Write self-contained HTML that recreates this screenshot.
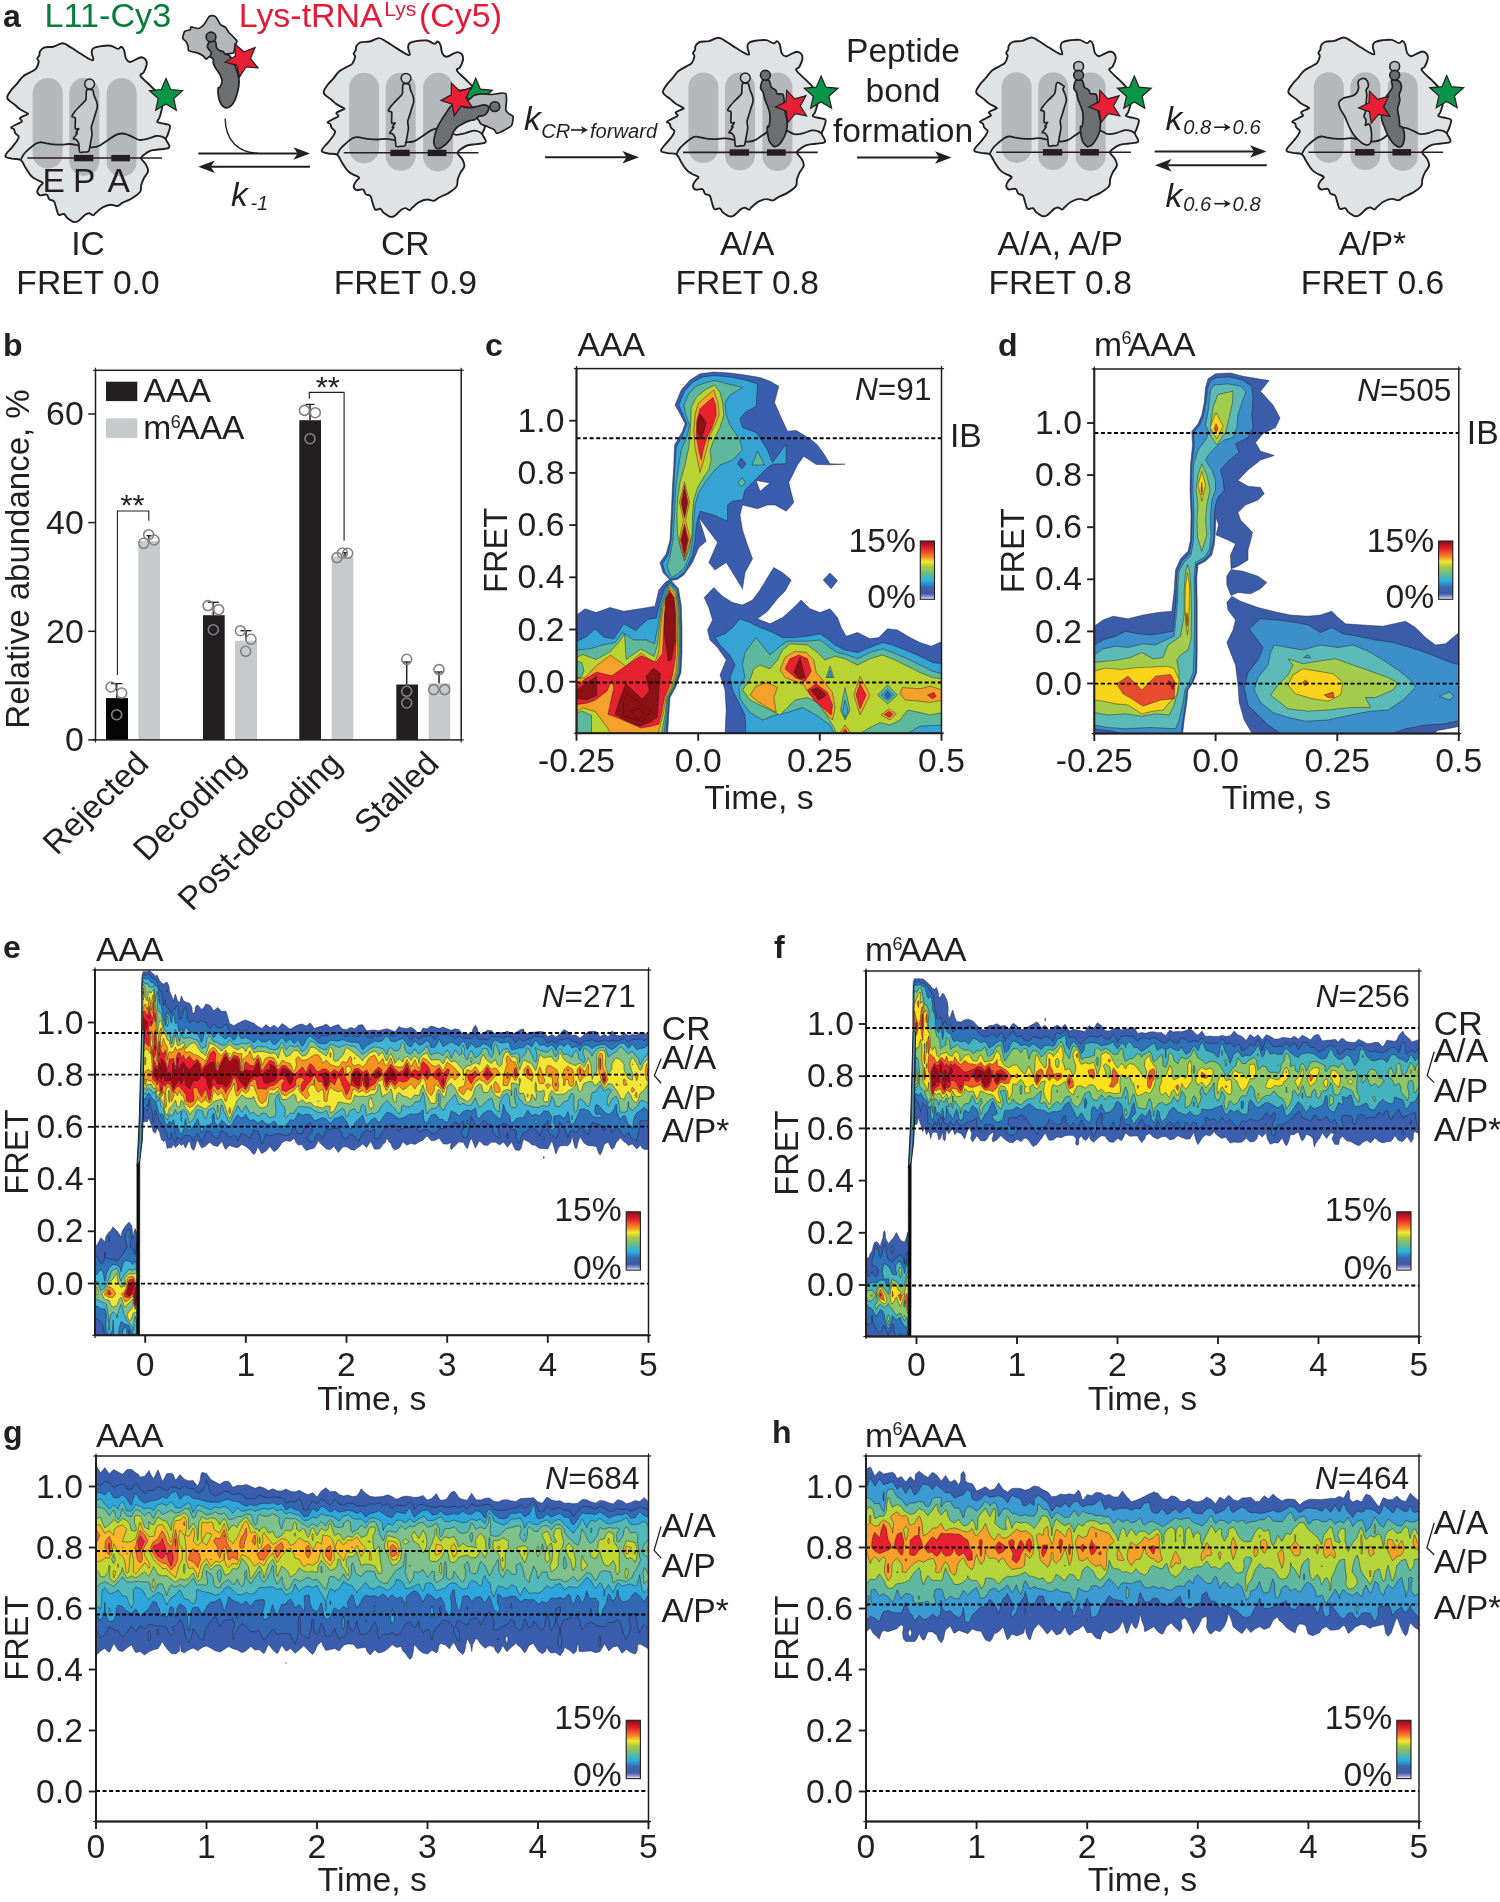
<!DOCTYPE html>
<html lang="en"><head><meta charset="utf-8"><title>Figure</title>
<style>html,body{margin:0;padding:0;background:#fff}svg{display:block;will-change:transform}</style></head>
<body>
<svg width="1500" height="1902" viewBox="0 0 1500 1902" font-family='"Liberation Sans", Arial, Helvetica, sans-serif' fill="#231F20">
<defs><g id="rib">
<path d="M39.3 55.3C39.8 54 39.1 52.8 40 51.3C40.9 49.9 41.6 48.5 44 47.6C46.4 46.7 49.9 47.4 53.3 46.7C56.8 45.9 59.5 43.2 62.7 43.3C65.8 43.5 67.5 45.5 70.7 47.3C73.8 49.2 76.8 51.3 80 53.3C83.2 55.3 85.6 57 88 58.3C90.4 59.5 92.6 61 93.3 60C94 59 91.7 54.8 91.7 52.7C91.7 50.5 91.6 49.5 93.3 48.3C95.1 47.1 98.2 46.6 101.3 46.1C104.5 45.7 107.6 45.2 110.7 45.7C113.7 46.2 116 48.8 118 48.9C120 49.1 120.2 46.5 121.3 46.7C122.4 46.9 123.1 47.8 124 50C124.9 52.2 124.9 56.5 126 58.7C127.1 60.9 128.4 61.8 130 62C131.6 62.2 132.6 60.9 134.7 60C136.7 59.1 139.3 57.4 141.3 57.3C143.3 57.3 144.6 58.3 145.6 59.6C146.6 60.9 147 62.3 146.7 64.7C146.3 67 144.8 70.3 143.7 72.4C142.6 74.5 139.4 73.5 140.7 76C141.9 78.5 147.5 82.7 150.7 86C153.8 89.3 155.9 90.6 158 94C160.1 97.4 161.4 101.5 162 104.7C162.6 107.8 161.8 108.9 161.3 111.3C160.8 113.8 160.1 116 159.3 118C158.6 120 156.2 120.9 157.3 122C158.4 123.1 163 123.3 165.3 124C167.7 124.7 169.6 124 170 126C170.4 128 168.5 132.2 167.7 134.7C167 137.1 165.7 137 166 139.3C166.3 141.7 170.4 145.5 169.3 147.3C168.2 149.2 163.4 148.7 160 149.3C156.6 149.9 153.7 149.6 150.7 150.7C147.6 151.8 145 153.9 143.3 155.3C141.6 156.8 140.8 157 141.3 158.7C141.8 160.4 144.8 162.3 146 164.7C147.2 167 148.4 168.9 148 171.3C147.6 173.8 145.2 175.6 144 178C142.8 180.4 142.1 182.1 141.3 184.7C140.6 187.2 141.8 189.4 140 192C138.2 194.6 134.5 196.7 131.3 198.7C128.2 200.6 125.2 201.3 122.7 202.7C120.1 204 119.5 205.6 117.3 206C115.1 206.4 113.4 204.4 110.7 204.7C108 204.9 105.4 205.9 102.7 207.3C100 208.8 97.7 211.2 96 212.7C94.3 214.1 94.6 215.2 93.3 215.3C92.1 215.5 90.8 213.5 89.3 213.3C87.9 213.2 87.3 213.3 85.3 214.7C83.4 216 80.7 219.3 78.7 220.7C76.6 222 76.1 222.5 74 222C71.9 221.5 69.2 219.5 67.3 218C65.5 216.5 65.6 214.6 64 214C62.4 213.4 60.1 215.9 58.7 214.7C57.2 213.4 56.9 209.8 56 207.3C55.1 204.9 55.2 202.8 54 201.3C52.8 199.9 50.7 200.6 49.3 199.3C48 198.1 48.4 195.4 46.7 194.7C45 193.9 41.7 195.9 40 195.3C38.3 194.7 37.3 193 37.3 191.3C37.3 189.6 39 187.6 40 186C41 184.4 43.4 183.9 42.7 182.7C41.9 181.4 38.2 180.7 36 179.3C33.8 178 32.6 177.5 30.7 175.3C28.7 173.1 27.2 170.1 25.3 167.3C23.5 164.5 23.1 161.6 20.7 160C18.2 158.4 14.8 159.4 12 158.7C9.2 157.9 5.3 158.1 5.3 156C5.3 153.9 9.9 150 12 147.3C14.1 144.6 15.4 143.3 16.7 141.3C17.9 139.4 18.9 138.1 18.7 136.7C18.4 135.2 16.2 134.7 15.3 133.3C14.5 132 14.7 130.4 14 129.3C13.3 128.2 10.7 128.3 11.3 127.3C11.9 126.4 15.4 125.1 17.3 124C19.3 122.9 21.5 122.4 22 121.3C22.5 120.2 19.1 119.2 20 118C20.9 116.8 25.3 115.5 26.7 114.7C28 113.8 28.6 114.3 27.3 113.3C26.1 112.4 22.3 110.9 20 109.3C17.7 107.7 17 106.7 14.7 104.7C12.3 102.6 7.9 100.7 7.3 98C6.7 95.3 9.5 92.7 11.3 90C13.2 87.3 15.3 85.8 17.3 83.3C19.4 80.9 20.2 78.7 22.7 76.7C25.1 74.6 28.2 73.5 30.7 72C33.1 70.5 34.5 70.5 36 68.7C37.5 66.8 38.4 63.8 38.7 62C38.9 60.2 37.2 59.9 37.3 58.7C37.5 57.4 38.8 56.7 39.3 55.3Z" fill="#E0E3E4" stroke="#231F20" stroke-width="1.9" stroke-linejoin="round"/>
<rect x="32.7" y="78" width="30" height="90.7" rx="15" fill="#B4B8BA"/>
<rect x="69.3" y="78" width="30" height="98" rx="15" fill="#B4B8BA"/>
<rect x="106.7" y="78" width="30" height="98.7" rx="15" fill="#B4B8BA"/>
<path d="M20.7 160C21.3 158.8 22.4 156.1 24 154C25.6 151.9 26.4 151.3 28.7 149.3C30.9 147.3 33.1 145.4 35.3 144C37.6 142.6 38 142.5 40 142.3C42 142.1 42.7 142.6 45.3 143.1C48 143.5 50.1 144.1 53.3 144.4C56.5 144.7 58.1 144.7 61.3 144.7C64.5 144.6 66.4 143.9 69.3 144C72.3 144.1 73.1 144.3 76 144.9C78.9 145.5 80.8 146.6 84 147.1C87.2 147.5 89.1 147.5 92 147.3C94.9 147.1 95.7 147.3 98.7 146C101.6 144.7 103.5 143 106.7 140.9C109.9 138.9 111.7 137.1 114.7 135.6C117.6 134.1 118.7 133.6 121.3 133.5C124 133.3 125.3 133.9 128 134.8C130.7 135.7 132.3 137 134.7 138C137.1 139 137.3 139.9 140 140C142.7 140.1 144.8 139.5 148 138.7C151.2 137.9 153.2 136.4 156 136C158.8 135.6 160 136 162 136.7C164 137.3 165.2 138.8 166 139.3" fill="none" stroke="#231F20" stroke-width="1.8"/>
<line x1="27.3" y1="158" x2="162" y2="158" stroke="#231F20" stroke-width="1.6"/>
<rect x="74" y="154.9" width="19.3" height="6.4" fill="#231F20"/>
<rect x="111.3" y="154.9" width="18.7" height="6.4" fill="#231F20"/>
</g>
<g id="ptrna">
<path d="M79.7 152C79.1 151 79.1 144.8 78.7 143.3C78.2 141.9 76.6 139.9 76 139.3C75.4 138.8 73.2 139.4 73.3 138.7C73.5 138 77 134 77.3 133.3C77.6 132.6 75.8 133.2 76 132.7C76.2 132.1 78.7 129.1 78.7 128.7C78.6 128.2 75.7 129.9 75.3 128.7C74.9 127.4 75.7 119.4 75.3 118C74.9 116.6 72.2 117.3 72 116.7C71.8 116 73.2 113.8 74 112.7C74.8 111.6 77.6 108.5 78.7 107.3C79.8 106.2 82.5 103.6 83.3 102.7C84.2 101.7 85.6 100.8 86 99.3C86.4 97.9 85.9 91.1 86.7 90C87.4 88.9 91.8 89.4 92.7 90C93.5 90.6 93.5 93.9 94 95.3C94.5 96.7 96.3 100.6 96.7 102C97.1 103.4 97.5 105.9 97.3 107.3C97.2 108.7 95.8 112.4 95.3 114C94.9 115.6 93.8 119.1 93.3 120.7C92.9 122.2 91.5 125.8 91.3 127.3C91.2 128.9 92.1 132.3 92 134C91.9 135.7 91.1 140 90.7 142C90.3 144 89.4 150.2 88.7 151.3C87.9 152.5 85 151.9 84 152C83 152.1 80.4 153 79.7 152Z" fill="#C8CBCC" stroke="#231F20" stroke-width="1.7" stroke-linejoin="round"/>
<circle cx="89.6" cy="84" r="4.9" fill="#C8CBCC" stroke="#231F20" stroke-width="1.5"/>
</g></defs>
<text transform="translate(3 27) scale(1.035 1)" font-size="31" font-weight="bold">a</text>
<text transform="translate(44.6 27) scale(1.035 1)" font-size="33" fill="#0B7A3D">L11-Cy3</text>
<text transform="translate(238.8 27) scale(1.035 1)" font-size="32.8" fill="#E31B37">Lys-tRNA<tspan font-size="20.5" dy="-11.5" dx="1.5">Lys</tspan><tspan dy="11.5" dx="2.5">(Cy5)</tspan></text>
<use href="#rib"/>
<use href="#ptrna"/>
<polygon points="166,78.5 170.7,89.5 182.6,90.6 173.7,98.5 176.3,110.2 166,104 155.7,110.2 158.3,98.5 149.4,90.6 161.3,89.5" fill="#0A9648" stroke="#231F20" stroke-width="1.2" stroke-linejoin="miter"/>
<text transform="translate(53.6 192) scale(1.035 1)" font-size="32.5" text-anchor="middle">E</text>
<text transform="translate(84.3 192) scale(1.035 1)" font-size="32.5" text-anchor="middle">P</text>
<text transform="translate(118.7 192) scale(1.035 1)" font-size="32.5" text-anchor="middle">A</text>
<path d="M209.1 16.6C208.2 17.5 205.1 23.3 204 24.5C202.9 25.7 199.6 28.3 198.3 28.5C197 28.7 191.8 26.7 191 26.8C190.2 26.9 191 29.2 190.4 29.6C189.8 30.1 185.5 30.5 184.7 31.3C184 32.2 182.6 37.1 182.7 38.1C182.8 39.2 185.3 40.7 185.9 41.5C186.4 42.3 187.8 45.2 188.1 46.1C188.4 47 187.8 49.9 188.7 50.6C189.6 51.3 195.8 52.4 197.2 52.9C198.6 53.4 202 55.1 202.9 55.7C203.8 56.3 205.6 59 206.3 59.1C206.9 59.2 208 57 209.1 56.8C210.2 56.7 215.8 57.7 217.6 57.4C219.4 57.1 225.1 54.5 226.7 54C228.3 53.5 232.6 53.7 233.5 52.9C234.3 52.1 234.8 47.3 235.2 46.1C235.5 44.9 237 41.9 236.9 41C236.7 40.1 234.3 37.8 233.5 37C232.7 36.1 229.7 33.4 228.9 32.5C228.1 31.5 226.4 28.2 225.5 27.4C224.7 26.6 221.3 25.5 220.4 24.5C219.5 23.6 217.2 18.6 216.5 17.7C215.7 16.8 213.8 15.8 213.1 15.7C212.3 15.6 210 15.7 209.1 16.6Z" fill="#B4B8BA" stroke="#231F20" stroke-width="1.7" stroke-linejoin="round"/>
<path d="M208.5 42.7C208.2 43.4 207.3 46.4 207.4 47.2C207.5 48 208.6 48.8 209.1 49.5C209.6 50.1 211.2 52.1 211.4 52.9C211.5 53.7 210 55.5 210.2 56.3C210.5 57.1 213.3 58.9 213.6 59.7C214 60.4 212.9 61.6 213.1 62.5C213.3 63.4 214.5 66.2 215.3 67.6C216.1 69 219.1 72.8 219.9 74.4C220.7 76 222.1 79.7 222.1 81.2C222.1 82.7 220.3 86.6 219.9 87.4C219.4 88.2 218.4 87.1 218.2 88C218 88.9 218 93.2 218.2 94.8C218.4 96.4 219.3 100.3 219.9 101.6C220.4 102.9 221.9 105.4 222.7 106.1C223.5 106.9 225.7 107.9 226.7 107.8C227.7 107.8 230.2 106.6 231.2 105.6C232.2 104.6 234.4 101.1 235.2 99.3C236 97.5 237.5 92.4 238 90.3C238.5 88.1 239.1 83 239.1 81.2C239.1 79.3 238.4 76 238 74.4C237.6 72.8 236.3 69.1 235.7 67.6C235.2 66.1 234.3 63.4 233.5 61.9C232.7 60.5 229.9 56.1 228.9 55.1C227.9 54.2 225.6 54.4 225 54C224.3 53.6 224 52.2 223.3 51.7C222.5 51.3 219.5 50.6 218.7 50C217.9 49.5 216.8 48.1 216.5 47.2C216.1 46.3 216.1 43.4 215.9 42.7C215.7 41.9 215.4 41.2 214.8 41C214.1 40.8 211 40.8 210.2 41C209.5 41.2 208.9 41.9 208.5 42.7Z" fill="#6D6F72" stroke="#231F20" stroke-width="1.7" stroke-linejoin="round"/>
<circle cx="211" cy="37" r="4.9" fill="#6D6F72" stroke="#231F20" stroke-width="1.6"/>
<polygon points="234.8,44 243.9,51.8 255.1,47.5 250.5,58.6 258,67.9 246,66.9 239.5,76.9 236.7,65.3 225.2,62.1 235.4,55.9" fill="#E81F35" stroke="#231F20" stroke-width="1.2" stroke-linejoin="miter"/>
<path d="M225.2 118.6 C225.2 140 238 152.6 258 153.3" fill="none" stroke="#231F20" stroke-width="1.4"/>
<line x1="198.3" y1="153.5" x2="297.5" y2="153.5" stroke="#231F20" stroke-width="1.9"/><polygon points="310,153.5 293.5,147.2 297.5,153.5 293.5,159.8" fill="#231F20"/>
<line x1="310" y1="166.8" x2="210.8" y2="166.8" stroke="#231F20" stroke-width="1.9"/><polygon points="198.3,166.8 214.8,160.5 210.8,166.8 214.8,173.1" fill="#231F20"/>
<text transform="translate(231 206.4) scale(1.035 1)" font-size="32.5" font-style="italic">k<tspan font-size="19.5" dy="4" dx="2.5">-1</tspan></text>
<use href="#rib" transform="translate(316.4,-5.2)"/>
<use href="#ptrna" transform="translate(316.4,-5.7)"/>
<polygon points="475.7,78.2 480.4,89.2 492.3,90.3 483.4,98.2 486,109.9 475.7,103.8 465.4,109.9 468,98.2 459.1,90.3 471,89.2" fill="#0A9648" stroke="#231F20" stroke-width="1.2" stroke-linejoin="miter"/>
<path d="M465.5 103.3C465.3 102 469 99.7 469.9 98.9C470.8 98.1 473.1 95.8 474.3 95.3C475.4 94.8 479.8 93.9 481.6 93.8C483.4 93.7 490 94.6 491.9 94.5C493.8 94.5 499.3 93.1 500.7 93.1C502.1 93 505.2 93.1 505.8 93.8C506.4 94.5 506.5 98.8 506.5 100.4C506.5 102 505.6 108.6 505.8 109.9C506 111.3 508 112.9 508.7 113.6C509.5 114.3 512.8 115.4 513.1 116.5C513.4 117.7 512.5 124 511.7 125.3C510.9 126.7 506.5 128.9 505.1 129.7C503.6 130.5 498.1 133.4 497 133.4C495.9 133.4 495.2 130.5 494.1 129.7C493 129 487.3 126.7 486 126.1C484.7 125.5 481.6 124.5 480.9 123.9C480.1 123.3 479.6 121.4 478.7 120.2C477.7 119 472.7 113.8 471.3 112.1C470 110.4 465.6 104.7 465.5 103.3Z" fill="#B4B8BA" stroke="#231F20" stroke-width="1.7" stroke-linejoin="round"/>
<path d="M433.9 142.9C433.7 141.3 434.2 137.8 434.7 135.6C435.2 133.5 436.5 129.1 437.6 126.8C438.7 124.5 441.5 120.1 442.7 118C444 115.9 446.1 113 447.1 111.4C448.2 109.8 449.5 107.3 450.8 106.3C452.1 105.2 454.9 103.2 456.7 103.3C458.4 103.4 462.2 106.4 464 107C465.8 107.6 468.1 107.8 469.9 107.7C471.6 107.6 475.3 106.7 477.2 106.3C479.1 105.9 482.3 104.8 483.8 104.8C485.3 104.8 487.6 105.5 488.2 106.3C488.8 107.1 488.7 109.5 488.2 110.7C487.7 111.8 485.8 114.3 484.5 115.1C483.3 115.9 479.9 115.9 478.7 116.5C477.4 117.1 476.3 118.9 475 119.5C473.7 120.1 470.8 120.3 469.1 120.9C467.5 121.5 464.2 123 462.5 123.9C460.9 124.7 457.9 126.4 456.7 127.5C455.4 128.7 453.8 131.2 453 132.7C452.2 134.1 451.8 137 450.8 138.5C449.8 140.1 447 143.1 445.7 144.4C444.3 145.7 441.8 147.6 440.5 148.1C439.3 148.6 437 148.8 436.1 148.1C435.3 147.4 434.1 144.6 433.9 142.9Z" fill="#6D6F72" stroke="#231F20" stroke-width="1.7" stroke-linejoin="round"/>
<circle cx="494.8" cy="106.6" r="4.9" fill="#6D6F72" stroke="#231F20" stroke-width="1.6"/>
<polygon points="451.4,83.1 459.9,91.2 471.1,87.6 466,98.2 472.8,107.8 461.2,106.2 454.2,115.7 452.1,104.1 441,100.4 451.3,94.8" fill="#E81F35" stroke="#231F20" stroke-width="1.2" stroke-linejoin="miter"/>
<text transform="translate(524 130) scale(1.035 1)" font-size="32.5" font-style="italic">k</text><text transform="translate(541.3 137.5) scale(1.035 1)" font-size="19.5" font-style="italic">CR</text><text transform="translate(590 137.5) scale(1.035 1)" font-size="19.5" font-style="italic">forward</text>
<line x1="571" y1="130" x2="584" y2="130" stroke="#231F20" stroke-width="1.6"/><polygon points="588,130 580.8,126 583,130 580.8,134" fill="#231F20"/>
<line x1="545" y1="157.2" x2="626.5" y2="157.2" stroke="#231F20" stroke-width="1.9"/><polygon points="639,157.2 622.5,150.9 626.5,157.2 622.5,163.5" fill="#231F20"/>
<use href="#rib" transform="translate(655.7,-5.6)"/>
<use href="#ptrna" transform="translate(655.7,-6.1)"/>
<path d="M762.5 80.6C761.5 81.5 760.5 86.6 760.6 87.9C760.6 89.3 762.7 91.1 763.2 92.3C763.7 93.6 764.2 97.3 764.7 98.9C765.2 100.6 767 104.6 767.6 106.3C768.2 108 769.6 111.3 769.8 113.6C770 115.9 769.4 124.5 769.1 126.1C768.8 127.6 767.4 125.7 767.3 126.8C767.2 127.9 767.6 133.8 767.9 135.6C768.2 137.4 769.1 140.9 769.8 142.2C770.5 143.5 773.1 146.3 774.2 146.6C775.3 146.9 778.1 145.6 779.3 144.4C780.5 143.2 783.6 138 784.5 136.3C785.3 134.6 786.4 131.5 786.7 129.7C787 127.9 787.3 123 787.1 120.9C786.9 118.9 785.5 114.2 785.2 112.1C784.9 110.1 784.7 105.4 784.5 103.3C784.2 101.3 783.9 95.6 783 94.5C782.1 93.4 778 94.3 777.1 93.8C776.3 93.3 776.4 90.9 775.7 90.1C775 89.4 772 88.3 771.3 87.2C770.5 86.1 770.1 81.4 769.1 80.6C768 79.8 763.5 79.7 762.5 80.6Z" fill="#6D6F72" stroke="#231F20" stroke-width="1.7" stroke-linejoin="round"/>
<circle cx="765.4" cy="75.3" r="4.9" fill="#6D6F72" stroke="#231F20" stroke-width="1.6"/>
<polygon points="786.7,90.3 794.7,98.8 805.9,95.8 800.3,106 806.6,115.8 795.2,113.6 787.8,122.6 786.3,111.1 775.5,106.9 786,101.9" fill="#E81F35" stroke="#231F20" stroke-width="1.2" stroke-linejoin="miter"/>
<polygon points="821.1,76 825.9,87.2 838,88.3 828.9,96.3 831.6,108.2 821.1,102 810.6,108.2 813.3,96.3 804.2,88.3 816.3,87.2" fill="#0A9648" stroke="#231F20" stroke-width="1.2" stroke-linejoin="miter"/>
<use href="#rib" transform="translate(968.9,-5.8)"/>
<path d="M79.7 152C79.1 151 79.1 144.8 78.7 143.3C78.2 141.9 76.6 139.9 76 139.3C75.4 138.8 73.2 139.4 73.3 138.7C73.5 138 77 134 77.3 133.3C77.6 132.6 75.8 133.2 76 132.7C76.2 132.1 78.7 129.1 78.7 128.7C78.6 128.2 75.7 129.9 75.3 128.7C74.9 127.4 75.7 119.4 75.3 118C74.9 116.6 72.2 117.3 72 116.7C71.8 116 73.2 113.8 74 112.7C74.8 111.6 77.6 108.5 78.7 107.3C79.8 106.2 82.5 103.6 83.3 102.7C84.2 101.7 85.5 100.7 86 99.3C86.5 97.9 87 91.9 87.3 90.7C87.7 89.4 88.1 88.4 89.1 88.7C90 88.9 94.8 91.9 95.3 92.7C95.9 93.4 93.8 94.2 94 95.3C94.2 96.4 96.3 100.6 96.7 102C97.1 103.4 97.5 105.9 97.3 107.3C97.2 108.7 95.8 112.4 95.3 114C94.9 115.6 93.8 119.1 93.3 120.7C92.9 122.2 91.5 125.8 91.3 127.3C91.2 128.9 92.1 132.3 92 134C91.9 135.7 91.1 140 90.7 142C90.3 144 89.4 150.2 88.7 151.3C87.9 152.5 85 151.9 84 152C83 152.1 80.4 153 79.7 152Z" fill="#C8CBCC" stroke="#231F20" stroke-width="1.7" stroke-linejoin="round" transform="translate(968.9,-6.3)"/>
<path d="M1075.7 80.6C1074.7 81.5 1073.7 86.6 1073.8 87.9C1073.8 89.3 1075.9 91.1 1076.4 92.3C1076.9 93.6 1077.4 97.3 1077.9 98.9C1078.4 100.6 1080.2 104.6 1080.8 106.3C1081.4 108 1082.8 111.3 1083 113.6C1083.2 115.9 1082.6 124.5 1082.3 126.1C1082 127.6 1080.6 125.7 1080.5 126.8C1080.4 127.9 1080.8 133.8 1081.1 135.6C1081.4 137.4 1082.3 140.9 1083 142.2C1083.7 143.5 1086.3 146.3 1087.4 146.6C1088.5 146.9 1091.3 145.6 1092.5 144.4C1093.7 143.2 1096.8 138 1097.7 136.3C1098.5 134.6 1099.6 131.5 1099.9 129.7C1100.2 127.9 1100.5 123 1100.3 120.9C1100.1 118.9 1098.7 114.2 1098.4 112.1C1098.1 110.1 1097.9 105.4 1097.7 103.3C1097.4 101.3 1097.1 95.6 1096.2 94.5C1095.3 93.4 1091.2 94.3 1090.3 93.8C1089.5 93.3 1089.6 90.9 1088.9 90.1C1088.2 89.4 1085.2 88.3 1084.5 87.2C1083.7 86.1 1083.3 81.4 1082.3 80.6C1081.2 79.8 1076.7 79.7 1075.7 80.6Z" fill="#6D6F72" stroke="#231F20" stroke-width="1.7" stroke-linejoin="round"/>
<circle cx="1078.6" cy="66.4" r="4.9" fill="#B4B8BA" stroke="#231F20" stroke-width="1.6"/>
<circle cx="1078.6" cy="75.3" r="4.9" fill="#6D6F72" stroke="#231F20" stroke-width="1.6"/>
<polygon points="1099.9,90.3 1107.9,98.8 1119.1,95.8 1113.5,106 1119.8,115.8 1108.4,113.6 1101,122.6 1099.5,111.1 1088.7,106.9 1099.2,101.9" fill="#E81F35" stroke="#231F20" stroke-width="1.2" stroke-linejoin="miter"/>
<polygon points="1134.3,76 1139.1,87.2 1151.2,88.3 1142.1,96.3 1144.8,108.2 1134.3,102 1123.8,108.2 1126.5,96.3 1117.4,88.3 1129.5,87.2" fill="#0A9648" stroke="#231F20" stroke-width="1.2" stroke-linejoin="miter"/>
<text transform="translate(903 62) scale(1.035 1)" font-size="32.5" text-anchor="middle">Peptide</text>
<text transform="translate(903 102) scale(1.035 1)" font-size="32.5" text-anchor="middle">bond</text>
<text transform="translate(903 142) scale(1.035 1)" font-size="32.5" text-anchor="middle">formation</text>
<line x1="857" y1="157.5" x2="939" y2="157.5" stroke="#231F20" stroke-width="1.9"/><polygon points="951.5,157.5 935,151.2 939,157.5 935,163.8" fill="#231F20"/>
<line x1="1154.7" y1="151.5" x2="1254" y2="151.5" stroke="#231F20" stroke-width="1.9"/><polygon points="1266.5,151.5 1250,145.2 1254,151.5 1250,157.8" fill="#231F20"/>
<line x1="1266.8" y1="165.3" x2="1167.5" y2="165.3" stroke="#231F20" stroke-width="1.9"/><polygon points="1155,165.3 1171.5,159 1167.5,165.3 1171.5,171.6" fill="#231F20"/>
<text transform="translate(1165.5 130) scale(1.035 1)" font-size="32.5" font-style="italic">k</text><text transform="translate(1183.3 134.2) scale(1.035 1)" font-size="19.5" font-style="italic">0.8</text><text transform="translate(1232.6 134.2) scale(1.035 1)" font-size="19.5" font-style="italic">0.6</text>
<line x1="1214.2" y1="127.2" x2="1226.8" y2="127.2" stroke="#231F20" stroke-width="1.6"/><polygon points="1230.8,127.2 1223.6,123.2 1225.8,127.2 1223.6,131.2" fill="#231F20"/>
<text transform="translate(1165.5 206.5) scale(1.035 1)" font-size="32.5" font-style="italic">k</text><text transform="translate(1183.3 211) scale(1.035 1)" font-size="19.5" font-style="italic">0.6</text><text transform="translate(1232.6 211) scale(1.035 1)" font-size="19.5" font-style="italic">0.8</text>
<line x1="1214.2" y1="203.7" x2="1226.8" y2="203.7" stroke="#231F20" stroke-width="1.6"/><polygon points="1230.8,203.7 1223.6,199.7 1225.8,203.7 1223.6,207.7" fill="#231F20"/>
<use href="#rib" transform="translate(1281.1,-5.8)"/>
<path d="M1359.5 79.9C1360.3 79.3 1362.8 78.2 1363.9 78.4C1364.9 78.6 1366.9 80.3 1367.5 81.3C1368.1 82.4 1368.5 85.3 1368.3 86.5C1368.1 87.6 1366.3 89.1 1366.1 90.1C1365.9 91.2 1366.8 92.8 1366.8 94.5C1366.8 96.3 1366.3 101 1366.1 103.3C1365.9 105.7 1365.6 110.4 1365.3 112.1C1365 113.9 1363.8 115.5 1363.9 116.5C1364 117.6 1365.9 119 1366.1 120.2C1366.3 121.4 1365 124.8 1365.3 125.3C1365.6 125.8 1367.6 123.7 1368.3 123.9C1369 124.1 1370 125.2 1370.5 126.8C1370.9 128.4 1371.6 133.5 1371.6 135.6C1371.6 137.8 1371.1 141.7 1370.5 142.9C1369.8 144.2 1368.1 145.2 1366.8 145.1C1365.5 145 1362.6 143.5 1360.9 142.2C1359.3 140.9 1355.9 137.7 1354.3 135.6C1352.8 133.5 1350.5 129.3 1349.2 126.8C1347.9 124.3 1346 118.9 1344.8 116.5C1343.6 114.2 1341.2 111.1 1340.4 109.2C1339.6 107.3 1338.5 104.1 1338.9 102.6C1339.3 101.1 1341.6 99.1 1343.3 98.2C1345.1 97.3 1350.4 96.7 1352.1 96C1353.9 95.3 1355.7 94.1 1356.5 93.1C1357.4 92 1358.5 89.3 1358.7 87.9C1358.9 86.6 1357.9 83.9 1358 82.8C1358.1 81.7 1358.7 80.5 1359.5 79.9Z" fill="#C8CBCC" stroke="#231F20" stroke-width="1.7" stroke-linejoin="round"/>
<path d="M1391.7 80.6C1391.1 81.5 1392.8 85.6 1392.5 87.2C1392.2 88.8 1390.3 91.2 1389.5 92.3C1388.8 93.5 1387.1 94.9 1386.6 96C1386.1 97.1 1386.4 98.6 1385.9 100.4C1385.4 102.2 1383.5 106.9 1382.9 109.2C1382.3 111.5 1381.4 115.9 1381.5 118C1381.6 120.2 1382.9 123.2 1383.7 125.3C1384.5 127.5 1386.3 132 1387.3 134.1C1388.4 136.3 1390.4 139.8 1391.7 141.5C1393.1 143.1 1396.2 146 1397.6 146.6C1399 147.2 1401.1 146.7 1402 145.9C1402.9 145 1403.9 141.8 1404.2 140C1404.5 138.2 1404.5 134.4 1404.2 132.7C1403.9 130.9 1402.6 127.7 1402 126.8C1401.4 125.9 1400.2 127.2 1399.8 126.1C1399.4 124.9 1399.4 120.3 1399.1 118C1398.8 115.8 1397.5 111.5 1397.6 109.2C1397.7 106.9 1399.6 102.4 1399.8 100.4C1400 98.4 1398.9 96.1 1399.1 94.5C1399.3 93 1401.1 90.2 1401.3 88.7C1401.5 87.1 1401 83.9 1400.5 82.8C1400 81.7 1398.8 80.9 1397.6 80.6C1396.4 80.3 1392.4 79.7 1391.7 80.6Z" fill="#6D6F72" stroke="#231F20" stroke-width="1.7" stroke-linejoin="round"/>
<circle cx="1394.7" cy="66.4" r="4.9" fill="#B4B8BA" stroke="#231F20" stroke-width="1.6"/>
<circle cx="1394.7" cy="75.3" r="4.9" fill="#6D6F72" stroke="#231F20" stroke-width="1.6"/>
<polygon points="1369.5,91.1 1377.6,99.4 1388.8,96.3 1383.4,106.6 1389.9,116.3 1378.4,114.3 1371.2,123.4 1369.5,111.9 1358.6,107.9 1369,102.7" fill="#E81F35" stroke="#231F20" stroke-width="1.2" stroke-linejoin="miter"/>
<polygon points="1446.7,75.5 1451.5,86.7 1463.6,87.8 1454.5,95.8 1457.2,107.7 1446.7,101.5 1436.2,107.7 1438.9,95.8 1429.8,87.8 1441.9,86.7" fill="#0A9648" stroke="#231F20" stroke-width="1.2" stroke-linejoin="miter"/>
<text transform="translate(88 255) scale(1.035 1)" font-size="32.5" text-anchor="middle">IC</text>
<text transform="translate(88 294) scale(1.035 1)" font-size="32.5" text-anchor="middle">FRET 0.0</text>
<text transform="translate(405.3 255) scale(1.035 1)" font-size="32.5" text-anchor="middle">CR</text>
<text transform="translate(405.3 294) scale(1.035 1)" font-size="32.5" text-anchor="middle">FRET 0.9</text>
<text transform="translate(747.2 255) scale(1.035 1)" font-size="32.5" text-anchor="middle">A/A</text>
<text transform="translate(747.2 294) scale(1.035 1)" font-size="32.5" text-anchor="middle">FRET 0.8</text>
<text transform="translate(1060.2 255) scale(1.035 1)" font-size="32.5" text-anchor="middle">A/A, A/P</text>
<text transform="translate(1060.2 294) scale(1.035 1)" font-size="32.5" text-anchor="middle">FRET 0.8</text>
<text transform="translate(1372.5 255) scale(1.035 1)" font-size="32.5" text-anchor="middle">A/P*</text>
<text transform="translate(1372.5 294) scale(1.035 1)" font-size="32.5" text-anchor="middle">FRET 0.6</text>
<text transform="translate(3 356.2) scale(1.035 1)" font-size="31" font-weight="bold">b</text>
<rect x="106" y="698.1" width="22" height="41.8" fill="#050505"/>
<rect x="138.3" y="541.1" width="21.7" height="198.8" fill="#C7CACB"/>
<rect x="203" y="615.2" width="21.7" height="124.7" fill="#231F20"/>
<rect x="235" y="640.8" width="22" height="99.1" fill="#C7CACB"/>
<rect x="299.3" y="420.2" width="21.7" height="319.7" fill="#231F20"/>
<rect x="331.7" y="556.6" width="21.6" height="183.3" fill="#C7CACB"/>
<rect x="396.3" y="684.5" width="21.7" height="55.4" fill="#231F20"/>
<rect x="428.7" y="683.4" width="21.5" height="56.5" fill="#C7CACB"/>
<line x1="116.7" y1="683.6" x2="116.7" y2="698" stroke="#231F20" stroke-width="1.5"/>
<line x1="111" y1="683.6" x2="122.4" y2="683.6" stroke="#231F20" stroke-width="1.3"/>
<line x1="148.7" y1="535.6" x2="148.7" y2="541" stroke="#231F20" stroke-width="1.5"/>
<line x1="146.5" y1="535.6" x2="150.9" y2="535.6" stroke="#231F20" stroke-width="1.3"/>
<line x1="213.3" y1="602.3" x2="213.3" y2="615" stroke="#231F20" stroke-width="1.5"/>
<line x1="207.7" y1="602.3" x2="218.9" y2="602.3" stroke="#231F20" stroke-width="1.3"/>
<line x1="246" y1="630.7" x2="246" y2="640.7" stroke="#231F20" stroke-width="1.5"/>
<line x1="240.4" y1="630.7" x2="251.6" y2="630.7" stroke="#231F20" stroke-width="1.3"/>
<line x1="310" y1="404.4" x2="310" y2="420" stroke="#231F20" stroke-width="1.5"/>
<line x1="305.5" y1="404.4" x2="314.5" y2="404.4" stroke="#231F20" stroke-width="1.3"/>
<line x1="345" y1="552.7" x2="345" y2="556.7" stroke="#231F20" stroke-width="1.5"/>
<line x1="343" y1="552.7" x2="347" y2="552.7" stroke="#231F20" stroke-width="1.3"/>
<line x1="406.7" y1="662" x2="406.7" y2="684.4" stroke="#231F20" stroke-width="1.5"/>
<line x1="402.7" y1="662" x2="410.7" y2="662" stroke="#231F20" stroke-width="1.3"/>
<line x1="439" y1="672" x2="439" y2="683.3" stroke="#231F20" stroke-width="1.5"/>
<line x1="435" y1="672" x2="443" y2="672" stroke="#231F20" stroke-width="1.3"/>
<circle cx="111" cy="687" r="5.0" fill="none" stroke="#808285" stroke-width="1.6"/>
<circle cx="121.7" cy="693" r="5.0" fill="none" stroke="#808285" stroke-width="1.6"/>
<circle cx="116.7" cy="714.7" r="5.0" fill="none" stroke="#808285" stroke-width="1.6"/>
<circle cx="148.7" cy="534.7" r="5.0" fill="none" stroke="#808285" stroke-width="1.6"/>
<circle cx="154" cy="540" r="5.0" fill="none" stroke="#808285" stroke-width="1.6"/>
<circle cx="143.7" cy="543.3" r="5.0" fill="none" stroke="#808285" stroke-width="1.6"/>
<circle cx="208" cy="605.6" r="5.0" fill="none" stroke="#808285" stroke-width="1.6"/>
<circle cx="218.7" cy="609.6" r="5.0" fill="none" stroke="#808285" stroke-width="1.6"/>
<circle cx="213.3" cy="629.7" r="5.0" fill="none" stroke="#808285" stroke-width="1.6"/>
<circle cx="240.4" cy="630.7" r="5.0" fill="none" stroke="#808285" stroke-width="1.6"/>
<circle cx="251" cy="639.3" r="5.0" fill="none" stroke="#808285" stroke-width="1.6"/>
<circle cx="245.7" cy="651.3" r="5.0" fill="none" stroke="#808285" stroke-width="1.6"/>
<circle cx="304.4" cy="410.4" r="5.0" fill="none" stroke="#808285" stroke-width="1.6"/>
<circle cx="315.3" cy="412.7" r="5.0" fill="none" stroke="#808285" stroke-width="1.6"/>
<circle cx="310" cy="438.7" r="5.0" fill="none" stroke="#808285" stroke-width="1.6"/>
<circle cx="337" cy="557.6" r="5.0" fill="none" stroke="#808285" stroke-width="1.6"/>
<circle cx="342.4" cy="553" r="5.0" fill="none" stroke="#808285" stroke-width="1.6"/>
<circle cx="347.7" cy="553.3" r="5.0" fill="none" stroke="#808285" stroke-width="1.6"/>
<circle cx="406.7" cy="659.3" r="5.0" fill="none" stroke="#808285" stroke-width="1.6"/>
<circle cx="406.7" cy="691.3" r="5.0" fill="none" stroke="#808285" stroke-width="1.6"/>
<circle cx="406.7" cy="703" r="5.0" fill="none" stroke="#808285" stroke-width="1.6"/>
<circle cx="439" cy="669.6" r="5.0" fill="none" stroke="#808285" stroke-width="1.6"/>
<circle cx="433.7" cy="689.6" r="5.0" fill="none" stroke="#808285" stroke-width="1.6"/>
<circle cx="444.7" cy="689.6" r="5.0" fill="none" stroke="#808285" stroke-width="1.6"/>
<path d="M117.4 675 V511 H148.8 V520.7" fill="none" stroke="#231F20" stroke-width="1.1"/>
<path d="M309.3 398.7 V392.4 H344.1 V540.7" fill="none" stroke="#231F20" stroke-width="1.1"/>
<text transform="translate(132.5 515) scale(1.035 1)" font-size="30" text-anchor="middle">**</text>
<text transform="translate(327.8 396.5) scale(1.035 1)" font-size="30" text-anchor="middle">**</text>
<rect x="95.5" y="370.3" width="365.7" height="369.6" fill="none" stroke="#231F20" stroke-width="1.5"/>
<line x1="95.5" y1="370.3" x2="92.9" y2="370.3" stroke="#231F20" stroke-width="1.2"/>
<line x1="95.5" y1="370.3" x2="95.5" y2="367.7" stroke="#231F20" stroke-width="1.2"/>
<line x1="461.2" y1="370.3" x2="463.8" y2="370.3" stroke="#231F20" stroke-width="1.2"/>
<line x1="461.2" y1="370.3" x2="461.2" y2="367.7" stroke="#231F20" stroke-width="1.2"/>
<line x1="95.5" y1="739.9" x2="92.9" y2="739.9" stroke="#231F20" stroke-width="1.2"/>
<line x1="95.5" y1="739.9" x2="95.5" y2="742.5" stroke="#231F20" stroke-width="1.2"/>
<line x1="461.2" y1="739.9" x2="463.8" y2="739.9" stroke="#231F20" stroke-width="1.2"/>
<line x1="461.2" y1="739.9" x2="461.2" y2="742.5" stroke="#231F20" stroke-width="1.2"/>
<line x1="88.2" y1="739.9" x2="95.5" y2="739.9" stroke="#231F20" stroke-width="1.5"/>
<text transform="translate(83.8 751.1) scale(1.035 1)" font-size="32.8" text-anchor="end">0</text>
<line x1="88.2" y1="631.3" x2="95.5" y2="631.3" stroke="#231F20" stroke-width="1.5"/>
<text transform="translate(83.8 642.5) scale(1.035 1)" font-size="32.8" text-anchor="end">20</text>
<line x1="88.2" y1="522.6" x2="95.5" y2="522.6" stroke="#231F20" stroke-width="1.5"/>
<text transform="translate(83.8 533.8) scale(1.035 1)" font-size="32.8" text-anchor="end">40</text>
<line x1="88.2" y1="414" x2="95.5" y2="414" stroke="#231F20" stroke-width="1.5"/>
<text transform="translate(83.8 425.2) scale(1.035 1)" font-size="32.8" text-anchor="end">60</text>
<text transform="translate(28.6 559) scale(1.035 1) rotate(-90)" font-size="33" text-anchor="middle">Relative abundance, %</text>
<rect x="106" y="381.7" width="31.3" height="19.4" fill="#231F20"/>
<rect x="106" y="418.3" width="31.3" height="19.7" fill="#C7CACB"/>
<text transform="translate(143.6 402.3) scale(1.035 1)" font-size="32.5">AAA</text>
<text transform="translate(143.3 439) scale(1.035 1)" font-size="32.5">m<tspan font-size="17.5" dy="-11.4" dx="-0.5">6</tspan><tspan dy="11.4" dx="-3.5">AAA</tspan></text>
<text transform="translate(150.5 765.5) scale(1.035 1) rotate(-45)" font-size="32.5" text-anchor="end">Rejected</text>
<text transform="translate(247.5 765.5) scale(1.035 1) rotate(-45)" font-size="32.5" text-anchor="end">Decoding</text>
<text transform="translate(343.8 765.5) scale(1.035 1) rotate(-45)" font-size="32.5" text-anchor="end">Post-decoding</text>
<text transform="translate(440.7 765.5) scale(1.035 1) rotate(-45)" font-size="32.5" text-anchor="end">Stalled</text>
<text transform="translate(485 355.8) scale(1.035 1)" font-size="31" font-weight="bold">c</text>
<text transform="translate(577.5 355.8) scale(1.035 1)" font-size="32.6">AAA</text>
<clipPath id="cp1"><rect x="576.5" y="368.6" width="365" height="364.6"/></clipPath><g clip-path="url(#cp1)"><path d="M576.8 735 L576.8 615 L585 608.8 L596.2 612.5 L610 607.5 L623.8 611.2 L640 608.8 L655 606.2 L658.8 590 L665 582.5 L669.5 579.5 L663 572.5 L660 562.5 L666.2 553.8 L670 540 L671.2 515 L672.5 485 L673.8 465 L674.5 445 L682.5 431.2 L685 423.8 L680 413.8 L675 405 L681.2 390 L690 380 L700 373.8 L713.8 372 L730 373 L745 375 L760 377.5 L770 381.2 L778.8 386.2 L774.5 402.5 L780 415 L787.5 431.2 L796.2 430.5 L810 438.8 L817.5 445 L823.8 453.8 L830 463.8 L845 464.2 L830 464.8 L816.2 464.5 L803.8 456.2 L797.5 465 L793.8 472.5 L788.8 482.5 L791.2 492.5 L793.8 502.5 L786.2 511.2 L775 505 L767.5 505 L757.5 508.8 L742.5 505 L740 515 L742.5 530 L747.5 545 L752.5 558.8 L745 572.5 L742.5 588.8 L732.5 572.5 L726.2 562.5 L715 570 L708.8 562.5 L717.5 542.5 L698.8 517.5 L706.2 541.2 L698.8 547.5 L692.5 562.5 L683.8 575 L677.5 579.5 L671.2 580.5 L678.5 588.8 L681.2 605 L682 627.5 L682 652.5 L681 672.5 L675.5 687.5 L670 697.5 L668.8 715 L667.5 735ZM725 735 L726.2 710 L725 690 L720 675 L726.2 660 L717.5 647.5 L710 640 L707.5 630 L712.5 620 L708.8 607.5 L704.2 597.5 L713.8 587.5 L722.5 596.2 L732.5 602.5 L742.5 605 L752.5 600 L760 590 L767.5 577.5 L773.8 567.5 L782.5 572.5 L791.2 580 L785 591.2 L777.5 598.8 L767.5 611.2 L757.5 618.8 L770 623.8 L782.5 617.5 L792.5 608.8 L801.2 600 L810 608.8 L820 612.5 L830 608.8 L837.5 617.5 L841.2 627.5 L846.2 636.2 L857.5 632.5 L870 638.8 L878.8 637.5 L887.5 628.8 L897.5 630 L910 637.5 L920 642.5 L931.2 646.2 L942.5 641.2 L942.5 735ZM830 573 L837.5 580.5 L831.2 588.8 L823.2 580Z" fill="#3A5DAE" stroke="#1c1c2c" stroke-width="0.45" stroke-linejoin="round"/><path d="M756.2 480.5 L770 483 L760 491.2Z" fill="#fff" stroke="#1c1c2c" stroke-width="0.45" stroke-linejoin="round"/><path d="M576.8 735 L576.8 641.2 L586.2 637 L595 628.8 L603.8 637 L613.8 638.8 L623.8 623.8 L635.5 630.5 L647.5 619.5 L656.2 618 L660 602.5 L664.5 590 L669.5 581.5 L677.5 590 L680 605 L680.8 627.5 L680.8 652.5 L679.8 672.5 L674.5 687.5 L669 697.5 L667.5 715 L665.8 735ZM670 579 L665 572.5 L662.5 563.8 L668 555 L671.2 540 L672.5 515 L673.8 485 L675 465 L676.2 447.5 L683.8 432.5 L687 423.8 L682.5 413.8 L678.8 405 L684.5 391.2 L692.5 382.5 L702.5 377 L713.8 375.5 L730 377 L745 380 L757.5 383.8 L756.2 406.2 L745 412.5 L740 418.8 L742.5 427.5 L756.2 432.5 L761.2 440 L767.5 450 L772.5 462.5 L782.5 448.8 L786.2 444.5 L786.2 463.8 L772.5 464.2 L767.5 467.5 L760 475 L753.8 481.2 L745 490 L742.5 500 L732.5 501.2 L727.5 505 L727.5 521.2 L713.8 515 L700 511.2 L696.2 525 L695 540 L692.5 555 L685 571.2 L677.5 577.5ZM746.2 735 L745 715 L738.8 702.5 L732.5 690 L730 677.5 L735 665 L730 655 L720 645 L715 637.5 L725 633.8 L732.5 627.5 L740 618.8 L750 622.5 L760 627.5 L770 631.2 L782.5 637.5 L795 637.5 L807.5 636.2 L820 633.8 L827.5 638.8 L835 645 L845 650 L857.5 652.5 L870 647.5 L882.5 642.5 L892.5 645 L905 650 L920 656.2 L932.5 662.5 L942.5 663.8 L942.5 735Z" fill="#35A3D4" stroke="#1c1c2c" stroke-width="0.45" stroke-linejoin="round"/><path d="M741.2 458 L745.8 463.8 L742 468.8 L737.5 463.8Z" fill="#3A5DAE" stroke="#1c1c2c" stroke-width="0.45" stroke-linejoin="round"/><path d="M576.8 735 L576.8 650 L590 648.8 L602.5 645 L615 642.5 L622.5 632.5 L633.8 640 L646.2 640 L654.5 643.8 L657.5 627.5 L661.2 605 L666.2 591.2 L669.5 583 L676.5 591.2 L678.8 605 L679.8 627.5 L679.8 652.5 L678.8 672.5 L673.5 687.5 L668 697.5 L666.2 715 L663.8 735ZM671.2 577.5 L667 566.2 L670 556.2 L673 540 L674.5 515 L675.5 490 L678 470 L681.2 450 L687.5 435 L689.5 425 L685.5 413.8 L683.8 405 L688.8 393.8 L696.2 386.2 L706.2 382.5 L715 380.5 L727.5 383.8 L742.5 387.5 L730 395 L725 402.5 L726.2 415 L730 425 L735 432.5 L740 440 L742.5 450 L732.5 460 L720 465 L712.5 472.5 L705 482.5 L698.8 492.5 L695 505 L693.8 520 L692.5 540 L690 555 L683.8 568.8 L676.2 575ZM757.5 451.2 L764.5 465 L752 465ZM742 477.5 L745.5 482.5 L741.2 487 L738 482.5ZM740 698.8 L738.8 687.5 L745 677.5 L742.5 665 L745 652.5 L756.2 637.5 L763.8 647.5 L770 655 L780 646.2 L787.5 641.2 L807.5 641.2 L820 640 L830 647.5 L837.5 652.5 L847.5 655 L857.5 658.8 L870 652.5 L882.5 648.8 L892.5 652.5 L907.5 658.8 L920 665 L932.5 671.2 L942.5 673.8 L942.5 725 L920 726.2 L905 735 L835 735 L830 725 L816.2 715 L802.5 707.5 L787.5 712.5 L775 715 L762.5 720 L750 712.5Z" fill="#5EB89D" stroke="#1c1c2c" stroke-width="0.45" stroke-linejoin="round"/><path d="M576.8 657 L582.8 654.5 L596 659.5 L610.5 651.5 L620 640.8 L624.5 633.8 L626.2 659.5 L641 649 L654.2 656.5 L657.5 644.5 L659.2 628 L662 606.2 L667 592.5 L669.5 585 L675.8 592.5 L677.8 605 L678.8 627.5 L678.8 652.5 L677.5 672.5 L672.5 687.5 L667 697.5 L665 715 L661.2 735 L591.5 735 L591.5 715.5 L582 711 L576.8 713ZM714.5 385 L705 390 L696.2 397.5 L691.2 407.5 L690.5 427.5 L688.8 447.5 L685 465 L680 482.5 L677.5 500 L677 515 L677.5 535 L681.2 550 L684.5 560.5 L688.8 550 L692 535 L692.5 515 L693.8 500 L697.5 487.5 L705 475 L708.8 470 L711.2 460 L710 450 L713.8 440 L720 427.5 L723.8 415 L722.5 402.5 L720 392.5ZM742.5 690 L750 680 L753.8 668.8 L760 665 L770 668.8 L777.5 660 L782.5 650 L790 643.8 L807.5 645 L817.5 652.5 L825 660 L835 656.2 L845 658.8 L857.5 665 L870 658.8 L882.5 655 L895 660 L907.5 666.2 L920 672.5 L932.5 677.5 L942.5 678.8 L942.5 712.5 L930 715 L920 712.5 L907.5 710 L900 720 L890 725 L880 722.5 L870 727.5 L857.5 735 L837.5 735 L832.5 725 L825 712.5 L817.5 702.5 L807.5 697.5 L795 700 L787.5 707.5 L780 715 L770 710 L760 705 L750 700Z" fill="#B9D432" stroke="#1c1c2c" stroke-width="0.45" stroke-linejoin="round"/><path d="M830 666.2 L833.8 677.5 L826.2 677.5ZM845 687.5 L850 710 L845 720 L840.5 710ZM887.5 685 L897.5 695 L887.5 703.8 L877.5 695ZM576.8 661 L582 662.8 L584 671 L580.8 677.5 L576.8 677.5Z" fill="#5EB89D" stroke="#1c1c2c" stroke-width="0.45" stroke-linejoin="round"/><path d="M830 670.5 L832.2 676.8 L827.8 676.8ZM845 700 L848 711.2 L845 717.5 L842.5 711.2ZM887.5 688.8 L893.8 695 L887.5 700.5 L881.2 695Z" fill="#35A3D4" stroke="#1c1c2c" stroke-width="0.45" stroke-linejoin="round"/><path d="M887.5 691.2 L890.8 695 L887.5 698.8 L884.5 695Z" fill="#3A5DAE" stroke="#1c1c2c" stroke-width="0.45" stroke-linejoin="round"/><path d="M576.8 678.8 L585.2 677.5 L596 666 L610.5 655.2 L625.8 666 L641 653.2 L654.8 663.2 L658.8 650.8 L660.5 628 L663 607.5 L667.5 593.8 L669.5 587.5 L675 593.8 L676.8 605 L677.5 627.5 L677.5 652.5 L676 672.5 L671.2 687.5 L666 697.5 L663 715 L657.5 735 L611.8 735 L606.8 726.8 L595.2 711.5 L582.8 707.8 L576.8 711.5ZM713.8 390 L706.2 396.2 L698 403.8 L695 415 L693.8 430 L695 447.5 L700 472.5 L703.8 460 L707 447.5 L710 435 L715 425 L719.2 415 L718 402.5 L715 393.8ZM684.5 482 L689.5 502 L685.5 520.5 L690.5 540 L684.5 560.5 L679 540 L683.5 520.5 L679.5 502ZM750 695 L756.2 686.2 L767.5 682.5 L777.5 687.5 L773.8 697.5 L776.2 712.5 L767.5 707.5 L757.5 701.2ZM780 670 L785 657.5 L795 651.2 L806.2 652.5 L813.8 660 L816.2 672.5 L825 682.5 L832.5 692.5 L835 707.5 L832.5 720 L825 712.5 L817.5 702.5 L810 695 L803.8 685 L795 681.2 L785 677.5ZM860 676.2 L870 695 L860 715 L853.8 695ZM902.5 687.5 L920 688.8 L930 686.2 L942.5 690 L942.5 700 L930 702.5 L920 701.2 L905 700 L900 693.8ZM888.8 708.8 L896.2 713.8 L890 720 L881.2 715ZM838.8 735 L845 725 L852.5 735Z" fill="#F6A12A" stroke="#1c1c2c" stroke-width="0.45" stroke-linejoin="round"/><path d="M576.8 686.2 L585.2 678.8 L596.5 672.2 L611.8 675.8 L625.8 666 L641 655.8 L656.2 662.2 L662.5 653.2 L663.8 628 L664.5 615 L667 597.5 L669.5 590 L674.2 597.5 L676 615 L676.2 640 L675 660 L672.5 675 L669 687.5 L664.5 697.5 L661.2 715 L658.8 724.2 L651 726.2 L641 728 L629.5 723 L618.2 718 L608 714.2 L613.8 687.5 L611.8 680.5 L606.8 691.2 L595.2 700.2 L586.5 703.2 L576.8 704.5ZM713 397.5 L707 402.5 L700 408.8 L697 420 L696.2 435 L698.8 450 L701.2 460 L703.8 447.5 L707 437.5 L712 427.5 L716.2 415 L715.5 405ZM684.5 485.5 L688 502.5 L684.5 518 L681 502.5ZM684.5 524 L688.5 540 L684.5 557 L680.5 540ZM785 668.8 L790 658.8 L798.8 655 L807.5 658.8 L811.2 671.2 L805 681.2 L795 677.5ZM807.5 690 L816.2 683.8 L827.5 692.5 L832.5 705 L831.2 715 L822.5 707.5 L813.8 700ZM860 683.8 L866.2 695 L860 708.8 L856.2 695ZM927.5 695 L933.8 692.5 L936.2 696.2 L932.5 698.8ZM888.8 711.2 L893 714.2 L889.5 717.5 L884.5 714.5ZM841.2 735 L845 728.8 L849.5 735Z" fill="#E8212E" stroke="#1c1c2c" stroke-width="0.45" stroke-linejoin="round"/><path d="M576.8 690 L596.5 676.2 L596.8 695.2 L586.5 700.2 L576.8 698.2ZM625.8 683.8 L642.2 699 L649.2 691.2 L646 676.2 L653.5 668 L660.5 673.5 L658.8 691.2 L657.5 716.8 L651 721.8 L639.8 726.2 L625.8 720.5 L615 714.2 L620.8 696.5ZM664.2 628 L665.5 598.8 L669.5 592.5 L673.5 598 L675 615.2 L674.8 640.8 L671.5 659.8 L668 661 L666.5 647 L664.8 638ZM700 413.8 L706.2 422.5 L703.8 432.5 L700 440 L697.5 432.5 L697 422.5ZM684.5 490 L687 502.5 L684.5 515 L682 502.5ZM684.5 527.5 L687.2 540 L684.5 552.5 L681.8 540ZM793.8 672.5 L800 657.5 L805 677.5 L798.8 678.8ZM811.2 690 L817.5 687.5 L826.2 695 L818.8 700Z" fill="#8C1014" stroke="#1c1c2c" stroke-width="0.45" stroke-linejoin="round"/><path d="M623.8 700 L628 694.5 L651.2 711.2 L642.5 721.2 L623 716.2ZM630 711.2 L638.8 708 L645 713.8 L638.8 718.8Z" fill="none" stroke="#3a0508" stroke-width="0.4"/></g>
<line x1="576.5" y1="438.3" x2="941.5" y2="438.3" stroke="#000" stroke-width="1.9" stroke-dasharray="4 2.57"/>
<line x1="576.5" y1="682.5" x2="941.5" y2="682.5" stroke="#000" stroke-width="1.9" stroke-dasharray="4 2.57"/>
<rect x="576.5" y="368.6" width="365" height="364.6" fill="none" stroke="#231F20" stroke-width="1.5"/>
<path d="M576.5 368.6V733.2H941.5" fill="none" stroke="#231F20" stroke-width="1.9" stroke-linecap="square"/>
<line x1="576.5" y1="368.6" x2="573.9" y2="368.6" stroke="#231F20" stroke-width="1.2"/>
<line x1="576.5" y1="368.6" x2="576.5" y2="366" stroke="#231F20" stroke-width="1.2"/>
<line x1="941.5" y1="368.6" x2="944.1" y2="368.6" stroke="#231F20" stroke-width="1.2"/>
<line x1="941.5" y1="368.6" x2="941.5" y2="366" stroke="#231F20" stroke-width="1.2"/>
<line x1="576.5" y1="733.2" x2="573.9" y2="733.2" stroke="#231F20" stroke-width="1.2"/>
<line x1="576.5" y1="733.2" x2="576.5" y2="735.8" stroke="#231F20" stroke-width="1.2"/>
<line x1="941.5" y1="733.2" x2="944.1" y2="733.2" stroke="#231F20" stroke-width="1.2"/>
<line x1="941.5" y1="733.2" x2="941.5" y2="735.8" stroke="#231F20" stroke-width="1.2"/>
<line x1="576.5" y1="733.2" x2="576.5" y2="740.7" stroke="#231F20" stroke-width="1.9"/>
<text transform="translate(576.5 772) scale(1.035 1)" font-size="32.6" text-anchor="middle">-0.25</text>
<line x1="698.2" y1="733.2" x2="698.2" y2="740.7" stroke="#231F20" stroke-width="1.9"/>
<text transform="translate(698.2 772) scale(1.035 1)" font-size="32.6" text-anchor="middle">0.0</text>
<line x1="819.8" y1="733.2" x2="819.8" y2="740.7" stroke="#231F20" stroke-width="1.9"/>
<text transform="translate(819.8 772) scale(1.035 1)" font-size="32.6" text-anchor="middle">0.25</text>
<line x1="941.5" y1="733.2" x2="941.5" y2="740.7" stroke="#231F20" stroke-width="1.9"/>
<text transform="translate(941.5 772) scale(1.035 1)" font-size="32.6" text-anchor="middle">0.5</text>
<line x1="569.3" y1="420.7" x2="576.5" y2="420.7" stroke="#231F20" stroke-width="1.9"/>
<text transform="translate(564.5 431.8) scale(1.035 1)" font-size="32.6" text-anchor="end">1.0</text>
<line x1="569.3" y1="472.9" x2="576.5" y2="472.9" stroke="#231F20" stroke-width="1.9"/>
<text transform="translate(564.5 484) scale(1.035 1)" font-size="32.6" text-anchor="end">0.8</text>
<line x1="569.3" y1="525.1" x2="576.5" y2="525.1" stroke="#231F20" stroke-width="1.9"/>
<text transform="translate(564.5 536.2) scale(1.035 1)" font-size="32.6" text-anchor="end">0.6</text>
<line x1="569.3" y1="577.3" x2="576.5" y2="577.3" stroke="#231F20" stroke-width="1.9"/>
<text transform="translate(564.5 588.4) scale(1.035 1)" font-size="32.6" text-anchor="end">0.4</text>
<line x1="569.3" y1="629.5" x2="576.5" y2="629.5" stroke="#231F20" stroke-width="1.9"/>
<text transform="translate(564.5 640.6) scale(1.035 1)" font-size="32.6" text-anchor="end">0.2</text>
<line x1="569.3" y1="681.7" x2="576.5" y2="681.7" stroke="#231F20" stroke-width="1.9"/>
<text transform="translate(564.5 692.8) scale(1.035 1)" font-size="32.6" text-anchor="end">0.0</text>
<text transform="translate(759 809) scale(1.035 1)" font-size="32.6" text-anchor="middle">Time, s</text>
<text transform="translate(506.8 550.4) scale(1.035 1) rotate(-90)" font-size="32.6" text-anchor="middle">FRET</text>
<defs><linearGradient id="cb1" x1="0" y1="0" x2="0" y2="1"><stop offset="0" stop-color="#8A0F18"/><stop offset="0.04" stop-color="#A3131F"/><stop offset="0.13" stop-color="#E8212E"/><stop offset="0.27" stop-color="#F58A26"/><stop offset="0.355" stop-color="#F5E62D"/><stop offset="0.44" stop-color="#A8CB3F"/><stop offset="0.56" stop-color="#6DB98A"/><stop offset="0.68" stop-color="#27B4E0"/><stop offset="0.79" stop-color="#3C67B0"/><stop offset="0.9" stop-color="#3C5CA8"/><stop offset="0.955" stop-color="#8E97CC"/><stop offset="1" stop-color="#FFFFFF"/></linearGradient></defs><rect x="920.3" y="541" width="14.2" height="58.3" fill="url(#cb1)" stroke="#231F20" stroke-width="1.1"/>
<text transform="translate(915.9 551.5) scale(1.035 1)" font-size="32.6" text-anchor="end">15%</text>
<text transform="translate(915.9 608) scale(1.035 1)" font-size="32.6" text-anchor="end">0%</text>
<text transform="translate(931.5 399.6) scale(1.035 1)" font-size="30.6" text-anchor="end"><tspan font-style="italic">N</tspan>=91</text>
<text transform="translate(950 447.3) scale(1.035 1)" font-size="32.6">IB</text>
<text transform="translate(998 355.8) scale(1.035 1)" font-size="31" font-weight="bold">d</text>
<text transform="translate(1094 355.8) scale(1.035 1)" font-size="32.6">m<tspan font-size="17.5" dy="-11.4" dx="-0.5">6</tspan><tspan dy="11.4" dx="-3.5">AAA</tspan></text>
<clipPath id="cp2"><rect x="1094.3" y="369" width="364.5" height="364.5"/></clipPath><g clip-path="url(#cp2)"><path d="M1094.2 735 L1094.2 626.2 L1103 620 L1113 616.2 L1128 618.8 L1143 615 L1158 612.5 L1171.8 611.2 L1174.2 590 L1175.5 570 L1180.5 558.8 L1188 551.2 L1190.5 540 L1191 515 L1190 490 L1190.5 465 L1192.5 445 L1191.8 431.2 L1198 423.8 L1201.8 415 L1204.2 402.5 L1205.5 387.5 L1208 378.8 L1215.5 373.8 L1230.5 373 L1243 376.2 L1258 378.8 L1269.2 380.5 L1260.5 391.2 L1273 405 L1280 418 L1275.5 427.5 L1263 433.8 L1255.5 442.5 L1260.5 451.2 L1274.2 455.5 L1260.5 460 L1248 470 L1238 480.5 L1248 486.2 L1260.5 487.5 L1264.2 493.8 L1258 500 L1245.5 505 L1238 512.5 L1240.5 520 L1248 527.5 L1252.5 532.5 L1250.5 541.2 L1248 550 L1248 560 L1238 566.2 L1231 568.8 L1230.5 555 L1235.5 543.8 L1228 540 L1216 535 L1218.5 525 L1216 517 L1215 537.5 L1214.2 545 L1211.8 555 L1205.5 561.2 L1198 565 L1196.8 577.5 L1197.2 602.5 L1197.2 627.5 L1197.2 652.5 L1196.8 672.5 L1193 682.5 L1188 690 L1186.8 702.5 L1184.2 720 L1182.5 735ZM1231 569.5 L1243 571.2 L1258 576.2 L1266.8 582.5 L1260.5 588.8 L1250.5 593.8 L1238 592.5 L1231 595.5 L1226.8 585 L1226.8 576.2ZM1253 735 L1244.2 720 L1239.2 702.5 L1238 685 L1235.5 665 L1230.5 652.5 L1226.8 642.5 L1233 630 L1235.5 620 L1228 610 L1226.8 602.5 L1231.8 596.2 L1240.5 601.2 L1258 607.5 L1278 612.5 L1290.5 615 L1308 616.2 L1320.5 615 L1331.8 611.2 L1338 617.5 L1345.5 623.8 L1363 625 L1383 626.2 L1405.5 621.2 L1415.5 627.5 L1425.5 637.5 L1435.5 645 L1445.5 643.8 L1453 637.5 L1460.5 631.2 L1460.5 726.2 L1438 730.5 L1430.5 735Z" fill="#3B5CA9" stroke="#1c1c2c" stroke-width="0.45" stroke-linejoin="round"/><path d="M1094.2 728.8 L1094.2 645 L1103 640 L1115.5 636.2 L1125.5 631.2 L1138 633.8 L1150.5 635 L1163 633 L1173 631.2 L1176 602.5 L1176.8 572.5 L1181.8 561.2 L1189.2 553.8 L1191.8 540 L1192.2 515 L1191.2 490 L1191.8 465 L1194.2 445 L1193.5 432.5 L1199.8 425 L1203.5 415 L1206 402.5 L1207.5 388.8 L1210 381.2 L1216.8 377.5 L1230.5 377 L1243 380.5 L1251.8 386.2 L1253 397.5 L1251.8 415 L1253 427.5 L1248 437.5 L1235.5 443.8 L1239.2 452.5 L1228 461.2 L1220.5 470 L1223 480 L1224.2 490 L1218 497.5 L1215.5 505 L1214.2 515 L1213.8 537.5 L1212.5 545 L1210 553.8 L1204.2 560 L1196.8 563.8 L1195.5 577.5 L1196 602.5 L1196 627.5 L1196 652.5 L1195.5 672.5 L1191.8 682.5 L1186.8 690 L1185.5 702.5 L1183 720 L1181 735 L1125.5 735 L1113 731.2ZM1249.2 628.8 L1260.5 618.8 L1278 620 L1295.5 622.5 L1308 625 L1320.5 632.5 L1331.8 627.5 L1343 633.8 L1358 636.2 L1375.5 640 L1393 642.5 L1410.5 647.5 L1425.5 652.5 L1438 657.5 L1450.5 662.5 L1460.5 665 L1460.5 720 L1445.5 723.8 L1425.5 725 L1405.5 728.8 L1388 735 L1283 735 L1268 725 L1258 715 L1248 705 L1244.2 687.5 L1248 672.5 L1258 660 L1263 647.5 L1255.5 637.5Z" fill="#3D8FCB" stroke="#1c1c2c" stroke-width="0.45" stroke-linejoin="round"/><path d="M1094.2 725 L1094.2 655 L1103 648.8 L1115.5 646.2 L1128 647.5 L1143 643.8 L1155.5 645 L1163 641.2 L1174.2 636.2 L1177.5 602.5 L1178.5 572.5 L1183.5 563 L1191 555 L1193.5 540 L1194 515 L1193 490 L1193.5 465 L1198 450 L1205.5 440 L1209.2 432.5 L1205.5 425 L1207.5 415 L1209.2 402.5 L1210.5 390 L1214.2 385 L1228 383.8 L1240.5 386.2 L1246 391.2 L1241.8 402.5 L1238 415 L1236.8 427.5 L1233 437.5 L1224.2 440 L1216.8 446.2 L1209.2 453.8 L1205.5 460 L1211.8 470 L1215.5 480 L1215.5 490 L1211.8 500 L1210.5 515 L1211 537.5 L1209.2 550 L1204.2 557.5 L1195.5 562.5 L1194 577.5 L1194.5 602.5 L1194.5 627.5 L1194 652.5 L1193 672.5 L1189.2 682.5 L1185 690 L1183 702.5 L1179.2 720 L1175.5 728.8 L1150.5 727.5 L1125.5 728.8 L1108 727.5ZM1274.2 645 L1288 647.5 L1303 650 L1320.5 645 L1338 647.5 L1353 645 L1368 651.2 L1383 660 L1398 670 L1410.5 680 L1415.5 687.5 L1403 700 L1388 710 L1370.5 711.2 L1350.5 715 L1328 720 L1305.5 721.2 L1288 717.5 L1273 712.5 L1260.5 702.5 L1254.2 690 L1258 677.5 L1268 665 L1270.5 652.5ZM1439.2 696.2 L1449.2 692 L1454.2 696.2 L1449.2 700Z" fill="#5BB9B7" stroke="#1c1c2c" stroke-width="0.45" stroke-linejoin="round"/><path d="M1303.5 657.5 L1308 654.5 L1311 658Z" fill="#3D8FCB" stroke="#1c1c2c" stroke-width="0.45" stroke-linejoin="round"/><path d="M1094.2 712.5 L1094.2 662.5 L1105.5 661.2 L1118 660 L1130.5 657.5 L1141.8 652.5 L1153 658.8 L1163 657.5 L1168 645 L1175.5 640 L1180.5 636.2 L1184.2 615 L1184.2 590 L1185.5 572.5 L1187.5 564.5 L1189.8 572.5 L1191 590 L1191.5 615 L1191 640 L1188 650 L1180.5 655 L1176.8 660 L1179.2 672.5 L1178 690 L1174.2 705 L1169.2 715 L1155.5 713.8 L1141.8 716.2 L1125.5 713.8 L1108 715ZM1201.8 463.8 L1206.8 475 L1210 490 L1206.8 505 L1205.5 520 L1206.8 535 L1201.8 551.2 L1197.5 537.5 L1197 520 L1198 505 L1196 490 L1198 475ZM1218 394.5 L1233 391.2 L1232.5 402.5 L1229.2 417.5 L1225.5 432.5 L1216.8 445 L1211 436.2 L1211 422.5 L1213 407.5ZM1288 658.8 L1303 663.8 L1318 661.2 L1335.5 658.8 L1353 665 L1370.5 671.2 L1388 677.5 L1398 683 L1393 690 L1375.5 697.5 L1365.5 697.5 L1370.5 707.5 L1350.5 707.5 L1328 710 L1308 711.2 L1288 708.8 L1270.5 695 L1278 685 L1288 675 L1293 665Z" fill="#A3CC4C" stroke="#1c1c2c" stroke-width="0.45" stroke-linejoin="round"/><path d="M1094.2 700 L1094.2 671.2 L1105.5 668 L1120.5 669.5 L1138 667.5 L1153 667 L1168 666.2 L1174.2 668.8 L1179.2 680 L1176.8 695 L1170.5 701.2 L1163 710 L1153 711.2 L1141.8 713.8 L1128 705 L1115.5 703.8 L1103 701.2ZM1187.5 572.5 L1189.5 585 L1189.2 605 L1188.5 625 L1187.5 635 L1186 625 L1185 605 L1185.5 585ZM1201.8 471.2 L1205.5 485 L1201.8 501.2 L1198 485ZM1216 412.5 L1223 426.2 L1216.8 438.8 L1210 427.5ZM1303 668.8 L1318 671.2 L1333 673.8 L1343 682.5 L1340.5 695 L1328 701.2 L1313 698.8 L1295.5 693.8 L1288 685 L1293 675Z" fill="#FAD41A" stroke="#1c1c2c" stroke-width="0.45" stroke-linejoin="round"/><path d="M1116.8 683.8 L1128 676.2 L1141.8 690 L1155.5 676.2 L1170.5 674.5 L1175 682.5 L1174.2 698.8 L1160.5 700 L1143 706.2 L1131.8 698.8 L1123 693.8ZM1187 612.5 L1188 620 L1187 626.2 L1186 620ZM1201.8 482.5 L1202.5 490 L1201.8 495 L1201 490ZM1216 423.8 L1218 428.8 L1216 433 L1214.2 428.8ZM1302.5 682.5 L1305.5 680 L1308.5 683 L1305 685.8ZM1324.2 695 L1333 692 L1334.2 697.5 L1328 697.5Z" fill="#E84B2D" stroke="#1c1c2c" stroke-width="0.45" stroke-linejoin="round"/><path d="M1168 680.5 L1174.2 683.8 L1173 690Z" fill="#B3171D" stroke="#1c1c2c" stroke-width="0.45" stroke-linejoin="round"/></g>
<line x1="1094.3" y1="433" x2="1458.8" y2="433" stroke="#000" stroke-width="1.9" stroke-dasharray="4 2.57"/>
<line x1="1094.3" y1="683.6" x2="1458.8" y2="683.6" stroke="#000" stroke-width="1.9" stroke-dasharray="4 2.57"/>
<rect x="1094.3" y="369" width="364.5" height="364.5" fill="none" stroke="#231F20" stroke-width="1.5"/>
<path d="M1094.3 369V733.5H1458.8" fill="none" stroke="#231F20" stroke-width="1.9" stroke-linecap="square"/>
<line x1="1094.3" y1="369" x2="1091.7" y2="369" stroke="#231F20" stroke-width="1.2"/>
<line x1="1094.3" y1="369" x2="1094.3" y2="366.4" stroke="#231F20" stroke-width="1.2"/>
<line x1="1458.8" y1="369" x2="1461.4" y2="369" stroke="#231F20" stroke-width="1.2"/>
<line x1="1458.8" y1="369" x2="1458.8" y2="366.4" stroke="#231F20" stroke-width="1.2"/>
<line x1="1094.3" y1="733.5" x2="1091.7" y2="733.5" stroke="#231F20" stroke-width="1.2"/>
<line x1="1094.3" y1="733.5" x2="1094.3" y2="736.1" stroke="#231F20" stroke-width="1.2"/>
<line x1="1458.8" y1="733.5" x2="1461.4" y2="733.5" stroke="#231F20" stroke-width="1.2"/>
<line x1="1458.8" y1="733.5" x2="1458.8" y2="736.1" stroke="#231F20" stroke-width="1.2"/>
<line x1="1094.3" y1="733.5" x2="1094.3" y2="741" stroke="#231F20" stroke-width="1.9"/>
<text transform="translate(1094.3 772) scale(1.035 1)" font-size="32.6" text-anchor="middle">-0.25</text>
<line x1="1215.6" y1="733.5" x2="1215.6" y2="741" stroke="#231F20" stroke-width="1.9"/>
<text transform="translate(1215.6 772) scale(1.035 1)" font-size="32.6" text-anchor="middle">0.0</text>
<line x1="1337.3" y1="733.5" x2="1337.3" y2="741" stroke="#231F20" stroke-width="1.9"/>
<text transform="translate(1337.3 772) scale(1.035 1)" font-size="32.6" text-anchor="middle">0.25</text>
<line x1="1458.8" y1="733.5" x2="1458.8" y2="741" stroke="#231F20" stroke-width="1.9"/>
<text transform="translate(1458.8 772) scale(1.035 1)" font-size="32.6" text-anchor="middle">0.5</text>
<line x1="1087.1" y1="423" x2="1094.3" y2="423" stroke="#231F20" stroke-width="1.9"/>
<text transform="translate(1082 434.1) scale(1.035 1)" font-size="32.6" text-anchor="end">1.0</text>
<line x1="1087.1" y1="475.1" x2="1094.3" y2="475.1" stroke="#231F20" stroke-width="1.9"/>
<text transform="translate(1082 486.2) scale(1.035 1)" font-size="32.6" text-anchor="end">0.8</text>
<line x1="1087.1" y1="527.2" x2="1094.3" y2="527.2" stroke="#231F20" stroke-width="1.9"/>
<text transform="translate(1082 538.3) scale(1.035 1)" font-size="32.6" text-anchor="end">0.6</text>
<line x1="1087.1" y1="579.3" x2="1094.3" y2="579.3" stroke="#231F20" stroke-width="1.9"/>
<text transform="translate(1082 590.4) scale(1.035 1)" font-size="32.6" text-anchor="end">0.4</text>
<line x1="1087.1" y1="631.4" x2="1094.3" y2="631.4" stroke="#231F20" stroke-width="1.9"/>
<text transform="translate(1082 642.5) scale(1.035 1)" font-size="32.6" text-anchor="end">0.2</text>
<line x1="1087.1" y1="683.5" x2="1094.3" y2="683.5" stroke="#231F20" stroke-width="1.9"/>
<text transform="translate(1082 694.6) scale(1.035 1)" font-size="32.6" text-anchor="end">0.0</text>
<text transform="translate(1276.5 809) scale(1.035 1)" font-size="32.6" text-anchor="middle">Time, s</text>
<text transform="translate(1024.1 550.8) scale(1.035 1) rotate(-90)" font-size="32.6" text-anchor="middle">FRET</text>
<defs><linearGradient id="cb2" x1="0" y1="0" x2="0" y2="1"><stop offset="0" stop-color="#8A0F18"/><stop offset="0.04" stop-color="#A3131F"/><stop offset="0.13" stop-color="#E8212E"/><stop offset="0.27" stop-color="#F58A26"/><stop offset="0.355" stop-color="#F5E62D"/><stop offset="0.44" stop-color="#A8CB3F"/><stop offset="0.56" stop-color="#6DB98A"/><stop offset="0.68" stop-color="#27B4E0"/><stop offset="0.79" stop-color="#3C67B0"/><stop offset="0.9" stop-color="#3C5CA8"/><stop offset="0.955" stop-color="#8E97CC"/><stop offset="1" stop-color="#FFFFFF"/></linearGradient></defs><rect x="1438.6" y="541" width="14.2" height="58.3" fill="url(#cb2)" stroke="#231F20" stroke-width="1.1"/>
<text transform="translate(1434.2 551.5) scale(1.035 1)" font-size="32.6" text-anchor="end">15%</text>
<text transform="translate(1434.2 608) scale(1.035 1)" font-size="32.6" text-anchor="end">0%</text>
<text transform="translate(1451.4 401) scale(1.035 1)" font-size="30.6" text-anchor="end"><tspan font-style="italic">N</tspan>=505</text>
<text transform="translate(1466.8 443.5) scale(1.035 1)" font-size="32.6">IB</text>
<text transform="translate(3 957.5) scale(1.035 1)" font-size="31" font-weight="bold">e</text>
<text transform="translate(96 961) scale(1.035 1)" font-size="32.6">AAA</text>
<clipPath id="cp3"><rect x="95" y="970" width="553.5" height="365.3"/></clipPath><g clip-path="url(#cp3)"><path d="M543.5 1158.2L543.8 1158.7L544.1 1158.2L543.8 1156.1ZM252.2 1153L253.9 1154.5L255.4 1153L257.4 1147.8L257.9 1147L258.3 1147.8L261.3 1153L262 1153.7L262.8 1153L266 1151L268.8 1147.8L270 1146.2L270.8 1147.8L274 1151.7L278.1 1148.7L278.7 1147.8L282.1 1142.7L282.2 1142.6L286.1 1140.6L290.1 1141.5L294.2 1138.2L296 1142.6L298.2 1145.1L302.2 1144.6L303.8 1147.8L306.2 1150.5L310.3 1149.2L314.3 1148.1L314.5 1147.8L317.5 1142.6L318.3 1139.9L319.6 1142.6L322.3 1145.3L325.3 1147.8L326.4 1149.1L330.4 1149.6L332.5 1147.8L334.4 1145.3L334.8 1147.8L338.4 1152.4L342.1 1147.8L342.5 1147L346.5 1146.8L348.2 1147.8L350.5 1149.4L354.6 1150.3L357.5 1147.8L358.6 1147.2L362.6 1143.9L366.6 1147.5L370 1142.6L370.7 1141.1L371.3 1142.6L373.7 1147.8L374.7 1149.3L378.7 1149.1L380.8 1147.8L382.7 1144.5L385.3 1142.6L386.8 1137.9L389.5 1142.6L390.8 1143.2L392.4 1147.8L394.8 1150.1L398.8 1148.3L399.5 1147.8L402.5 1142.6L402.9 1141.1L403.7 1142.6L406.9 1145.2L410.9 1143.3L414.9 1144.4L418.2 1142.6L419 1141.9L423 1140.2L425.4 1137.3L427 1136.1L428.2 1137.3L431 1140.6L435.1 1140.6L439.1 1138.1L442.3 1142.6L443.1 1143.8L447.1 1144.2L451.2 1142.6L451.2 1142.5L451.2 1142.6L450.4 1147.8L451.2 1149.7L453.1 1147.8L455.2 1145.6L458.4 1142.6L459.2 1142.1L463.3 1142.3L463.5 1142.6L466.3 1147.8L467.3 1148.7L467.7 1147.8L469.4 1142.6L471.3 1138L473.2 1142.6L475.2 1147.8L475.3 1148.1L475.6 1147.8L478.5 1142.6L479.4 1141.1L481.5 1142.6L483.4 1144.8L487.4 1145.6L490.9 1142.6L491.4 1142.3L495.5 1142.2L496 1142.6L499.5 1145L503 1142.6L503.5 1141.9L503.9 1142.6L507.5 1147.3L511.2 1142.6L511.6 1142.1L511.9 1142.6L514.2 1147.8L515.6 1150L519.6 1150.4L521.3 1147.8L522.6 1142.6L523.6 1139.2L527.7 1141.4L529.6 1142.6L531.7 1144.8L535.7 1145.6L538.3 1147.8L539.7 1148.5L543.8 1148.4L547.8 1148.9L548.5 1147.8L551 1142.6L551.8 1141.5L552.5 1142.6L554.2 1147.8L555.4 1153L555.9 1154L556.3 1153L558.5 1147.8L559.9 1146L563.9 1145.6L567.9 1145.8L570.7 1142.6L571.7 1137.3L572 1136.6L572.5 1137.3L573.6 1142.6L575 1147.8L576 1148.8L576.9 1147.8L578 1142.6L579.7 1137.3L580 1136.8L580.3 1137.3L583.7 1142.6L584 1142.9L588.1 1145.7L592.1 1145.7L596.1 1146.6L596.8 1147.8L598.6 1153L600.1 1155.1L601.4 1153L603.3 1147.8L604.2 1144.4L607.2 1142.6L608.2 1141.9L608.4 1142.6L610.9 1147.8L612.2 1149.3L614 1147.8L616.2 1142.7L616.3 1142.6L620.3 1137.7L624.3 1142.1L625.6 1142.6L628.3 1145.6L632.3 1143.9L635.7 1147.8L636.4 1148.9L638.2 1147.8L640.4 1144.9L641.7 1147.8L644.4 1149.6L648.4 1149.2L649.1 1147.8L648.5 1142.6L652.5 1139.9L652.5 1137.3L652.5 1132.1L652.5 1126.9L652.5 1121.7L652.5 1116.5L652.5 1111.2L652.5 1106L652.5 1100.8L652.5 1095.6L652.5 1090.4L652.5 1085.1L652.5 1079.9L652.5 1074.7L652.5 1069.5L652.5 1064.3L652.5 1059L652.5 1053.8L652.5 1048.6L652.5 1043.4L652.5 1038.2L652.5 1034.3L648.4 1033.4L644.4 1033.9L642.2 1032.9L640.4 1032.1L639.6 1032.9L636.4 1034.9L632.3 1034.5L628.3 1035.4L624.3 1032.9L620.3 1035.9L616.2 1035.1L614.2 1032.9L612.2 1030.9L610.8 1032.9L608.2 1036.9L604.2 1033.9L600.1 1036.7L597.3 1032.9L596.1 1031.6L592.1 1031.2L588.1 1031.7L586.6 1032.9L584 1034.6L580 1038.2L576 1035L572 1035.2L569.4 1032.9L567.9 1031.7L563.9 1029.6L560.8 1032.9L559.9 1033.9L555.9 1036.9L551.8 1034.3L547.8 1037L544.7 1032.9L543.8 1032L539.7 1031.4L535.7 1032L531.7 1032.2L529.9 1032.9L527.7 1033.7L524.7 1032.9L523.6 1028.9L519.6 1029.9L515.7 1032.9L515.6 1033L511.6 1033.4L510.2 1032.9L507.5 1031.1L503.6 1032.9L503.5 1033L503.3 1032.9L499.5 1032.2L498.4 1032.9L495.5 1033.7L493.7 1032.9L491.4 1030.5L487.4 1030.2L483.5 1032.9L483.4 1033L479.4 1034.5L478.4 1032.9L477.1 1027.7L475.3 1025.3L473.4 1027.7L471.8 1032.9L471.3 1033.7L467.3 1033.9L463.3 1033.8L462.1 1032.9L459.2 1029.8L455.2 1028.8L451.2 1030.3L447.1 1028.7L444.5 1027.7L443.1 1027.1L441.2 1027.7L439.1 1028.4L436.1 1027.7L435.1 1027L431 1026L428.4 1027.7L427 1029.1L423 1027.9L420.2 1032.9L419 1033.9L417.7 1032.9L414.9 1029.8L411.9 1027.7L410.9 1027L409.4 1027.7L406.9 1028.7L402.9 1028L401.4 1027.7L398.8 1026.5L398.3 1027.7L394.8 1031.7L390.8 1030.1L386.8 1028.7L382.7 1029.7L378.7 1030.7L374.7 1030L370.7 1030.2L366.6 1030.8L364.5 1027.7L362.6 1024.7L358.6 1025.1L356 1027.7L354.6 1028.7L351.8 1027.7L350.5 1027.4L349.9 1027.7L346.5 1029.8L342.5 1028.9L341.2 1027.7L338.4 1024.6L334.4 1025.7L330.4 1027.6L326.4 1024.1L322.3 1026.1L318.3 1027L316.5 1027.7L314.3 1028.5L313.8 1027.7L310.3 1023L306.2 1026L302.2 1024L298.2 1024.8L294.2 1026.7L292.8 1027.7L290.1 1029.1L287.8 1027.7L286.1 1026.1L282.1 1023.6L278.5 1027.7L278.1 1028.2L277.4 1027.7L274 1025.2L270.1 1027.7L270 1027.8L270 1027.7L266 1024.5L262.6 1027.7L262 1028.4L260.6 1027.7L257.9 1026.4L253.9 1023.3L251.7 1022.5L249.9 1021.8L245.8 1020L241.8 1021.2L239.8 1022.5L237.8 1023.2L233.8 1025.7L229.7 1023.4L229.3 1022.5L227.9 1017.3L226.3 1012.1L225.7 1011.2L221.7 1011.3L217.7 1007.4L213.6 1010.7L211 1006.8L209.6 1005.1L205.6 1004.1L204.5 1006.8L201.6 1009.6L199.4 1006.8L197.5 1004.7L195.4 1006.8L194.9 1012.1L193.5 1013.6L192.3 1012.1L191.9 1006.8L189.5 1003.2L185.5 1001.9L184.8 1001.6L183.4 1000.5L181.7 996.4L181.4 995.8L181.2 996.4L180 1001.6L179.4 1002.4L178.7 1001.6L177.4 1000.4L176.3 996.4L175.4 994.1L174.4 996.4L173.4 1001.2L171.9 996.4L171.4 995L169.6 991.2L169.4 990L168.9 986L167.3 982.3L165.3 982.8L163.3 984.2L161.3 982.5L159.8 980.7L159.3 980L157.4 975.5L157.3 975.1L156.8 975.5L155.3 975.9L154.8 975.5L153.3 973.7L151.2 972.1L149.2 970.4L147.2 971.7L145.2 971.7L143.2 971.4L142 975.5L141.7 980.7L141.5 986L141.5 991.2L141.5 996.4L141.5 1001.6L141.5 1006.8L141.5 1012.1L141.4 1017.3L141.4 1022.5L141.4 1027.7L141.4 1032.9L141.4 1038.2L141.4 1043.4L141.5 1048.6L141.5 1053.8L141.5 1059L141.5 1064.3L141.6 1069.5L141.6 1074.7L141.6 1079.9L141.6 1085.1L141.6 1090.4L141.8 1095.6L142 1100.8L142.1 1106L142.7 1111.2L142.9 1116.5L143.2 1121.7L143.2 1121.8L145.2 1121.8L147.2 1121.7L147.3 1121.7L149.2 1117.4L150 1121.7L151.2 1124.5L152 1126.9L153.3 1131.9L153.7 1132.1L155.3 1133.2L155.8 1132.1L157.3 1128L159.3 1131.7L159.5 1132.1L160.8 1137.3L161.3 1139.4L163.3 1141.5L165.3 1139.9L165.9 1142.6L167.1 1147.8L167.3 1148.4L168.9 1147.8L169.4 1147.6L170.1 1147.8L171.4 1148.1L171.5 1147.8L173.4 1144.5L175.4 1147.6L177.4 1145.7L179.4 1143.3L181.4 1145.5L183.4 1143.8L185.2 1147.8L185.5 1148L185.8 1147.8L188.2 1142.6L189.5 1141.4L190.2 1142.6L191.3 1147.8L193.5 1150.4L195 1147.8L196.4 1142.6L197.5 1139.9L198.7 1142.6L201.4 1147.8L201.6 1148L202.2 1147.8L205.6 1146.1L209.4 1142.6L209.6 1142.3L209.9 1142.6L213.6 1145.5L217.7 1146.4L221 1142.6L221.7 1141.5L222.4 1142.6L224.5 1147.8L225.7 1149.6L227.1 1147.8L229.7 1145.5L233.8 1147L237.8 1147.8L241.8 1144.4L245.8 1146.6L247.3 1147.8L249.9 1149.7ZM543.8 1140L543.5 1137.3L543.8 1136.4L544.1 1137.3Z" fill="#3B5EAF" stroke="#1c1c2c" stroke-width="0.45" stroke-linejoin="round" fill-rule="evenodd"/><path d="M261.2 1142.6L262 1143.7L262.9 1142.6L264.6 1137.3L266 1133.7L270 1135.9L274 1134.8L278.1 1133.4L282.1 1134.6L286.1 1135.6L290.1 1134.1L291.5 1132.1L293.2 1126.9L294.2 1126.1L294.8 1126.9L296.9 1132.1L298.2 1133.7L302.2 1133.2L303 1132.1L304.7 1126.9L306.2 1125.1L310.3 1122.4L311.9 1126.9L312.3 1132.1L310.3 1133L307.6 1137.3L310.3 1142.1L314.3 1141.2L315.5 1137.3L318.3 1132.7L322 1137.3L322.3 1138L322.9 1137.3L325.5 1132.1L326.4 1128.5L330.4 1129.4L334.4 1128.3L338.4 1127.9L341.4 1132.1L342.5 1136.9L342.8 1137.3L346.5 1139.4L347.5 1137.3L350.5 1133.8L354.6 1136.4L355.3 1137.3L358.6 1141.4L360.6 1137.3L362.6 1133.6L363.5 1132.1L366.6 1129.9L370.7 1131.8L374.7 1128.8L374.8 1132.1L374.7 1132.7L374.3 1137.3L374.7 1138.6L378.7 1138.7L379 1137.3L381.9 1132.1L382.7 1131.4L386.8 1127.4L387.7 1126.9L390.8 1125.2L394.8 1125.2L395.9 1126.9L398.8 1131.2L402.9 1128.1L406.9 1127.8L410.9 1127.5L412 1126.9L414.9 1126L415.9 1126.9L419 1132.1L423 1130L427 1129.5L430.1 1132.1L431 1133.2L435.1 1133.9L436.7 1132.1L439.1 1128.9L443.1 1128.6L446.1 1126.9L447.1 1126.7L451.2 1125.6L455.2 1121.7L455.2 1121.6L455.2 1121.7L459.2 1125.1L462.3 1121.7L463.3 1120.7L463.6 1121.7L464.3 1126.9L463.3 1129L461.2 1132.1L463.2 1137.3L463.3 1137.4L465.3 1137.3L467.3 1136.9L468.3 1132.1L469.6 1126.9L470.2 1121.7L471.1 1116.5L471.3 1116.3L471.4 1116.5L473.7 1121.7L475.3 1125.1L479.4 1126.2L482.4 1121.7L483.4 1120L486.5 1121.7L487.4 1124.1L491.4 1124.5L492.5 1126.9L493 1132.1L495.5 1135.8L498.3 1137.3L499.5 1138.3L500.3 1137.3L499.5 1135.4L498.5 1132.1L498.5 1126.9L499.5 1125.3L503.5 1123.3L507.5 1124.6L508.3 1126.9L511.6 1129.6L515.6 1129.8L516.6 1132.1L515.6 1137.3L515.6 1137.4L518.7 1142.6L519.6 1143.1L519.8 1142.6L520.9 1137.3L523.6 1133L525.6 1132.1L527.7 1131.2L531 1126.9L531.7 1125.3L532.5 1126.9L535.7 1129.8L537.9 1132.1L539.7 1135.7L541.1 1132.1L543.1 1126.9L543.8 1125.3L547.3 1121.7L547.8 1120.5L548 1121.7L548.1 1126.9L548.3 1132.1L551.8 1135.2L554.9 1137.3L555.9 1139L557 1137.3L558.6 1132.1L558.6 1126.9L559.9 1122.3L563.2 1126.9L563.9 1127.5L566 1132.1L567.8 1137.3L567.9 1137.5L568 1137.3L569.9 1132.1L572 1129.8L575.3 1132.1L576 1133L576.6 1132.1L580 1127.7L584 1129.6L585.3 1132.1L588.1 1134.7L589.2 1132.1L590.3 1126.9L592.1 1122.3L596.1 1124.1L600.1 1124.5L602.4 1126.9L604.2 1131.4L605.8 1126.9L608.2 1124.4L610.5 1126.9L612.1 1132.1L612.2 1132.3L612.4 1132.1L615.8 1126.9L616.2 1126.4L616.5 1126.9L620.3 1131.2L620.7 1132.1L624.3 1136.9L628.3 1132.1L630.8 1137.3L632.3 1138.3L636.4 1140.9L637.3 1137.3L638.5 1132.1L640 1126.9L639.9 1121.7L640.4 1120.7L644.4 1120.6L648.4 1120.9L648.8 1121.7L651.4 1126.9L652.5 1128.1L652.5 1126.9L652.5 1121.7L652.5 1116.5L652.5 1111.2L652.5 1106L652.5 1100.8L652.5 1095.6L652.5 1090.4L652.5 1085.1L652.5 1079.9L652.5 1074.7L652.5 1069.5L652.5 1064.3L652.5 1059L652.5 1053.8L652.5 1048.6L652.5 1043.4L652.5 1040.9L648.6 1038.2L648.4 1038.1L648.3 1038.2L644.4 1040.7L640.4 1038.9L636.4 1039.3L632.3 1039.7L628.3 1042.2L624.3 1038.4L620.3 1040L616.2 1041.2L612.2 1040.5L608.2 1041.4L604.2 1040L600.1 1041.4L596.1 1041.3L592.1 1039.5L588.1 1040.6L584 1040.9L581.4 1043.4L580 1045.1L577.8 1043.4L576 1041.9L572 1041.2L568.2 1038.2L567.9 1037.9L567.2 1038.2L563.9 1039.8L559.9 1039.4L555.9 1043.2L551.8 1040.6L547.8 1043.3L544.4 1038.2L543.8 1037.3L539.7 1037.2L535.7 1036.1L531.7 1038.1L531.6 1038.2L527.7 1039.2L523.6 1041.3L519.6 1038.4L515.6 1042.5L512.8 1038.2L511.6 1037.4L507.5 1036.1L503.7 1038.2L503.5 1038.3L503.3 1038.2L499.5 1036.6L495.5 1036.9L491.4 1036.2L489.3 1038.2L487.4 1040.1L483.4 1039L479.4 1039.5L477.3 1038.2L475.3 1033.5L472.2 1038.2L471.3 1038.5L467.3 1038.5L465.5 1038.2L463.3 1038L459.2 1036.3L456 1038.2L455.2 1038.5L454.8 1038.2L451.2 1035.7L447.1 1034.4L443.1 1034.7L439.1 1033.8L435.6 1038.2L435.1 1039.7L433.9 1038.2L431 1035.5L427 1035.9L423 1036.4L420.6 1038.2L419 1039.2L417.8 1038.2L414.9 1035.9L412.4 1038.2L410.9 1040.5L409.5 1038.2L406.9 1035.2L402.9 1033.4L400.6 1032.9L398.8 1032.6L398.6 1032.9L394.8 1036.2L390.8 1035.8L388.3 1032.9L386.8 1031.9L385.1 1032.9L382.7 1035L378.7 1036.4L374.7 1035.7L370.7 1038.2L370.6 1038.2L366.6 1036.6L362.9 1032.9L362.6 1032.5L362.2 1032.9L358.6 1036.4L354.6 1037.1L350.7 1032.9L350.5 1032.8L350.3 1032.9L346.5 1037L342.5 1034.6L338.4 1033L334.4 1034.1L330.4 1034.6L326.4 1035.9L322.3 1035.2L318.8 1038.2L318.3 1038.4L318 1038.2L314.3 1035.1L311.4 1032.9L310.3 1031.2L308.3 1032.9L306.2 1034L303.8 1032.9L302.2 1031.9L298.2 1031.9L294.2 1032.7L293.8 1032.9L290.1 1034.6L286.1 1035.2L283.1 1032.9L282.1 1031.8L280.9 1032.9L278.1 1034.4L275.6 1032.9L274 1031.8L272.3 1032.9L270 1033.9L266.2 1032.9L266 1032.8L265.9 1032.9L262 1035.2L257.9 1033.2L253.9 1033.6L249.9 1033.9L248.9 1032.9L245.8 1029.3L242.7 1032.9L241.8 1033.7L241.4 1032.9L237.8 1028.4L234.7 1032.9L233.8 1035.1L231.7 1032.9L229.7 1031L228.2 1027.7L225.7 1023.4L221.8 1027.7L221.7 1027.8L217.7 1027.9L217.3 1027.7L213.6 1023.8L210.8 1027.7L209.6 1028.3L208.8 1027.7L205.8 1022.5L205.6 1022L201.6 1020.6L198.5 1022.5L197.5 1023.1L197 1022.5L193.5 1020.1L189.5 1022.4L186.9 1017.3L187.2 1012.1L185.6 1006.8L185.5 1006.8L185.4 1006.8L183.4 1010L183.1 1012.1L181.8 1017.3L181.4 1018.4L179.4 1019.4L178.9 1017.3L178.6 1012.1L178.2 1006.8L177.4 1005.4L176 1006.8L175.4 1008.9L173.4 1008.8L171.7 1012.1L171.4 1013.3L170.7 1012.1L169.4 1009.4L167.3 1007.8L166.3 1006.8L165.5 1001.6L165.3 999.7L164.9 1001.6L163.3 1005.6L162.8 1001.6L162.4 996.4L161.4 991.2L161.3 990.9L159.3 989.8L158.8 986L157.3 981.8L156.4 980.7L155.3 979.6L153.3 978.4L151.2 977.4L150.4 975.5L149.2 974L147.2 974.6L145.2 975L143.2 974.3L142.8 975.5L142.2 980.7L141.9 986L141.7 991.2L141.8 996.4L141.9 1001.6L141.9 1006.8L141.7 1012.1L141.7 1017.3L141.6 1022.5L141.6 1027.7L141.6 1032.9L141.7 1038.2L141.7 1043.4L141.8 1048.6L141.9 1053.8L141.9 1059L141.9 1064.3L142 1069.5L142 1074.7L142 1079.9L142 1085.1L142.1 1090.4L142.4 1095.6L142.8 1100.8L143 1106L143.2 1107.2L145.2 1108.5L146.9 1111.2L147.2 1111.6L147.4 1111.2L148.6 1106L148.6 1100.8L149.2 1098.5L149.9 1100.8L150.5 1106L151.2 1108.7L152.3 1111.2L152.7 1116.5L152.8 1121.7L153.3 1123.3L154.3 1121.7L154.1 1116.5L154.4 1111.2L155.3 1109.7L155.8 1111.2L157.3 1116.1L157.4 1116.5L159.3 1121.3L159.8 1121.7L161.3 1124.2L163.3 1126.7L163.4 1126.9L165.3 1130.6L166.5 1132.1L167.3 1137L167.4 1137.3L169.4 1140L170.6 1137.3L171.4 1132.5L172.2 1137.3L173.4 1138.9L175.4 1142L177.4 1137.3L177.4 1136.9L177.6 1137.3L179.4 1138.5L181.4 1139.7L182.7 1137.3L183.4 1135.6L185.5 1135.6L189.5 1135.5L191.8 1137.3L193.5 1141.5L194.7 1137.3L197.5 1132.8L199.8 1137.3L201.6 1141.9L204.1 1137.3L205.4 1132.1L205.6 1131.8L209.6 1131.2L210.5 1132.1L213.6 1136.4L215.3 1137.3L217.7 1138.7L218.6 1137.3L220.4 1132.1L221.7 1130.1L223.9 1132.1L225.7 1133.5L229.7 1137.2L233.8 1135.2L236.4 1137.3L237.8 1141.1L239 1137.3L241.8 1133.1L245.8 1135L248.8 1137.3L249.9 1138.6L250.3 1137.3L252.9 1132.1L253.9 1130.1L257.9 1131.1L258.6 1132.1L259.7 1137.3ZM567.9 1122.6L567.4 1121.7L567.9 1121.1L568 1121.7ZM624.3 1121.8L624.3 1121.7L624.3 1121.6L624.3 1121.7ZM506.9 1137.3L507.5 1138.6L508.5 1137.3L507.5 1132.4ZM166.6 991.2L167.3 991.8L167.5 991.2L167.3 990.4Z" fill="#2E72B9" stroke="#1c1c2c" stroke-width="0.45" stroke-linejoin="round" fill-rule="evenodd"/><path d="M174.8 1137.3L175.4 1138.4L175.8 1137.3L175.7 1132.1L176.2 1126.9L177.4 1124.8L178.3 1126.9L179.4 1131.9L179.5 1132.1L181.4 1134.3L182.4 1132.1L183.4 1130.1L184.8 1126.9L184.8 1121.7L185.5 1118.7L185.9 1121.7L186.8 1126.9L189.5 1130.3L192.8 1126.9L193.5 1126L196.4 1121.7L197.5 1118.7L198.7 1121.7L200 1126.9L201.2 1132.1L201.6 1133L201.9 1132.1L204.1 1126.9L205.6 1125.7L209.6 1124.9L212.5 1121.7L211.9 1116.5L213.6 1113L214.4 1116.5L214.4 1121.7L217.7 1126L220.8 1121.7L221.7 1120.1L223.5 1121.7L225.7 1124L229.4 1126.9L229.7 1127.1L230.1 1126.9L233.3 1121.7L233.8 1120.2L236.4 1116.5L237.8 1114.7L239.4 1116.5L241.8 1118.3L244.1 1116.5L245.8 1114.2L246.8 1116.5L249.9 1120.7L253.9 1119.6L256.4 1121.7L257.9 1123.2L260.4 1121.7L262 1120L263.7 1121.7L266 1123.8L270 1124.4L272.8 1121.7L274 1121.2L275.1 1121.7L278.1 1126.2L282.1 1126.2L286.1 1125.8L288.6 1121.7L290.1 1119.8L294.2 1120.2L296.7 1116.5L298.2 1112.8L302.2 1115.6L306.2 1114.1L310.3 1114.8L311.7 1116.5L314.3 1120.8L318.3 1119.3L322.3 1117.6L326.4 1119L328.5 1121.7L330.4 1123.3L331.9 1121.7L334.4 1118.4L338.4 1117.7L341.1 1116.5L342.5 1115.8L342.7 1116.5L346.5 1121.4L346.8 1121.7L349.2 1126.9L350.5 1128.6L353.3 1126.9L354.6 1124L355.8 1121.7L358.6 1119.3L361.4 1116.5L362.6 1114.8L363.2 1116.5L364.7 1121.7L366.6 1124.7L370.1 1121.7L370.7 1120.3L374.7 1117.7L378.1 1121.7L378.7 1123L379.9 1121.7L382.7 1117.9L383.5 1116.5L386.8 1112.2L390.8 1113.1L394.8 1115.7L395.5 1116.5L398.8 1118.5L402.9 1118L405.7 1116.5L406.9 1115.7L410.9 1113.9L414.9 1114.3L419 1113.4L421.5 1111.2L423 1109.7L423.4 1111.2L423.3 1116.5L424.4 1121.7L427 1123L428 1121.7L430.2 1116.5L431 1115.2L435.1 1114L437.5 1116.5L439.1 1119.3L443.1 1119.7L445 1121.7L447.1 1122.5L448.1 1121.7L449.6 1116.5L451 1111.2L451.2 1111.1L451.3 1111.2L455.2 1112.8L459.2 1116.1L463.3 1111.6L463.8 1111.2L467.3 1110.1L471.3 1111L475.3 1108.1L476.2 1111.2L477 1116.5L479.4 1118.9L480.7 1116.5L483.4 1113.3L486.8 1111.2L487.4 1110.7L491.4 1110.8L491.6 1111.2L495.5 1115.2L496.9 1116.5L499.5 1119.4L501.5 1116.5L502.5 1111.2L503.2 1106L503.5 1104.2L504 1106L505.7 1111.2L507.5 1112.8L510.1 1116.5L510.7 1121.7L511.6 1123L514.1 1121.7L515.6 1119.2L519.6 1117.4L523.6 1118.2L524.3 1116.5L527 1111.2L527.7 1110.5L528.4 1111.2L531.7 1115.8L535.7 1114L539.7 1116.2L543.5 1111.2L543.8 1111.1L547.8 1111.1L548.3 1111.2L551.6 1116.5L551.1 1121.7L550.2 1126.9L551.8 1131.2L554.9 1126.9L553.2 1121.7L553.8 1116.5L555.9 1115.9L559.9 1115L561.3 1116.5L563.9 1118.5L565.5 1116.5L567.9 1111.7L569.3 1116.5L570.1 1121.7L572 1125.3L575 1121.7L576 1118.6L577.2 1116.5L579.4 1111.2L580 1109.2L584 1108.9L588.1 1110.6L589.4 1111.2L592.1 1115.5L593.8 1116.5L596.1 1117.2L600.1 1117.7L602.1 1116.5L600.1 1114L596.1 1114.6L594.7 1111.2L595.4 1106L596.1 1104.4L599.2 1106L600.1 1106.9L603.7 1111.2L604.2 1111.9L608.2 1114.3L612.2 1112.3L613.2 1111.2L615.6 1106L616.2 1104.1L616.5 1106L616.9 1111.2L618.6 1116.5L620.3 1119.7L622.6 1116.5L624.3 1115.6L625.6 1116.5L627 1121.7L628.3 1124.1L631.6 1126.9L632.3 1128.8L633 1126.9L633.3 1121.7L634.5 1116.5L636.4 1113.3L639.2 1111.2L640.4 1110.5L644.4 1107.3L648.1 1111.2L648.4 1111.5L652.5 1116L652.5 1111.2L652.5 1106L652.5 1100.8L652.5 1095.6L652.5 1090.4L652.5 1085.1L652.5 1079.9L652.5 1074.7L652.5 1069.5L652.5 1064.3L652.5 1059L652.5 1053.8L652.5 1048.6L652.5 1044.8L648.4 1044.7L644.4 1047.7L640.4 1048.5L640.3 1048.6L636.4 1049.6L635.8 1048.6L632.3 1044.3L628.3 1048.5L624.5 1043.4L624.3 1043.2L620.3 1043.3L620.2 1043.4L616.2 1046.8L613.7 1048.6L612.2 1049.5L610 1048.6L608.2 1047.5L604.2 1044.2L600.1 1044.8L596.1 1045.9L592.1 1048.6L592.1 1048.7L592 1048.6L588.1 1045.6L584 1044.9L581.1 1048.6L580 1051.2L578.2 1048.6L576 1046.4L572 1048L568.6 1043.4L567.9 1042.9L567.4 1043.4L563.9 1046.8L559.9 1043.7L556.6 1048.6L555.9 1050.7L555.1 1048.6L551.8 1044.6L547.8 1047.1L543.8 1044.7L539.7 1045.4L538.4 1043.4L535.7 1040.2L533.6 1043.4L531.7 1046.9L527.7 1043.6L523.6 1047.8L519.6 1047.8L517.8 1048.6L515.6 1049.1L511.6 1049.7L510.9 1048.6L509.6 1043.4L507.5 1041.7L503.5 1042.9L499.5 1042.5L495.5 1040L492 1043.4L491.5 1048.6L491.4 1049.7L491.2 1048.6L487.4 1045L483.4 1043.5L479.4 1046.7L475.3 1047.6L471.4 1043.4L471.3 1043.4L467.8 1048.6L467.3 1049.5L467 1048.6L465.6 1043.4L463.3 1041.2L460.6 1043.4L459.2 1046.1L455.2 1043.9L453.9 1043.4L451.2 1041.8L449 1043.4L447.1 1044.3L443.1 1046.8L441.4 1043.4L439.1 1038.9L437.3 1043.4L435.1 1047L431 1047.7L429.8 1043.4L427 1040.3L423.4 1043.4L423 1043.9L419 1045.3L417.5 1043.4L414.9 1040.9L413.2 1043.4L410.9 1046.9L406.9 1044.4L406.7 1043.4L402.9 1038.4L398.8 1039.9L394.8 1041.9L390.8 1040.9L388.8 1038.2L386.8 1035.8L384.2 1038.2L382.7 1040.4L378.7 1041.9L374.7 1041L370.8 1043.4L370.7 1043.5L366.6 1045.7L364.2 1048.6L362.6 1049.6L361.7 1048.6L359.4 1043.4L358.6 1042.5L354.6 1042.2L350.5 1042L346.5 1041.1L342.5 1039.6L338.4 1040.9L334.4 1040.6L330.4 1040.3L326.6 1043.4L326.4 1043.7L322.3 1043.5L321 1043.4L318.3 1043.2L314.3 1039.1L312.9 1038.2L310.3 1036L307.3 1038.2L306.2 1040L304.5 1043.4L302.2 1046.3L300.4 1043.4L298.2 1039.3L294.6 1043.4L294.2 1043.6L293.9 1043.4L290.1 1038.8L286.1 1042.6L282.9 1038.2L282.1 1037.5L280.9 1038.2L278.1 1041.6L276.2 1043.4L274 1044.8L272.6 1043.4L270 1039.3L266 1041.9L262 1042L257.9 1038.7L253.9 1042.9L249.9 1039.3L247 1038.2L245.8 1037.1L244 1038.2L241.8 1038.8L240.8 1038.2L238.1 1032.9L237.8 1032.5L237.5 1032.9L235.9 1038.2L233.8 1040.5L231.9 1038.2L229.7 1035.7L226.3 1038.2L225.7 1039.2L224.5 1038.2L221.7 1036.2L218.4 1032.9L217.7 1032.6L217.1 1032.9L213.6 1037.8L210.6 1032.9L209.6 1032.3L205.6 1030.9L204.1 1032.9L203.1 1038.2L201.6 1042.5L199.9 1038.2L197.5 1033.6L193.5 1033.1L193.1 1032.9L189.5 1031.4L186.3 1027.7L185.5 1026.6L185.1 1027.7L183.5 1032.9L183.4 1033L183.4 1032.9L181.4 1028.9L179.4 1032L178.1 1027.7L177.5 1022.5L177.4 1022.3L177.1 1022.5L175.4 1023.7L175 1022.5L174.6 1017.3L173.4 1013.4L172.2 1017.3L171.7 1022.5L171.4 1023.3L171.1 1022.5L170 1017.3L169.4 1015.8L167.3 1012.2L165.8 1017.3L165.7 1022.5L165.3 1025.9L164.7 1022.5L163.3 1018L163.2 1017.3L162.5 1012.1L161.4 1006.8L161.3 1005.8L159.3 1003.2L159.1 1001.6L158.8 996.4L158.4 991.2L157.3 986.2L155.3 986L153.3 982.5L151.2 982.6L149.7 980.7L149.2 979.7L147.2 978.4L145.2 979.3L143.2 977.6L142.7 980.7L142.3 986L142 991.2L142 996.4L142.2 1001.6L142.2 1006.8L142 1012.1L141.9 1017.3L141.8 1022.5L141.8 1027.7L141.8 1032.9L141.9 1038.2L142 1043.4L142.1 1048.6L142.2 1053.8L142.2 1059L142.3 1064.3L142.4 1069.5L142.4 1074.7L142.4 1079.9L142.4 1085.1L142.6 1090.4L143.1 1095.6L143.2 1096.9L145.2 1099.9L146.7 1095.6L147.2 1094.3L149.2 1093.2L150.9 1095.6L151.2 1097L153.3 1099.4L155.1 1100.8L155.3 1101L157 1106L157.3 1106.9L158.4 1111.2L159.3 1113.9L161.3 1113.8L163.3 1115.3L163.5 1116.5L164.6 1121.7L165.3 1123.8L167.3 1125.4L169.1 1121.7L169.4 1121L169.9 1121.7L171.4 1123.6L172.2 1121.7L173.4 1119.9L174.1 1121.7L175.1 1126.9L174.9 1132.1ZM466.7 1121.7L467.3 1124.3L467.7 1121.7L467.3 1119.9ZM534.8 1121.7L535.7 1123.4L538.1 1121.7L535.7 1119.2ZM146.9 1106L147.2 1106.7L147.4 1106L147.2 1103.9Z" fill="#41B4D6" stroke="#1c1c2c" stroke-width="0.45" stroke-linejoin="round" fill-rule="evenodd"/><path d="M181.4 1121.7L181.4 1121.8L181.5 1121.7L181.9 1116.5L181.4 1111.4L180.6 1116.5ZM189 1121.7L189.5 1123.2L190.8 1121.7L193.5 1119.1L194.8 1116.5L196.4 1111.2L197.5 1109.7L201.6 1110.6L202.5 1111.2L204.1 1116.5L205.6 1118.9L206.8 1116.5L208.1 1111.2L209.6 1109.5L213.6 1107.8L215.3 1111.2L216.7 1116.5L217.7 1119.4L219.4 1116.5L220.3 1111.2L220.9 1106L221.7 1104.7L222.4 1106L223.7 1111.2L225.7 1114.8L226.4 1116.5L228.8 1121.7L229.7 1122.7L230.4 1121.7L232.6 1116.5L233.8 1113.4L235.4 1111.2L237.7 1106L237.8 1105.7L238.2 1106L241 1111.2L241.8 1112.3L242.6 1111.2L245.6 1106L245.8 1105.8L246.2 1106L248.9 1111.2L249.9 1113.5L253.9 1112.4L257.8 1116.5L257.9 1116.6L258 1116.5L262 1113.1L266 1113.5L268.5 1116.5L270 1117.6L274 1117L274.8 1116.5L276.1 1111.2L275.6 1106L275.1 1100.8L276.9 1095.6L278.1 1094.4L278.6 1095.6L279.7 1100.8L282.1 1105.1L284.1 1106L285.4 1111.2L284.7 1116.5L286.1 1117.5L287 1116.5L290.1 1112.9L294.2 1113.5L294.6 1111.2L298.2 1106.6L302.2 1106.7L306.2 1106.9L310.3 1107.6L314.3 1110.5L316 1111.2L318.3 1112.5L322.3 1112.8L324.7 1111.2L326.4 1110.2L327 1111.2L328.6 1116.5L330.4 1118.8L332.2 1116.5L334.4 1114.3L338.4 1111.2L338.4 1111.1L342.5 1108.2L345.1 1111.2L345.8 1116.5L346.5 1117.4L347.7 1116.5L349.4 1111.2L350.5 1110.3L354.6 1108.5L355.8 1111.2L358.6 1113.1L360 1111.2L361.3 1106L362.6 1104.2L365 1106L365.8 1111.2L366.6 1115.6L370.7 1113.3L374.7 1113.4L378.7 1111.4L378.8 1111.2L381.5 1106L382.7 1104.6L386.5 1100.8L386.8 1100.4L387.2 1100.8L390.8 1104.2L391.9 1106L394.8 1108.4L396.5 1111.2L398.8 1114L401.4 1111.2L401.8 1106L402.9 1105L405.2 1106L406.9 1107L410.9 1106.7L411.6 1106L414.9 1102.1L419 1101.5L420.3 1100.8L421.9 1095.6L423 1092.4L424.2 1095.6L424.7 1100.8L425.6 1106L426.1 1111.2L427 1114L428.7 1111.2L431 1108.7L435.1 1108.5L438.3 1106L438.3 1100.8L438.3 1095.6L439.1 1093.6L440.1 1095.6L440.3 1100.8L439.8 1106L443.1 1110.9L445.7 1106L447.1 1103.1L449.5 1100.8L451.2 1099L454 1095.6L455.2 1094.4L455.7 1095.6L457.4 1100.8L459.2 1104.7L463.3 1103.2L467.3 1105.5L471.3 1104.8L473.7 1100.8L475.3 1097.9L476.4 1100.8L478.5 1106L479.4 1107.6L481.4 1106L483.4 1104.2L487.1 1100.8L487.4 1100.5L491.4 1098L492.6 1100.8L493.8 1106L495.5 1109.8L497.9 1111.2L499.5 1112.1L499.8 1111.2L499.5 1107.8L499 1106L499.5 1105.2L500.5 1100.8L503.5 1095.6L503.6 1095.6L507.5 1093.4L508.9 1095.6L509.7 1100.8L510.4 1106L511.6 1107.4L515.6 1107.4L517 1106L515.6 1103.1L515 1100.8L514.3 1095.6L514.4 1090.4L515.6 1087.7L516.5 1090.4L517.2 1095.6L519.6 1099.7L521.4 1100.8L523.6 1104L527.7 1105.7L530.5 1106L531.7 1106.7L535.7 1107.5L539.7 1107L542.1 1106L543.8 1105.7L545.2 1106L547.8 1106.7L548.4 1106L551.1 1100.8L551.8 1096.3L554.2 1100.8L555.6 1106L555.9 1106.6L559.9 1106.5L560.2 1106L563.9 1101.4L567.4 1100.8L567.9 1100.7L569.9 1095.6L572 1093L573.8 1095.6L574 1100.8L573.7 1106L574.5 1111.2L576 1112.6L576.7 1111.2L578 1106L578.2 1100.8L580 1098.6L583.5 1100.8L584 1101.4L587.1 1106L588.1 1106.5L589.1 1106L590.5 1100.8L591.1 1095.6L592.1 1092.6L596.1 1091.5L596.5 1090.4L600.1 1085.2L603.6 1090.4L604.2 1091.1L605.5 1090.4L608.2 1088.7L611.5 1090.4L608.7 1095.6L608.2 1095.9L607 1100.8L607.9 1106L608.2 1106.4L608.6 1106L611.2 1100.8L612.2 1098.8L616.2 1096.1L618.3 1100.8L619.1 1106L619.9 1111.2L620.3 1112L624.3 1112.4L627.2 1111.2L628.1 1106L628.3 1101.6L628.5 1106L632.3 1110.7L636.4 1106.9L637.3 1106L640.4 1100.8L640.4 1100.7L642 1100.8L644.4 1100.9L648.4 1103.8L652.5 1105.6L652.5 1100.8L652.5 1096.2L651.3 1095.6L649.1 1090.4L651.9 1085.1L652.5 1084L652.5 1079.9L652.5 1074.7L652.5 1069.5L652.5 1064.3L652.5 1059L652.5 1053.8L652.5 1048.6L652.5 1048.1L651.7 1048.6L648.4 1052.2L647.4 1053.8L644.4 1058.2L643.5 1059L640.6 1064.3L640.4 1064.8L640.1 1064.3L638.5 1059L636.4 1056.4L634.2 1053.8L632.3 1050.9L628.4 1053.8L628.3 1054L628.2 1053.8L624.3 1050L623.2 1048.6L620.3 1046.9L618.7 1048.6L616.2 1051.8L612.6 1053.8L612.2 1054.1L608.2 1057.1L607.3 1053.8L605.5 1048.6L604.2 1047.3L600.1 1047.5L597.6 1048.6L596.1 1050L593.1 1053.8L592.1 1056.2L590.9 1053.8L588.1 1050.4L585.5 1048.6L584 1048L583.6 1048.6L582.9 1053.8L584 1055.6L585.1 1059L584 1062.8L580 1059.8L579.1 1059L578.3 1053.8L576 1050.5L573.3 1053.8L572 1057.6L567.9 1054.3L563.9 1054.2L563.7 1053.8L560.3 1048.6L559.9 1048.2L559.6 1048.6L557.1 1053.8L555.9 1057L553.9 1053.8L552 1048.6L551.8 1048.4L551.5 1048.6L547.8 1052L543.8 1051.8L539.7 1050.2L536.4 1048.6L535.7 1047.3L535.2 1048.6L535.7 1049.4L537.2 1053.8L536.8 1059L535.7 1062.3L533.4 1059L531.7 1054.5L531.1 1053.8L528.6 1048.6L527.7 1047.8L526.9 1048.6L525.8 1053.8L523.6 1055.6L519.9 1059L519.6 1062.8L519.5 1059L518.6 1053.8L515.6 1053L513.8 1053.8L511.6 1054.4L511.1 1053.8L507.5 1048.7L503.5 1049.3L499.6 1053.8L499.5 1055.1L499.4 1053.8L497.7 1048.6L496 1043.4L495.5 1043L495 1043.4L493.7 1048.6L493.3 1053.8L491.4 1057.5L488.7 1053.8L487.4 1048.9L486.3 1048.6L483.4 1048.3L483.1 1048.6L480.2 1053.8L479.4 1055.2L475.3 1057.9L473.1 1053.8L471.3 1050.6L469.2 1053.8L467.6 1059L467.3 1059.9L466.2 1059L463.8 1053.8L464.5 1048.6L463.3 1045.4L461.6 1048.6L461.8 1053.8L459.2 1055.3L458.3 1053.8L455.2 1049.9L453.3 1053.8L451.2 1058.2L449.7 1053.8L447.1 1050L444.1 1053.8L443.1 1055.6L439.8 1053.8L439.1 1053.1L435.1 1053L433.7 1053.8L431 1055L430.3 1053.8L428.3 1048.6L427 1045.6L424.6 1048.6L423 1050.1L419.2 1053.8L419 1054.2L418.6 1053.8L414.9 1048.9L411.4 1053.8L410.9 1054.3L409.7 1053.8L406.9 1052.8L404.9 1048.6L403.9 1043.4L402.9 1042L401.4 1043.4L399.9 1048.6L398.8 1049.9L394.8 1051.2L391.8 1048.6L390.8 1047.6L388.7 1048.6L387.1 1053.8L386.8 1054.5L386.5 1053.8L383 1048.6L382.7 1048.5L378.7 1047.7L374.7 1046.7L370.7 1048.3L370.3 1048.6L366.6 1051.4L363.2 1053.8L362.6 1054.5L362 1053.8L358.6 1050.2L357.1 1048.6L354.6 1046.6L350.5 1046.1L346.5 1044.6L342.5 1045.8L338.4 1047.6L334.4 1045.4L330.4 1044.4L326.8 1048.6L326.4 1049.9L322.3 1048.9L321.9 1048.6L318.3 1046.9L315.5 1043.4L314.3 1042.2L310.3 1040.9L308.7 1043.4L306.3 1048.6L306.2 1048.7L302.2 1051.7L300 1048.6L298.2 1045.7L294.2 1047L290.1 1045.3L287.1 1048.6L286.1 1049.6L285.7 1048.6L283 1043.4L282.1 1042.2L281.1 1043.4L278.2 1048.6L278.1 1048.8L274 1049.9L270 1049L269.3 1048.6L266 1046.9L262 1047L257.9 1046.2L254.9 1048.6L253.9 1049L253.7 1048.6L250.7 1043.4L249.9 1042.6L247 1043.4L245.8 1044.1L243.8 1043.4L241.8 1043L240.8 1043.4L237.8 1044.9L233.8 1044.5L232.7 1043.4L229.7 1039.7L227.4 1043.4L225.7 1045L221.7 1045.1L218.6 1043.4L217.7 1042.3L213.6 1041.5L211.3 1038.2L209.6 1035.8L206.8 1038.2L206.3 1043.4L205.6 1046.9L201.6 1048.5L199.2 1043.4L197.5 1040.2L193.5 1039.1L191.1 1038.2L189.5 1037.2L185.5 1038.1L183.4 1038.2L181.4 1034.2L180.4 1038.2L179.4 1041.5L178.1 1038.2L177.4 1036.4L176.6 1032.9L175.4 1029.5L174.3 1032.9L173.4 1036.7L172.7 1038.2L171.8 1043.4L171.4 1044L171.1 1043.4L170.5 1038.2L169.4 1033.2L167.3 1034.3L166.9 1032.9L165.3 1030.6L164.1 1027.7L163.3 1024.7L162.8 1022.5L162 1017.3L161.3 1013.1L159.7 1012.1L159.3 1011.8L157.3 1007.7L157.1 1006.8L157.3 1005.2L157.6 1001.6L157.8 996.4L157.3 991.2L157.3 991L157.2 991.2L156.2 996.4L155.5 1001.6L155.3 1001.8L155.2 1001.6L154.9 996.4L154.5 991.2L153.3 986L151.2 987.2L149.2 986.5L148.9 986L147.2 982.9L145.2 984.3L143.2 981.1L142.6 986L142.3 991.2L142.3 996.4L142.6 1001.6L142.6 1006.8L142.3 1012.1L142.2 1017.3L142 1022.5L142 1027.7L142 1032.9L142.1 1038.2L142.2 1043.4L142.4 1048.6L142.6 1053.8L142.6 1059L142.6 1064.3L142.8 1069.5L142.9 1074.7L142.8 1079.9L142.8 1085.1L143.1 1090.4L143.2 1091.5L145.2 1094.3L146.8 1090.4L147.2 1089.2L149.2 1088.9L151.2 1090.1L151.4 1090.4L153.3 1093.5L155.3 1091.1L155.9 1095.6L156.8 1100.8L157.3 1102.2L158.1 1100.8L159.3 1097.5L160.1 1100.8L160.9 1106L161.3 1106.9L163.3 1108.1L163.9 1111.2L165 1116.5L165.3 1117.5L167.3 1120.2L168.7 1116.5L169.4 1114.1L171.4 1116L173.4 1114.5L174.7 1111.2L175.4 1109.5L176 1111.2L177.4 1114.2L179.4 1112.3L181.3 1111.2L181.4 1111.1L183.4 1109.8L185.5 1111.1L185.6 1111.2L187.6 1116.5ZM571.7 1116.5L572 1119.9L572.4 1116.5L572 1115.6ZM166.7 1022.5L167.3 1026.9L168.6 1022.5L167.9 1017.3L167.3 1016.1L167 1017.3Z" fill="#7FC08B" stroke="#1c1c2c" stroke-width="0.45" stroke-linejoin="round" fill-rule="evenodd"/><path d="M228.6 1116.5L229.7 1118.6L230.7 1116.5L232.7 1111.2L233.8 1108.6L235.1 1106L236.5 1100.8L237.8 1099.6L241.4 1095.6L241.8 1094.9L242.9 1095.6L245.8 1097.8L249.9 1098.7L253.9 1096.8L255.2 1100.8L257.9 1105.8L258.2 1106L262 1108.3L266 1106.7L267.3 1106L268.5 1100.8L269 1095.6L270 1093.3L274 1094.2L278 1090.4L278.1 1090.3L278.1 1090.4L280.6 1095.6L282.1 1099.5L286.1 1099.5L290.1 1097L291.2 1095.6L294.2 1093.9L295.7 1095.6L296.6 1100.8L298.2 1102.8L300.9 1100.8L302.2 1099.5L303.2 1100.8L306.2 1103.3L310.3 1102.3L313.8 1106L314.3 1106.4L318.3 1107L322.3 1108.2L326 1106L326.4 1105.9L330.1 1106L329.9 1111.2L330.4 1112.7L333.7 1111.2L334.4 1110.7L336.5 1106L338.4 1102L342.5 1102.7L346.5 1103.4L350.5 1104.2L352.9 1100.8L354.5 1095.6L354.6 1095.3L355.5 1095.6L358.6 1096.7L362.6 1096.1L366.6 1096.7L368.7 1095.6L370.7 1094.7L374.7 1094.6L377.2 1090.4L378.2 1085.1L378.7 1084.3L380.1 1085.1L380.7 1090.4L382.2 1095.6L382.7 1097L383.7 1095.6L386.8 1093.9L390.3 1090.4L390.8 1088.7L391.5 1090.4L392.7 1095.6L393.4 1100.8L394.8 1102.9L396 1100.8L396.5 1095.6L398.8 1092.5L402.6 1095.6L402.9 1096L406.9 1096.9L410.9 1099.4L414 1095.6L414.9 1094.8L418.1 1095.6L419 1095.8L419.1 1095.6L420.7 1090.4L422.9 1085.1L423 1085L423 1085.1L424.6 1090.4L427 1095.2L427.3 1095.6L429.6 1100.8L431 1103.4L435.1 1103.4L436.1 1100.8L436.2 1095.6L437.8 1090.4L439.1 1089.3L439.9 1090.4L442.7 1095.6L443.1 1097.9L445.4 1095.6L446.5 1090.4L447.1 1086.6L448.7 1085.1L451.2 1083.2L452.4 1085.1L455.2 1087.9L456.2 1090.4L458.9 1095.6L459.2 1096.3L463.3 1099L466 1100.8L467.3 1101.7L468.6 1100.8L471.3 1098L472.8 1095.6L474.3 1090.4L475.3 1087.6L477.6 1085.1L479.4 1084L481.5 1085.1L482.9 1090.4L483.4 1092.4L487.4 1092.6L489.1 1090.4L491.4 1085.4L492.2 1090.4L495.5 1095.4L495.8 1095.6L499.5 1097.8L500.9 1095.6L503.5 1090.7L504.5 1090.4L507.5 1089.5L511 1090.4L511.5 1095.6L511.6 1096.1L511.6 1095.6L511.7 1090.4L511.6 1089.3L511.1 1085.1L511.6 1082.9L515.6 1083.5L519.5 1085.1L518.6 1090.4L519.6 1093.6L523.6 1093.2L524.6 1095.6L525.8 1100.8L527.7 1102.7L530.4 1100.8L531.4 1095.6L531.7 1094.1L533.1 1095.6L535.7 1100.2L536.6 1095.6L535.7 1091.5L535 1090.4L535.1 1085.1L535.7 1082.2L536.5 1085.1L536.4 1090.4L539.7 1091.8L542.9 1090.4L543.8 1090L544.1 1090.4L544.5 1095.6L543.8 1097.3L543.1 1100.8L543.8 1101.5L547.8 1102.2L548.6 1100.8L549 1095.6L551.8 1090.4L551.8 1090.3L551.9 1090.4L555.9 1094.5L559.9 1094.4L563.9 1094.2L567.9 1091.5L568.8 1090.4L572 1089.2L575.3 1085.1L576 1080.7L577.3 1085.1L578.8 1090.4L580 1091.8L581.5 1090.4L583 1085.1L584 1083.4L588.1 1081.7L592.1 1081.3L594.4 1085.1L596.1 1085.3L596.2 1085.1L600.1 1080.8L601.9 1085.1L604.2 1088.3L607.5 1085.1L608.2 1083.6L612.2 1084.3L612.6 1085.1L616.2 1089.9L616.7 1090.4L619.5 1095.6L620.3 1098L624.3 1099.5L625.5 1095.6L628.3 1091.4L630.9 1095.6L632.3 1099.1L633.5 1100.8L636.4 1103L637.9 1100.8L639.4 1095.6L640.4 1093L644 1090.4L644.4 1089.9L647.4 1085.1L648.4 1084.6L651.5 1079.9L652.5 1076.9L652.5 1074.7L652.5 1069.5L652.5 1064.3L652.5 1063.3L648.5 1059L648.4 1058.9L648.3 1059L644.4 1062.3L643.1 1064.3L641.4 1069.5L640.4 1070.4L639.5 1069.5L636.9 1064.3L636.4 1062.9L633.6 1059L632.3 1057.5L631.1 1059L629.7 1064.3L631.4 1069.5L632.3 1072.8L632.8 1074.7L632.5 1079.9L632.3 1080.1L631.7 1079.9L628.3 1078.6L626.1 1074.7L624.3 1070.2L624 1069.5L624.1 1064.3L620.3 1059.5L618.9 1059L616.2 1058L614.6 1059L612.2 1063.6L612 1064.3L611.6 1069.5L608.2 1074.7L606.5 1069.5L605.1 1064.3L605.7 1059L605.4 1053.8L604.2 1051L600.1 1050.2L597 1053.8L596.9 1059L597 1064.3L596.8 1069.5L596.1 1073.2L593.8 1074.7L592.1 1079.5L591.7 1074.7L591.3 1069.5L590.7 1064.3L588.6 1059L588.1 1057.8L587.7 1059L585.8 1064.3L584 1067.3L581.1 1064.3L580 1063.2L577.4 1064.3L576 1065.8L572.6 1064.3L572 1064.1L567.9 1062.6L563.9 1059.2L563.7 1059L561 1053.8L559.9 1052.1L559 1053.8L558.4 1059L555.9 1062.1L553.1 1059L551.8 1056.8L547.8 1057L543.8 1057.9L539.7 1054.3L538.7 1059L537.6 1064.3L536.1 1069.5L535.7 1070.8L535 1069.5L532.1 1064.3L531.7 1063.7L527.7 1061.9L523.6 1059.7L521.7 1064.3L519.6 1069.5L519.6 1069.6L519.6 1069.5L517.9 1064.3L516.9 1059L515.6 1057L511.6 1056.9L509.1 1053.8L507.5 1051.5L504.5 1053.8L503.5 1056.3L502.5 1059L502 1064.3L499.5 1066.6L497.2 1064.3L495.5 1059.3L491.4 1063.5L487.4 1060.7L485.6 1059L483.4 1054.1L480.9 1059L479.7 1064.3L479.4 1064.8L479 1064.3L475.3 1062.5L472.1 1064.3L471.3 1065.2L467.3 1066L463.6 1069.5L463.3 1073.9L462.7 1069.5L459.2 1065.5L458.4 1064.3L455.2 1061L451.2 1061.8L448.3 1059L447.1 1055.8L445.4 1059L443.1 1063.8L439.1 1059.6L435.1 1059.8L431 1059.8L430.3 1059L427.5 1053.8L427 1052.6L425.4 1053.8L423 1054.7L419.6 1059L419 1063.5L418.1 1059L414.9 1055.7L411.7 1059L410.9 1060.6L410.2 1059L406.9 1056.3L403.7 1059L402.9 1062.2L399.5 1059L398.8 1058.4L398.5 1059L394.8 1063.4L393.6 1059L391.1 1053.8L390.8 1053.5L390.6 1053.8L387.7 1059L386.8 1060.9L385.7 1059L383.4 1053.8L382.7 1052.8L379.9 1053.8L378.7 1055.7L378.2 1053.8L374.7 1051L370.7 1052.4L368.8 1053.8L366.6 1055.8L363.6 1059L362.6 1060.7L361.2 1059L358.6 1056.5L355 1053.8L354.6 1053.3L350.5 1050.1L348.2 1048.6L346.5 1047.9L345.5 1048.6L343.6 1053.8L342.5 1055.7L339.4 1059L338.4 1060.5L334.4 1061.2L333.3 1059L333.6 1053.8L332.4 1048.6L330.4 1047.5L329.5 1048.6L327.5 1053.8L326.4 1055.9L323 1053.8L322.3 1053.4L318.3 1050.6L315.7 1048.6L314.3 1047L310.3 1047.5L309.7 1048.6L307.4 1053.8L306.2 1054.9L302.2 1056.1L300.2 1053.8L298.2 1050.9L294.2 1050.6L290.7 1053.8L290.1 1055L286.1 1056.9L284.5 1053.8L282.9 1048.6L282.1 1047.1L281.2 1048.6L279.3 1053.8L278.1 1058.3L276.1 1053.8L274 1053L270 1053.5L266 1052.2L262 1051.4L257.9 1051.4L253.9 1052.8L251.6 1048.6L249.9 1045.9L247.2 1048.6L245.8 1051.8L243.8 1048.6L241.8 1047.1L239.8 1048.6L237.8 1049.9L235 1048.6L233.8 1048.1L229.7 1044.5L225.7 1047.6L223.8 1048.6L221.7 1051.2L219.1 1048.6L217.7 1047.5L213.6 1044.6L210.3 1043.4L209.6 1042.2L209.4 1043.4L208 1048.6L206.1 1053.8L205.6 1055.8L203.6 1053.8L201.6 1052.7L198.4 1048.6L197.5 1046.4L195.1 1043.4L193.5 1042.6L190.9 1043.4L189.5 1045L185.7 1048.6L185.5 1048.7L185.4 1048.6L184 1043.4L183.4 1042.3L181.9 1043.4L181.4 1043.8L179.4 1045.5L177.4 1045.2L176.9 1043.4L176.1 1038.2L175.4 1034.8L174.7 1038.2L174.1 1043.4L173.4 1045.8L171.4 1047.9L169.7 1043.4L169.4 1040.9L167.3 1039.8L166.8 1038.2L165.3 1034.3L163.3 1033L163.3 1032.9L162.7 1027.7L161.5 1022.5L161.3 1021.1L159.3 1020.8L159.1 1022.5L158.4 1027.7L157.3 1032.9L157.3 1033.1L157.3 1032.9L156.8 1027.7L156.7 1022.5L157.1 1017.3L156.9 1012.1L155.5 1006.8L155.3 1006.2L154.6 1001.6L154.2 996.4L153.6 991.2L153.3 989.7L152 991.2L151.2 993.1L149.2 991.7L147.6 996.4L147.2 1000.9L145.2 997.4L145.1 996.4L145.2 993.7L145.9 991.2L145.2 990.5L144.1 986L143.2 984.3L143 986L142.6 991.2L142.6 996.4L143 1001.6L142.9 1006.8L142.6 1012.1L142.4 1017.3L142.2 1022.5L142.2 1027.7L142.2 1032.9L142.4 1038.2L142.5 1043.4L142.7 1048.6L143 1053.8L142.9 1059L143 1064.3L143.2 1068L143.6 1069.5L143.5 1074.7L143.2 1079.5L143.2 1079.9L143.2 1081.2L143.3 1085.1L145.2 1089.7L146.9 1085.1L147.2 1084.3L149.2 1084.5L151.2 1084L151.8 1085.1L153.3 1088.4L155.3 1088L156.1 1090.4L156.8 1095.6L157.3 1097.8L158.1 1095.6L159.3 1093.3L160 1095.6L161.3 1100L161.8 1100.8L163.3 1103.7L163.9 1106L165 1111.2L165.3 1112.9L167.3 1115.6L168.6 1111.2L169.4 1108L171.4 1106.7L171.8 1106L173.4 1103.8L175.2 1100.8L175.4 1100.1L175.7 1100.8L177.1 1106L177.4 1106.8L179.4 1107.1L180 1106L181 1100.8L181.4 1100.2L182.2 1100.8L183.4 1102.4L184.4 1106L185.5 1107.8L188.4 1111.2L189.5 1114.6L192.1 1111.2L193.5 1110.3L196.6 1106L197.5 1104.4L199.4 1106L201.6 1107.1L205.6 1109.3L208.6 1106L209.6 1105.6L213.6 1101.7L215.9 1100.8L217.7 1100.4L221.7 1098.9L222.5 1100.8L225 1106L225.7 1108.3L226.4 1111.2ZM229.7 1054.1L229.6 1053.8L229.7 1053.1L229.9 1053.8ZM318.3 1101.8L318.2 1100.8L318.3 1100.5L318.5 1100.8ZM354.6 1059.2L354.5 1059L354.6 1057.6L354.7 1059ZM463.3 1079.9L463.2 1079.9L463.3 1078.6L463.3 1079.9ZM519.6 1084.7L519 1079.9L519.6 1078L520.9 1079.9ZM145.2 1065L144.8 1064.3L144.8 1059L145.2 1056.9L145.9 1059L145.5 1064.3ZM169.4 1102.8L168.8 1100.8L168.2 1095.6L168.6 1090.4L169.4 1090L169.5 1090.4L170 1095.6L169.6 1100.8ZM217.3 1111.2L217.7 1112.4L218.1 1111.2L217.7 1106L217.7 1105L217.5 1106ZM368.7 1106L370.7 1109.3L373.5 1106L372.2 1100.8L370.7 1097L369 1100.8ZM470.5 1059L471.3 1062.8L472.3 1059L471.3 1057.2Z" fill="#F2E635" stroke="#1c1c2c" stroke-width="0.45" stroke-linejoin="round" fill-rule="evenodd"/><path d="M228.6 1111.2L229.7 1114.1L230.8 1111.2L229.7 1107.3ZM164.9 1106L165.3 1108L166.6 1106L166.4 1100.8L165.5 1095.6L165.9 1090.4L167.3 1086.9L169.4 1087L171.1 1090.4L171.1 1095.6L171.1 1100.8L171.4 1101.8L171.9 1100.8L173.4 1097.2L173.9 1095.6L175.4 1091.8L177.2 1095.6L177.4 1096L177.6 1095.6L179.4 1090.6L181.4 1095.5L181.9 1095.6L183.4 1095.9L184.4 1100.8L185.5 1104.2L188.1 1106L189.5 1107.6L192.5 1106L193.5 1105.7L196.6 1100.8L197.5 1097.5L199.3 1100.8L201.6 1103L204.3 1100.8L205.6 1095.9L206.3 1100.8L209.6 1103.3L211.8 1100.8L212.5 1095.6L213.5 1090.4L213.6 1089.9L214 1090.4L217.7 1095.3L221.7 1092.4L223.1 1095.6L225.2 1100.8L225.7 1101.8L226.4 1100.8L227.9 1095.6L229.7 1091.5L230.9 1090.4L233.1 1085.1L233.8 1082.9L234.6 1085.1L234.9 1090.4L236.2 1095.6L237.8 1096.3L238.4 1095.6L241.5 1090.4L241.8 1090L242.4 1090.4L245.8 1093.3L249 1090.4L249.9 1085.3L253.9 1086L255.3 1090.4L257.6 1095.6L257.9 1096.9L258.9 1100.8L262 1103.8L265.9 1100.8L266 1100.7L267 1095.6L268.8 1090.4L270 1089.2L274 1089.8L278.1 1087.1L280.1 1090.4L282.1 1094.6L285.4 1095.6L286.1 1095.8L286.4 1095.6L290.1 1092.6L293.9 1090.4L294.2 1090.2L298.1 1085.1L298.2 1084.8L298.3 1085.1L299.3 1090.4L302.2 1094.9L303.5 1095.6L306.2 1099L309.5 1095.6L307.1 1090.4L310.1 1085.1L310.3 1085L314.1 1085.1L314.3 1085.2L316.6 1090.4L318.3 1092.3L320.5 1090.4L322.3 1089L323.1 1090.4L323.8 1095.6L324 1100.8L326.4 1101.7L327.1 1100.8L327.7 1095.6L328.8 1090.4L330.4 1087.3L334.4 1090.3L334.7 1090.4L338.4 1091.8L342.5 1090.7L344 1095.6L346.5 1099L350.5 1099.2L351.5 1095.6L352.4 1090.4L354.6 1088.9L356.5 1090.4L358.6 1092.6L362.4 1090.4L362.6 1090L362.7 1090.4L366.6 1093.1L370 1090.4L370.7 1089.7L374.7 1089.9L376.2 1085.1L378.7 1081.2L381.4 1079.9L382.7 1078.9L383 1079.9L383.7 1085.1L386.1 1090.4L386.8 1090.6L387 1090.4L389.6 1085.1L390.8 1083.6L392.2 1085.1L394.8 1089.4L398.8 1085.6L402.9 1089.9L406.9 1087.5L409.3 1085.1L410.9 1084.1L411.8 1085.1L414.9 1089L417.2 1085.1L419 1084L421.3 1079.9L423 1077.4L424.7 1079.9L426.3 1085.1L426.8 1090.4L427 1090.9L431 1095.6L431 1095.7L431.2 1095.6L434.3 1090.4L434.4 1085.1L435.1 1084.3L435.9 1085.1L439.1 1086.6L441.9 1090.4L443.1 1092.6L444.4 1090.4L446 1085.1L447.1 1081.5L448.6 1079.9L451.2 1076.6L455.1 1079.9L455.2 1080.1L455.3 1079.9L459.2 1076L460 1074.7L459.2 1073.1L455.8 1069.5L455.2 1068.5L451.2 1065.2L449.9 1064.3L447.1 1062.2L445.9 1064.3L444.3 1069.5L443.1 1070.7L442.3 1069.5L439.1 1064.4L435.1 1066.8L431 1064.5L430.9 1064.3L427 1060.2L425.2 1059L423 1058.1L422.3 1059L420.4 1064.3L419 1069.2L416.8 1064.3L414.9 1059.6L412.5 1064.3L410.9 1067L409.9 1064.3L406.9 1059.2L404.3 1064.3L402.9 1067L398.8 1067L394.8 1066.4L393 1064.3L391.4 1059L390.8 1057.8L390.1 1059L387.7 1064.3L386.8 1065.8L384.4 1064.3L383 1059L382.7 1058.4L382.3 1059L378.7 1063.7L376.6 1059L374.7 1055.2L370.7 1056.7L368.3 1059L366.6 1062.8L365.8 1064.3L362.6 1067.1L358.7 1064.3L358.6 1064.1L358.4 1064.3L354.6 1065.7L352 1064.3L351.6 1059L350.5 1056.1L348.7 1059L346.5 1062.9L342.5 1061.6L340.6 1064.3L338.4 1067.2L334.4 1066L330.4 1064.5L330.3 1064.3L326.4 1060.3L322.3 1063.4L321.2 1059L318.3 1054.8L314.3 1054.8L310.3 1057.6L308.2 1059L306.2 1059.9L302.2 1060.5L300.5 1059L298.2 1056.5L295.8 1059L296.4 1064.3L295.5 1069.5L294.2 1071L292.8 1069.5L290.6 1064.3L290.1 1063.4L286.1 1062.4L282.1 1060.3L279.8 1064.3L278.1 1066.3L277.1 1064.3L274.6 1059L274 1058.1L270 1056.9L266 1057.9L264.9 1059L262.7 1064.3L262 1065.5L261.7 1064.3L260.9 1059L257.9 1055L254.4 1059L253.9 1060.3L253.2 1059L251.1 1053.8L249.9 1050.8L248.7 1053.8L245.8 1057.2L242.7 1059L242.8 1064.3L242 1069.5L241.8 1069.7L241.7 1069.5L241.2 1064.3L241.6 1059L241.8 1054.8L242 1053.8L241.8 1053.6L237.8 1053.8L233.8 1051.7L232.4 1053.8L229.8 1059L229.7 1059.1L229.7 1059L228 1053.8L225.7 1050.2L222.9 1053.8L221.7 1056L219.1 1053.8L217.7 1052.3L215.2 1048.6L213.6 1047.3L211.5 1048.6L209.6 1050.2L207.9 1053.8L206.6 1059L205.6 1060.8L202.5 1059L201.6 1058.1L197.5 1055.4L193.5 1054.4L193.1 1053.8L189.5 1051.7L185.5 1052.7L184.3 1048.6L183.4 1046.1L181.7 1048.6L181.4 1049.8L180 1048.6L179.4 1048.5L179.3 1048.6L177.4 1050.6L175.8 1048.6L175.4 1047.1L175 1048.6L173.4 1051.8L171.4 1052.5L169.4 1051.7L168.3 1053.8L167.5 1059L167.3 1059.9L167.1 1059L167 1053.8L167.3 1049.8L167.7 1048.6L167.3 1046.8L165.3 1043.6L165.2 1043.4L163.3 1038.4L162.3 1043.4L161.3 1047.3L160.6 1043.4L160.5 1038.2L161.3 1034.5L161.6 1032.9L161.4 1027.7L161.3 1027.5L161.2 1027.7L159.3 1032.2L159.1 1032.9L158.4 1038.2L157.9 1043.4L157.6 1048.6L157.5 1053.8L157.5 1059L157.3 1061.8L156.5 1059L157 1053.8L157 1048.6L156.8 1043.4L156.7 1038.2L156.5 1032.9L155.8 1027.7L156 1022.5L156.4 1017.3L156 1012.1L155.3 1009.6L154.5 1006.8L153.9 1001.6L153.5 996.4L153.3 994.6L152.5 996.4L151.7 1001.6L151.8 1006.8L151.2 1010.7L150.6 1006.8L150.5 1001.6L149.2 996.9L148.6 1001.6L147.9 1006.8L147.2 1009.8L146.3 1006.8L145.2 1003.9L143.6 1006.8L143.2 1007.6L142.9 1012.1L142.7 1017.3L142.4 1022.5L142.4 1027.7L142.5 1032.9L142.6 1038.2L142.8 1043.4L143 1048.6L143.2 1051.7L145.2 1050L147.1 1048.6L147.2 1048.6L149.2 1052.3L151.2 1053.8L151.7 1059L152.1 1064.3L152.1 1069.5L151.2 1072.2L149.2 1069.6L147.2 1069.9L145.2 1071.4L144.6 1074.7L144.1 1079.9L144.9 1085.1L145.2 1085.8L145.5 1085.1L147.1 1079.9L147.2 1079.2L147.6 1079.9L149.2 1081.1L151.2 1080.4L153.3 1084.1L154.8 1085.1L155.3 1085.3L157.1 1090.4L157.3 1091.5L158.6 1090.4L159.3 1089.9L159.4 1090.4L161 1095.6L161.3 1096.5L162.5 1095.6L163.3 1091.7L164.9 1095.6L163.9 1100.8ZM217.7 1067.2L217.2 1064.3L217.7 1061.5L218.1 1064.3ZM314.3 1085L314 1079.9L314.3 1079.5L314.6 1079.9ZM346.5 1074.7L345.8 1069.5L346.5 1066.1L350.5 1066.8L351.3 1069.5L350.5 1071.6L346.5 1074.7ZM370.7 1069.8L370.5 1069.5L370.7 1069.2L370.9 1069.5ZM151.2 1053.8L151 1048.6L150.5 1043.4L150.8 1038.2L150.7 1032.9L151.2 1030.9L152.5 1032.9L151.9 1038.2L152.7 1043.4L151.4 1048.6ZM527.2 1095.6L527.7 1097.3L528.2 1095.6L527.7 1093.9ZM634.8 1095.6L636.4 1097.9L637.1 1095.6L636.4 1092ZM458.7 1090.4L459.2 1091.3L463.3 1095L466 1090.4L467.3 1088.2L470.7 1090.4L471.3 1090.7L471.4 1090.4L473.6 1085.1L475.3 1081.8L478.5 1079.9L479.4 1078.4L480.4 1079.9L483.4 1081.3L487.4 1084.7L491.4 1080.1L491.9 1079.9L495.5 1075.7L499.5 1075.4L501.1 1074.7L499.5 1073.1L497.3 1069.5L495.5 1068L491.4 1069.4L487.4 1064.5L483.8 1069.5L483.4 1070.4L479.4 1073.4L477.5 1069.5L475.3 1066.5L472.9 1069.5L471.3 1071.3L467.4 1069.5L467.3 1069.4L467.2 1069.5L465.2 1074.7L465.5 1079.9L464.4 1085.1L463.3 1086.3L459.2 1087.7ZM494.2 1090.4L495.5 1092.3L499.5 1092.3L500.4 1090.4L499.5 1088.1L498.3 1085.1L495.5 1081.3L493.5 1085.1ZM555 1090.4L555.9 1091.3L557.8 1090.4L558.7 1085.1L557.8 1079.9L559 1074.7L556.5 1069.5L555.9 1069L551.8 1066.6L547.8 1065.3L545.9 1069.5L546.4 1074.7L547.8 1076.3L551.8 1077.1L552.7 1079.9L552.2 1085.1ZM631.2 1090.4L632.3 1092.2L635 1090.4L632.3 1087.2ZM503 1085.1L503.5 1085.5L507.5 1085.5L507.8 1085.1L509.6 1079.9L511.6 1074.8L514.6 1079.9L515.6 1080.6L516.3 1079.9L518.6 1074.7L518 1069.5L516.1 1064.3L515.6 1062.4L511.6 1061.4L510.5 1059L507.5 1055.4L506 1059L507.2 1064.3L505.4 1069.5L503.9 1074.7L503.5 1079.5L503.4 1079.9ZM545.3 1085.1L547.8 1088.7L550.4 1085.1L547.8 1083.8ZM563.3 1085.1L563.9 1086L565 1085.1L565.2 1079.9L567.9 1079.4L568.3 1079.9L569.1 1085.1L572 1086.7L573.3 1085.1L573.8 1079.9L573.6 1074.7L572.7 1069.5L572 1068.8L567.9 1066.2L564.1 1069.5L563.9 1070.9L561.9 1074.7L563.7 1079.9ZM603.6 1085.1L604.2 1085.9L605 1085.1L607.6 1079.9L606.7 1074.7L604.2 1069.7L603.8 1069.5L602.7 1064.3L602.9 1059L602.1 1053.8L600.1 1053L599.4 1053.8L598.4 1059L598.3 1064.3L598.4 1069.5L599.8 1074.7L600.1 1075.2L601.2 1079.9ZM615.9 1085.1L616.2 1085.5L618.2 1085.1L616.2 1083.5ZM623.9 1085.1L624.3 1085.2L627.2 1085.1L625.1 1079.9L624.3 1078.6L623.1 1079.9ZM639.9 1085.1L640.4 1085.6L640.8 1085.1L640.4 1084.2ZM531.2 1079.9L531.7 1081.6L532 1079.9L533.5 1074.7L531.7 1071.8L530.8 1069.5L527.7 1065.4L523.9 1069.5L524.6 1074.7L527.7 1078.5ZM538.1 1079.9L539.7 1083.5L543.8 1083.5L545 1079.9L543.8 1078L542.5 1074.7L540.9 1069.5L539.7 1066.9L539.1 1069.5L537.2 1074.7ZM579.3 1079.9L580 1081.8L581.1 1079.9L584 1076.3L588.1 1075.2L588.3 1074.7L589 1069.5L588.1 1064.3L588.1 1064.1L588 1064.3L586 1069.5L584 1072.7L583.1 1069.5L580 1066L577.2 1069.5L577.2 1074.7ZM636.2 1079.9L636.4 1080.5L637 1079.9L638.5 1074.7L636.4 1072.5L635.7 1074.7ZM646.4 1079.9L648.4 1081.8L649.7 1079.9L651.3 1074.7L652.2 1069.5L649.9 1064.3L648.4 1062.6L646.4 1064.3L645.4 1069.5L645.6 1074.7ZM632.1 1064.3L632.3 1064.9L632.8 1064.3L632.3 1063.7ZM329.8 1053.8L330.4 1057.7L331.1 1053.8L330.4 1052.3ZM142.9 996.4L143.2 1000.1L144.1 996.4L144.3 991.2L143.2 987.6L142.9 991.2Z" fill="#F7931E" stroke="#1c1c2c" stroke-width="0.45" stroke-linejoin="round" fill-rule="evenodd"/><path d="M186.4 1100.8L189.5 1102.6L193.5 1101.3L193.8 1100.8L193.8 1095.6L193.5 1093.7L193 1090.4L193.5 1087L197.5 1088.3L198.1 1090.4L200.7 1095.6L201.6 1097L202.2 1095.6L204.9 1090.4L205.6 1087.7L206.3 1090.4L207.7 1095.6L209.3 1100.8L209.6 1101L209.8 1100.8L211 1095.6L211.4 1090.4L213.5 1085.1L213.6 1084.1L213.9 1085.1L217.7 1090.1L221.7 1086.4L224.5 1090.4L225.7 1093.6L226.8 1090.4L229.7 1087L230.8 1085.1L232.6 1079.9L233.8 1077.1L235.9 1079.9L237.4 1085.1L237.2 1090.4L237.8 1091.7L238.6 1090.4L241.8 1086.6L245.8 1089.7L248.3 1085.1L249.9 1082.3L252.8 1079.9L253.9 1079L256 1079.9L256.9 1085.1L257.9 1089L262 1088.6L266 1089.4L270 1085.9L274 1085.3L274.3 1085.1L278.1 1081.7L279.5 1079.9L282.1 1078.7L284.8 1079.9L282.1 1084.3L281.5 1085.1L282 1090.4L282.1 1090.5L286.1 1091.6L287.9 1090.4L290.1 1088.9L294.2 1087L295.6 1085.1L295.7 1079.9L298.2 1077.5L302.2 1077.4L304.6 1079.9L302.2 1082.7L301.1 1085.1L301.3 1090.4L302.2 1091.8L303.6 1090.4L306.2 1086.3L307 1085.1L310.3 1081.4L311.3 1079.9L314.3 1074.8L317.5 1079.9L318.3 1081.8L322.3 1081.7L323.1 1085.1L326.3 1090.4L326.4 1090.5L326.4 1090.4L329.4 1085.1L330.4 1081.2L334.4 1084.9L336.5 1079.9L338.4 1076.3L340.7 1079.9L342.1 1085.1L342.5 1085.6L344.7 1090.4L346.5 1095.1L349.1 1090.4L350.3 1085.1L346.5 1080.1L346.3 1079.9L344.2 1074.7L343.3 1069.5L342.5 1067.3L340.9 1069.5L338.4 1072.4L334.5 1069.5L334.4 1069.5L330.4 1072.9L326.5 1069.5L326.4 1069L322.3 1069L321.8 1069.5L318.3 1071.7L314.9 1069.5L314.3 1067.4L311.4 1064.3L310.3 1063.9L309.6 1064.3L307.2 1069.5L306.2 1073.2L304 1069.5L302.2 1066.8L300 1069.5L298.2 1071.1L294.2 1074.7L294.2 1074.8L294.2 1074.7L290.1 1069.8L289.5 1069.5L286.1 1065.9L282.1 1065.4L278.8 1069.5L278.1 1071.2L277.5 1069.5L275 1064.3L274 1062.3L270 1060.3L266.6 1064.3L266 1065.2L263.2 1069.5L262 1071.6L261.3 1069.5L260.3 1064.3L258.8 1059L257.9 1057.8L256.9 1059L254.7 1064.3L253.9 1066L249.9 1065.3L249.1 1064.3L245.8 1061.7L244.7 1064.3L243.9 1069.5L241.8 1071.6L240.4 1069.5L240.1 1064.3L239.6 1059L237.8 1056.6L233.8 1055.2L231.6 1059L229.7 1060.9L228.4 1059L226.3 1053.8L225.7 1052.9L225 1053.8L222.1 1059L221.7 1059.8L219.6 1064.3L218.3 1069.5L217.7 1071.2L216.7 1069.5L215.8 1064.3L215.3 1059L215.9 1053.8L213.6 1050.6L209.9 1053.8L209.6 1054.3L208.5 1059L205.6 1064.1L205.2 1064.3L201.6 1069.5L201.6 1069.6L201.5 1069.5L200.9 1064.3L197.5 1059.2L193.5 1061.5L191.7 1059L189.5 1056.1L186.4 1059L185.5 1060.2L184.9 1059L183.4 1054.9L181.4 1058.3L180.2 1053.8L179.4 1052.3L177.4 1053.8L176.1 1059L176.1 1064.3L175.4 1066.9L174.7 1064.3L173.7 1059L173.4 1058.1L171.9 1059L171.4 1059.5L170.4 1059L169.4 1058.7L169.3 1059L168.6 1064.3L167.4 1069.5L167.3 1069.6L167.3 1069.5L166.6 1064.3L165.3 1060.4L164.6 1059L165.3 1057.2L165.8 1053.8L165.3 1050.4L163.5 1053.8L163.3 1054.2L163.2 1053.8L161.3 1051.6L160.3 1048.6L159.6 1043.4L159.3 1040.9L158.9 1043.4L158.6 1048.6L158.3 1053.8L158.5 1059L158.1 1064.3L157.3 1067.4L155.8 1064.3L155.3 1062.5L153.4 1059L155.3 1054.8L155.5 1053.8L156.2 1048.6L156 1043.4L155.9 1038.2L155.7 1032.9L155.3 1030L154.4 1032.9L153.9 1038.2L154.2 1043.4L153.3 1047.8L153 1048.6L152.3 1053.8L153.2 1059L153.2 1064.3L153.2 1069.5L151.8 1074.7L153.1 1079.9L153.3 1080.2L155.3 1081.3L157.3 1085L159.1 1079.9L159.3 1079.5L159.5 1079.9L159.6 1085.1L160.3 1090.4L161.3 1093.5L162.4 1090.4L163.1 1085.1L163.3 1081.8L163.9 1085.1L165.3 1086.7L166 1085.1L167.3 1083.6L169.4 1084L170.3 1085.1L171.4 1086.9L172.5 1090.4L173.4 1092.7L174.3 1090.4L175.4 1088.4L177.4 1086.6L179.4 1086.5L181.4 1089.6L182.4 1090.4L183.4 1091.1L185.5 1094L186.2 1095.6ZM350.9 1085.1L354.6 1086.4L358.6 1089.4L361.5 1085.1L362.1 1079.9L362.6 1077.9L363 1079.9L363.5 1085.1L366.6 1090.2L370.7 1085.9L372.7 1085.1L374.7 1084.1L377.1 1079.9L378.7 1078.8L382.5 1074.7L381.5 1069.5L378.7 1067L375.9 1069.5L374.7 1070.6L371.6 1074.7L370.7 1079.9L370.7 1080.2L370.6 1079.9L369.8 1074.7L366.6 1069.8L362.6 1072.7L359.9 1069.5L358.6 1068.3L354.6 1068.8L354 1069.5L351.4 1074.7L351 1079.9ZM385.7 1085.1L386.8 1087.1L387.8 1085.1L390.8 1081.2L394.3 1085.1L394.8 1086L395.7 1085.1L398.8 1080.6L402.9 1082.2L406.9 1081.2L408.2 1079.9L410.9 1076.7L414.9 1077.9L418.6 1079.9L419 1080L419 1079.9L422.3 1074.7L423 1073.7L423.5 1074.7L427 1079.8L430.8 1074.7L429.9 1069.5L427 1065.3L426.2 1064.3L423 1061.5L421.8 1064.3L421 1069.5L419 1071.9L415 1069.5L414.9 1069.2L414.9 1069.5L410.9 1072.7L409.7 1069.5L407.8 1064.3L406.9 1062.7L406.1 1064.3L403.5 1069.5L402.9 1070.4L398.8 1072.4L396 1069.5L394.8 1068.9L390.9 1064.3L390.8 1064L390.7 1064.3L387.2 1069.5L386.8 1070.1L383.1 1074.7L384.5 1079.9ZM440.3 1085.1L443.1 1089L444.6 1085.1L445.8 1079.9L447.1 1076.4L448.5 1074.7L449.3 1069.5L447.1 1068.8L446.9 1069.5L443.1 1073.6L440.3 1069.5L439.1 1067.6L436.9 1069.5L435.1 1071.4L431.5 1074.7L435.1 1078.6L437.8 1079.9L439.1 1081.1ZM555.2 1085.1L555.9 1086.4L556.4 1085.1L555.9 1082.7ZM145.1 1079.9L145.2 1080.4L145.3 1079.9L145.2 1079.1ZM468.6 1079.9L471.3 1083.9L473.1 1079.9L475.3 1077.2L477.1 1074.7L475.3 1070.8L471.5 1074.7L471.3 1075L470.3 1074.7L467.3 1074.2L467.1 1074.7L467.3 1076.2ZM487 1079.9L487.4 1080.3L487.8 1079.9L491.4 1076.4L492.8 1074.7L491.4 1073L489.3 1069.5L487.4 1067.1L485.7 1069.5L483.4 1074.1L482.7 1074.7L483.4 1075.6ZM602.6 1079.9L604.2 1083.3L606.1 1079.9L605.2 1074.7L604.2 1072.6L602.4 1074.7ZM148.5 1074.7L149.2 1076.3L150.2 1074.7L149.2 1073.6ZM506.4 1074.7L507.5 1078.7L508.8 1074.7L507.5 1072.1ZM513.7 1074.7L515.6 1077.5L517 1074.7L516.3 1069.5L515.6 1067.4L514.3 1069.5ZM526.9 1074.7L527.7 1075.6L529.2 1074.7L528.6 1069.5L527.7 1068.3L526.6 1069.5ZM539.6 1074.7L539.7 1075.6L539.9 1074.7L539.7 1074.2ZM579.9 1074.7L580 1075L580.3 1074.7L580.8 1069.5L580 1068.6L579.3 1069.5ZM647.7 1074.7L648.4 1077.4L649.2 1074.7L649.5 1069.5L648.4 1067.2L647.6 1069.5ZM567.5 1069.5L567.9 1071L568.5 1069.5L567.9 1069.1ZM600.1 1069.5L600.1 1069.7L600.3 1069.5L600.8 1064.3L600.6 1059L600.1 1057.9L599.8 1059L599.7 1064.3ZM143 1043.4L143.2 1046.2L144.7 1043.4L145.1 1038.2L145.2 1037.4L145.9 1038.2L146 1043.4L147.2 1044.4L149.2 1046.7L149.3 1043.4L149.4 1038.2L149.3 1032.9L149.2 1032.5L148.5 1027.7L149.2 1024.8L151.2 1026.3L152.9 1022.5L152.7 1017.3L151.2 1015.6L150.1 1012.1L149.3 1006.8L149.2 1006.3L149.1 1006.8L148.2 1012.1L147.2 1016.6L145.4 1012.1L145.2 1011.2L143.2 1011.4L143.1 1012.1L142.9 1017.3L142.7 1022.5L142.6 1027.7L142.7 1032.9L142.8 1038.2ZM153.6 1017.3L155.3 1021.8L155.7 1017.3L155.3 1013.4L154 1012.1L153.5 1006.8L153.3 1001.9L152.9 1006.8L153 1012.1L153.3 1014.6ZM143.2 991.2L143.2 994.5L143.3 991.2L143.2 990.8Z" fill="#EB1D2E" stroke="#1c1c2c" stroke-width="0.45" stroke-linejoin="round" fill-rule="evenodd"/><path d="M161.2 1090.4L161.3 1090.7L161.4 1090.4L161.3 1086.7ZM172.2 1085.1L173.4 1088.7L175.4 1085.7L175.8 1085.1L177.4 1082.7L179.1 1079.9L179.4 1077.3L179.5 1079.9L181.4 1085L183.3 1079.9L183.2 1074.7L183 1069.5L183.4 1065.9L184.5 1069.5L184.3 1074.7L184.9 1079.9L185.3 1085.1L185.5 1085.4L189.5 1088.9L191.2 1085.1L193.5 1080.4L197.5 1081.1L198.9 1079.9L201.4 1074.7L200.4 1069.5L199.3 1064.3L197.5 1061.6L194.5 1064.3L193.5 1065.1L189.7 1069.5L189.5 1070.2L189 1069.5L185.5 1065.8L184.5 1064.3L183.4 1062.1L181.4 1063.7L180.9 1064.3L179.6 1069.5L179.4 1072.9L178.7 1069.5L177.7 1064.3L178.6 1059L177.4 1057.5L177 1059L177.3 1064.3L176.3 1069.5L175.4 1070.1L174.7 1069.5L173.7 1064.3L173.4 1062.9L172.6 1064.3L172.3 1069.5L172 1074.7L171.5 1079.9ZM207.2 1085.1L209.6 1089.8L211.7 1085.1L212.1 1079.9L213.6 1077.9L215.5 1079.9L217.7 1084.6L221.7 1083.6L224 1085.1L225.7 1087.5L227.8 1085.1L229.7 1082.2L230.6 1079.9L232.8 1074.7L233.8 1069.5L233.8 1069.4L233.8 1069.5L235.7 1074.7L237.8 1077.5L239.1 1079.9L241.8 1083.2L244 1085.1L245.8 1086.6L246.7 1085.1L249.5 1079.9L249.9 1079.3L253.9 1076L257.9 1076.9L260.2 1074.7L259.8 1069.5L258.9 1064.3L257.9 1061.4L256.6 1064.3L254.4 1069.5L253.9 1071L249.9 1070.9L245.8 1069.5L241.8 1073.6L239.1 1069.5L238.9 1064.3L237.8 1059.7L236.1 1059L233.8 1058.4L233.4 1059L229.7 1062.8L227 1059L225.7 1056L224 1059L221.7 1062.8L221 1064.3L219.2 1069.5L217.7 1073.3L215.4 1069.5L214.3 1064.3L213.6 1061.8L209.6 1062.9L209.1 1064.3L205.6 1066.6L203.5 1069.5L202 1074.7L205.6 1078.1L206.8 1079.9ZM290 1085.1L290.1 1085.2L290.3 1085.1L292.9 1079.9L292.8 1074.7L290.1 1071.5L286.8 1069.5L286.1 1068.8L282.1 1068.7L281.5 1069.5L280.5 1074.7L282.1 1075.5L286.1 1076.4L287.5 1079.9ZM325.1 1085.1L326.4 1087.1L327.5 1085.1L329.1 1079.9L328.7 1074.7L326.4 1072.2L322.3 1073.6L320.4 1074.7L322.3 1075.9L323.6 1079.9ZM356.7 1085.1L358.6 1086.4L359.4 1085.1L359.9 1079.9L361.1 1074.7L358.6 1071.5L354.6 1071.7L352.9 1074.7L352.6 1079.9L354.6 1083.7ZM365.3 1085.1L366.6 1087.4L368.6 1085.1L368.8 1079.9L367.8 1074.7L366.6 1072.9L364.7 1074.7L364.6 1079.9ZM442.9 1085.1L443.1 1085.5L443.3 1085.1L443.7 1079.9L443.1 1078.3L442.1 1079.9ZM156.9 1079.9L157.3 1080.6L157.5 1079.9L159.3 1076.7L161.1 1079.9L161.3 1083.4L161.5 1079.9L163.1 1074.7L163.3 1074L163.5 1074.7L164.6 1079.9L165.3 1082.1L167.3 1080.9L169.4 1081.1L171 1079.9L170.4 1074.7L169.4 1071.9L167.3 1074.4L166.4 1069.5L165.3 1065.5L164.7 1064.3L163.3 1061.2L161.5 1059L161.3 1058.3L160.7 1059L161.3 1060.8L161.6 1064.3L161.3 1069.5L160.3 1064.3L159.3 1061.8L159.1 1064.3L157.9 1069.5L157.3 1070.6L156.6 1069.5L155.3 1066.7L154.3 1069.5L153.7 1074.7L155.3 1077.7ZM262.9 1079.9L266 1084L270 1082.2L274 1081L275 1079.9L277.3 1074.7L275.7 1069.5L274 1066.1L270.1 1064.3L270 1064.2L270 1064.3L270 1064.8L270.3 1069.5L270 1069.8L266 1069.9L262.7 1074.7ZM385.9 1079.9L386.8 1082.9L389 1079.9L390.8 1079.1L393.4 1079.9L394.8 1081.2L395.7 1079.9L396.9 1074.7L394.8 1072.4L392.6 1069.5L390.8 1067.4L389.4 1069.5L386.8 1073.1L385.5 1074.7ZM603.9 1079.9L604.2 1080.5L604.5 1079.9L604.2 1077.7ZM308.2 1074.7L310.3 1077.8L312.2 1074.7L310.7 1069.5L310.3 1068.9L310 1069.5ZM332.2 1074.7L334.4 1079.2L336.6 1074.7L334.4 1072.4ZM373.9 1074.7L374.7 1078.2L378.7 1076.9L380.7 1074.7L378.7 1070.1L374.7 1073.6ZM402.4 1074.7L402.9 1075.2L406.9 1077.4L409 1074.7L407.6 1069.5L406.9 1067.6L406.1 1069.5L402.9 1074.4ZM418.1 1074.7L419 1075.3L419.3 1074.7L419 1074.4ZM425.6 1074.7L427 1076.7L428.5 1074.7L427 1070.3ZM435.7 1074.7L439.1 1076.7L440.9 1074.7L439.1 1071.8ZM486.7 1074.7L487.4 1075.5L488.4 1074.7L487.4 1071.5ZM159.2 1053.8L159.3 1055.5L159.6 1053.8L159.3 1052.6ZM154.9 1048.6L155.3 1049.7L155.4 1048.6L155.3 1045.5ZM143.1 1038.2L143.2 1040.9L143.8 1038.2L144.7 1032.9L145.2 1029.7L147.2 1027.7L147.7 1022.5L147.2 1021.6L145.2 1020.1L143.5 1017.3L143.2 1016.7L143.2 1017.3L142.9 1022.5L142.8 1027.7L142.9 1032.9ZM150.6 1022.5L151.2 1023.3L151.6 1022.5L151.2 1021ZM148.8 1017.3L149.2 1019L149.8 1017.3L149.2 1015.1Z" fill="#9D0B14" stroke="#1c1c2c" stroke-width="0.45" stroke-linejoin="round" fill-rule="evenodd"/><path d="M94.7 1361.8L96.9 1361.8L99.4 1361.8L100.9 1358.8L104.9 1358.1L108.5 1361.8L109 1361.8L109.9 1361.8L112.6 1356.6L113 1355.1L113.3 1356.6L114.5 1361.8L117 1361.8L119.2 1361.8L120.4 1356.6L121 1354.9L125.1 1355.1L129.1 1356.3L129.4 1356.6L131.2 1361.8L133.1 1361.8L135.1 1361.8L136.2 1361.8L136.6 1361.1L136.8 1356.6L137.1 1351.4L137.1 1346.1L137.2 1340.9L137.4 1335.7L137.5 1330.5L137.5 1325.3L137.5 1320L137.5 1314.8L137.5 1309.6L137.6 1304.4L137.6 1299.2L137.6 1293.9L137.6 1288.7L137.6 1283.5L137.6 1278.3L137.5 1273.1L137.4 1267.8L137.3 1262.6L137.4 1257.4L137.3 1252.2L137.2 1247L137.2 1241.7L137 1236.5L136.6 1232.1L136.2 1231.3L135.1 1228.5L134.1 1231.3L133.3 1236.5L133.1 1237.9L133 1236.5L132.5 1231.3L131.9 1226.1L129.1 1222.1L125.4 1226.1L125.1 1226.4L122.1 1231.3L121.1 1236.5L121 1237.6L120.9 1236.5L117.3 1231.3L117 1231.1L113 1226.8L110.4 1231.3L109 1232L105.9 1236.5L104.9 1241.7L100.9 1237.8L98.8 1241.7L96.9 1245.3L92.9 1245.9L92.9 1247L92.9 1252.2L92.9 1257.4L92.9 1262.6L92.9 1267.8L92.9 1273.1L92.9 1278.3L92.9 1283.5L92.9 1288.7L92.9 1293.9L92.9 1299.2L92.9 1304.4L92.9 1309.6L92.9 1314.8L92.9 1320L92.9 1325.3L92.9 1330.5L92.9 1335.7L92.9 1339.9L96.5 1340.9L94 1346.1L93.4 1351.4L94.5 1356.6ZM109 1351.9L108.6 1351.4L108.5 1346.1L109 1345.9L109.5 1346.1L110.2 1351.4Z" fill="#3B5EAF" stroke="#1c1c2c" stroke-width="0.45" stroke-linejoin="round" fill-rule="evenodd"/><path d="M99.1 1351.4L100.9 1353.2L102.6 1351.4L102.5 1346.1L100.9 1343.1L99.6 1346.1ZM112.6 1340.9L113 1341.1L117 1345.3L121 1344.7L125.1 1343.8L126.6 1340.9L128.3 1335.7L128.8 1330.5L129.1 1329.9L129.3 1330.5L130.9 1335.7L133.1 1339.1L134.6 1340.9L135.1 1345.5L136.6 1342.9L136.7 1340.9L137.1 1335.7L137.2 1330.5L137.2 1325.3L137.2 1320L137.3 1314.8L137.3 1309.6L137.4 1304.4L137.5 1299.2L137.5 1293.9L137.5 1288.7L137.5 1283.5L137.4 1278.3L137.3 1273.1L137 1267.8L136.8 1262.6L137 1257.4L136.9 1252.2L136.7 1247L136.6 1242.4L136.2 1247L135.6 1252.2L135.1 1254.7L134.2 1252.2L133.1 1249.7L130 1247L130.8 1241.7L131.1 1236.5L130.1 1231.3L129.1 1228.5L126.4 1231.3L125.1 1236.5L125.8 1241.7L127.2 1247L125.1 1250.3L124.3 1252.2L121 1256.8L120.7 1257.4L117 1261.5L113 1259.4L109 1259.2L105 1257.4L105.1 1252.2L104.9 1251.9L104.8 1252.2L104.9 1257.4L103 1262.6L100.9 1263.7L100.2 1262.6L97.4 1257.4L96.9 1256.3L92.9 1253.5L92.9 1257.4L92.9 1262.6L92.9 1267.8L92.9 1273.1L92.9 1278.3L92.9 1283.5L92.9 1288.7L92.9 1293.9L92.9 1299.2L92.9 1304.4L92.9 1309.6L92.9 1314.8L92.9 1317.4L96.9 1318.4L98.1 1320L100.9 1322.1L102.7 1325.3L103.8 1330.5L104.9 1334.5L105.4 1335.7L109 1339.7ZM108.4 1236.5L109 1241.5L109.7 1236.5L109 1235.7Z" fill="#2E72B9" stroke="#1c1c2c" stroke-width="0.45" stroke-linejoin="round" fill-rule="evenodd"/><path d="M113.4 1335.7L117 1338.6L118.8 1335.7L118.8 1330.5L120 1325.3L121 1321.5L125.1 1324L128.8 1325.3L129.1 1325.3L131.2 1330.5L133.1 1334.2L135.1 1333.6L135.5 1335.7L136.6 1337.9L136.8 1335.7L137 1330.5L136.9 1325.3L137 1320L137 1314.8L137.1 1309.6L137.2 1304.4L137.3 1299.2L137.4 1293.9L137.4 1288.7L137.3 1283.5L137.2 1278.3L137 1273.1L136.6 1267.9L136.6 1267.8L135.7 1262.6L135.1 1260.9L133.9 1262.6L133.1 1264.5L131 1262.6L129.1 1261.2L125.1 1260.5L123.6 1262.6L121.8 1267.8L121 1271.9L120.2 1267.8L117 1265.3L113 1264.4L109.5 1267.8L109 1268.6L106.6 1273.1L105.8 1278.3L104.9 1281.3L104.1 1278.3L103.4 1273.1L100.9 1269.4L97.9 1273.1L96.9 1274.9L93.6 1273.1L95.4 1267.8L96 1262.6L92.9 1258.1L92.9 1262.6L92.9 1267.8L92.9 1273.1L92.9 1278.3L92.9 1283.5L92.9 1288.7L92.9 1293.9L92.9 1299.2L92.9 1304.4L92.9 1309.6L92.9 1313L95.3 1309.6L96.9 1305.7L100.9 1308.9L104.9 1308.8L105.2 1309.6L106.4 1314.8L106.2 1320L105.8 1325.3L106.4 1330.5L109 1335.2L112.5 1330.5L112.8 1325.3L113 1320L113.3 1325.3L113.9 1330.5ZM122.6 1335.7L125.1 1339L126.8 1335.7L126.7 1330.5L125.1 1325.8L122.9 1330.5ZM128.9 1236.5L129.1 1237.1L129.2 1236.5L129.1 1236.2Z" fill="#41B4D6" stroke="#1c1c2c" stroke-width="0.45" stroke-linejoin="round" fill-rule="evenodd"/><path d="M124.9 1335.7L125.1 1335.9L125.2 1335.7L125.1 1334.6ZM108.7 1330.5L109 1331L109.4 1330.5L109.7 1325.3L109.6 1320L110.6 1314.8L113 1311.7L116.4 1314.8L117 1318L117.6 1314.8L118.8 1309.6L121 1304.4L123 1309.6L124.2 1314.8L125.1 1315.8L126.6 1320L129.1 1322.9L131.8 1325.3L133.1 1330.5L134 1325.3L134.2 1320L135.1 1316.3L136.3 1320L136.6 1325.3L136.2 1330.5L136.6 1332.5L136.7 1330.5L136.7 1325.3L136.7 1320L136.8 1314.8L136.9 1309.6L137 1304.4L137.2 1299.2L137.3 1293.9L137.3 1288.7L137.2 1283.5L137 1278.3L136.8 1273.1L136.6 1271.3L135.1 1267.9L133.1 1270.5L129.1 1269.2L125.8 1273.1L125.1 1273.7L122.4 1278.3L121 1281.2L119.8 1278.3L119.2 1273.1L117 1268.5L113 1269.4L110.7 1273.1L109.2 1278.3L109 1278.5L106.7 1283.5L104.9 1287.6L103.5 1288.7L100.9 1290.7L100 1288.7L98.8 1283.5L96.9 1281.1L95 1283.5L93.4 1288.7L92.9 1292.5L92.9 1293.9L92.9 1295.5L96.2 1299.2L96.9 1299.4L100.9 1301.6L104.9 1303.3L106.3 1304.4L107.5 1309.6L108.2 1314.8L108.6 1320L108.3 1325.3Z" fill="#7FC08B" stroke="#1c1c2c" stroke-width="0.45" stroke-linejoin="round" fill-rule="evenodd"/><path d="M128.7 1320L129.1 1320.5L130.9 1320L132.7 1314.8L133.1 1313.3L135.1 1312.5L136.6 1312.1L136.7 1309.6L136.8 1304.4L137 1299.2L137.2 1293.9L137.2 1288.7L137 1283.5L136.8 1278.3L136.6 1275L135.1 1273.3L133.1 1273.9L129.1 1274L125.1 1278L124.9 1278.3L125.1 1279.3L125.4 1283.5L125.1 1285.8L121 1287.4L118.5 1283.5L117.3 1278.3L117.2 1273.1L117 1272.8L116.6 1273.1L113.7 1278.3L113 1279L109 1283.2L108.8 1283.5L106.1 1288.7L104.9 1290.7L101.8 1293.9L104.5 1299.2L104.9 1299.5L109 1300.1L110.6 1304.4L113 1307.3L117 1305.4L117.5 1304.4L119.2 1299.2L121 1297.2L122 1299.2L123.7 1304.4L125.1 1307.6L127.1 1304.4L129.1 1302.9L132.8 1299.2L133.1 1298.9L133.2 1299.2L133.1 1304.4L133.1 1305.1L131.2 1309.6L129.1 1311L127 1314.8ZM96.2 1293.9L96.9 1294.8L98.2 1293.9L97.5 1288.7L96.9 1287.2L96.2 1288.7Z" fill="#F2E635" stroke="#1c1c2c" stroke-width="0.45" stroke-linejoin="round" fill-rule="evenodd"/><path d="M133.7 1304.4L135.1 1309.5L136.6 1305.2L136.7 1304.4L136.9 1299.2L137.1 1293.9L137.1 1288.7L136.9 1283.5L136.6 1278.8L135.4 1283.5L135.1 1285.1L134.9 1283.5L134.6 1278.3L133.1 1276.1L129.1 1276.7L127.6 1278.3L126.7 1283.5L125.8 1288.7L125.1 1290.3L121.5 1293.9L123.9 1299.2L125.1 1302L129.1 1299.8L129.8 1299.2L133.1 1295.9L133.6 1299.2ZM104.3 1293.9L104.9 1295.1L109 1297.3L113 1297.3L115.8 1293.9L113 1289.1L112.8 1288.7L109 1286.3L107.7 1288.7L104.9 1293.3Z" fill="#F7931E" stroke="#1c1c2c" stroke-width="0.45" stroke-linejoin="round" fill-rule="evenodd"/><path d="M134.3 1304.4L135.1 1307.3L136.1 1304.4L136.6 1301.5L136.7 1299.2L137 1293.9L137 1288.7L136.7 1283.5L136.6 1282.2L136.3 1283.5L135.2 1288.7L135.1 1289.2L134.8 1288.7L134.2 1283.5L133.1 1278.4L129.1 1280.1L128 1283.5L126.9 1288.7L125.1 1292.6L123.8 1293.9L125.1 1296.9L129.1 1297.8L132.6 1293.9L133.1 1292.7L133.4 1293.9L134 1299.2ZM107.2 1293.9L109 1295.1L111.1 1293.9L109 1289.9Z" fill="#EB1D2E" stroke="#1c1c2c" stroke-width="0.45" stroke-linejoin="round" fill-rule="evenodd"/><path d="M134.9 1304.4L135.1 1305.1L135.4 1304.4L136.4 1299.2L136.6 1298.5L136.9 1293.9L136.9 1288.7L136.6 1284.8L135.7 1288.7L135.1 1291.2L134.1 1293.9L134.4 1299.2ZM126.2 1293.9L129.1 1296L131 1293.9L133.1 1289.2L133.3 1288.7L133.6 1283.5L133.1 1281.4L130 1283.5L129.1 1284.3L128 1288.7Z" fill="#9D0B14" stroke="#1c1c2c" stroke-width="0.45" stroke-linejoin="round" fill-rule="evenodd"/><polygon points="136.9,1166 138.3,1140 139.4,1113.8 140.4,1074.7 141.7,1030.3 144.1,1030.3 143.5,1074.7 143.3,1113.8 142.3,1140 139.8,1160.8" fill="#2c4f8e" stroke="#10131c" stroke-width="0.9"/><path d="M138.4 1166 L140.3 1140 L141.4 1113.8 L142 1074.7 L142.9 1030.3" fill="none" stroke="#5fae9a" stroke-width="1"/><polygon points="136.9,1335.7 136.9,1166 139.8,1160.8 139.6,1335.7" fill="#0b0b0b" stroke="#0b0b0b" stroke-width="0.6"/></g>
<line x1="95" y1="1033" x2="648.5" y2="1033" stroke="#000" stroke-width="1.9" stroke-dasharray="4 2.57"/>
<line x1="95" y1="1074.6" x2="648.5" y2="1074.6" stroke="#000" stroke-width="1.9" stroke-dasharray="4 2.57"/>
<line x1="95" y1="1126.6" x2="648.5" y2="1126.6" stroke="#000" stroke-width="1.9" stroke-dasharray="4 2.57"/>
<line x1="95" y1="1283.6" x2="648.5" y2="1283.6" stroke="#000" stroke-width="1.9" stroke-dasharray="4 2.57"/>
<rect x="95" y="970" width="553.5" height="365.3" fill="none" stroke="#231F20" stroke-width="1.5"/>
<path d="M95 970V1335.3H648.5" fill="none" stroke="#231F20" stroke-width="1.9" stroke-linecap="square"/>
<line x1="95" y1="970" x2="92.4" y2="970" stroke="#231F20" stroke-width="1.2"/>
<line x1="95" y1="970" x2="95" y2="967.4" stroke="#231F20" stroke-width="1.2"/>
<line x1="648.5" y1="970" x2="651.1" y2="970" stroke="#231F20" stroke-width="1.2"/>
<line x1="648.5" y1="970" x2="648.5" y2="967.4" stroke="#231F20" stroke-width="1.2"/>
<line x1="95" y1="1335.3" x2="92.4" y2="1335.3" stroke="#231F20" stroke-width="1.2"/>
<line x1="95" y1="1335.3" x2="95" y2="1337.9" stroke="#231F20" stroke-width="1.2"/>
<line x1="648.5" y1="1335.3" x2="651.1" y2="1335.3" stroke="#231F20" stroke-width="1.2"/>
<line x1="648.5" y1="1335.3" x2="648.5" y2="1337.9" stroke="#231F20" stroke-width="1.2"/>
<line x1="145.2" y1="1335.3" x2="145.2" y2="1342.8" stroke="#231F20" stroke-width="1.9"/>
<text transform="translate(145.2 1375.5) scale(1.035 1)" font-size="32.6" text-anchor="middle">0</text>
<line x1="245.8" y1="1335.3" x2="245.8" y2="1342.8" stroke="#231F20" stroke-width="1.9"/>
<text transform="translate(245.8 1375.5) scale(1.035 1)" font-size="32.6" text-anchor="middle">1</text>
<line x1="346.5" y1="1335.3" x2="346.5" y2="1342.8" stroke="#231F20" stroke-width="1.9"/>
<text transform="translate(346.5 1375.5) scale(1.035 1)" font-size="32.6" text-anchor="middle">2</text>
<line x1="447.2" y1="1335.3" x2="447.2" y2="1342.8" stroke="#231F20" stroke-width="1.9"/>
<text transform="translate(447.2 1375.5) scale(1.035 1)" font-size="32.6" text-anchor="middle">3</text>
<line x1="547.8" y1="1335.3" x2="547.8" y2="1342.8" stroke="#231F20" stroke-width="1.9"/>
<text transform="translate(547.8 1375.5) scale(1.035 1)" font-size="32.6" text-anchor="middle">4</text>
<line x1="648.5" y1="1335.3" x2="648.5" y2="1342.8" stroke="#231F20" stroke-width="1.9"/>
<text transform="translate(648.5 1375.5) scale(1.035 1)" font-size="32.6" text-anchor="middle">5</text>
<line x1="87.8" y1="1022.5" x2="95" y2="1022.5" stroke="#231F20" stroke-width="1.9"/>
<text transform="translate(83.5 1033.6) scale(1.035 1)" font-size="32.6" text-anchor="end">1.0</text>
<line x1="87.8" y1="1074.7" x2="95" y2="1074.7" stroke="#231F20" stroke-width="1.9"/>
<text transform="translate(83.5 1085.8) scale(1.035 1)" font-size="32.6" text-anchor="end">0.8</text>
<line x1="87.8" y1="1126.9" x2="95" y2="1126.9" stroke="#231F20" stroke-width="1.9"/>
<text transform="translate(83.5 1138) scale(1.035 1)" font-size="32.6" text-anchor="end">0.6</text>
<line x1="87.8" y1="1179.1" x2="95" y2="1179.1" stroke="#231F20" stroke-width="1.9"/>
<text transform="translate(83.5 1190.2) scale(1.035 1)" font-size="32.6" text-anchor="end">0.4</text>
<line x1="87.8" y1="1231.3" x2="95" y2="1231.3" stroke="#231F20" stroke-width="1.9"/>
<text transform="translate(83.5 1242.4) scale(1.035 1)" font-size="32.6" text-anchor="end">0.2</text>
<line x1="87.8" y1="1283.5" x2="95" y2="1283.5" stroke="#231F20" stroke-width="1.9"/>
<text transform="translate(83.5 1294.6) scale(1.035 1)" font-size="32.6" text-anchor="end">0.0</text>
<text transform="translate(371.8 1409.7) scale(1.035 1)" font-size="32.6" text-anchor="middle">Time, s</text>
<text transform="translate(27.6 1152.2) scale(1.035 1) rotate(-90)" font-size="32.6" text-anchor="middle">FRET</text>
<defs><linearGradient id="cb3" x1="0" y1="0" x2="0" y2="1"><stop offset="0" stop-color="#8A0F18"/><stop offset="0.04" stop-color="#A3131F"/><stop offset="0.13" stop-color="#E8212E"/><stop offset="0.27" stop-color="#F58A26"/><stop offset="0.355" stop-color="#F5E62D"/><stop offset="0.44" stop-color="#A8CB3F"/><stop offset="0.56" stop-color="#6DB98A"/><stop offset="0.68" stop-color="#27B4E0"/><stop offset="0.79" stop-color="#3C67B0"/><stop offset="0.9" stop-color="#3C5CA8"/><stop offset="0.955" stop-color="#8E97CC"/><stop offset="1" stop-color="#FFFFFF"/></linearGradient></defs><rect x="626.2" y="1211.8" width="14.2" height="58.3" fill="url(#cb3)" stroke="#231F20" stroke-width="1.1"/>
<text transform="translate(621.8 1221.2) scale(1.035 1)" font-size="32.6" text-anchor="end">15%</text>
<text transform="translate(621.8 1278.5) scale(1.035 1)" font-size="32.6" text-anchor="end">0%</text>
<text transform="translate(635.8 1006.8) scale(1.035 1)" font-size="30.6" text-anchor="end"><tspan font-style="italic">N</tspan>=271</text>
<text transform="translate(661.8 1039.6) scale(1.035 1)" font-size="32.6">CR</text>
<text transform="translate(661.8 1069.2) scale(1.035 1)" font-size="32.6">A/A</text>
<text transform="translate(661.8 1108.9) scale(1.035 1)" font-size="32.6">A/P</text>
<text transform="translate(661.8 1142) scale(1.035 1)" font-size="32.6">A/P*</text>
<path d="M661.1 1058.8L654.4 1075.6L661.1 1083.3" fill="none" stroke="#231F20" stroke-width="1.3"/>
<text transform="translate(774 957.5) scale(1.035 1)" font-size="31" font-weight="bold">f</text>
<text transform="translate(865 961) scale(1.035 1)" font-size="32.6">m<tspan font-size="17.5" dy="-11.4" dx="-0.5">6</tspan><tspan dy="11.4" dx="-3.5">AAA</tspan></text>
<clipPath id="cp4"><rect x="866" y="971" width="553" height="365.5"/></clipPath><g clip-path="url(#cp4)"><path d="M1031.2 1144.1L1033.1 1146.6L1037.1 1144.2L1037.2 1144.1L1041.1 1139.1L1041.4 1138.8L1044.8 1133.6L1045.1 1133.4L1045.6 1133.6L1048.1 1138.8L1049.2 1140.3L1053.2 1139.9L1054.6 1138.8L1057.2 1136.9L1061.2 1137.8L1065.2 1135.7L1069.3 1135.2L1073.3 1135.6L1076.1 1138.8L1075.7 1144.1L1077.3 1145.6L1078.7 1144.1L1078.8 1138.8L1081.3 1135.7L1083.1 1138.8L1085.3 1140.6L1087.7 1138.8L1089.4 1134.5L1090 1138.8L1093.4 1142.5L1097.2 1138.8L1097.4 1138.5L1101.4 1135.7L1105.4 1136.3L1106.5 1138.8L1109.5 1142L1113.5 1142.3L1117.2 1138.8L1117.5 1138.3L1118.2 1138.8L1121.5 1140.8L1122.8 1138.8L1125.3 1133.6L1125.5 1133L1126.3 1133.6L1129.6 1136.2L1133.6 1136.1L1137.6 1135.9L1139 1138.8L1141.6 1142.7L1144.9 1138.8L1145.6 1135.5L1149.6 1133.6L1149.7 1133.6L1153.7 1137.4L1157.2 1138.8L1157.7 1139.2L1158.1 1138.8L1161.7 1136.8L1165.7 1136.5L1168.5 1138.8L1169.8 1139.9L1173.8 1139L1174.4 1138.8L1177.8 1135.8L1181.8 1137.4L1185.3 1138.8L1185.8 1139.2L1189.9 1139.1L1190.1 1138.8L1193.1 1133.6L1193.9 1132.2L1194.2 1133.6L1195.5 1138.8L1197.4 1144.1L1197.9 1144.6L1198.4 1144.1L1201.7 1138.8L1201.9 1138.3L1205.9 1134.7L1210 1136.1L1212.8 1133.6L1214 1130.8L1215.3 1133.6L1218 1135.9L1222 1138.4L1226 1136.9L1226.8 1138.8L1230.1 1143.1L1234.1 1142L1238.1 1142.5L1242.1 1142L1245.7 1138.8L1246 1133.6L1246.1 1132.7L1246.3 1133.6L1246.7 1138.8L1250.2 1142L1254.2 1141.5L1256.9 1138.8L1258.2 1133.7L1262.2 1137L1265.6 1133.6L1265.8 1128.4L1266.2 1123.3L1266.6 1128.4L1266.4 1133.6L1267.3 1138.8L1270 1144.1L1270.3 1144.3L1270.7 1144.1L1274.3 1142.7L1278.3 1143L1281.5 1138.8L1282.3 1138.2L1282.6 1138.8L1284.9 1144.1L1286.3 1145.8L1287.6 1144.1L1289.4 1138.8L1290.4 1134.7L1294.4 1134.7L1295.4 1133.6L1298.4 1132L1299 1133.6L1300.8 1138.8L1302.4 1141.1L1304.1 1138.8L1306.4 1134.2L1310.5 1136L1313 1138.8L1313.7 1144.1L1314.5 1147.1L1315.4 1144.1L1318.5 1139.2L1319.5 1138.8L1322 1133.6L1322.5 1132.6L1322.9 1133.6L1326.5 1138.5L1330.2 1133.6L1330.6 1132.9L1334.2 1133.6L1332 1138.8L1334.5 1144.1L1334.6 1144.2L1338.6 1144.5L1338.8 1144.1L1339.7 1138.8L1342.6 1136.3L1344.8 1138.8L1346.6 1140.7L1350.7 1141.6L1354.7 1144L1354.9 1144.1L1358.7 1145.8L1361 1144.1L1362.7 1142.4L1366.7 1140.2L1370.8 1142.9L1374.1 1138.8L1374.8 1137.9L1376 1138.8L1378.8 1141.2L1382.8 1142.9L1386.8 1141.8L1390.9 1141.5L1393 1138.8L1394.9 1135.6L1397 1138.8L1398.9 1140.7L1402.9 1141.6L1405.2 1138.8L1406.9 1136.5L1408.8 1138.8L1411 1142.5L1413.3 1138.8L1413.5 1133.6L1415 1131.5L1418.6 1133.6L1419 1137.7L1419.2 1133.6L1423 1130.4L1423 1128.4L1423 1123.2L1423 1118L1423 1112.7L1423 1107.5L1423 1102.3L1423 1097.1L1423 1091.9L1423 1086.6L1423 1081.4L1423 1076.2L1423 1071L1423 1065.8L1423 1060.5L1423 1055.3L1423 1050.1L1423 1044.9L1423 1039.7L1423 1035.9L1419 1039.6L1418.7 1039.7L1415 1040.9L1411 1041.9L1410.3 1039.7L1406.9 1036.6L1404.4 1034.4L1402.9 1031.1L1399.7 1034.4L1398.9 1035.4L1397 1039.7L1394.9 1041.4L1390.9 1040.8L1386.8 1040.2L1384.2 1044.9L1382.8 1046.4L1380.7 1044.9L1378.8 1042.5L1374.8 1042.3L1370.8 1043.5L1366.7 1043.4L1362.7 1041.2L1359.4 1039.7L1358.7 1038.9L1358.3 1039.7L1354.7 1042.6L1350.7 1042.4L1346.6 1041.6L1344.5 1039.7L1342.6 1038.2L1340 1039.7L1338.6 1042.1L1335.7 1039.7L1334.6 1039.3L1332.9 1039.7L1330.6 1040L1326.5 1040.3L1322.5 1040.9L1321.6 1039.7L1318.5 1034.5L1314.5 1035.2L1310.5 1039.7L1310.5 1039.8L1310.4 1039.7L1306.4 1037.2L1302.4 1035.3L1298.4 1039L1294.4 1036.3L1290.4 1038.5L1286.3 1037.7L1282.3 1037.4L1278.3 1039.1L1274.3 1039L1270.3 1036.2L1266.2 1034.8L1262.3 1039.7L1262.2 1039.8L1262.2 1039.7L1258.2 1034.7L1254.2 1037.4L1250.2 1034.5L1246.6 1039.7L1246.1 1040.7L1245.4 1039.7L1242.1 1036.4L1238.1 1035.1L1237.5 1034.4L1234.1 1030.9L1231.5 1034.4L1230.1 1035.7L1226 1036.4L1222 1035.4L1218 1036.5L1214 1036.6L1210 1036L1205.9 1036.5L1204 1034.4L1201.9 1031.1L1198.7 1034.4L1197.9 1035L1196.2 1034.4L1193.9 1031.7L1190.7 1029.2L1189.9 1028.9L1188.5 1029.2L1185.8 1030.6L1181.8 1031.7L1177.8 1031.4L1173.8 1031.9L1169.8 1030.1L1166.5 1034.4L1165.7 1035.4L1163.9 1034.4L1161.7 1032.6L1157.7 1032.7L1153.7 1031.7L1149.7 1032.1L1145.6 1033.3L1141.6 1032.5L1137.6 1033.4L1135.4 1029.2L1133.6 1027.7L1129.6 1028.7L1125.5 1028.9L1124.5 1029.2L1121.5 1029.9L1120.3 1029.2L1117.5 1027.6L1113.5 1028.8L1112.5 1029.2L1109.5 1030.9L1105.4 1030.8L1104 1029.2L1101.4 1025.5L1099.1 1024L1097.4 1022.8L1096.5 1024L1093.4 1028.8L1089.4 1025.5L1086.1 1029.2L1085.3 1031.8L1081.3 1030.8L1077.3 1030.1L1073.3 1029.3L1069.3 1031L1068.2 1029.2L1065.2 1024.2L1061.2 1027.8L1057.2 1025.1L1053.2 1027.3L1050.1 1029.2L1049.2 1029.9L1048 1029.2L1045.1 1025.2L1041.1 1027.7L1039 1024L1037.1 1021.9L1033.2 1024L1033.1 1024.1L1029.1 1026.3L1025 1028.6L1023.2 1029.2L1021 1029.6L1020.2 1029.2L1017 1026L1014.4 1024L1013 1023.4L1012.4 1024L1009 1028.7L1004.9 1025.3L1000.9 1026.2L997.3 1024L996.9 1023.7L996.2 1024L992.9 1025.4L988.9 1025.6L985.4 1029.2L984.8 1029.9L981.2 1029.2L980.8 1029.1L976.8 1025.1L975.6 1024L972.8 1021L968.8 1019.3L964.7 1019.8L960.7 1022.1L956.7 1021.4L955.5 1018.8L954.7 1017.3L953.8 1013.6L952.7 1010.1L951.3 1013.6L950.7 1015.7L948.7 1018.4L948 1013.6L948.2 1008.3L947.7 1003.1L946.6 999.3L945.7 997.9L944.6 995.2L942.6 993.1L940.6 997L938.6 997.3L938.3 992.7L936.6 987.5L936.6 987.4L936.5 987.5L934.6 989.3L932.6 988.2L932 987.5L930.6 985.8L928.6 983.7L926.9 982.2L926.5 981.8L924.5 980L922.5 978.8L920.5 979L918.5 978.6L916.5 979.1L914.5 978.4L913.3 982.2L913 987.5L912.9 992.7L912.9 997.9L912.9 1003.1L912.8 1008.3L912.8 1013.6L912.8 1018.8L912.8 1024L912.9 1029.2L912.9 1034.4L912.9 1039.7L912.8 1044.9L912.8 1050.1L912.9 1055.3L912.9 1060.5L912.9 1065.8L912.8 1071L912.7 1076.2L912.8 1081.4L913 1086.6L913.1 1091.9L913.2 1097.1L913.8 1102.3L914.1 1107.5L914.1 1112.7L914 1118L914 1123.2L914.5 1125.1L916.5 1124.4L917.2 1123.2L918.3 1118L918.5 1116.3L918.8 1118L920.2 1123.2L920.5 1123.7L922 1128.4L922.5 1131.7L924.3 1128.4L924.5 1128.2L924.6 1128.4L926.2 1133.6L926.5 1134.8L927.1 1133.6L928.6 1131L929.6 1133.6L930.6 1138.7L932.1 1133.6L932.6 1132.8L934.6 1132.1L936.6 1132.7L937.6 1133.6L938.4 1138.8L938.6 1139.8L940.1 1138.8L940.6 1138.3L942 1133.6L942.6 1132.2L942.9 1133.6L943.1 1138.8L944.6 1140.9L945.5 1138.8L945.9 1133.6L946.6 1129.2L948.5 1133.6L948.7 1133.8L948.9 1133.6L950.7 1130.9L952.7 1128.7L954.3 1133.6L954.7 1134.9L955.9 1133.6L956.7 1131.9L960.7 1133.4L961 1133.6L964.6 1138.8L964.7 1138.9L964.8 1138.8L966.4 1133.6L968.4 1128.4L968.8 1128L969.6 1128.4L971.8 1133.6L970.6 1138.8L972.8 1141.9L974.8 1138.8L976.8 1135.7L979.1 1138.8L980.8 1140.8L984.8 1141L987.3 1138.8L988.9 1135.6L991.2 1133.6L992.9 1132.2L993.4 1133.6L992.9 1136.9L992 1138.8L992.9 1141.9L996.9 1139.7L997.9 1138.8L1000.9 1135.5L1004 1138.8L1004.9 1139.4L1009 1142.3L1013 1142.7L1017 1139.2L1021 1141.7L1023.7 1138.8L1025 1137.9L1026.9 1138.8L1029.1 1141ZM1334.6 1133.3L1333.7 1128.4L1334.6 1127.6L1334.8 1128.4ZM1044.9 1018.8L1045.1 1021.2L1045.6 1018.8L1045.1 1017.9Z" fill="#3B5EAF" stroke="#1c1c2c" stroke-width="0.45" stroke-linejoin="round" fill-rule="evenodd"/><path d="M1007.7 1133.6L1009 1135.2L1013 1135.2L1016.6 1133.6L1017 1132.3L1017.4 1128.4L1017 1127.5L1013 1126.9L1009 1125.3L1007.9 1123.2L1008.9 1118L1009 1117.9L1013 1117.9L1017 1117.6L1021 1114.7L1025 1117.4L1025.6 1118L1029.1 1123L1029.2 1123.2L1033.1 1127.9L1033.3 1128.4L1036.5 1133.6L1037.1 1134.9L1037.5 1133.6L1040.1 1128.4L1041.1 1127.6L1045.1 1126.7L1047.9 1123.2L1049.2 1118.9L1053.2 1122.8L1054.1 1123.2L1057.2 1125L1061.2 1123.5L1061.7 1123.2L1062 1118L1065.2 1115.7L1065.7 1118L1066 1123.2L1069.3 1127.3L1073 1123.2L1073.3 1122.8L1073.5 1123.2L1076.9 1128.4L1077.3 1128.9L1077.6 1128.4L1079.6 1123.2L1081.3 1119.8L1083.1 1123.2L1084.5 1128.4L1085.3 1130.6L1087.2 1128.4L1089.4 1127.3L1090.2 1128.4L1092.1 1133.6L1093.4 1136.4L1095.2 1133.6L1096.8 1128.4L1096.3 1123.2L1097.4 1119L1098.3 1118L1101.3 1112.7L1101.4 1112.6L1101.5 1112.7L1102.5 1118L1101.8 1123.2L1104.8 1128.4L1105.4 1128.7L1109.5 1128.9L1109.9 1128.4L1113 1123.2L1113.5 1121.7L1113.8 1123.2L1115.7 1128.4L1117.5 1129.8L1119.3 1128.4L1120.1 1123.2L1120.5 1118L1121.5 1115.6L1122 1118L1124.4 1123.2L1125.5 1124.5L1129.6 1124.4L1131.7 1128.4L1133.6 1130L1135 1128.4L1137.6 1124.6L1138.7 1123.2L1141.6 1119.4L1144.1 1123.2L1145.6 1126L1149.7 1125.6L1152.1 1128.4L1153.7 1129.8L1154.5 1128.4L1156.6 1123.2L1157.7 1120.5L1158.9 1123.2L1161.4 1128.4L1161.7 1128.9L1162.6 1128.4L1165.7 1126.3L1168 1123.2L1169.8 1121.7L1172.3 1123.2L1173.8 1127.4L1175.9 1123.2L1177.8 1121.2L1178.7 1123.2L1180.8 1128.4L1181.8 1130.3L1184.4 1128.4L1185 1123.2L1185.8 1122L1186.9 1123.2L1189.9 1126.5L1192.2 1123.2L1193.9 1121.8L1196.3 1123.2L1197.7 1128.4L1197.9 1129.8L1198.7 1128.4L1201.9 1126.8L1205.7 1123.2L1205.3 1118L1205.9 1117.2L1207.4 1118L1210 1120.3L1214 1118.8L1218 1122.9L1221.7 1118L1222 1117.3L1222.3 1118L1226 1122.4L1230.1 1119.4L1233.3 1123.2L1234.1 1124.1L1238.1 1128L1240.5 1123.2L1242.1 1120.6L1246.1 1121.7L1250.2 1119.2L1254.2 1120.3L1258.2 1121.2L1262.2 1118.6L1262.3 1118L1266.2 1112.7L1270.3 1117.7L1273.7 1112.7L1274.3 1112.2L1274.8 1112.7L1275.2 1118L1274.3 1118.9L1272.4 1123.2L1272 1128.4L1271.2 1133.6L1274.3 1136.2L1275.4 1133.6L1276.1 1128.4L1278.3 1124.8L1282.3 1124.9L1284.5 1123.2L1286.3 1122.7L1290.4 1119.5L1292.9 1118L1294.4 1116.3L1297 1112.7L1298.4 1111.3L1299.8 1112.7L1302.4 1117.7L1302.9 1118L1306.4 1119.3L1310.5 1121.7L1312.5 1118L1314.5 1114.6L1317.1 1118L1318.5 1120L1322.5 1119.8L1324.6 1118L1326.5 1116.2L1327.6 1118L1330.6 1122.9L1334.6 1119.3L1336.8 1123.2L1338.5 1128.4L1338.6 1128.7L1342.6 1129.6L1343.6 1128.4L1342.6 1123.8L1342.4 1123.2L1341.4 1118L1342.6 1115.4L1346.6 1115.1L1350.7 1115.9L1352.3 1118L1353.3 1123.2L1354.7 1125L1355.9 1123.2L1357.2 1118L1358.7 1115L1362.7 1114.7L1366.2 1118L1366.7 1118.6L1367.9 1118L1370.8 1116.8L1374.8 1117.6L1378.6 1112.7L1378.8 1112.1L1379.4 1112.7L1382.8 1115L1384.6 1112.7L1386.8 1110L1388.1 1112.7L1389.9 1118L1390.9 1119.9L1392.2 1118L1394.9 1114.1L1396.3 1112.7L1398.9 1108.9L1400 1112.7L1402.9 1117.7L1406.9 1115.8L1411 1114.1L1413.2 1112.7L1415 1112.4L1415.2 1112.7L1415.7 1118L1416.4 1123.2L1419 1126.7L1422.6 1123.2L1423 1122L1423 1118L1423 1112.7L1423 1107.5L1423 1102.3L1423 1097.1L1423 1091.9L1423 1086.6L1423 1081.4L1423 1076.2L1423 1071L1423 1065.8L1423 1060.5L1423 1055.3L1423 1052.1L1421.1 1050.1L1419 1047.8L1417 1050.1L1415 1052.9L1411 1050.4L1406.9 1054.3L1405.4 1050.1L1405.7 1044.9L1402.9 1041.6L1400.8 1044.9L1400 1050.1L1398.9 1052.6L1397.5 1050.1L1394.9 1047.4L1390.9 1047.6L1387.4 1050.1L1386.8 1051.4L1382.8 1052.5L1378.8 1052.6L1374.8 1050.4L1370.8 1052.2L1367.2 1050.1L1366.7 1049.9L1362.7 1046L1359.1 1044.9L1358.7 1044.7L1358.5 1044.9L1354.7 1049.5L1350.7 1050L1346.6 1048.6L1344.8 1050.1L1342.6 1053.1L1338.6 1054.8L1336.5 1050.1L1334.6 1047.6L1330.6 1045.1L1326.5 1047.7L1322.7 1050.1L1322.5 1050.5L1318.5 1051.9L1316.1 1050.1L1314.5 1047.3L1310.5 1047.6L1308.4 1044.9L1306.4 1042.5L1302.4 1042.4L1301.6 1044.9L1298.4 1049.6L1296 1044.9L1294.4 1042.6L1292 1044.9L1290.4 1047.1L1288.7 1044.9L1286.3 1042.9L1283.9 1044.9L1282.3 1046.8L1278.3 1046.4L1274.3 1047L1271.4 1044.9L1270.3 1043.3L1267.4 1039.7L1266.2 1039L1265.7 1039.7L1264 1044.9L1262.7 1050.1L1262.2 1051.2L1261.8 1050.1L1260.8 1044.9L1258.7 1039.7L1258.2 1039.1L1257.5 1039.7L1254.9 1044.9L1254.2 1046.1L1251.3 1044.9L1250.2 1043.8L1249.7 1044.9L1246.1 1049.1L1243.7 1050.1L1242.1 1050.8L1241.7 1050.1L1239.6 1044.9L1238.1 1043.8L1236.4 1044.9L1234.1 1047.1L1232.2 1044.9L1230.1 1042.8L1226 1043.9L1223.5 1039.7L1222 1039.1L1220.8 1039.7L1218 1042.9L1214 1043.5L1210 1043.2L1205.9 1042.4L1203.6 1039.7L1201.9 1037.8L1199.5 1039.7L1197.9 1041.5L1193.9 1040.5L1189.9 1042.3L1186.3 1039.7L1185.8 1039.4L1181.8 1037.9L1179.6 1039.7L1177.8 1043.2L1173.8 1042.6L1170.5 1039.7L1169.8 1039.1L1169.3 1039.7L1165.7 1043.1L1161.7 1042.2L1157.7 1039.7L1157.7 1039.6L1153.7 1037.2L1149.7 1039.3L1145.6 1037.8L1141.6 1038L1139.2 1039.7L1137.6 1041L1136.4 1039.7L1133.6 1036.4L1129.6 1036.2L1125.5 1036L1121.5 1036.7L1118.7 1039.7L1117.5 1042.7L1116.6 1039.7L1113.9 1034.4L1113.5 1034.2L1113.2 1034.4L1109.5 1039.3L1105.4 1038.7L1101.4 1035.2L1097.4 1037.4L1093.4 1036.5L1089.4 1036.1L1085.3 1039.4L1084.8 1039.7L1081.3 1044.7L1077.3 1040.2L1076.6 1039.7L1073.3 1036.6L1069.3 1037.6L1068.2 1034.4L1065.2 1029.5L1061.2 1034.2L1057.2 1032.5L1055.8 1034.4L1053.9 1039.7L1053.2 1041.1L1051.2 1039.7L1049.2 1037.7L1045.1 1036.1L1041.1 1039.1L1037.1 1037.7L1033.1 1036.2L1030.4 1039.7L1029.1 1040.9L1025 1040.1L1024.3 1039.7L1021 1035.6L1017 1036.9L1014.9 1034.4L1013 1030.2L1010.4 1034.4L1009 1035.5L1005.4 1039.7L1004.9 1041.4L1004.5 1039.7L1002.8 1034.4L1000.9 1033L999.4 1034.4L996.9 1037.1L993.5 1034.4L992.9 1033.9L990.9 1034.4L988.9 1036.1L984.8 1036.8L980.8 1035.2L980.2 1034.4L976.8 1030.6L975.1 1029.2L972.8 1027.1L968.8 1025.9L965.2 1029.2L964.7 1029.7L961.6 1029.2L960.7 1029.1L956.7 1028.3L955.5 1029.2L954.7 1030.9L952.7 1032.1L951.8 1029.2L950.7 1024.3L948.7 1025.4L946.6 1024.8L946.4 1024L944.6 1020.7L943 1024L942.6 1026.2L942.3 1024L941.2 1018.8L940.6 1016.7L938.8 1018.8L938.6 1019.9L937.7 1018.8L936.6 1018.2L936.1 1013.6L935 1008.3L934.6 1005.8L934.3 1003.1L933.8 997.9L932.6 994.6L931.5 992.7L930.6 991.2L928.6 988L928.4 987.5L926.5 985.4L924.5 983.8L922.5 982.7L920.5 982.6L919.9 982.2L918.5 981.4L916.5 982.1L914.5 981.1L914.1 982.2L913.6 987.5L913.4 992.7L913.4 997.9L913.3 1003.1L913.2 1008.3L913.1 1013.6L913.1 1018.8L913.1 1024L913.3 1029.2L913.3 1034.4L913.3 1039.7L913.2 1044.9L913.2 1050.1L913.2 1055.3L913.3 1060.5L913.3 1065.8L913.1 1071L913 1076.2L913.1 1081.4L913.4 1086.6L913.7 1091.9L913.9 1097.1L914.5 1100.6L916.5 1100.2L918.4 1102.3L918.5 1102.6L919.3 1107.5L920.5 1111.5L921.6 1107.5L922.5 1102.4L924.5 1104.9L926.5 1106.3L926.8 1107.5L927.6 1112.7L928.1 1118L927.7 1123.2L928.6 1123.6L930.6 1124.2L932.6 1125.9L934 1123.2L934.6 1121.5L935.3 1123.2L936.6 1125.9L937.3 1123.2L938.6 1118.9L939.7 1123.2L940.6 1126L941.7 1123.2L942.3 1118L942.6 1116.4L942.9 1118L944.4 1123.2L944.6 1123.8L946.6 1123.4L948.7 1126.9L949.1 1123.2L950.7 1121.4L951.6 1123.2L952.7 1124.8L954.7 1124.4L955.3 1123.2L956.7 1119.8L958.1 1123.2L960.7 1125.8L964.7 1124.7L966.3 1123.2L968.8 1121.6L972.8 1120.4L975.8 1118L976.8 1117.1L977 1118L976.8 1123.2L977.1 1128.4L980.8 1132.8L983.7 1128.4L984.8 1124.4L988.9 1124.5L992.9 1124.9L995.7 1128.4L996.9 1130.9L999.5 1128.4L1000.9 1127.3L1002.9 1128.4L1004.9 1129.8ZM1354.7 1055.4L1354.7 1055.3L1354.7 1055.2L1354.7 1055.3ZM1401.4 1133.6L1402.9 1135.4L1404.2 1133.6L1402.9 1129.1ZM1410.3 1123.2L1411 1124.6L1412 1123.2L1411 1120.3Z" fill="#2E72B9" stroke="#1c1c2c" stroke-width="0.45" stroke-linejoin="round" fill-rule="evenodd"/><path d="M1093.3 1128.4L1093.4 1128.7L1093.5 1128.4L1093.4 1127.6ZM1132.9 1123.2L1133.6 1124.2L1134.3 1123.2L1137.6 1118.7L1138.2 1118L1141.6 1113.7L1145.6 1116.9L1148.1 1112.7L1149.7 1109.5L1150.6 1112.7L1151.3 1118L1153.7 1123.2L1156 1118L1156.8 1112.7L1157.7 1110.1L1159.3 1112.7L1160.2 1118L1161.7 1121.9L1165.7 1118.4L1166.3 1118L1168.5 1112.7L1169.8 1110.4L1173 1107.5L1173.8 1107.2L1174 1107.5L1177.8 1112.3L1180.4 1112.7L1181.8 1113.4L1185.8 1114.9L1188.7 1112.7L1189.9 1111.4L1191.3 1112.7L1193.9 1115.3L1197.9 1115.8L1201 1112.7L1201.9 1109L1205.9 1109.7L1210 1109.7L1214 1108.4L1215.8 1107.5L1218 1107L1222 1105.3L1222.6 1107.5L1224.7 1112.7L1226 1115.1L1228 1112.7L1230.1 1109.7L1234.1 1112L1238.1 1109.7L1240.6 1112.7L1242.1 1113.9L1246.1 1114.3L1248 1112.7L1248.4 1107.5L1248.8 1102.3L1250.2 1099.7L1252.6 1102.3L1254.2 1104.6L1257.5 1107.5L1258.2 1108.2L1258.6 1107.5L1262.2 1105.1L1266.2 1102.4L1270.3 1103.3L1274.3 1106.1L1277.5 1107.5L1278.3 1108.2L1278.8 1107.5L1282.3 1104.4L1283.5 1107.5L1284.8 1112.7L1286.3 1116.6L1290.4 1113L1290.5 1112.7L1294.4 1107.5L1297.7 1102.3L1298.4 1102L1299.2 1102.3L1302.4 1105.4L1303.2 1107.5L1306.4 1112.7L1309.5 1107.5L1310.5 1105.4L1312.1 1107.5L1314.5 1108.8L1317.9 1107.5L1318.5 1107L1322.5 1105.3L1324.2 1102.3L1325.2 1097.1L1326.5 1095.2L1327.2 1097.1L1327.3 1102.3L1328.4 1107.5L1330.6 1110.9L1334.6 1112.3L1336.5 1107.5L1338.6 1102.6L1342.6 1104.8L1343.2 1102.3L1342.6 1100.4L1342.2 1097.1L1342.6 1096.2L1344.7 1097.1L1346.6 1098.3L1347.2 1097.1L1350.7 1094.7L1351.9 1097.1L1353.1 1102.3L1354.7 1106.4L1358.7 1106.4L1362.7 1104.6L1366.7 1103.2L1368.7 1107.5L1370.8 1109.3L1374.8 1110.2L1375.9 1107.5L1378.8 1103L1379.9 1102.3L1382.8 1099.2L1386.3 1102.3L1386.8 1102.6L1390.9 1104L1393.7 1102.3L1394.6 1097.1L1394.9 1096.9L1395.5 1097.1L1398.9 1098.6L1402.9 1100L1403.9 1102.3L1405.2 1107.5L1406.9 1108.7L1408 1107.5L1410.9 1102.3L1411 1102.3L1415 1101.8L1417.4 1097.1L1419 1091.9L1419 1091.8L1419 1091.9L1419.9 1097.1L1419.5 1102.3L1419 1107.1L1419 1107.5L1419 1107.6L1423 1111.2L1423 1107.5L1423 1102.3L1423 1097.1L1423 1091.9L1423 1086.6L1423 1081.4L1423 1076.2L1423 1071L1423 1065.8L1423 1060.5L1423 1058.7L1419 1057.3L1415.3 1060.5L1415 1060.9L1414.7 1060.5L1411.7 1055.3L1411 1054.7L1410.4 1055.3L1408 1060.5L1406.9 1062.5L1403.5 1060.5L1402.9 1059.8L1398.9 1058.5L1395.3 1055.3L1394.9 1054.6L1390.9 1055L1390.7 1055.3L1388.2 1060.5L1386.8 1062.3L1384.7 1060.5L1382.8 1058.9L1378.8 1059.4L1375.6 1060.5L1374.8 1061L1372.2 1060.5L1370.8 1060.3L1366.7 1056L1366.4 1055.3L1363.7 1050.1L1362.7 1049.1L1360.1 1050.1L1359 1055.3L1358.7 1060.5L1358.7 1060.7L1354.7 1065.7L1352.1 1060.5L1350.7 1057.4L1348 1055.3L1346.6 1054.6L1346.1 1055.3L1342.6 1058.9L1338.6 1059.6L1334.6 1055.7L1334.5 1055.3L1331.8 1050.1L1330.6 1049.2L1329.5 1050.1L1327.4 1055.3L1326.5 1057.5L1322.5 1059.4L1318.5 1057.5L1315.8 1055.3L1314.5 1054.3L1310.5 1053.1L1306.4 1053.1L1302.4 1053.7L1300.1 1055.3L1298.4 1057.4L1294.4 1055.7L1294.2 1055.3L1290.4 1052.7L1288.2 1050.1L1286.3 1047.7L1284.4 1050.1L1282.3 1054.2L1278.3 1054.6L1274.3 1053L1270.3 1054.2L1267.8 1050.1L1266.2 1047.5L1265.4 1050.1L1263.9 1055.3L1262.2 1057.1L1261.5 1055.3L1259.9 1050.1L1258.3 1044.9L1258.2 1044.6L1258.1 1044.9L1255.1 1050.1L1254.2 1051.4L1250.9 1055.3L1250.2 1056L1246.3 1055.3L1246.1 1055.3L1242.1 1056.9L1241 1055.3L1238.1 1050.9L1234.1 1054.1L1233 1055.3L1231.4 1060.5L1230.1 1063.3L1229.3 1060.5L1227.8 1055.3L1226 1053.1L1224.6 1050.1L1223.1 1044.9L1222 1043.4L1220.8 1044.9L1219.7 1050.1L1219.1 1055.3L1218 1057.4L1215.5 1055.3L1214 1053.4L1210 1051.6L1205.9 1050.6L1205.6 1050.1L1203.8 1044.9L1201.9 1042.6L1200 1044.9L1198.5 1050.1L1197.9 1050.6L1197.7 1050.1L1193.9 1045.5L1190.8 1050.1L1189.9 1051.9L1185.8 1054.3L1183.1 1050.1L1181.8 1047.2L1179.3 1050.1L1177.8 1050.7L1175.8 1050.1L1173.8 1049.3L1169.8 1047.1L1165.8 1050.1L1166 1055.3L1165.7 1058L1165.4 1055.3L1165.7 1050.1L1161.7 1047.5L1158 1050.1L1157.7 1050.7L1157.1 1050.1L1155.3 1044.9L1153.7 1042.7L1151.4 1044.9L1149.7 1046.2L1145.6 1048.7L1144.2 1050.1L1141.6 1051.2L1139.9 1050.1L1137.6 1047.7L1133.6 1047.2L1132.6 1044.9L1129.6 1041.6L1126 1044.9L1125.5 1047.8L1125 1044.9L1121.5 1042.7L1120.3 1044.9L1117.5 1048.9L1114.5 1044.9L1113.5 1041.7L1109.5 1044.1L1105.6 1044.9L1105.4 1044.9L1101.4 1046.1L1099.7 1044.9L1097.4 1043.4L1093.4 1042.7L1089.4 1042.9L1085.3 1043.8L1084.5 1044.9L1084.3 1050.1L1081.3 1053.7L1080.6 1050.1L1077.3 1045L1077 1044.9L1073.3 1041.6L1070.9 1044.9L1069.3 1049.3L1066.2 1044.9L1066 1039.7L1065.2 1034.7L1061.2 1037.7L1057.2 1039.6L1057.2 1039.7L1054.8 1044.9L1053.2 1046.5L1049.2 1045.3L1045.1 1045.5L1041.1 1049.4L1037.1 1046.6L1034.7 1044.9L1033.1 1043.5L1031.5 1044.9L1029.1 1047.1L1025.8 1044.9L1025 1044.5L1023.6 1044.9L1021 1045.9L1020.2 1044.9L1017 1042.2L1013 1040.8L1010.2 1044.9L1009 1049.5L1008.7 1050.1L1004.9 1053L1004.2 1050.1L1003.1 1044.9L1000.9 1040.1L996.9 1042.5L993.6 1044.9L992.9 1046.1L988.9 1047.9L987.6 1044.9L984.8 1041.3L980.8 1042.8L976.9 1039.7L976.8 1039.6L972.8 1037.9L972.1 1039.7L968.8 1044.2L964.7 1041.1L960.7 1042L956.7 1040.1L954.7 1041.7L952.7 1040.1L952.5 1039.7L950.8 1034.4L950.7 1034L948.7 1033.1L946.6 1031.5L945.8 1029.2L944.6 1026L943.8 1029.2L943.4 1034.4L942.6 1039.6L942 1034.4L941.1 1029.2L940.6 1026.5L940 1029.2L938.6 1032.7L936.6 1030L936.4 1029.2L935.4 1024L935.3 1018.8L934.6 1014.4L934.1 1013.6L932.6 1010.1L932.3 1008.3L932.3 1003.1L931.4 997.9L930.6 996.2L929 997.9L928.6 998.6L927.9 997.9L926.5 993.6L926.3 992.7L924.9 987.5L924.5 987.2L922.5 986.3L920.5 984.9L918.5 984.8L916.5 985.7L914.5 984.6L914.1 987.5L913.9 992.7L913.8 997.9L913.7 1003.1L913.5 1008.3L913.4 1013.6L913.4 1018.8L913.5 1024L913.7 1029.2L913.8 1034.4L913.7 1039.7L913.5 1044.9L913.6 1050.1L913.6 1055.3L913.8 1060.5L913.7 1065.8L913.4 1071L913.3 1076.2L913.4 1081.4L913.9 1086.6L914.3 1091.9L914.5 1095.6L916.5 1093.3L918.5 1096L920.5 1092.8L922.5 1095.8L923.1 1097.1L924.5 1099L926.5 1100.8L927.1 1102.3L928.5 1107.5L928.6 1107.9L929.4 1107.5L930.6 1105.9L930.7 1107.5L930.6 1110.7L930.4 1112.7L930.6 1113.9L931.2 1118L932.6 1120.5L933.5 1118L934 1112.7L934.4 1107.5L934.6 1106.3L935.5 1107.5L936.1 1112.7L936.6 1114.8L937.8 1112.7L938.6 1112.2L939.1 1112.7L940.5 1118L940.6 1118.7L940.7 1118L941.3 1112.7L942.6 1108.3L943.5 1112.7L944.1 1118L944.6 1119.6L945.8 1118L946 1112.7L946.4 1107.5L946.6 1105.9L946.9 1107.5L948.4 1112.7L948.7 1113.2L950.7 1114.9L951.9 1118L952.7 1119.4L953.3 1118L954.7 1113.8L955 1112.7L956.7 1109.2L958.1 1112.7L958.9 1118L960.7 1121L963.1 1118L963.6 1112.7L964.7 1110L968.7 1112.7L968.8 1112.8L968.8 1112.7L971.5 1107.5L972.8 1105.4L974.4 1107.5L976.8 1109L978.1 1112.7L979.6 1118L980.8 1122L983.2 1118L984.8 1114.1L986.8 1112.7L988.9 1110.2L989.7 1107.5L992 1102.3L992.9 1101.6L993.3 1102.3L995.1 1107.5L996.9 1111.8L997.5 1112.7L996.9 1114L992.9 1115.8L992 1118L992.9 1118.6L996.9 1122.3L1000.9 1120.9L1003.5 1118L1004.1 1112.7L1004.9 1110.4L1009 1110.3L1013 1110L1015.7 1107.5L1017 1107L1017.8 1107.5L1021 1109.8L1024.1 1107.5L1025 1106.5L1029.1 1103.6L1033.1 1106.4L1034 1107.5L1037.1 1109.8L1041.1 1109.7L1045.1 1111.1L1047.6 1112.7L1049.2 1113.2L1050.6 1112.7L1053.2 1111.6L1057.2 1111.8L1061.2 1110.2L1063.3 1107.5L1065.2 1104.2L1068.4 1102.3L1069.3 1101.8L1069.5 1102.3L1071.9 1107.5L1073.3 1110.2L1074.7 1112.7L1076.9 1118L1077.3 1118.7L1077.6 1118L1081.3 1112.8L1084.5 1118L1085.3 1119.6L1089.4 1122.6L1091.4 1118L1091.1 1112.7L1092.2 1107.5L1093.4 1106.4L1095.1 1107.5L1097.4 1111L1099.5 1107.5L1101.4 1104L1102.6 1107.5L1105.3 1112.7L1105.4 1113.7L1106.9 1112.7L1109.5 1112L1113.5 1108.3L1114 1107.5L1116.2 1102.3L1117.5 1101.4L1119.4 1102.3L1121.5 1105L1122.5 1107.5L1122.8 1112.7L1124.3 1118L1125.5 1120.1L1128.6 1118L1129.6 1115L1130.7 1112.7L1131.6 1107.5L1133.6 1102.3L1135 1107.5L1135.5 1112.7L1133.6 1115.4L1131 1118ZM1193.9 1106.7L1193.7 1102.3L1193.9 1101.7L1194.1 1102.3ZM1242.1 1109.1L1241.1 1107.5L1241.1 1102.3L1242.1 1100.6L1243.7 1102.3L1243 1107.5ZM1278.3 1065.9L1278.2 1065.8L1278.3 1064.8L1278.3 1065.8ZM1302.4 1098.5L1302.1 1097.1L1302.4 1092.9L1302.7 1097.1ZM1085.3 1108.4L1084.6 1107.5L1084.2 1102.3L1085.3 1098L1087.1 1102.3L1086 1107.5ZM1125.5 1098.5L1125.4 1097.1L1125.5 1096.6L1125.6 1097.1Z" fill="#45B3BE" stroke="#1c1c2c" stroke-width="0.45" stroke-linejoin="round" fill-rule="evenodd"/><path d="M932.6 1112.7L932.6 1112.8L932.6 1112.7L933 1107.5L933.6 1102.3L934.6 1098.4L936.6 1099.5L938 1102.3L938.6 1105.2L939.5 1102.3L940.6 1099.7L942.6 1101.8L944.6 1102.1L946.6 1098.1L947.7 1102.3L948.7 1106.9L950.7 1102.5L952.3 1107.5L952.7 1108.4L952.9 1107.5L952.9 1102.3L954.7 1100.8L955.7 1102.3L956.7 1103.6L959.7 1107.5L960.6 1112.7L960.7 1113.6L960.9 1112.7L961.9 1107.5L964.7 1103.9L968.8 1103.4L969.5 1102.3L971.5 1097.1L972.8 1095.6L973.4 1097.1L975.4 1102.3L976.8 1104.1L979 1102.3L980.8 1098.3L982.6 1102.3L980.8 1104.7L979.5 1107.5L980.2 1112.7L980.8 1114.7L981.9 1112.7L982.9 1107.5L984.8 1105.1L987.4 1102.3L988.9 1100.6L992.9 1098.3L995.2 1102.3L996.9 1105.4L999.6 1107.5L1000.9 1109.5L1002 1107.5L1003.4 1102.3L1002.1 1097.1L1000.9 1093.8L1000.5 1091.9L1000.9 1090.7L1004.9 1090.6L1005.6 1091.9L1006.3 1097.1L1007.2 1102.3L1009 1104.6L1011.3 1102.3L1013 1098.9L1015.7 1102.3L1017 1103.1L1021 1104.8L1023.4 1102.3L1025 1100.8L1029.1 1098.8L1033.1 1098.4L1034.8 1097.1L1037.1 1094.2L1040 1091.9L1041.1 1090.8L1041.3 1091.9L1041.1 1096.1L1040.9 1097.1L1039.6 1102.3L1041.1 1103.4L1044.9 1102.3L1045.1 1102.2L1045.2 1102.3L1047.6 1107.5L1049.2 1109.2L1051.2 1107.5L1053.2 1104.4L1055.9 1102.3L1057.2 1101.6L1058.3 1102.3L1061.2 1104.7L1062.6 1102.3L1065.2 1097.3L1065.6 1097.1L1069.3 1096.1L1070.1 1097.1L1072 1102.3L1073.3 1104.5L1077.3 1107.4L1081.3 1102.8L1081.5 1102.3L1083.1 1097.1L1085.3 1093.2L1088.3 1091.9L1089.4 1091.1L1089.9 1091.9L1091.3 1097.1L1093.4 1099.5L1097.4 1100.6L1099.4 1097.1L1101.4 1094.8L1103.7 1097.1L1105.4 1100L1107.4 1097.1L1109.5 1095.8L1112.5 1097.1L1113.5 1098.1L1117.5 1097.9L1121.5 1098L1122 1097.1L1123.8 1091.9L1125.5 1086.8L1127.7 1091.9L1128.2 1097.1L1128.5 1102.3L1129.6 1104.6L1130.6 1102.3L1131.7 1097.1L1133.6 1094L1135 1097.1L1136 1102.3L1137.6 1107.4L1137.8 1107.5L1141.6 1108.6L1145.6 1109.2L1146.5 1107.5L1147.6 1102.3L1149.7 1098.5L1151.5 1102.3L1152.2 1107.5L1153.2 1112.7L1153.7 1116.4L1154.2 1112.7L1155.3 1107.5L1157.7 1104.6L1161.5 1102.3L1161.7 1102L1162.1 1102.3L1165.7 1105L1169.8 1103.1L1171.4 1102.3L1173.6 1097.1L1173.8 1096.6L1174 1097.1L1177.8 1101.9L1180.3 1097.1L1181.4 1091.9L1181.8 1090.8L1182.9 1091.9L1185.6 1097.1L1184.9 1102.3L1185.5 1107.5L1185.8 1108.1L1186.4 1107.5L1189.9 1105.3L1191.4 1102.3L1192.9 1097.1L1193.9 1095.8L1195.4 1097.1L1196.9 1102.3L1197.7 1107.5L1197.9 1108.2L1198.1 1107.5L1199.8 1102.3L1201.4 1097.1L1199.8 1091.9L1201.8 1086.6L1201.9 1086.5L1202 1086.6L1204 1091.9L1205.9 1095.2L1208.5 1091.9L1210 1089L1212.2 1086.6L1214 1082.8L1214.4 1086.6L1214.3 1091.9L1215.1 1097.1L1218 1101.3L1220.1 1097.1L1221.6 1091.9L1222 1091.2L1222.5 1091.9L1225.1 1097.1L1223.8 1102.3L1224.8 1107.5L1226 1109.9L1227.7 1107.5L1229 1102.3L1230.1 1100.5L1232 1102.3L1234.1 1104.9L1237.9 1102.3L1238.1 1102L1240.4 1097.1L1242.1 1095.8L1246.1 1095.9L1247.7 1091.9L1249.7 1086.6L1250.2 1085.7L1252.3 1086.6L1254.2 1089.6L1254.6 1091.9L1255.2 1097.1L1257.5 1102.3L1258.2 1103.1L1259.1 1102.3L1262.2 1097.9L1263.4 1097.1L1266.2 1095.4L1270.3 1095.4L1273 1091.9L1274.3 1090.9L1275.1 1091.9L1278.3 1096.3L1279.7 1097.1L1282.3 1098.3L1284.6 1102.3L1285.9 1107.5L1286.3 1109.2L1287.4 1107.5L1290.4 1103.1L1290.8 1102.3L1292.5 1097.1L1292.2 1091.9L1294.4 1089.8L1295.4 1091.9L1298.4 1096.3L1300.3 1091.9L1302 1086.6L1302.4 1085.7L1303.3 1086.6L1304.7 1091.9L1306.4 1096.7L1309.2 1097.1L1310.5 1097.3L1311 1097.1L1312.2 1091.9L1314.5 1088.8L1316.1 1091.9L1316.4 1097.1L1318.5 1098.3L1319.7 1097.1L1321.5 1091.9L1322.5 1091.1L1326.5 1090.3L1329.3 1086.6L1330.6 1082.5L1332.7 1086.6L1333.3 1091.9L1334.6 1094.8L1338.6 1095L1340.5 1091.9L1342.6 1086.6L1346.6 1088.5L1350.7 1089.8L1352.6 1091.9L1354.7 1096.9L1355 1097.1L1358.6 1102.3L1358.7 1102.4L1358.8 1102.3L1359.5 1097.1L1358.7 1095.6L1357 1091.9L1356.7 1086.6L1356.9 1081.4L1357.8 1076.2L1356.4 1071L1354.7 1069.4L1350.7 1071L1350 1071L1346.6 1070.8L1344.3 1065.8L1342.6 1063.3L1339.6 1065.8L1338.6 1067.6L1335.1 1065.8L1334.6 1065.6L1333 1065.8L1330.6 1066L1326.9 1071L1326.5 1071.7L1325.1 1071L1325.1 1065.8L1322.5 1064.3L1318.5 1062.4L1314.5 1061.1L1310.5 1062.5L1309 1065.8L1306.5 1071L1306.4 1071.4L1306.4 1071L1304.6 1065.8L1302.4 1063.1L1300.5 1065.8L1299.2 1071L1298.4 1072.4L1295.7 1071L1294.9 1065.8L1294.4 1065.1L1292.1 1065.8L1290.4 1066.9L1290 1065.8L1290.4 1063.2L1290.8 1060.5L1290.4 1059.8L1288.5 1055.3L1286.3 1052.8L1284.9 1055.3L1284.3 1060.5L1282.3 1063L1281.3 1065.8L1280.2 1071L1278.3 1073.4L1274.3 1072.3L1270.3 1072.4L1267.9 1071L1266.2 1066.8L1262.2 1065.8L1258.2 1069.8L1257.3 1065.8L1256.6 1060.5L1254.2 1057.1L1250.2 1059.5L1248.2 1060.5L1246.1 1063.5L1242.1 1063.5L1240 1060.5L1238.1 1057.9L1236.8 1060.5L1236 1065.8L1234.1 1066.8L1230.5 1071L1230.1 1071.9L1226.3 1076.2L1226 1076.4L1225.9 1076.2L1223.4 1071L1222 1069.2L1219.8 1065.8L1218 1063.3L1214 1061.6L1210 1061.3L1205.9 1063.8L1202.3 1060.5L1201.9 1060.3L1197.9 1058L1196.7 1055.3L1194.7 1050.1L1193.9 1049.1L1193.2 1050.1L1190.9 1055.3L1189.9 1056.5L1185.8 1059.3L1181.8 1057.1L1178.7 1060.5L1177.8 1064L1174.1 1060.5L1173.8 1059.9L1173 1055.3L1169.8 1052.4L1168.5 1055.3L1168.1 1060.5L1166.4 1065.8L1165.7 1067.6L1163 1065.8L1162.9 1060.5L1162.2 1055.3L1161.7 1054.1L1160.9 1055.3L1157.7 1058.7L1155.7 1060.5L1153.7 1061.8L1152.9 1060.5L1152 1055.3L1149.7 1051.2L1145.6 1053.8L1142.7 1055.3L1141.6 1057.2L1140.5 1055.3L1137.6 1053.6L1135.9 1055.3L1133.6 1058.1L1129.6 1058.9L1126.9 1060.5L1125.5 1061.3L1124.8 1060.5L1123.3 1055.3L1122.8 1050.1L1121.5 1048L1120 1050.1L1117.5 1054.4L1113.5 1054.2L1109.5 1050.5L1108.7 1050.1L1105.4 1048.4L1102.8 1050.1L1101.4 1051L1100.3 1050.1L1097.4 1047.6L1094.6 1050.1L1094.5 1055.3L1093.4 1055.7L1089.4 1057.2L1085.3 1057.6L1081.3 1059.4L1080.4 1055.3L1079.1 1050.1L1077.3 1047.3L1073.3 1045.9L1071.4 1050.1L1070.1 1055.3L1069.3 1058.8L1067.3 1055.3L1065.2 1052.9L1064.6 1050.1L1063.3 1044.9L1061.2 1041.3L1058.4 1044.9L1057.2 1046.7L1053.5 1050.1L1053.2 1050.4L1052.3 1050.1L1049.2 1049.3L1048.1 1050.1L1045.1 1053.5L1043.1 1055.3L1041.1 1057L1040.3 1055.3L1037.1 1051.5L1033.1 1050.1L1033 1050.1L1030.3 1055.3L1029.1 1059.4L1028 1055.3L1027.2 1050.1L1025 1048L1022.5 1050.1L1021 1052.9L1018.4 1050.1L1017 1048.3L1013 1048.8L1012.3 1050.1L1009 1054.8L1008.4 1055.3L1005.5 1060.5L1004.9 1061.1L1004.6 1060.5L1003.1 1055.3L1002.1 1050.1L1000.9 1045.2L996.9 1046.5L994.4 1050.1L992.9 1053.4L990.4 1055.3L988.9 1056.5L987.5 1055.3L986.1 1050.1L984.8 1046.9L982 1050.1L980.8 1050.7L976.8 1051L972.8 1053.5L969.5 1050.1L968.8 1049.6L966.1 1050.1L964.7 1050.3L964.3 1050.1L960.7 1048.1L957.3 1044.9L956.7 1044.5L956.4 1044.9L954.7 1047.2L952.7 1047L950.7 1049.9L949.9 1044.9L949.1 1039.7L948.7 1039.1L946.6 1037.6L946 1039.7L946.2 1044.9L944.6 1045.8L942.6 1046.9L940.6 1048.8L939.9 1044.9L939.7 1039.7L938.6 1037.8L936.6 1036.1L936.3 1034.4L935 1029.2L934.6 1026.9L932.6 1028.3L930.7 1029.2L930.6 1029.3L930.5 1029.2L928.6 1027.2L928.2 1024L928.5 1018.8L928.6 1017.4L929.3 1013.6L928.6 1010.9L928 1008.3L926.5 1004.6L924.5 1005.2L924.2 1003.1L923.2 997.9L922.5 994L922.3 992.7L920.8 987.5L920.5 987.2L919.9 987.5L918.5 989.1L916.5 992.6L914.5 990.1L914.3 992.7L914.3 997.9L914.2 1003.1L913.9 1008.3L913.7 1013.6L913.7 1018.8L913.8 1024L914.1 1029.2L914.2 1034.4L914.1 1039.7L913.9 1044.9L913.9 1050.1L914 1055.3L914.2 1060.5L914.1 1065.8L913.7 1071L913.5 1076.2L913.7 1081.4L914.4 1086.6L914.5 1087.8L916.5 1087.6L917.1 1086.6L918.2 1081.4L918.1 1076.2L917.5 1071L916.5 1069.5L915.6 1065.8L915.6 1060.5L916.5 1057.1L918.3 1060.5L918.5 1062.5L918.8 1065.8L919.5 1071L919.7 1076.2L919.2 1081.4L919.7 1086.6L920.5 1088L922.5 1089.5L924.5 1090.9L924.6 1091.9L926.5 1097.1L926.6 1097.1L928.3 1102.3L928.6 1103.2L929 1102.3L930.6 1098.4L931.7 1102.3L932.1 1107.5ZM952.7 1101.6L952.4 1097.1L952.7 1096L953.2 1097.1ZM1021 1094.7L1020.1 1091.9L1020.1 1086.6L1021 1085.1L1021.8 1086.6L1021.6 1091.9ZM1077.3 1097.4L1077.2 1097.1L1077.3 1096.2L1077.5 1097.1ZM1097.4 1066.2L1097.3 1065.8L1095.8 1060.5L1097.4 1056.7L1098.5 1060.5L1097.6 1065.8ZM1117.5 1060.7L1117.4 1060.5L1117.5 1059.9L1117.7 1060.5ZM1157.7 1078.8L1157.6 1076.2L1157.7 1075L1157.9 1076.2ZM1193.9 1073.5L1193 1071L1193.8 1065.8L1193.9 1065.2L1194.1 1065.8L1195.2 1071ZM1286.3 1092.9L1285.9 1091.9L1286.3 1086.9L1287.2 1091.9ZM1124.4 1112.7L1125.5 1115.8L1127.3 1112.7L1125.5 1108.4ZM1329.3 1102.3L1330.6 1105.8L1333.6 1102.3L1333.2 1097.1L1330.6 1094.9L1329.7 1097.1ZM1372.5 1097.1L1374.8 1101.8L1375.4 1097.1L1374.8 1096.6ZM1405.4 1097.1L1406.9 1100.9L1408.8 1097.1L1408.7 1091.9L1407.5 1086.6L1408.5 1081.4L1411 1080.2L1412.8 1081.4L1413.5 1086.6L1414 1091.9L1415 1093.4L1415.6 1091.9L1419 1086.6L1421.3 1091.9L1422.2 1097.1L1423 1099.5L1423 1097.1L1423 1091.9L1423 1086.6L1423 1081.4L1423 1076.2L1423 1071L1423 1066.8L1422.4 1065.8L1419 1062.6L1416.2 1065.8L1415 1070.8L1413.4 1065.8L1411 1062.4L1409.1 1065.8L1407.1 1071L1406.9 1072.1L1402.9 1075.5L1401.2 1071L1400.8 1065.8L1398.9 1062.7L1395.9 1065.8L1396.7 1071L1394.9 1076L1392.7 1071L1390.9 1067.5L1388.4 1071L1388.3 1076.2L1390.9 1078.5L1393.1 1081.4L1394.9 1085.8L1398.9 1083.1L1400.6 1086.6L1401.1 1091.9L1402.9 1094.3ZM1378.1 1086.6L1378.8 1087.6L1379.6 1086.6L1382.8 1082L1384.3 1081.4L1382.8 1079L1378.8 1077.7L1378 1076.2L1375.9 1071L1374.8 1069.9L1370.8 1069.2L1368.9 1071L1366.7 1075.3L1362.7 1075.9L1362.4 1076.2L1361.5 1081.4L1362.7 1083.2L1364.1 1081.4L1366.7 1076.7L1368.7 1081.4L1370.8 1086.2L1374.8 1083.4ZM1225.9 1065.8L1226 1066L1226.1 1065.8L1226.7 1060.5L1226 1059L1224.4 1060.5ZM1221.9 1055.3L1222 1055.9L1222.3 1055.3L1222 1050.1ZM1257.4 1055.3L1258.2 1056.1L1258.4 1055.3L1258.2 1053.6ZM1362.5 1055.3L1362.7 1057.6L1362.9 1055.3L1362.7 1054.9Z" fill="#8CC665" stroke="#1c1c2c" stroke-width="0.45" stroke-linejoin="round" fill-rule="evenodd"/><path d="M999.5 1102.3L1000.9 1102.9L1001.1 1102.3L1000.9 1101.7L999.1 1097.1L998.1 1091.9L1000 1086.6L1000.9 1085.6L1004.8 1086.6L1004.9 1086.7L1007.7 1091.9L1008.1 1097.1L1009 1099.7L1010.4 1097.1L1012.3 1091.9L1012.3 1086.6L1013 1083.8L1017 1084.4L1018.7 1081.4L1021 1079.4L1022.9 1081.4L1025 1086.5L1026.4 1086.6L1025 1087.2L1024.7 1091.9L1025 1093.2L1029.1 1092.6L1030.3 1091.9L1029.7 1086.6L1033.1 1084.2L1033.9 1086.6L1037.1 1089L1039 1086.6L1041.1 1081.9L1043.3 1081.4L1045.1 1081L1045.4 1081.4L1045.1 1082.6L1044.1 1086.6L1043.7 1091.9L1045 1097.1L1045.1 1097.3L1048.1 1102.3L1049.2 1104.3L1050.5 1102.3L1051.2 1097.1L1051.1 1091.9L1052 1086.6L1053.2 1084.6L1057.2 1086.4L1061.2 1084.3L1065.2 1081.5L1066.4 1086.6L1069.3 1091.8L1069.5 1091.9L1073.3 1095.2L1074.2 1091.9L1077 1086.6L1077.3 1086L1081.3 1085.9L1082.4 1086.6L1085.3 1088.2L1087.3 1086.6L1089.4 1084.8L1093.4 1084.8L1095.2 1086.6L1097.4 1091.4L1101.4 1089.4L1104.1 1091.9L1105.4 1093.1L1109.5 1092.4L1113.5 1093.5L1117.5 1093.5L1120.7 1091.9L1120.2 1086.6L1119.9 1081.4L1120.7 1076.2L1121.5 1074.3L1124 1076.2L1125.5 1078.4L1129.6 1076.3L1131.4 1081.4L1133.6 1083.3L1134.4 1086.6L1135.4 1091.9L1137.6 1095.9L1141.6 1094.4L1145.6 1092.2L1149.7 1093.5L1151.1 1091.9L1153.7 1086.6L1155.2 1081.4L1156.2 1076.2L1156.5 1071L1155.3 1065.8L1153.7 1065.4L1150.7 1060.5L1149.7 1055.3L1149.6 1055.3L1145.6 1059.6L1145 1060.5L1144.4 1065.8L1145.6 1068.5L1146.6 1071L1146.2 1076.2L1145.6 1078.8L1143.2 1076.2L1141.6 1074.2L1139.7 1071L1137.6 1068.4L1135.1 1065.8L1133.6 1064.4L1129.6 1063.6L1127 1065.8L1125.5 1069L1123.8 1065.8L1121.5 1063.4L1119.5 1065.8L1117.5 1068.3L1115.9 1065.8L1113.5 1061.9L1112.9 1060.5L1110.3 1055.3L1109.5 1054.4L1105.4 1052.1L1101.4 1054.9L1100.9 1055.3L1101 1060.5L1100.5 1065.8L1099 1071L1097.4 1075.3L1096.4 1071L1094.9 1065.8L1093.4 1062.2L1089.4 1064L1085.3 1062.8L1081.3 1064.4L1079 1060.5L1079.1 1055.3L1077.6 1050.1L1077.3 1049.6L1075.3 1050.1L1073.3 1053.5L1073 1055.3L1073.3 1057.7L1074 1060.5L1076 1065.8L1075.4 1071L1073.3 1076L1070.5 1071L1069.3 1068.4L1065.2 1070.3L1064.2 1065.8L1062.4 1060.5L1063.2 1055.3L1062.7 1050.1L1061.2 1045.5L1058.3 1050.1L1057.2 1052.4L1054.2 1055.3L1053.2 1056.7L1052.7 1055.3L1049.2 1052.7L1047 1055.3L1046.5 1060.5L1046.3 1065.8L1045.1 1068.4L1043.1 1065.8L1041.1 1063L1039.6 1060.5L1037.5 1055.3L1037.1 1054.9L1035.9 1055.3L1035.1 1060.5L1034.9 1065.8L1034.7 1071L1033.2 1076.2L1033.1 1077.7L1032.9 1076.2L1031.2 1071L1029.1 1066.1L1026.6 1071L1025 1074.3L1021.1 1071L1021 1070.8L1017.5 1065.8L1017 1065L1013 1065.2L1012.4 1065.8L1009 1067.8L1004.9 1066L1004.6 1065.8L1001.2 1060.5L1000.9 1058.5L1000.3 1055.3L996.9 1050.4L994.7 1055.3L992.9 1059.8L991.7 1060.5L988.9 1061.2L984.8 1062.1L983.7 1060.5L981.4 1055.3L980.8 1054.9L979.6 1055.3L977.5 1060.5L976.8 1061.2L972.8 1060.6L972.6 1060.5L969.6 1055.3L968.8 1054.3L965.6 1055.3L964.7 1055.6L961.4 1060.5L960.7 1061.3L960 1060.5L959.6 1055.3L956.7 1051.7L954.7 1051.7L952.9 1055.3L952.7 1056.3L950.7 1056L949 1055.3L948.7 1055.1L946.6 1052.3L944.6 1053.1L942.6 1053.7L940.6 1054.4L940.1 1055.3L938.6 1057.2L936.8 1055.3L936.6 1054.7L935.9 1050.1L934.6 1046.7L932.6 1050.1L932.6 1050.2L932.4 1050.1L930.6 1047.1L930.4 1044.9L930.3 1039.7L929.6 1034.4L928.6 1031.8L927 1029.2L927.3 1024L927.8 1018.8L927.7 1013.6L926.5 1010.1L924.5 1012.7L923.9 1008.3L923.1 1003.1L922.5 1001L920.8 1003.1L920.5 1003.7L920.4 1003.1L920.1 997.9L920.5 994.8L920.7 992.7L920.5 992L919.9 992.7L918.5 994.4L917 997.9L916.5 999L914.9 1003.1L914.5 1004.4L914.3 1008.3L914 1013.6L914 1018.8L914.1 1024L914.5 1028.9L914.6 1029.2L915 1034.4L914.5 1039.3L914.5 1039.7L914.2 1044.9L914.3 1050.1L914.4 1055.3L914.5 1058L915.1 1055.3L916.1 1050.1L916.5 1047.7L918.5 1048L919.1 1044.9L920.4 1039.7L920.5 1039.4L920.6 1039.7L921.8 1044.9L922.1 1050.1L921.7 1055.3L921.7 1060.5L922.5 1063.2L923.1 1065.8L923.3 1071L922.8 1076.2L923 1081.4L924.5 1083.6L925.8 1086.6L926.5 1091.8L928.3 1086.6L928.6 1082.2L928.7 1086.6L929.2 1091.9L930.6 1094.3L931.6 1097.1L932.6 1100.4L933.5 1097.1L934.6 1092.7L936.6 1094.9L938.6 1093L940.6 1094L942 1097.1L942.6 1098.3L944 1097.1L944.6 1096.6L946.6 1093.7L948.2 1097.1L948.7 1099.2L950.5 1097.1L950.7 1097L952.3 1091.9L952.7 1091.1L953.3 1091.9L954.7 1094.9L956.7 1096.4L960.7 1096.4L964 1091.9L964.7 1088.7L968.8 1091.7L972.8 1090.9L973.7 1091.9L975.8 1097.1L976.8 1099.2L978.1 1097.1L980.1 1091.9L980.8 1090.6L983 1091.9L984.8 1092.8L988.9 1094.3L992.9 1095.1L994.6 1097.1L996.9 1101.5ZM1057.2 1067.9L1055.8 1065.8L1055.2 1060.5L1057.2 1058L1059.3 1060.5L1058.8 1065.8ZM1109.5 1077.9L1106.6 1076.2L1105.4 1071.7L1105.4 1071L1103.3 1065.8L1105.4 1063.5L1108.2 1065.8L1109.5 1066.7L1110.8 1071L1109.8 1076.2ZM924.5 1034.5L924.5 1034.4L924.5 1034.1L924.6 1034.4ZM926.5 1068.3L926.1 1065.8L926.5 1063.3L926.8 1065.8ZM926.5 1053.4L926 1050.1L926 1044.9L926.5 1041.3L926.9 1044.9L927 1050.1ZM1168.9 1097.1L1169.8 1097.5L1170.1 1097.1L1171.4 1091.9L1173.8 1089.4L1175.3 1091.9L1177.8 1096.1L1179.5 1091.9L1181.2 1086.6L1181.8 1083.6L1183.4 1086.6L1185.8 1089.2L1187.9 1086.6L1189.9 1083.5L1191.9 1081.4L1192.1 1076.2L1191.1 1071L1191.7 1065.8L1190.2 1060.5L1189.9 1060.3L1189.6 1060.5L1187.7 1065.8L1187.9 1071L1186.8 1076.2L1185.8 1078.4L1183 1076.2L1181.8 1075L1180.6 1076.2L1177.8 1078.2L1173.8 1079.7L1171.8 1076.2L1172.1 1071L1170.5 1065.8L1169.8 1065.1L1169.6 1065.8L1167.8 1071L1165.7 1076L1161.7 1075.7L1161.5 1076.2L1161.7 1080.1L1161.8 1081.4L1161.7 1081.5L1159.6 1086.6L1159.8 1091.9L1161.7 1095.4L1165.7 1092.3ZM1257.3 1097.1L1258.2 1098.8L1259.4 1097.1L1258.2 1093.1ZM1057.1 1091.9L1057.2 1092.4L1057.5 1091.9L1057.2 1090.2ZM1217.3 1091.9L1218 1093.7L1218.6 1091.9L1222 1086.8L1225.6 1091.9L1226 1092.6L1230.1 1094.8L1231.8 1091.9L1231.6 1086.6L1231.4 1081.4L1230.1 1079.1L1226 1080.7L1223.5 1076.2L1222 1073.8L1220 1076.2L1218 1081.3L1217.9 1081.4L1217.1 1086.6ZM1205.3 1086.6L1205.9 1088L1206.7 1086.6L1210 1083L1211 1081.4L1212.4 1076.2L1213.4 1071L1210 1067.9L1205.9 1069.8L1201.9 1067.3L1198.3 1071L1197.9 1072.1L1196.3 1076.2L1195.9 1081.4L1197.9 1085.2L1201.9 1082ZM1239.3 1086.6L1242.1 1091.1L1246.1 1088L1246.9 1086.6L1249 1081.4L1250.2 1078.3L1254.2 1079.1L1255.4 1076.2L1255.9 1071L1254.8 1065.8L1254.2 1064L1250.2 1064.7L1249.4 1065.8L1249.3 1071L1248.9 1076.2L1246.1 1078.1L1244.8 1076.2L1242.1 1072.9L1238.1 1072.7L1235.5 1071L1234.1 1070.6L1233.7 1071L1231.6 1076.2L1234.1 1078.9L1237.2 1081.4L1238.1 1084.2ZM1265.6 1086.6L1266.2 1087.7L1270.3 1088.8L1273.3 1086.6L1274.3 1085.4L1278.3 1086L1282.3 1085.1L1284.2 1081.4L1286.3 1080.1L1289.3 1076.2L1288.7 1071L1286.3 1067L1283.5 1071L1282.3 1075.8L1281.9 1076.2L1278.3 1080L1274.3 1079L1270.3 1077.5L1267.2 1081.4L1266.2 1084.5ZM1297.4 1086.6L1298.4 1089.6L1298.9 1086.6L1301.2 1081.4L1302.4 1077.6L1302.9 1076.2L1303.5 1071L1302.4 1068.6L1301.5 1071L1300 1076.2L1298.4 1076.7L1294.7 1081.4ZM1324.7 1086.6L1326.5 1087.2L1327 1086.6L1328 1081.4L1326.5 1078.7L1323.4 1081.4ZM1337.8 1086.6L1338.6 1087.7L1339 1086.6L1340.3 1081.4L1340.6 1076.2L1338.6 1074.3L1335.4 1071L1334.6 1070.2L1331.3 1071L1330.6 1076L1330.5 1076.2L1330.6 1076.2L1333.2 1081.4L1334.6 1083.9ZM914 1081.4L914.5 1084.8L916.5 1083.8L917.2 1081.4L917.2 1076.2L916.5 1073.3L915.9 1071L914.5 1065.8L914.5 1065.4L914.5 1065.8L914 1071L913.8 1076.2ZM1307.9 1081.4L1310.5 1086.4L1314.5 1082.5L1315.8 1081.4L1317.4 1076.2L1318.5 1073L1319.3 1071L1318.5 1067.8L1314.5 1067.5L1310.5 1070.1L1310 1071L1307.8 1076.2ZM1347.8 1081.4L1350.7 1084.3L1352.8 1081.4L1350.7 1079.2ZM1345.9 1076.2L1346.6 1078.3L1347.3 1076.2L1346.6 1075.8ZM1353.5 1076.2L1354.7 1078.2L1355.1 1076.2L1354.7 1075ZM1418.5 1076.2L1419 1077.9L1419.8 1076.2L1421 1071L1419 1067.7L1417.8 1071ZM1410.3 1071L1411 1073.6L1411.6 1071L1411 1069.5Z" fill="#FCE11C" stroke="#1c1c2c" stroke-width="0.45" stroke-linejoin="round" fill-rule="evenodd"/><path d="M930.9 1091.9L932.6 1096.4L934 1091.9L934.6 1090.1L936.6 1090.8L938.6 1089.3L940.6 1088.9L941.7 1091.9L942.6 1094.1L944.6 1093.7L945.7 1091.9L946.6 1090.2L948.7 1091.6L949.5 1091.9L950.7 1092.2L950.8 1091.9L952.7 1087.8L954.7 1089.1L956.7 1089L958.3 1091.9L960.7 1093.6L962 1091.9L963.7 1086.6L964.7 1084.1L968.5 1086.6L968.8 1086.9L972.8 1087.4L975.1 1086.6L976.8 1086L980.8 1084.5L981.4 1086.6L984.8 1090.3L988.9 1090.1L992.9 1091.6L996.9 1088.1L997.4 1086.6L1000.9 1082.5L1004.9 1083.6L1009 1083L1009.5 1081.4L1012.1 1076.2L1009 1072.9L1007.3 1071L1004.9 1069.1L1000.9 1066.8L997.3 1065.8L997.1 1060.5L996.9 1059.2L996.7 1060.5L992.9 1064.4L988.9 1063.4L985.8 1065.8L984.8 1067L983.6 1065.8L980.8 1061.9L976.8 1065.2L972.8 1063.9L968.8 1063.7L965 1060.5L964.7 1060.4L964.6 1060.5L960.7 1064.6L956.9 1060.5L956.7 1060.1L954.7 1056.7L953.8 1060.5L952.7 1062.2L950.7 1061L948.7 1062.6L947.9 1060.5L946.6 1056L944.9 1060.5L944.6 1061.2L944.3 1060.5L942.6 1058.1L940.6 1057.6L938.8 1060.5L938.6 1061L936.6 1062.3L935.2 1060.5L934.6 1057.9L932.6 1056.5L931.8 1055.3L930.6 1054.2L929.1 1055.3L928.6 1056.8L928.2 1060.5L927.7 1065.8L928.2 1071L928.6 1071.8L930 1076.2L930.3 1081.4L930.2 1086.6L930.6 1088.8ZM992.9 1078.3L992.8 1076.2L992.8 1071L992.9 1070.4L993.1 1071L993 1076.2ZM1068.1 1086.6L1069.3 1088.8L1073.3 1086.9L1073.4 1086.6L1073.3 1084.4L1073.2 1081.4L1070.6 1076.2L1069.3 1073.9L1067.8 1076.2L1066.7 1081.4ZM1109.3 1086.6L1109.5 1086.7L1113.5 1087.3L1114 1086.6L1117.5 1082.7L1117.8 1081.4L1118.5 1076.2L1117.5 1073.7L1115.6 1071L1113.5 1067.7L1112.5 1071L1111.7 1076.2L1111.8 1081.4L1109.5 1086.5ZM1137.2 1086.6L1137.6 1088.6L1139.1 1086.6L1137.6 1085.1ZM1147.7 1086.6L1149.7 1088.9L1150.9 1086.6L1152.3 1081.4L1153.7 1079.7L1154.9 1076.2L1154.9 1071L1153.7 1068.5L1149.7 1070.7L1149.5 1071L1147.7 1076.2L1147.4 1081.4ZM1175.7 1086.6L1177.8 1090.8L1178.9 1086.6L1177.8 1084.5ZM1225.2 1086.6L1226 1087.8L1227.2 1086.6L1226 1085.5ZM914.3 1081.4L914.5 1082.5L915.7 1081.4L916.3 1076.2L915 1071L914.5 1068.9L914.3 1071L914.1 1076.2ZM1034.6 1081.4L1037.1 1085.5L1039.5 1081.4L1041.1 1078.1L1043.6 1076.2L1042.9 1071L1041.1 1068.7L1037.5 1071L1037.1 1071.1L1034.6 1076.2ZM1310.3 1081.4L1310.5 1081.7L1310.8 1081.4L1313.6 1076.2L1310.5 1074.5L1309.7 1076.2ZM923.6 1076.2L924.5 1080.2L926.1 1076.2L925.4 1071L924.5 1067.2L924.1 1071ZM1014.5 1076.2L1017 1077.9L1019.3 1076.2L1017 1073.6ZM1028.1 1076.2L1029.1 1077.3L1029.8 1076.2L1029.1 1073.7ZM1046.1 1076.2L1049.2 1080.6L1053.2 1076.9L1057.2 1080.8L1061.2 1078.1L1062.3 1076.2L1061.2 1073.2L1057.2 1073.3L1053.2 1074.3L1052.7 1071L1050.1 1065.8L1050 1060.5L1049.2 1058L1048.8 1060.5L1048.9 1065.8L1046.7 1071ZM1089.6 1076.2L1093.4 1078.8L1094.9 1076.2L1094 1071L1093.4 1068.9L1089.4 1069.7L1088 1071L1089.4 1075.6ZM1200.6 1076.2L1201.9 1077.6L1205.9 1078.2L1209 1076.2L1205.9 1075.1L1201.9 1072ZM1333.5 1076.2L1334.6 1078.3L1336 1076.2L1334.6 1074.6ZM1286.1 1071L1286.3 1073.1L1286.5 1071L1286.3 1070.6ZM923.8 1060.5L924.5 1063.8L925.2 1060.5L925.2 1055.3L924.5 1050.3L923.8 1055.3ZM1107.7 1060.5L1109.5 1062.3L1110.5 1060.5L1109.5 1058.7ZM1075.9 1055.3L1077.3 1058.1L1077.9 1055.3L1077.3 1053.4ZM928 1050.1L928.6 1054.7L929.4 1050.1L929.5 1044.9L929.2 1039.7L928.6 1036.1L927.7 1039.7L927.7 1044.9ZM924.1 1044.9L924.5 1049.5L924.7 1044.9L924.5 1043.4ZM922.4 1039.7L922.5 1040.7L923.1 1039.7L922.8 1034.4L923.4 1029.2L923.8 1024L923.7 1018.8L923.6 1013.6L922.9 1008.3L922.5 1006.2L921.6 1008.3L920.8 1013.6L920.5 1017.5L920.4 1018.8L919.4 1024L920.5 1027.6L921 1029.2L921.7 1034.4ZM916.3 1034.4L916.5 1035.5L916.8 1034.4L917.8 1029.2L918.1 1024L916.5 1019.1L916.2 1018.8L915.2 1013.6L914.5 1010.8L914.4 1013.6L914.3 1018.8L914.4 1024L914.5 1024.9L915.4 1029.2ZM925.7 1018.8L926.5 1022.8L927.1 1018.8L926.5 1013.7ZM917.1 1003.1L918.5 1007.6L919 1003.1L918.5 1000.5Z" fill="#F15A2B" stroke="#1c1c2c" stroke-width="0.45" stroke-linejoin="round" fill-rule="evenodd"/><path d="M931.8 1091.9L932.6 1094L933.2 1091.9L934.6 1088.1L936.6 1087.1L937.4 1086.6L938.6 1086L940.6 1081.4L940.6 1081.2L940.9 1081.4L942 1086.6L942.6 1088.3L944.6 1091L946.6 1087.1L948.7 1087.5L950 1086.6L950.5 1081.4L950.7 1080.6L952.7 1080.2L954.7 1081.3L954.8 1081.4L956.7 1082.8L958.2 1086.6L960.7 1090.6L962.3 1086.6L963.9 1081.4L964.7 1080.5L968.8 1081.1L971.4 1076.2L972.8 1073L973.2 1076.2L976 1081.4L976.8 1082.2L977.9 1081.4L980.8 1079.5L981.4 1081.4L983.2 1086.6L984.8 1088.4L988.9 1086.7L989 1086.6L991.2 1081.4L991.7 1076.2L991.4 1071L989 1065.8L988.9 1065.7L988.8 1065.8L984.8 1070.6L980.8 1066.7L976.8 1067.3L972.8 1069.4L969.6 1071L968.8 1071.4L964.7 1072.2L963.4 1071L960.7 1068.7L956.9 1065.8L956.7 1065.5L954.7 1063.4L952.7 1065.4L950.7 1063.6L949.2 1065.8L948.7 1067.2L947.5 1065.8L946.6 1063.5L945.4 1065.8L944.6 1066.2L944.3 1065.8L942.6 1062.5L940.9 1060.5L940.6 1060.4L940.5 1060.5L938.6 1064.6L936.7 1065.8L936.6 1065.8L934.6 1062.9L933.2 1065.8L932.6 1067.1L930.8 1071L931.1 1076.2L931.5 1081.4L931.4 1086.6ZM942.6 1080.1L941.9 1076.2L942.6 1071.6L942.9 1076.2ZM994.4 1081.4L996.9 1084.8L999.8 1081.4L1000.9 1079.7L1004.9 1080.4L1008.2 1076.2L1004.9 1072.3L1003.1 1071L1000.9 1069.6L998.1 1071L996.9 1071.4L994.2 1076.2ZM1036.4 1081.4L1037.1 1082.6L1037.8 1081.4L1039.5 1076.2L1037.1 1074.1L1036.1 1076.2ZM1068.2 1081.4L1069.3 1085L1070.8 1081.4L1069.3 1078.5ZM914.3 1076.2L914.5 1079L915.2 1076.2L914.5 1073ZM924.4 1076.2L924.5 1077L924.8 1076.2L924.5 1074.4ZM1049 1076.2L1049.2 1076.4L1049.4 1076.2L1049.2 1074.1ZM1149.2 1076.2L1149.7 1079.5L1152.3 1076.2L1149.7 1075ZM916.2 1029.2L916.5 1030.7L916.8 1029.2L917.1 1024L916.5 1022.1L915.6 1024ZM921.3 1024L922.5 1027.6L923 1024L922.8 1018.8L922.5 1014L922 1018.8Z" fill="#D7182A" stroke="#1c1c2c" stroke-width="0.45" stroke-linejoin="round" fill-rule="evenodd"/><path d="M932.6 1086.6L932.6 1086.9L932.6 1086.6L934.6 1085.8L936.6 1081.5L938.6 1082.5L939.1 1081.4L939.2 1076.2L938.6 1075.3L937.7 1071L936.6 1069.2L934.6 1066L932.6 1070.6L932.4 1071L931.9 1076.2L932.6 1081.3L932.6 1081.4L932.6 1085.2ZM943.6 1086.6L944.6 1088.6L945.6 1086.6L946.2 1081.4L946.5 1076.2L946.4 1071L944.6 1069.9L944.2 1071L943.5 1076.2L943.2 1081.4ZM960.5 1086.6L960.7 1087L960.8 1086.6L960.7 1085.2ZM948.2 1081.4L948.7 1082.4L948.9 1081.4L949.8 1076.2L950.7 1074.5L952.7 1071.5L953 1071L952.7 1070.6L950.7 1066.9L949.2 1071L948.7 1072.9L947.3 1076.2ZM982.6 1081.4L984.8 1086.6L988.9 1082.6L989.4 1081.4L990.6 1076.2L990 1071L988.9 1068.6L986.9 1071L984.8 1072.5L981.2 1071L980.8 1070.6L976.8 1069.1L974.5 1071L974.5 1076.2L976.8 1079.7L980.6 1076.2L980.8 1073.4L981 1076.2ZM996 1081.4L996.9 1082.6L997.9 1081.4L1000.9 1077.1L1004.9 1076.9L1005.5 1076.2L1004.9 1075.5L1000.9 1074.2L996.9 1073.6L995.4 1076.2ZM939.6 1071L940.6 1074.4L941.3 1071L941.7 1065.8L940.6 1064L939.8 1065.8Z" fill="#9E0B14" stroke="#1c1c2c" stroke-width="0.45" stroke-linejoin="round" fill-rule="evenodd"/><path d="M891.8 1363.3L892.4 1363.3L893.4 1363.3L892.4 1361.5ZM905.3 1358.1L906.5 1363.1L908 1361L908.3 1358.1L908.5 1352.9L908.6 1347.6L908.5 1342.4L908.6 1337.2L908.7 1332L908.8 1326.8L908.8 1321.5L908.8 1316.3L908.9 1311.1L908.9 1305.9L908.9 1300.7L908.9 1295.4L908.9 1290.2L908.9 1285L908.9 1279.8L908.8 1274.6L908.7 1269.3L908.6 1264.1L908.6 1258.9L908.5 1253.7L908.5 1248.5L908.2 1243.2L908 1238L908 1232.8L908 1232.2L907.5 1232.8L906.5 1237L906.2 1238L904.4 1242.2L900.4 1240.2L899.4 1238L896.5 1232.8L896.4 1232.5L896.2 1232.8L893.3 1238L892.4 1238.8L888.8 1243.2L888.4 1244.2L888.1 1243.2L885.5 1238L885.3 1232.8L884.3 1230.6L883.4 1232.8L882.9 1238L881 1243.2L880.3 1247.2L878.5 1243.2L876.3 1241.5L874 1243.2L872.7 1248.5L872.3 1250.6L870.2 1253.7L868.3 1258.4L864.2 1255.2L864.2 1258.9L864.2 1264.1L864.2 1269.3L864.2 1274.6L864.2 1279.8L864.2 1285L864.2 1290.2L864.2 1295.4L864.2 1300.7L864.2 1305.9L864.2 1311.1L864.2 1316.3L864.2 1321.5L864.2 1326.8L864.2 1332L864.2 1337.2L864.2 1342.4L864.2 1347.6L864.2 1352.9L864.2 1355.2L865.3 1352.9L865.3 1347.6L866.5 1342.4L867.7 1337.2L868.3 1336.2L872.3 1336.5L872.6 1337.2L874.1 1342.4L875.3 1347.6L876.3 1349.3L879.7 1352.9L880.3 1353.3L881 1352.9L883.3 1347.6L884.3 1342.9L888.4 1346.7L891.5 1342.4L892.4 1340.9L893.2 1342.4L894.2 1347.6L894.3 1352.9L896.4 1357.3L899.5 1352.9L900.4 1351L904.4 1351.8L905 1352.9ZM906.5 1347.9L906.4 1347.6L906.5 1346.9L906.5 1347.6ZM864.2 1243.2L864.2 1246L865.6 1243.2L864.2 1241.4Z" fill="#3B5EAF" stroke="#1c1c2c" stroke-width="0.45" stroke-linejoin="round" fill-rule="evenodd"/><path d="M907.7 1352.9L908 1353.6L908 1352.9L908 1347.6L908 1342.4L908.1 1337.2L908.4 1332L908.5 1326.8L908.5 1321.5L908.6 1316.3L908.7 1311.1L908.8 1305.9L908.7 1300.7L908.7 1295.4L908.7 1290.2L908.7 1285L908.7 1279.8L908.6 1274.6L908.4 1269.3L908.2 1264.1L908 1258.9L908 1253.7L908 1252.1L906.5 1253.7L906.4 1253.7L904.8 1258.9L904.5 1264.1L904.4 1264.2L904.4 1264.1L903.4 1258.9L900.4 1254L896.4 1258.1L894.4 1258.9L892.4 1262.7L888.4 1259.5L887.9 1258.9L886.6 1253.7L886.3 1248.5L884.3 1243.5L882.7 1248.5L882.1 1253.7L880.3 1257.7L878.9 1253.7L878.4 1248.5L876.3 1245.4L874.5 1248.5L874.1 1253.7L872.3 1258.5L872.1 1258.9L872 1264.1L872.3 1265.3L876.3 1267L878.1 1269.3L877.8 1274.6L876.3 1276.7L874 1274.6L872.3 1271.6L870.2 1274.6L868.3 1276.4L866.9 1274.6L866.8 1269.3L865 1264.1L864.2 1263.3L864.2 1264.1L864.2 1269.3L864.2 1274.6L864.2 1279.8L864.2 1285L864.2 1290.2L864.2 1295.4L864.2 1300.7L864.2 1305.9L864.2 1311.1L864.2 1316.3L864.2 1320L865.2 1321.5L868.3 1324.9L871.9 1321.5L871 1316.3L872.3 1315.5L872.8 1316.3L872.5 1321.5L875.2 1326.8L876.3 1329.2L877.8 1332L880.3 1333L881.2 1332L882.4 1326.8L884.3 1324.9L884.9 1326.8L887.1 1332L888.4 1335.9L889.6 1332L891.7 1326.8L892.4 1323.9L893.9 1326.8L894 1332L896.1 1337.2L896.4 1337.7L896.7 1337.2L900.4 1333.4L903.1 1337.2L903.7 1342.4L904.4 1344.4L904.8 1342.4L905.5 1337.2L906.5 1334L907.2 1337.2L907.9 1342.4L907.7 1347.6ZM890.8 1248.5L892.4 1253.6L894.2 1248.5L892.4 1245.6Z" fill="#2E72B9" stroke="#1c1c2c" stroke-width="0.45" stroke-linejoin="round" fill-rule="evenodd"/><path d="M907.5 1332L908 1333.9L908.1 1332L908.2 1326.8L908.3 1321.5L908.3 1316.3L908.5 1311.1L908.6 1305.9L908.5 1300.7L908.5 1295.4L908.5 1290.2L908.5 1285L908.5 1279.8L908.4 1274.6L908.1 1269.3L908 1267L906.6 1264.1L906.8 1258.9L906.5 1258L906.2 1258.9L906.3 1264.1L905.5 1269.3L904.4 1273.6L903.7 1269.3L901.2 1264.1L900.4 1260.9L896.4 1263.7L896.1 1264.1L895.6 1269.3L896.4 1272.6L896.7 1274.6L896.4 1275.2L893.7 1274.6L892.4 1274.2L890.4 1269.3L888.4 1266.2L885 1264.1L884.3 1263.1L883.9 1264.1L882.4 1269.3L882.6 1274.6L884.3 1279.5L888.4 1278.5L889 1279.8L888.6 1285L888.4 1286.7L886.8 1285L884.3 1280.2L880.3 1280.1L876.3 1283L872.3 1282.3L868.3 1284L867 1285L864.2 1286.6L864.2 1290.2L864.2 1295.4L864.2 1298.5L865.2 1300.7L867.7 1305.9L868.3 1306.8L872.3 1309.1L873.3 1311.1L876.3 1316.2L879.5 1311.1L880.3 1309.5L882.8 1311.1L884.3 1314.9L884.5 1316.3L885.2 1321.5L887.2 1326.8L888.4 1328.9L889.5 1326.8L891.4 1321.5L892 1316.3L892.4 1315.5L893 1316.3L896.4 1319.9L900.4 1317.3L901.5 1321.5L904.4 1326.1L905.8 1326.8L906.5 1327.1ZM876.2 1248.5L876.3 1249.5L876.4 1248.5L876.3 1248.3Z" fill="#45B3BE" stroke="#1c1c2c" stroke-width="0.45" stroke-linejoin="round" fill-rule="evenodd"/><path d="M907.9 1326.8L908 1327.2L908 1326.8L908 1321.5L908 1316.3L908.3 1311.1L908.4 1305.9L908.3 1300.7L908.3 1295.4L908.3 1290.2L908.3 1285L908.3 1279.8L908.2 1274.6L908 1271.3L906.5 1274.6L905.5 1279.8L904.7 1285L904.4 1285.9L900.4 1286.9L899.5 1285L896.4 1281.4L893.1 1279.8L892.4 1279.3L892.1 1279.8L890.2 1285L889.3 1290.2L888.4 1294.5L885.6 1290.2L884.3 1288.8L881.5 1285L880.3 1283.8L879 1285L876.3 1290.2L876.4 1295.4L877.5 1300.7L876.3 1303.5L874.6 1305.9L876.3 1309.9L878.1 1305.9L880.3 1304.2L882.3 1305.9L884.3 1307.8L886.9 1305.9L888.4 1303.4L889.5 1305.9L892.4 1309.5L893.4 1311.1L896.4 1315.3L900.4 1313.1L902.2 1316.3L904.4 1321.3L906.5 1316.9L907.7 1321.5ZM904.4 1307.4L903.8 1305.9L904.2 1300.7L904.4 1300L904.5 1300.7L904.7 1305.9ZM886.7 1321.5L888.4 1325.3L890 1321.5L889.2 1316.3L888.4 1314.6L887.5 1316.3ZM867.8 1300.7L868.3 1301.6L871.2 1300.7L872.3 1300.4L876.1 1295.4L872.3 1290.5L869.6 1290.2L868.3 1290L867.8 1290.2L865.7 1295.4ZM899.5 1274.6L900.4 1277.8L901.5 1274.6L901.7 1269.3L900.4 1267L898.7 1269.3Z" fill="#8CC665" stroke="#1c1c2c" stroke-width="0.45" stroke-linejoin="round" fill-rule="evenodd"/><path d="M888.1 1321.5L888.4 1322.1L888.6 1321.5L888.4 1320.4ZM904.2 1316.3L904.4 1316.8L904.6 1316.3L904.4 1315.4ZM907.1 1311.1L908 1313.8L908.1 1311.1L908.3 1305.9L908.1 1300.7L908.1 1295.4L908.1 1290.2L908.1 1285L908.1 1279.8L908 1275.3L906.9 1279.8L906.5 1283.3L906.2 1285L905 1290.2L904.4 1295.4L905.2 1300.7L905.9 1305.9L906.5 1308.6ZM899.8 1305.9L900.4 1306.7L900.7 1305.9L902.4 1300.7L904.4 1295.4L900.4 1291.3L898.2 1290.2L896.4 1286.1L895.6 1285L892.4 1283.2L891.7 1285L890.9 1290.2L890 1295.4L890.5 1300.7L892.4 1304.2L894.3 1300.7L896.4 1296.9L897.9 1300.7ZM880.1 1300.7L880.3 1300.9L884.3 1304.1L886.7 1300.7L885.8 1295.4L884.3 1293.3L882.9 1290.2L880.3 1286.8L878 1290.2L877.5 1295.4ZM870.5 1295.4L872.3 1296.3L872.9 1295.4L872.3 1294.6Z" fill="#FCE11C" stroke="#1c1c2c" stroke-width="0.45" stroke-linejoin="round" fill-rule="evenodd"/><path d="M906.9 1305.9L908 1309.9L908.1 1305.9L908 1300.7L907.3 1295.4L906.5 1293.1L905.7 1295.4L905.8 1300.7L906.5 1304.1ZM884.3 1300.7L884.3 1300.6L883.3 1295.4L881 1290.2L880.3 1289.4L879.8 1290.2L878.6 1295.4L880.3 1298.6ZM900.3 1300.7L900.4 1301L900.5 1300.7L902.5 1295.4L900.4 1293.3L898 1295.4ZM892 1295.4L892.4 1297.2L893.3 1295.4L892.4 1291.2Z" fill="#F15A2B" stroke="#1c1c2c" stroke-width="0.45" stroke-linejoin="round" fill-rule="evenodd"/><path d="M907.9 1305.9L908 1306.2L908 1305.9L908 1305.4ZM879.8 1295.4L880.3 1296.5L881.3 1295.4L880.3 1293.3ZM900.2 1295.4L900.4 1295.9L900.6 1295.4L900.4 1295.3Z" fill="#D7182A" stroke="#1c1c2c" stroke-width="0.45" stroke-linejoin="round" fill-rule="evenodd"/><polygon points="908.3,1167.5 909.7,1141.5 910.8,1115.3 911.8,1076.2 913.1,1031.8 915.5,1031.8 914.9,1076.2 914.7,1115.3 913.7,1141.5 911.2,1162.3" fill="#2c4f8e" stroke="#10131c" stroke-width="0.9"/><path d="M909.7 1167.5 L911.7 1141.5 L912.7 1115.3 L913.3 1076.2 L914.3 1031.8" fill="none" stroke="#5fae9a" stroke-width="1"/><polygon points="908.3,1337.2 908.3,1167.5 911.2,1162.3 911,1337.2" fill="#0b0b0b" stroke="#0b0b0b" stroke-width="0.6"/></g>
<line x1="866" y1="1028" x2="1419" y2="1028" stroke="#000" stroke-width="1.9" stroke-dasharray="4 2.57"/>
<line x1="866" y1="1076" x2="1419" y2="1076" stroke="#000" stroke-width="1.9" stroke-dasharray="4 2.57"/>
<line x1="866" y1="1128.5" x2="1419" y2="1128.5" stroke="#000" stroke-width="1.9" stroke-dasharray="4 2.57"/>
<line x1="866" y1="1285.5" x2="1419" y2="1285.5" stroke="#000" stroke-width="1.9" stroke-dasharray="4 2.57"/>
<rect x="866" y="971" width="553" height="365.5" fill="none" stroke="#231F20" stroke-width="1.5"/>
<path d="M866 971V1336.5H1419" fill="none" stroke="#231F20" stroke-width="1.9" stroke-linecap="square"/>
<line x1="866" y1="971" x2="863.4" y2="971" stroke="#231F20" stroke-width="1.2"/>
<line x1="866" y1="971" x2="866" y2="968.4" stroke="#231F20" stroke-width="1.2"/>
<line x1="1419" y1="971" x2="1421.6" y2="971" stroke="#231F20" stroke-width="1.2"/>
<line x1="1419" y1="971" x2="1419" y2="968.4" stroke="#231F20" stroke-width="1.2"/>
<line x1="866" y1="1336.5" x2="863.4" y2="1336.5" stroke="#231F20" stroke-width="1.2"/>
<line x1="866" y1="1336.5" x2="866" y2="1339.1" stroke="#231F20" stroke-width="1.2"/>
<line x1="1419" y1="1336.5" x2="1421.6" y2="1336.5" stroke="#231F20" stroke-width="1.2"/>
<line x1="1419" y1="1336.5" x2="1419" y2="1339.1" stroke="#231F20" stroke-width="1.2"/>
<line x1="916.5" y1="1336.5" x2="916.5" y2="1344" stroke="#231F20" stroke-width="1.9"/>
<text transform="translate(916.5 1375.5) scale(1.035 1)" font-size="32.6" text-anchor="middle">0</text>
<line x1="1017" y1="1336.5" x2="1017" y2="1344" stroke="#231F20" stroke-width="1.9"/>
<text transform="translate(1017 1375.5) scale(1.035 1)" font-size="32.6" text-anchor="middle">1</text>
<line x1="1117.5" y1="1336.5" x2="1117.5" y2="1344" stroke="#231F20" stroke-width="1.9"/>
<text transform="translate(1117.5 1375.5) scale(1.035 1)" font-size="32.6" text-anchor="middle">2</text>
<line x1="1218" y1="1336.5" x2="1218" y2="1344" stroke="#231F20" stroke-width="1.9"/>
<text transform="translate(1218 1375.5) scale(1.035 1)" font-size="32.6" text-anchor="middle">3</text>
<line x1="1318.5" y1="1336.5" x2="1318.5" y2="1344" stroke="#231F20" stroke-width="1.9"/>
<text transform="translate(1318.5 1375.5) scale(1.035 1)" font-size="32.6" text-anchor="middle">4</text>
<line x1="1419" y1="1336.5" x2="1419" y2="1344" stroke="#231F20" stroke-width="1.9"/>
<text transform="translate(1419 1375.5) scale(1.035 1)" font-size="32.6" text-anchor="middle">5</text>
<line x1="858.8" y1="1024" x2="866" y2="1024" stroke="#231F20" stroke-width="1.9"/>
<text transform="translate(854 1035.1) scale(1.035 1)" font-size="32.6" text-anchor="end">1.0</text>
<line x1="858.8" y1="1076.2" x2="866" y2="1076.2" stroke="#231F20" stroke-width="1.9"/>
<text transform="translate(854 1087.3) scale(1.035 1)" font-size="32.6" text-anchor="end">0.8</text>
<line x1="858.8" y1="1128.4" x2="866" y2="1128.4" stroke="#231F20" stroke-width="1.9"/>
<text transform="translate(854 1139.5) scale(1.035 1)" font-size="32.6" text-anchor="end">0.6</text>
<line x1="858.8" y1="1180.6" x2="866" y2="1180.6" stroke="#231F20" stroke-width="1.9"/>
<text transform="translate(854 1191.7) scale(1.035 1)" font-size="32.6" text-anchor="end">0.4</text>
<line x1="858.8" y1="1232.8" x2="866" y2="1232.8" stroke="#231F20" stroke-width="1.9"/>
<text transform="translate(854 1243.9) scale(1.035 1)" font-size="32.6" text-anchor="end">0.2</text>
<line x1="858.8" y1="1285" x2="866" y2="1285" stroke="#231F20" stroke-width="1.9"/>
<text transform="translate(854 1296.1) scale(1.035 1)" font-size="32.6" text-anchor="end">0.0</text>
<text transform="translate(1142.5 1409.7) scale(1.035 1)" font-size="32.6" text-anchor="middle">Time, s</text>
<text transform="translate(798.1 1153.2) scale(1.035 1) rotate(-90)" font-size="32.6" text-anchor="middle">FRET</text>
<defs><linearGradient id="cb4" x1="0" y1="0" x2="0" y2="1"><stop offset="0" stop-color="#8A0F18"/><stop offset="0.04" stop-color="#A3131F"/><stop offset="0.13" stop-color="#E8212E"/><stop offset="0.27" stop-color="#F58A26"/><stop offset="0.355" stop-color="#F5E62D"/><stop offset="0.44" stop-color="#A8CB3F"/><stop offset="0.56" stop-color="#6DB98A"/><stop offset="0.68" stop-color="#27B4E0"/><stop offset="0.79" stop-color="#3C67B0"/><stop offset="0.9" stop-color="#3C5CA8"/><stop offset="0.955" stop-color="#8E97CC"/><stop offset="1" stop-color="#FFFFFF"/></linearGradient></defs><rect x="1396.8" y="1211.8" width="14.2" height="58.3" fill="url(#cb4)" stroke="#231F20" stroke-width="1.1"/>
<text transform="translate(1392.3 1221.2) scale(1.035 1)" font-size="32.6" text-anchor="end">15%</text>
<text transform="translate(1392.3 1278.5) scale(1.035 1)" font-size="32.6" text-anchor="end">0%</text>
<text transform="translate(1409.8 1006.8) scale(1.035 1)" font-size="30.6" text-anchor="end"><tspan font-style="italic">N</tspan>=256</text>
<text transform="translate(1433.8 1035) scale(1.035 1)" font-size="32.6">CR</text>
<text transform="translate(1433.8 1061.9) scale(1.035 1)" font-size="32.6">A/A</text>
<text transform="translate(1433.8 1101.5) scale(1.035 1)" font-size="32.6">A/P</text>
<text transform="translate(1433.8 1140.7) scale(1.035 1)" font-size="32.6">A/P*</text>
<path d="M1434.2 1051.8L1427.2 1075.6L1434.2 1082.6" fill="none" stroke="#231F20" stroke-width="1.3"/>
<text transform="translate(3 1443) scale(1.035 1)" font-size="31" font-weight="bold">g</text>
<text transform="translate(96 1446.5) scale(1.035 1)" font-size="32.6">AAA</text>
<clipPath id="cp5"><rect x="96" y="1456" width="552.5" height="365.5"/></clipPath><g clip-path="url(#cp5)"><path d="M286 1663.4L286.1 1663.5L286.1 1663.4L286.1 1662.2ZM408.1 1657.3L409.8 1659.4L412 1657.3L413.3 1651.2L414 1645.1L414.2 1644.4L414.6 1645.1L418.7 1649.4L420.4 1651.2L423.1 1653L427.5 1654.1L430.9 1651.2L431.9 1650.2L433.7 1651.2L436.3 1652.9L437.8 1651.2L439.1 1645.1L440.8 1643.5L445.2 1645L445.4 1645.1L449.6 1648.9L451.6 1645.1L454 1642.6L455.3 1645.1L458.4 1650.9L458.9 1651.2L462.9 1654.6L464.8 1651.2L465.8 1645.1L467.1 1639L467.3 1638.6L467.5 1639L470.7 1645.1L471.7 1651.2L471.7 1651.5L471.8 1651.2L472.6 1645.1L475.7 1639L476.1 1638.4L477.1 1639L480.5 1643.7L481.5 1645.1L485 1648.3L489.4 1645.6L493.8 1646.8L495.8 1651.2L498.2 1653.5L500 1651.2L502.6 1645.5L506.6 1651.2L507.1 1651.7L507.5 1651.2L511.5 1646.9L514.2 1645.1L515.9 1642.8L517.4 1645.1L520.3 1647.3L523.4 1651.2L524.7 1652.9L526 1651.2L529.2 1645.3L530 1645.1L533.6 1643.2L534.3 1645.1L538 1650.7L538.5 1651.2L542.4 1653.7L545.7 1651.2L546.8 1647L548.7 1651.2L551.3 1652.9L555.7 1652.5L560.1 1655.7L563.5 1651.2L564.5 1647.3L568.9 1649.9L570.6 1651.2L573.4 1654L576.4 1651.2L577.4 1645.1L577.8 1644L578.6 1645.1L579 1651.2L582.2 1651.8L586.6 1651.3L588 1651.2L591 1650.7L591.5 1651.2L595.5 1652.7L599.9 1651.7L600.3 1651.2L604 1645.1L604.3 1642.8L605.3 1645.1L608.7 1651L613.1 1647.1L617.6 1645.9L620.7 1651.2L622 1653.3L624.4 1651.2L626.4 1649.2L628.8 1651.2L630.8 1652.6L635.2 1654.1L637.1 1651.2L637.8 1645.1L639.7 1644L642 1645.1L644.1 1646.2L648.5 1649L649.6 1651.2L652.9 1656.1L652.9 1651.2L652.9 1645.1L652.9 1639L652.9 1632.9L652.9 1626.8L652.9 1620.7L652.9 1614.6L652.9 1608.5L652.9 1602.4L652.9 1596.3L652.9 1590.2L652.9 1584.1L652.9 1578L652.9 1571.9L652.9 1565.8L652.9 1559.7L652.9 1553.6L652.9 1547.5L652.9 1541.4L652.9 1535.3L652.9 1529.2L652.9 1523.1L652.9 1517L652.9 1510.9L652.9 1507L650.3 1504.8L648.5 1502.3L645.5 1498.7L644.1 1497.4L642.9 1498.7L639.7 1501.6L635.2 1500.6L630.8 1502.5L626.4 1503.8L622 1500.7L617.6 1499.7L613.1 1504L608.7 1502.7L604.3 1500.9L599.9 1500.5L595.5 1503.2L591 1501.8L586.6 1499.8L582.2 1499.4L577.8 1503.3L573.4 1503.8L568.9 1502.9L564.5 1503.2L560.1 1500.8L555.7 1501.1L551.3 1499.7L549.9 1498.7L546.8 1497.1L545.5 1498.7L542.4 1503.3L538 1502.1L534.7 1498.7L533.6 1497.7L529.2 1498L524.7 1498.3L520.3 1498.5L520.1 1498.7L515.9 1501.5L511.5 1501L507.1 1499.7L502.6 1499.9L498.2 1501.9L493.8 1501.2L490.4 1498.7L489.4 1497.9L485 1498.3L484.2 1498.7L480.5 1500L476.1 1499.8L475.3 1498.7L471.7 1493.2L468 1498.7L467.3 1500.2L462.9 1499.4L460.9 1498.7L458.4 1496.9L455.6 1492.6L454 1491.1L451.1 1492.6L449.6 1494.3L446.8 1498.7L445.2 1499.7L440.8 1500.2L439.3 1498.7L436.3 1493.6L431.9 1498.2L431.2 1498.7L427.5 1499.9L426 1498.7L423.1 1495.5L418.7 1497L414.2 1497.5L409.8 1496.4L405.4 1496.1L401 1497.2L398.3 1498.7L396.6 1499.1L395.3 1498.7L392.1 1496.6L387.7 1494.8L383.3 1496.3L378.9 1496.8L374.5 1496.9L370 1496.3L365.6 1493.3L364.7 1492.6L361.2 1488.7L359.3 1492.6L356.8 1495.9L352.4 1496.6L347.9 1495L343.5 1496.1L339.1 1494.6L337.3 1492.6L334.7 1491.2L330.3 1491.7L325.8 1487.7L321.4 1490.9L320.2 1492.6L317 1496.9L312.6 1492.6L312.5 1492.6L308.2 1494.8L303.7 1492.8L303.4 1492.6L299.3 1490.3L294.9 1491.9L290.5 1491.3L286.1 1489.1L281.6 1491.1L277.2 1490.8L272.8 1488.8L268.4 1490.6L264 1487.9L259.5 1486.6L255.1 1488.3L250.9 1486.5L250.7 1486.3L246.3 1484.4L241.9 1485.5L237.4 1485.2L234.8 1486.5L233 1487.3L232.3 1486.5L228.6 1481.2L224.2 1481.5L219.8 1484.3L215.3 1482L212.7 1480.4L210.9 1479.6L207.1 1474.3L206.5 1473.6L202.1 1472.3L201 1474.3L200.1 1480.4L197.7 1486.2L193.2 1480.6L188.8 1480.8L187.5 1480.4L184.4 1479.2L180 1474.6L175.6 1480.2L173.1 1474.3L171.1 1473.2L166.7 1473.8L166.4 1474.3L163.2 1480.4L162.3 1480.8L162 1480.4L159.9 1474.3L157.9 1469.7L155.8 1474.3L153.5 1478.7L150.7 1474.3L149 1470.4L146.1 1474.3L144.6 1476.2L140.2 1477L138.3 1474.3L135.8 1472.8L131.4 1469.2L126.9 1469.6L122.5 1474.2L118.1 1471.9L113.7 1469.6L109.3 1473.7L105.2 1468.2L104.8 1467.6L104.6 1468.2L100.4 1472.8L97.7 1468.2L96 1465.1L94.3 1468.2L91.6 1470.6L91.6 1474.3L91.6 1480.4L91.6 1486.5L91.6 1492.6L91.6 1498.7L91.6 1504.8L91.6 1510.9L91.6 1517L91.6 1523.1L91.6 1529.2L91.6 1535.3L91.6 1541.4L91.6 1547.5L91.6 1553.6L91.6 1559.7L91.6 1565.8L91.6 1571.9L91.6 1578L91.6 1584.1L91.6 1590.2L91.6 1596.3L91.6 1602.4L91.6 1608.5L91.6 1614.6L91.6 1620.7L91.6 1626.8L91.6 1632.9L91.6 1639L91.6 1645.1L91.6 1651.2L91.6 1655.3L96 1655.4L100.4 1651.3L100.5 1651.2L104.8 1648.2L107.4 1651.2L109.3 1652.2L110.1 1651.2L113.1 1645.1L113.7 1643L114.9 1645.1L118.1 1650.2L121 1651.2L122.5 1651.6L123.1 1651.2L126.9 1648.1L131.2 1645.1L131.4 1645L131.6 1645.1L134.7 1651.2L135.8 1652.6L140.2 1651.6L144.6 1655L149 1651.7L150.1 1651.2L153.5 1649.8L157.9 1648.8L160.4 1645.1L162.3 1641.5L164.3 1645.1L166.7 1648.5L169 1651.2L171.1 1653.4L175.6 1654L179.4 1651.2L179.7 1645.1L180 1644.4L180.5 1645.1L181 1651.2L184.4 1653L186.4 1651.2L188.8 1650.1L193.2 1648L197.7 1650.7L202.1 1647.4L206.5 1646L210.9 1648.3L215.3 1650.8L216.8 1651.2L219.8 1652.1L221.5 1651.2L224.2 1649.4L228.6 1646.6L233 1648.7L237.4 1650L239.5 1651.2L241.9 1652.8L245.3 1651.2L246.3 1650.6L250.7 1646.4L255.1 1650.2L259.5 1649.5L260.8 1651.2L264 1653.7L265.4 1651.2L268.1 1645.1L268.4 1644.9L268.9 1645.1L272.8 1649.7L274.2 1651.2L277.2 1653.7L278.9 1651.2L281.6 1645.3L286.1 1651.2L290.5 1648.6L293.2 1651.2L294.9 1653.2L297.6 1651.2L299.3 1649.9L303.7 1645.8L308.2 1650.6L308.9 1651.2L312.6 1654.6L315 1651.2L317 1646.1L317.9 1645.1L321.4 1641.6L322.6 1645.1L325.8 1650.5L330.3 1649.6L334.7 1648.4L339.1 1650.9L343.5 1645.6L344.3 1645.1L347.9 1644L352.4 1644.2L354.1 1645.1L356.8 1648.5L361.2 1648L365.6 1647.3L366.8 1651.2L370 1655L373.7 1651.2L374.5 1649.2L375.9 1651.2L378.9 1653L383.3 1651.8L384.3 1651.2L387.7 1649L391.8 1645.1L392.1 1644.8L392.9 1645.1L396.6 1647.4L401 1646.5L403.1 1651.2L405.4 1653.6ZM507.1 1644.5L505.4 1639L507.1 1634.8L507.9 1639Z" fill="#3A5DAE" stroke="#1c1c2c" stroke-width="0.45" stroke-linejoin="round" fill-rule="evenodd"/><path d="M557.8 1645.1L560.1 1648.3L561.5 1645.1L561.6 1639L560.6 1632.9L560.6 1626.8L563 1620.7L564.5 1619.8L568.9 1618.6L573.2 1614.6L573.4 1614.5L573.6 1614.6L577.8 1616.6L579.8 1620.7L580.8 1626.8L582.2 1629.7L585 1626.8L586.6 1623.9L591 1622L595.5 1625L599.9 1626.4L604.3 1626.7L608.7 1622.4L613.1 1622.6L615.7 1620.7L617.6 1619.3L619.4 1620.7L621.6 1626.8L622 1627.8L623.2 1632.9L625.7 1639L626.4 1639.6L626.9 1639L629.2 1632.9L630.8 1627.4L631.1 1626.8L630.8 1626L628.5 1620.7L630.7 1614.6L630.8 1614.4L635.2 1613.2L635.4 1614.6L636.8 1620.7L637.4 1626.8L639.5 1632.9L639.7 1633L639.7 1632.9L642.2 1626.8L644.1 1624.5L646 1626.8L648.5 1628.9L652.9 1626.8L652.9 1620.7L652.9 1614.6L652.9 1608.5L652.9 1602.4L652.9 1596.3L652.9 1590.2L652.9 1584.1L652.9 1578L652.9 1571.9L652.9 1565.8L652.9 1559.7L652.9 1553.6L652.9 1547.5L652.9 1541.4L652.9 1535.3L652.9 1529.2L652.9 1523.1L652.9 1517L652.9 1513.7L649.7 1510.9L648.5 1509.8L644.1 1508.3L639.7 1507.1L635.2 1509.4L631.4 1510.9L630.8 1511.1L630.6 1510.9L626.4 1508.9L622 1509.7L617.6 1508L613.8 1510.9L613.1 1511.3L608.7 1511.1L608.5 1510.9L604.3 1507.8L599.9 1506.2L595.5 1509.1L591 1507.8L586.6 1506.4L582.2 1506.9L578.6 1510.9L577.8 1511.8L573.4 1516.9L570 1510.9L568.9 1510.2L564.5 1510.3L560.1 1507.5L555.7 1508.6L551.3 1510L546.8 1506.4L543.7 1510.9L542.4 1512.4L538.3 1510.9L538 1510.7L536.4 1504.8L533.6 1501.3L529.5 1504.8L529.2 1505.7L524.7 1508.6L520.3 1505.6L515.9 1508.4L511.5 1507.9L507.1 1509.8L502.6 1510.4L498.2 1510.3L493.8 1509.2L489.8 1504.8L489.4 1504.4L485 1504.4L484 1504.8L480.5 1506.2L476.1 1505.9L472.6 1504.8L471.7 1503.4L471.2 1504.8L467.3 1508.9L462.9 1505.7L458.4 1507.8L454 1506L449.6 1507.5L445.2 1507.3L440.8 1505.9L436.3 1507.5L431.9 1507.5L427.5 1506.1L424.1 1504.8L423.1 1504.1L419.9 1504.8L418.7 1505.1L414.2 1509.6L412.4 1504.8L409.8 1502L406.2 1504.8L405.4 1505.8L401 1506L396.6 1505L392.1 1508.5L388.9 1504.8L387.7 1503.6L384.5 1504.8L383.3 1505.2L382.8 1504.8L378.9 1502.8L374.5 1504.2L370 1503.7L367.6 1504.8L365.6 1506.2L361.2 1505.8L356.8 1506.2L355.2 1504.8L352.4 1503.2L347.9 1503.2L344.6 1504.8L343.5 1505.3L341.6 1504.8L339.1 1504L334.7 1499.6L330.7 1504.8L330.3 1505.4L329.5 1504.8L325.8 1502L321.4 1498.7L317 1504.2L312.6 1500.7L309.9 1504.8L308.2 1509.7L303.7 1510.1L302.4 1504.8L299.5 1498.7L299.3 1498.5L299.1 1498.7L294.9 1502.5L290.5 1501.3L286.1 1503.4L283 1498.7L281.6 1497.6L277.2 1497.3L272.8 1496.8L268.4 1497.9L264 1497.1L259.5 1495L255.6 1498.7L255.1 1499.1L251.7 1498.7L250.7 1498.6L247.9 1498.7L246.3 1498.8L246.2 1498.7L241.9 1494.4L237.4 1493.5L233 1495L229.5 1492.6L228.6 1491.6L224.2 1491.4L222.4 1492.6L219.8 1494.2L215.3 1496.3L210.9 1493.1L210.4 1492.6L208.6 1486.5L206.5 1480.4L206.5 1480.3L206.4 1480.4L204.9 1486.5L202.1 1491.2L198.9 1492.6L197.7 1492.9L197.2 1492.6L193.2 1488.9L188.8 1488.4L185.9 1486.5L184.4 1485.5L182.9 1486.5L180 1489.2L175.6 1487.2L171.1 1486.9L166.7 1491.1L162.3 1488.5L158.1 1486.5L157.9 1486.3L157.7 1486.5L153.5 1490.9L149 1489.9L145.7 1492.6L144.6 1493.8L143.8 1492.6L140.2 1489.3L138.1 1486.5L135.8 1483.5L133.2 1486.5L131.4 1489.4L126.9 1488.9L125.7 1486.5L122.5 1483.9L118.1 1485.6L115.9 1486.5L113.7 1487.5L113.1 1486.5L109.3 1482.9L104.8 1481L100.4 1485.9L96 1482.5L92.2 1480.4L91.6 1480.1L91.6 1480.4L91.6 1486.5L91.6 1492.6L91.6 1498.7L91.6 1504.8L91.6 1510.9L91.6 1517L91.6 1523.1L91.6 1529.2L91.6 1535.3L91.6 1541.4L91.6 1547.5L91.6 1553.6L91.6 1559.7L91.6 1565.8L91.6 1571.9L91.6 1578L91.6 1584.1L91.6 1590.2L91.6 1596.3L91.6 1602.4L91.6 1608.5L91.6 1614.6L91.6 1620.7L91.6 1626.8L91.6 1632.9L91.6 1639L91.6 1641.9L93.5 1639L94.9 1632.9L96 1629.8L98.1 1632.9L100.4 1637.8L104.8 1635.2L106.1 1632.9L109.3 1626.8L113.7 1629.1L118.1 1630.9L119.4 1632.9L122.5 1637.2L126.4 1632.9L126.9 1632.4L131.1 1626.8L131.4 1626L131.8 1626.8L135.8 1631.3L139.3 1626.8L140.2 1625.9L142.1 1626.8L144.6 1628.7L146.7 1626.8L149 1624.2L153.5 1625L157.9 1626.1L162.3 1625.8L165.9 1626.8L166.7 1627.8L169 1632.9L171.1 1636.3L174.5 1632.9L172.7 1626.8L175.6 1625.6L179.7 1620.7L180 1619.7L181.1 1620.7L183.7 1626.8L184.4 1630L184.5 1632.9L186.1 1639L188.8 1642.6L191 1639L192.4 1632.9L193.2 1628.7L196.2 1632.9L197.7 1634L200.3 1639L202.1 1640.8L203.6 1639L204.3 1632.9L206.5 1627.7L207.3 1626.8L210.8 1620.7L210.9 1620.5L215.3 1616.5L217.2 1620.7L219.8 1626.8L223.7 1620.7L224.2 1620.3L228.6 1619.7L233 1618.7L233.3 1620.7L234.8 1626.8L233 1629.6L232.5 1632.9L232.7 1639L233 1639.4L233.9 1639L235.3 1632.9L237.4 1630.3L238.6 1626.8L241.9 1623.6L246.3 1626.1L246.8 1626.8L250.7 1631.5L255.1 1631.8L259.5 1630.4L260.4 1632.9L263.1 1639L264 1640.2L265.2 1639L268.4 1634.3L269.4 1632.9L272.8 1629L276.4 1632.9L277.2 1634.6L281.6 1633.6L286.1 1633.3L290.5 1634.3L292.1 1639L294.9 1643.7L296.8 1639L298.1 1632.9L298.2 1626.8L298 1620.7L299.3 1616L300.5 1620.7L300.3 1626.8L300.5 1632.9L303.7 1635.3L308.2 1638.9L310.1 1632.9L311.5 1626.8L311.8 1620.7L312.6 1619L313.8 1620.7L313.6 1626.8L315 1632.9L317 1634.9L318.4 1632.9L320 1626.8L321.4 1623.2L323.2 1626.8L324.7 1632.9L325.8 1636.4L330.3 1635.5L332.5 1632.9L334.7 1628.3L336.1 1632.9L338.9 1639L339.1 1639.2L339.4 1639L343.5 1637L346.8 1632.9L347.2 1626.8L347.8 1620.7L347.9 1620L348.4 1620.7L349.5 1626.8L352.4 1631.8L355.5 1626.8L356.6 1620.7L356.8 1620.5L356.9 1620.7L357.8 1626.8L360 1632.9L361.2 1634.5L365.6 1633.8L367.4 1632.9L370 1630.4L371.8 1626.8L374.5 1622.3L377.5 1626.8L377.3 1632.9L378.9 1638.5L383.3 1633.9L387.7 1634.2L390.8 1632.9L392.1 1632.5L392.9 1632.9L396.6 1635.2L400.6 1632.9L401 1632.1L404.2 1626.8L405.4 1624.1L409.8 1621.5L413.7 1626.8L414.2 1627.5L416 1626.8L418.6 1620.7L418.7 1620.6L418.7 1620.7L419.4 1626.8L423.1 1632.7L427.5 1629L430.2 1632.9L431.2 1639L431.9 1640.2L432.5 1639L433.2 1632.9L436.3 1627.6L438.1 1626.8L440.8 1622.7L442.9 1620.7L445.2 1620.2L446.3 1620.7L449.6 1622.2L453.4 1626.8L453.8 1632.9L454 1633.2L457.5 1639L458.4 1641.1L459.9 1639L459.5 1632.9L458.4 1630.3L455.3 1626.8L457.4 1620.7L458.4 1620L459.6 1620.7L462.9 1623.3L467.3 1625L469.6 1620.7L471.7 1618.5L476.1 1618.2L478.9 1620.7L480.5 1624.9L483 1620.7L485 1617.5L486.5 1614.6L489.4 1611.5L490.9 1614.6L493.8 1620.1L494 1620.7L493.8 1625.5L493.3 1626.8L493.8 1630L498.2 1629.6L502.2 1626.8L502.6 1626.6L507.1 1624.2L510 1620.7L511.5 1619.2L513.7 1620.7L515.2 1626.8L515.9 1627.5L520.3 1630.7L522.8 1626.8L524.1 1620.7L524.7 1618.7L526 1620.7L528.2 1626.8L529.2 1627.9L531.6 1626.8L533.6 1621L538 1625.4L538.4 1626.8L542.4 1630.4L544.4 1626.8L545.3 1620.7L546.3 1614.6L546.8 1613.7L547.7 1614.6L549.2 1620.7L549.7 1626.8L551.3 1630.7L553.8 1626.8L555.7 1620.7L554.8 1614.6L555.7 1608.8L555.9 1608.5L560.1 1606.9L560.6 1608.5L560.1 1613.4L559.2 1614.6L555.7 1620.7L559.1 1626.8L559.4 1632.9L558.1 1639ZM591 1616.6L590.5 1614.6L591 1608.5L591 1608.4L591.1 1608.5L591.4 1614.6ZM365.6 1621.8L365.5 1620.7L365.6 1620.2L366.8 1620.7ZM440.8 1614.5L439.1 1608.5L440.8 1605.8L441.5 1608.5ZM467.3 1609.9L466.9 1608.5L467.3 1606.2L467.6 1608.5ZM598.6 1645.1L599.9 1646.4L600.7 1645.1L600.6 1639L599.9 1636.2L598.9 1639ZM148.1 1639L149 1640.6L151.1 1639L150.2 1632.9L149 1630.8L148.1 1632.9ZM497.9 1639L498.2 1639.8L498.4 1639L498.2 1638ZM156.4 1632.9L157.9 1635.3L159.1 1632.9L157.9 1628.5Z" fill="#3568B4" stroke="#1c1c2c" stroke-width="0.45" stroke-linejoin="round" fill-rule="evenodd"/><path d="M188.1 1626.8L188.8 1631.1L189.6 1626.8L190.2 1620.7L190.7 1614.6L192.2 1608.5L193.2 1607.7L197.7 1607.2L198.9 1608.5L202.1 1614.3L206 1608.5L206.5 1606.8L210.3 1602.4L210.9 1602.2L215.3 1601.6L219.8 1598.8L221.7 1602.4L223 1608.5L224.2 1611.1L225.5 1608.5L227.3 1602.4L228.6 1596.5L233 1600.6L237.4 1602.1L238.5 1602.4L241.9 1604.7L244.4 1602.4L246.3 1601.4L247.3 1602.4L250.7 1607L253.4 1602.4L255.1 1600.7L259.5 1599.8L264 1599.8L264.7 1602.4L264 1607.1L263.6 1608.5L262 1614.6L264 1619.6L268.4 1618L270 1614.6L271.3 1608.5L272.8 1604.5L273.6 1608.5L276.3 1614.6L277.2 1615.8L277.9 1614.6L280 1608.5L281.6 1604.5L286.1 1604L286.7 1602.4L290.5 1599.1L292.5 1602.4L294.9 1607.9L299.3 1604.4L302.3 1608.5L303.7 1611.5L304.7 1608.5L304.7 1602.4L304 1596.3L308.2 1594.5L309.5 1596.3L309.8 1602.4L311.9 1608.5L312.6 1609.5L317 1612.1L319 1608.5L321.4 1602.5L322.6 1608.5L323.5 1614.6L325.8 1619.5L330.3 1617.4L331.4 1614.6L333.8 1608.5L334.7 1608.1L335.4 1608.5L339.1 1610.6L341.7 1608.5L343.5 1606.4L346.8 1608.5L347.9 1608.9L348.1 1608.5L347.9 1605.9L347 1602.4L347.9 1601.6L350.5 1596.3L352.4 1594.8L353.4 1596.3L354.6 1602.4L356.8 1608L360.9 1602.4L361.2 1600.7L364.3 1596.3L365.6 1595.2L370 1596.3L370.1 1596.3L374.5 1595.7L376.6 1596.3L378.9 1598.1L379.7 1596.3L383.3 1593.7L386.1 1596.3L387.7 1599.2L390.3 1596.3L392.1 1594.8L393.7 1596.3L396.6 1598.8L401 1596.7L404.9 1602.4L404.8 1608.5L405.4 1609.8L406.5 1608.5L405.9 1602.4L406.7 1596.3L409.8 1593.6L414.2 1590.6L418.7 1593.4L420.2 1596.3L423 1602.4L423.1 1602.5L423.1 1602.4L425.8 1596.3L427.5 1593.8L431.9 1596.1L432.1 1596.3L436.3 1600L440.8 1596.9L443.8 1602.4L444.9 1608.5L445.2 1609.7L448.3 1614.6L449.6 1615.6L450.4 1614.6L451.6 1608.5L451.2 1602.4L450.4 1596.3L452.6 1590.2L454 1589.6L454.5 1590.2L454.9 1596.3L455.8 1602.4L457.5 1608.5L458.4 1610.7L460.7 1608.5L461.8 1602.4L462.9 1596.3L467.3 1595.7L468.4 1596.3L471.7 1601.4L476.1 1597.3L480.5 1596.6L484.4 1602.4L485 1603.2L485.4 1602.4L489.1 1596.3L489.4 1596L489.5 1596.3L491.7 1602.4L493.5 1608.5L493.8 1609L498.2 1613.3L499.9 1608.5L498.2 1604.6L497.4 1602.4L497.3 1596.3L498.2 1593.9L501.1 1596.3L502.6 1598.3L507.1 1597.4L510.8 1596.3L511.5 1596.1L513.8 1596.3L515.9 1596.4L520.3 1601.7L524.7 1599.4L529.2 1599.9L533.6 1599.7L536.8 1602.4L538 1605L540.7 1602.4L542.4 1601.4L544.7 1602.4L546.8 1603.2L547.4 1602.4L551.3 1598L555.7 1598.5L560.1 1597.5L564.5 1599L566.4 1596.3L568.9 1594.3L570.1 1596.3L572 1602.4L573.4 1604.2L574.3 1602.4L577 1596.3L577.8 1595L578.7 1596.3L581.6 1602.4L582.2 1603.5L583.1 1602.4L585.3 1596.3L586.6 1590.9L588.5 1596.3L591 1598.7L595.5 1597.9L598.8 1602.4L598 1608.5L598.6 1614.6L599.9 1616.5L601.7 1614.6L603.1 1608.5L604.3 1607.2L606.5 1602.4L607.6 1596.3L608.7 1593.8L610.3 1596.3L613.1 1601.7L616.3 1596.3L617.4 1590.2L617.6 1589.8L617.9 1590.2L618.9 1596.3L622 1601.9L626.4 1601.4L630.8 1597.9L631.3 1596.3L635.2 1592.3L639.7 1596L639.9 1596.3L644.1 1602.1L647.5 1596.3L648.5 1595.5L652.9 1591.9L652.9 1590.2L652.9 1584.1L652.9 1578L652.9 1571.9L652.9 1565.8L652.9 1559.7L652.9 1553.6L652.9 1547.5L652.9 1541.4L652.9 1535.3L652.9 1529.2L652.9 1523.1L652.9 1520.5L648.5 1517.4L647.7 1517L644.1 1515.8L639.7 1511.5L635.7 1517L635.2 1517.7L630.8 1518.2L630 1517L626.4 1513.2L622 1515L617.6 1514.8L613.1 1516.3L611.2 1517L608.7 1518.2L607.4 1517L604.3 1514.5L599.9 1511.9L595.5 1514.5L591 1513.7L586.6 1513.7L582.2 1513.1L579 1517L577.8 1519.4L575 1523.1L573.4 1524.9L571.6 1523.1L568.9 1517.3L564.5 1517.2L564.4 1517L560.1 1513.4L555.7 1515L551.9 1517L551.3 1517.4L550.9 1517L546.8 1513.7L543.9 1517L542.4 1518L538 1518.8L536.4 1517L535.5 1510.9L534 1504.8L533.6 1504.3L533 1504.8L530.9 1510.9L529.2 1514.3L524.7 1516.7L520.3 1511.9L515.9 1513.5L511.5 1513L508 1517L507.1 1518L502.6 1519L498.2 1517.7L497.4 1517L493.8 1514.3L491.2 1510.9L489.4 1508.7L487.4 1510.9L485.3 1517L485 1517.9L484.2 1517L480.5 1511.9L477.4 1510.9L476.1 1510.6L475.8 1510.9L471.7 1514.2L467.3 1514.1L462.9 1511.3L458.4 1514.6L454 1513.5L449.6 1514.5L445.2 1514.9L440.8 1511.1L436.3 1514.4L431.9 1514.7L428.7 1510.9L427.5 1510L423.1 1510.4L422.1 1510.9L418.7 1513L414.6 1517L414.2 1517.2L414 1517L411.4 1510.9L409.8 1507.4L407.1 1510.9L405.4 1513.8L401 1512.9L396.6 1511.5L392.5 1517L392.1 1517.6L389.7 1517L387.7 1516.6L383.3 1513.6L379.2 1510.9L378.9 1510.7L378.5 1510.9L374.5 1512.5L370 1513.4L365.7 1517L365.6 1517.1L365.6 1517L361.2 1511.4L356.8 1513.3L352.4 1511.1L351.3 1510.9L347.9 1510.2L345.7 1510.9L343.5 1511.3L339.1 1512L337.1 1510.9L334.7 1509L333.1 1510.9L330.3 1512L328.6 1510.9L325.8 1508.2L321.4 1506.2L317.7 1510.9L317 1511.6L315.9 1510.9L312.6 1508.3L311.4 1510.9L308.2 1515.9L303.7 1516.5L299.5 1510.9L299.3 1510.4L294.9 1509.6L290.5 1507.1L286.1 1509.9L282.6 1504.8L281.6 1503.5L277.4 1504.8L277.2 1504.8L277.1 1504.8L272.8 1502.6L268.4 1503.8L264 1503.2L259.5 1504.1L258.4 1504.8L255.1 1505.8L252.1 1504.8L250.7 1504.3L249.6 1504.8L246.3 1506L243.2 1504.8L241.9 1504L237.4 1501.4L233 1501.1L228.6 1499.4L224.2 1500L219.8 1502.3L215.3 1502.3L210.9 1502.3L206.5 1501.4L202.1 1500.3L197.7 1498.9L194.4 1498.7L193.2 1498.6L188.8 1494.9L184.4 1495.1L180.6 1498.7L180 1499.5L179.7 1498.7L176.9 1492.6L175.6 1491.5L172.5 1492.6L171.1 1493.4L166.7 1498.6L162.3 1496.7L159.6 1498.7L157.9 1499.5L153.5 1500.6L149 1501.3L144.6 1503.3L140.2 1499.8L139.3 1498.7L135.8 1493L133.1 1498.7L131.6 1504.8L131.4 1505.1L130.7 1504.8L126.9 1499L126.8 1498.7L122.5 1494.8L118.1 1497.8L113.7 1497.7L110.5 1492.6L109.3 1490.5L106.7 1492.6L104.8 1495L100.4 1492.6L96 1493L92.8 1498.7L91.6 1503.8L91.6 1504.8L91.6 1510.9L91.6 1517L91.6 1523.1L91.6 1529.2L91.6 1535.3L91.6 1541.4L91.6 1547.5L91.6 1553.6L91.6 1559.7L91.6 1565.8L91.6 1571.9L91.6 1578L91.6 1584.1L91.6 1590.2L91.6 1596.3L91.6 1602.4L91.6 1608.5L91.6 1614.6L91.6 1620.1L95 1614.6L96 1613.7L96.7 1614.6L100.4 1620.7L104 1614.6L104.6 1608.5L104.8 1602.4L104.8 1602.3L104.9 1602.4L105.1 1608.5L105.4 1614.6L108.4 1620.7L109.3 1621.5L113.7 1620.7L116.2 1614.6L116.1 1608.5L118.1 1605.1L122.5 1606.5L124.2 1608.5L126.9 1611L131.4 1613.8L135.8 1608.7L138.6 1614.6L140.2 1616L143.2 1614.6L144.6 1612L148.8 1608.5L149 1608.4L152.4 1602.4L153.5 1601.1L156.2 1602.4L157.9 1606.9L159.3 1608.5L160.4 1614.6L162.3 1615.8L166.7 1616.7L168.3 1614.6L169.9 1608.5L171.1 1606.4L173.5 1608.5L173.8 1614.6L175.6 1617.3L176.8 1614.6L176.9 1608.5L180 1603.8L184.4 1607.1L185.5 1608.5L187.1 1614.6L187.7 1620.7ZM330.3 1604.7L330 1602.4L330.3 1601L330.8 1602.4ZM342.4 1626.8L343.5 1629.5L344.2 1626.8L344.6 1620.7L343.5 1616.2L342.3 1620.7ZM390.6 1620.7L392.1 1623.9L394.5 1620.7L393.9 1614.6L392.1 1608.8L390.7 1614.6ZM648.3 1620.7L648.5 1620.9L648.7 1620.7L648.5 1620.4ZM236.5 1614.6L237.4 1618.6L238.9 1614.6L237.4 1612ZM430.3 1614.6L431.9 1618L434 1614.6L432.9 1608.5L431.9 1605.9L430.8 1608.5ZM373.7 1608.5L374.5 1612L375.2 1608.5L374.5 1605.4ZM510.7 1608.5L511.5 1609.1L511.8 1608.5L511.5 1603.3Z" fill="#2FA6DB" stroke="#1c1c2c" stroke-width="0.45" stroke-linejoin="round" fill-rule="evenodd"/><path d="M108.6 1614.6L109.3 1615.8L111.6 1614.6L109.5 1608.5L109.3 1607.9L109.1 1608.5ZM99.6 1608.5L100.4 1609.5L100.7 1608.5L101.6 1602.4L101.6 1596.3L102.1 1590.2L104.8 1587.8L106.7 1590.2L109.3 1593.9L113.7 1592.8L117.7 1590.2L118.1 1589.8L118.3 1590.2L122.5 1595.9L125.6 1596.3L126.9 1596.8L128.5 1602.4L131.4 1608.2L133.7 1602.4L133.3 1596.3L133.3 1590.2L135.8 1586.9L140.2 1588.8L142.6 1590.2L144.6 1593.5L145.7 1596.3L149 1599.7L152 1596.3L153.5 1595.8L157.9 1592L162.3 1594.5L163 1596.3L165.6 1602.4L166.7 1605.1L168.1 1602.4L171.1 1597.8L173.5 1596.3L175.6 1594.7L179.6 1590.2L180 1590L180.3 1590.2L183.1 1596.3L184.4 1598.6L188.8 1599.8L190.6 1602.4L193.2 1603.5L194.9 1602.4L196.7 1596.3L196.4 1590.2L197.7 1589.5L200.3 1590.2L202.1 1591.2L206.5 1592.2L210.9 1593.1L215.3 1595.2L219.8 1594L223.3 1590.2L224.2 1588.7L228.6 1586.4L233 1590.2L237.4 1594.7L241.9 1594.8L246.3 1592.3L250.7 1594.4L255.1 1592.8L257.1 1590.2L259.5 1587.1L264 1587.8L268.4 1586.8L272.8 1586.9L277.2 1589.5L281.6 1588.4L282.5 1590.2L286.1 1595L290.5 1593.1L293.3 1590.2L294.8 1584.1L294.9 1583.9L295.1 1584.1L298.1 1590.2L299.3 1591.6L300.2 1590.2L303.7 1587.6L308.2 1585.8L312.6 1587.8L317 1585.5L319.3 1590.2L321.4 1593.8L323.3 1596.3L325.6 1602.4L325.2 1608.5L325.8 1610.8L326.8 1608.5L326.1 1602.4L327.2 1596.3L329.6 1590.2L330.3 1588.6L333.5 1590.2L334.7 1592.2L335.6 1590.2L339.1 1588.5L342 1584.1L343.5 1581.4L347.7 1584.1L347.9 1584.3L352.4 1586L355.2 1590.2L356.8 1592.9L358.1 1590.2L361.2 1587.6L364 1584.1L365.6 1582.5L366.8 1584.1L370 1588.2L374.5 1589L378.9 1586.2L383.3 1588.1L386.8 1590.2L387.7 1591L388.6 1590.2L392.1 1586.9L394.9 1584.1L396.6 1579.3L401 1580.7L403.8 1584.1L405.4 1588.7L409.8 1588.2L414.2 1585.9L418.3 1584.1L418.7 1583.7L419.1 1584.1L422.4 1590.2L423.1 1591.4L423.9 1590.2L425.3 1584.1L427.5 1582.6L431.9 1583.4L432.2 1584.1L435.8 1590.2L436.3 1590.8L438.3 1590.2L440.8 1589.4L445.2 1588L448.8 1584.1L449.6 1583.8L454 1582.6L456.8 1584.1L458.4 1586.1L462.9 1589.3L467.3 1588.5L468.9 1584.1L471.7 1580.5L476.1 1581.6L477.9 1584.1L480.5 1586.3L482.2 1584.1L483 1578L485 1575.5L485.6 1578L489.4 1583L490.7 1584.1L490.9 1590.2L493.5 1596.3L493.8 1597.1L494 1596.3L496.4 1590.2L498.2 1586L502.6 1586.8L507.1 1589.3L511.5 1584.7L515.9 1586.4L517.2 1590.2L520.3 1595.8L523 1590.2L524.7 1587.1L526.8 1590.2L529.2 1593.5L533.6 1592.7L538 1593.4L542.4 1590.9L543 1590.2L546.8 1585.4L551.3 1588.4L555.7 1584.9L558 1584.1L560.1 1583.6L560.7 1584.1L564.5 1589.9L568.9 1586.6L573.4 1587.2L577.8 1587.4L580.9 1584.1L582.2 1583.1L586.1 1578L586.6 1577.4L588 1578L591 1580.8L592.7 1584.1L595.5 1588.7L598.9 1584.1L599.9 1582.6L601.4 1584.1L604.1 1590.2L604.2 1596.3L604.3 1596.5L604.3 1596.3L604.5 1590.2L608.7 1584.6L611.5 1590.2L613.1 1592.7L614.1 1590.2L616.6 1584.1L617.6 1583.2L619.9 1584.1L622 1586.2L626.4 1584.9L629.9 1584.1L630.8 1583.9L631.2 1584.1L635.2 1586L637.2 1584.1L639 1578L639.7 1574.7L640.2 1578L641 1584.1L642.4 1590.2L644.1 1592.7L646.6 1590.2L648.5 1587.8L650 1584.1L651.7 1578L652.4 1571.9L652.9 1570.7L652.9 1565.8L652.9 1559.7L652.9 1553.6L652.9 1547.5L652.9 1541.4L652.9 1535.3L652.9 1529.2L652.9 1528L648.5 1525.9L646.1 1523.1L644.1 1521.3L640.3 1523.1L639.7 1523.8L635.2 1524.7L630.8 1524.4L629.8 1523.1L626.4 1517.6L622 1520.5L617.6 1521.8L613.1 1522.8L612.5 1523.1L608.7 1523.9L606.2 1523.1L604.3 1521.7L599.9 1518.2L595.5 1521.6L591 1520.1L589.1 1523.1L586.6 1528.1L584.4 1523.1L582.2 1518.8L579.9 1523.1L577.8 1527.4L576 1529.2L573.4 1533.3L569.4 1529.2L568.9 1528.8L564.5 1524.6L563.2 1523.1L560.1 1519.5L555.7 1520.3L552.1 1523.1L551.3 1523.9L550.4 1523.1L546.8 1519.7L542.4 1521.9L540.1 1523.1L538 1524.6L533.6 1524.4L531.4 1523.1L529.2 1521.4L527.5 1523.1L524.7 1528.2L523.2 1523.1L520.3 1518L515.9 1519.1L511.5 1519L507.4 1523.1L507.1 1523.3L502.6 1525.1L498.7 1523.1L498.2 1522.9L493.8 1520.9L492.7 1517L489.4 1512.7L487.1 1517L485.2 1523.1L485 1523.5L484.5 1523.1L480.5 1518.9L476.1 1520.8L471.7 1518.8L467.3 1522L462.9 1522.7L458.4 1521.4L454 1520L449.6 1521.6L445.2 1521.5L441.4 1517L440.8 1516.4L439.9 1517L436.3 1519L431.9 1520.8L427.5 1520.3L425.1 1517L423.1 1516.3L422.1 1517L418.7 1518.9L414.2 1522.5L409.8 1518.9L405.4 1522.8L401 1520.1L396.6 1520.4L394.7 1523.1L392.1 1525.3L387.7 1523.5L383.6 1529.2L383.3 1530.6L383.1 1529.2L382.2 1523.1L378.9 1519.5L374.5 1518L370 1518.2L365.7 1523.1L365.6 1523.2L365.5 1523.1L361.2 1518.7L356.8 1519.3L352.4 1518.3L351.3 1517L347.9 1514.7L343.5 1516.2L342.2 1517L339.1 1521L334.7 1517.9L333.7 1517L330.3 1515.9L325.8 1515.6L321.4 1513.6L318 1517L317 1518.1L312.6 1517.2L308.2 1520.1L303.7 1520.4L300.5 1517L299.3 1515.4L294.9 1514.4L290.5 1512.5L286.1 1513.8L282.9 1510.9L281.6 1509.2L277.2 1510.8L272.8 1507.7L268.4 1509.5L264 1508.4L259.5 1509.6L255.6 1510.9L255.1 1511.6L254.8 1510.9L250.7 1509.2L246.3 1510.6L244.2 1510.9L241.9 1511.3L241.2 1510.9L237.4 1507.8L235 1510.9L233 1513.2L230.5 1510.9L228.6 1508.7L224.2 1506.3L219.8 1508.1L215.3 1506.9L210.9 1509.8L206.5 1508.4L202.1 1506L197.7 1504.9L194.1 1510.9L193.2 1512.5L192.5 1510.9L190.1 1504.8L188.8 1502.3L185.4 1504.8L184.4 1505.2L180 1508.2L175.6 1507.4L173.6 1504.8L171.1 1501.4L167.8 1504.8L166.7 1505.7L164.7 1504.8L162.3 1503.7L157.9 1504.5L157.5 1504.8L153.5 1510.4L149 1507.6L144.6 1509.1L140.2 1506.2L136.2 1504.8L135.8 1504.3L135.7 1504.8L131.5 1510.9L131.4 1511.1L126.9 1511L126.8 1510.9L124.6 1504.8L122.5 1501.3L119.3 1504.8L118.1 1509.4L113.7 1504.9L109.3 1509.1L105.5 1504.8L104.8 1504.1L100.6 1498.7L100.4 1498.5L100 1498.7L96 1500.8L94.1 1504.8L91.8 1510.9L91.6 1511.3L91.6 1517L91.6 1523.1L91.6 1529.2L91.6 1535.3L91.6 1541.4L91.6 1547.5L91.6 1553.6L91.6 1559.7L91.6 1565.8L91.6 1571.9L91.6 1578L91.6 1584.1L91.6 1590.2L91.6 1596.3L91.6 1601.4L93.2 1602.4L96 1605.2ZM524.7 1535.4L524.6 1535.3L524.7 1534.2L524.8 1535.3Z" fill="#52B9B8" stroke="#1c1c2c" stroke-width="0.45" stroke-linejoin="round" fill-rule="evenodd"/><path d="M91.6 1590.2L91.6 1594.5L94.7 1590.2L96 1587.6L99.9 1584.1L100.4 1583.8L104.8 1581.6L109.3 1584.1L113.7 1586.7L115.9 1584.1L118.1 1581.8L121.8 1578L122.5 1576.7L123.2 1578L126.9 1582.1L131.4 1582.1L135.8 1581.5L140.2 1581.6L144.6 1581.9L149 1582.1L149.8 1584.1L151.1 1590.2L153.5 1592.4L155.5 1590.2L157.9 1584.1L157.9 1584L162.3 1583.8L162.5 1584.1L164.9 1590.2L166.7 1595.9L168.3 1590.2L171.1 1584.9L175.6 1587.2L180 1584.5L184.4 1587.3L187.9 1584.1L188.8 1583.5L193.2 1578.1L196.2 1584.1L197.7 1585.1L202.1 1584.7L206.5 1585.3L207.6 1584.1L207.1 1578L206.5 1575.3L206 1571.9L206.5 1570.5L207.6 1571.9L210.9 1574.2L213.3 1578L213.6 1584.1L215.3 1586.9L219.8 1588.1L221.4 1584.1L224.2 1582.4L228.6 1579.5L232.6 1584.1L233 1584.6L234.4 1584.1L237.4 1579.2L239.5 1584.1L241.9 1586.8L243.8 1584.1L244.9 1578L244.6 1571.9L246.3 1570.1L246.8 1571.9L246.7 1578L250.7 1583.9L254.9 1578L255.1 1577.7L259.1 1571.9L259.5 1571.2L259.8 1571.9L260.3 1578L264 1582.4L267.3 1578L268.4 1575.1L270.5 1571.9L272.3 1565.8L272.8 1565.1L273.2 1565.8L273.7 1571.9L274.2 1578L277.1 1584.1L277.2 1584.2L277.5 1584.1L281.2 1578L281.6 1576.7L282.2 1578L283 1584.1L285.9 1590.2L286.1 1590.5L286.6 1590.2L290.5 1586.9L291.5 1584.1L294.9 1578.6L299.3 1581.7L303.7 1579.5L305.7 1578L308.2 1577.5L309.6 1578L312.6 1580L317 1579.3L321 1584.1L321.4 1584.9L325.8 1589.6L327.8 1584.1L329.1 1578L330.3 1576.3L334.7 1577L335.5 1578L339.1 1580.8L340.7 1578L343.5 1573.9L345.8 1578L347.9 1580.3L349.9 1578L351.7 1571.9L351.2 1565.8L352.4 1562.6L353.9 1565.8L355.1 1571.9L356.8 1574.1L361.2 1576.6L365.1 1571.9L365.6 1571.4L370 1570.9L374.5 1571.7L374.6 1571.9L376.5 1578L378.9 1580.3L383.3 1583.3L387.7 1583.1L390.6 1578L392.1 1576.2L394.6 1571.9L396.6 1570.2L401 1567.6L403.4 1565.8L404.4 1559.7L405 1553.6L405.4 1552.8L406.1 1553.6L406.3 1559.7L405.9 1565.8L405.4 1569.9L404.8 1571.9L405.4 1572.6L407.1 1578L409.8 1583.3L413.4 1578L414.1 1571.9L414.2 1571.5L415.2 1571.9L418.7 1572.6L419.5 1571.9L423.1 1569.6L424.2 1571.9L427.5 1577.2L431.6 1571.9L431.9 1571.1L434.5 1571.9L434.2 1578L436.3 1582.9L440.8 1580L443.4 1578L444.1 1571.9L444.3 1565.8L445.2 1561.6L446.4 1565.8L446.6 1571.9L446.4 1578L449.6 1579.6L452.8 1578L453.7 1571.9L454 1571.1L454.4 1571.9L458.4 1577.9L458.6 1578L462.9 1582.1L465.2 1578L465.9 1571.9L464.1 1565.8L467.3 1561.4L469 1565.8L469.9 1571.9L471.7 1573.4L476.1 1573.6L477.3 1571.9L479.1 1565.8L480.5 1561.4L484.9 1565.8L485 1565.8L487.7 1571.9L489.4 1576.1L491.7 1571.9L493.8 1566.4L494.7 1565.8L497.8 1559.7L498.2 1559.6L498.3 1559.7L498.7 1565.8L499.1 1571.9L502.6 1577.7L505.9 1571.9L507.1 1569.3L510.2 1571.9L511.5 1574.2L515.9 1574.2L516.7 1571.9L515.9 1566.1L515.8 1565.8L515.9 1565.5L520.3 1562.7L521.9 1565.8L523.6 1571.9L524.7 1578L524.7 1578.1L529.2 1582.5L529.7 1578L531.9 1571.9L533.6 1565.9L536.7 1571.9L537.6 1578L538 1579L538.3 1578L542.4 1571.9L546.8 1572.1L548.3 1578L551.3 1580L555.7 1579.8L560.1 1579.1L564.5 1581.9L568.9 1580.3L571.5 1578L573.4 1576.4L574.8 1578L577.8 1581.4L581.9 1578L582.2 1577.7L586.6 1572.5L591 1573.4L593.7 1578L595.5 1581L597.5 1578L599.9 1572.4L600.6 1571.9L604.3 1570.5L608.7 1571.5L610.4 1571.9L612.1 1578L613.1 1583.1L617.6 1579.8L622 1580.4L626.4 1581.5L630.8 1578.2L631.8 1578L634.3 1571.9L635.2 1570.9L638.3 1565.8L639.7 1562L640.9 1559.7L639.7 1557.3L639.2 1553.6L638.5 1547.5L637.5 1541.4L638 1535.3L635.2 1532.2L630.8 1532.8L628.5 1529.2L626.4 1526.6L624.2 1529.2L623.1 1535.3L622 1537.8L619.1 1541.4L617.6 1542.1L617 1541.4L616.7 1535.3L617.6 1531.8L619.5 1529.2L617.6 1527.9L613.1 1528.3L608.7 1527.4L604.5 1529.2L604.3 1529.4L603.7 1529.2L599.9 1527.5L599 1529.2L597.6 1535.3L595.5 1538.2L593.2 1541.4L591 1543.6L588.4 1541.4L586.6 1537.2L585.6 1535.3L582.3 1529.2L582.2 1528.9L582.1 1529.2L580.7 1535.3L579.9 1541.4L577.8 1545.3L573.4 1542.1L572.6 1541.4L568.9 1537.6L566.5 1535.3L564.5 1531.6L564 1529.2L560.1 1524.5L555.7 1524.8L551.7 1529.2L551.3 1530L550.7 1529.2L546.8 1525.3L542.4 1526.2L539 1529.2L538 1531.5L533.6 1531L532.4 1529.2L529.2 1526.7L527.5 1529.2L527.4 1535.3L525.2 1541.4L524.7 1541.6L523.8 1541.4L520.3 1538L519.6 1535.3L520.3 1532.9L521.3 1529.2L520.3 1525.9L515.9 1526.1L511.5 1527.7L507.1 1528.3L505.8 1529.2L502.6 1532.3L499.6 1535.3L498.2 1536.2L493.8 1536.2L490.7 1535.3L490.1 1529.2L490.6 1523.1L489.9 1517L489.4 1516.3L489 1517L488.4 1523.1L485 1529L480.5 1526.9L476.5 1529.2L476.1 1529.4L475.7 1529.2L472.2 1523.1L471.7 1522.7L471.2 1523.1L469.6 1529.2L467.3 1532.3L462.9 1533.6L458.4 1531.9L456.8 1529.2L454 1526.8L449.6 1528.5L445.2 1528.6L444.5 1529.2L442.1 1535.3L440.8 1536.8L439.8 1535.3L439.5 1529.2L436.6 1523.1L436.3 1523L436.2 1523.1L431.9 1526.3L427.5 1527.2L423.7 1523.1L423.1 1522.2L419.5 1523.1L418.7 1523.4L414.2 1526.4L409.8 1526.1L405.6 1529.2L405.4 1529.5L405.2 1529.2L401 1525.7L398.3 1529.2L396.6 1532.3L392.1 1531.5L387.7 1531L385.4 1535.3L383.3 1540.7L380.1 1535.3L378.9 1531.1L378.4 1529.2L376.2 1523.1L374.5 1521.7L370 1521.7L368.8 1523.1L365.6 1528.2L361.2 1525.1L358 1529.2L356.8 1529.6L352.4 1532.4L350.8 1529.2L350.5 1523.1L347.9 1519.9L343.7 1523.1L343.5 1526.5L339.1 1527.7L334.7 1526.6L333.3 1523.1L330.3 1519.3L327.1 1523.1L325.8 1525.8L322.6 1523.1L321.4 1521.5L319.7 1523.1L317 1526.5L312.6 1523.6L308.2 1527.4L303.7 1524.3L301.6 1523.1L299.3 1521.1L294.9 1518.5L290.5 1519L286.1 1517.7L283.1 1523.1L281.7 1529.2L281.6 1529.3L281.4 1529.2L279.2 1523.1L278.9 1517L277.2 1516.2L272.8 1513.7L268.4 1516.1L264 1516.2L259.5 1514.5L257.7 1517L257.2 1523.1L255.1 1525.2L253.4 1523.1L252.1 1517L250.7 1514.8L246.3 1513.9L241.9 1516.6L237.4 1516.4L236.9 1517L233 1519.2L228.6 1519.3L227.5 1517L224.2 1513.1L219.8 1514.4L215.3 1511.8L210.9 1514.1L206.5 1514.9L202.1 1511.5L200.2 1510.9L197.7 1510.1L197.2 1510.9L195.1 1517L193.2 1518.1L192.3 1517L189.9 1510.9L188.8 1508.4L184.4 1509L182.1 1510.9L180 1512.2L175.6 1513L171.8 1510.9L171.1 1510L169.7 1510.9L166.7 1512.5L162.3 1514.5L159.3 1510.9L157.9 1509.7L157 1510.9L154.3 1517L153.5 1518.5L152.5 1517L149 1512L144.6 1515.9L140.2 1511.3L139.4 1510.9L135.8 1509.4L134.7 1510.9L131.4 1516.6L126.9 1516L123.4 1510.9L122.5 1508.3L121.5 1510.9L120.2 1517L118.1 1519.5L115.8 1517L114.5 1510.9L113.7 1509.9L112.8 1510.9L109.3 1515.7L106.1 1510.9L104.8 1509.4L100.4 1507.3L96 1507L94.6 1510.9L91.7 1517L91.6 1517.1L91.6 1523.1L91.6 1529.2L91.6 1535.3L91.6 1541.4L91.6 1547.5L91.6 1553.6L91.6 1559.7L91.6 1565.8L91.6 1571.9L91.6 1578L91.6 1584.1ZM219.8 1582.4L217.7 1578L217.2 1571.9L219.8 1569.4L221.1 1571.9L221.4 1578ZM321.4 1573L321 1571.9L321.4 1566.2L322.2 1571.9ZM471.7 1541.9L471 1541.4L469.7 1535.3L471.7 1532.3L472.8 1535.3L472 1541.4ZM489.4 1548.8L488.9 1547.5L488.8 1541.4L489.4 1537.2L490 1541.4L489.9 1547.5ZM542.4 1552.1L541.4 1547.5L542.4 1543.9L543.5 1547.5ZM564.5 1569.3L563.5 1565.8L563.5 1559.7L564.5 1556.3L565.5 1559.7L567 1565.8ZM643.5 1578L644.1 1583.7L648.5 1579.1L648.8 1578L648.5 1575.4L647.1 1571.9L644.1 1567.4L642.9 1571.9ZM642.9 1553.6L644.1 1554.7L648.5 1557.7L652.9 1558.4L652.9 1553.6L652.9 1547.5L652.9 1541.4L652.9 1537.4L648.5 1539.6L647.1 1541.4L644.1 1544.6L642.8 1547.5ZM590.4 1529.2L591 1532.8L592 1529.2L591 1527.8Z" fill="#7EC08A" stroke="#1c1c2c" stroke-width="0.45" stroke-linejoin="round" fill-rule="evenodd"/><path d="M152 1584.1L153.5 1588.3L155.3 1584.1L153.5 1578.6ZM109.7 1578L113.7 1582.1L117.7 1578L118.1 1577.4L121.1 1571.9L122.5 1567.6L123.5 1571.9L126.8 1578L126.9 1578.2L127.5 1578L131.4 1575.8L135.8 1577.9L140.2 1574.8L144.5 1571.9L144.6 1571.8L144.7 1571.9L149 1576.5L151.2 1571.9L153.5 1566.4L156.7 1571.9L157.9 1574.5L162.3 1575.9L166.7 1575.7L169.5 1578L171.1 1578.8L175.6 1582.3L180 1578.9L184.4 1580L188.8 1578.4L189.2 1578L193.2 1573L195.4 1578L197.7 1581.5L201.5 1578L202.1 1574.8L202.5 1571.9L204.5 1565.8L206.5 1563.5L207.8 1565.8L210.9 1569.9L215.1 1565.8L215.3 1565.5L219.8 1565.1L220.9 1565.8L223.8 1571.9L224.2 1575L228.6 1574.2L230.6 1571.9L233 1568.6L237.4 1569.1L239.3 1565.8L241.4 1559.7L241.9 1558.7L243.2 1559.7L246.3 1563.2L248.1 1565.8L249.2 1571.9L250 1578L250.7 1579L251.4 1578L255.1 1572.6L255.6 1571.9L259.1 1565.8L259.5 1565.4L260 1565.8L262.4 1571.9L263.9 1578L264 1578L266.1 1571.9L267.9 1565.8L268.4 1564.5L272.4 1559.7L272.8 1559.4L272.9 1559.7L276.4 1565.8L276.1 1571.9L277.2 1576.4L279.1 1571.9L281.6 1566.1L286.1 1569.4L288 1571.9L290.5 1577.1L294.9 1574.2L297.1 1571.9L299.3 1567.8L303.7 1571.1L307.2 1571.9L308.2 1572.2L309.6 1571.9L312.6 1571.3L314.8 1571.9L317 1572.6L317.4 1571.9L318.3 1565.8L321.4 1560.4L325.8 1565.2L326.5 1565.8L330.3 1570.5L334.7 1568.9L336.9 1565.8L338.1 1559.7L339.1 1558.6L339.9 1559.7L341.8 1565.8L343.5 1567.9L345.9 1571.9L347.9 1575.6L349.4 1571.9L347.9 1567.7L346 1565.8L346.4 1559.7L347.9 1556.6L352.4 1556.7L355.7 1553.6L356.8 1551.7L357.4 1553.6L359.3 1559.7L361.2 1565.4L365.6 1564L370 1564.5L374.4 1565.8L374.5 1565.8L377.9 1571.9L378.9 1574L382.2 1571.9L381.4 1565.8L380.2 1559.7L379.6 1553.6L379.5 1547.5L378.9 1545.8L378 1547.5L374.5 1550.1L373.5 1547.5L373 1541.4L372.9 1535.3L374.5 1533.4L375.5 1529.2L374.5 1527L370 1527.3L368.9 1529.2L366.6 1535.3L365.6 1535.8L361.2 1537.7L359.7 1535.3L356.8 1532.8L354.5 1535.3L352.4 1537.4L347.9 1535.9L343.5 1540.1L340.5 1535.3L339.1 1533.4L335 1535.3L334.7 1535.5L334.5 1535.3L332.2 1529.2L330.8 1523.1L330.3 1522.5L329.7 1523.1L327.9 1529.2L325.8 1530.9L322.6 1529.2L321.4 1528.3L320.7 1529.2L317.4 1535.3L317 1535.8L316.7 1535.3L314 1529.2L312.6 1527.7L311.3 1529.2L309.2 1535.3L308.2 1537.1L306.7 1535.3L304.4 1529.2L303.7 1528.5L302.3 1529.2L299.3 1531.7L296.6 1529.2L296.1 1523.1L294.9 1522.2L293.5 1523.1L292.6 1529.2L290.5 1531L286.1 1530L282 1535.3L281.6 1535.5L277.2 1538.2L274.5 1535.3L272.8 1531.3L268.4 1533L266.2 1529.2L264 1526.7L260.3 1529.2L259.5 1532L257.8 1529.2L255.1 1528.7L250.7 1523.9L250.5 1523.1L246.3 1517L241.9 1520.9L239 1523.1L237.4 1527.4L233 1524.9L229.2 1529.2L228.6 1530.6L228.4 1529.2L226.9 1523.1L224.2 1518.5L220.1 1523.1L219.8 1525L219.2 1523.1L215.3 1518.4L210.9 1517.9L206.5 1519.4L202.4 1517L202.1 1516.7L201.7 1517L198.9 1523.1L198.4 1529.2L198.4 1535.3L197.7 1540.5L197 1535.3L197 1529.2L193.2 1523.3L189 1529.2L188.8 1529.5L188.7 1529.2L188.7 1523.1L188.2 1517L184.4 1512.8L180 1515.3L175.6 1516.7L175.1 1517L172.1 1523.1L171.3 1529.2L171.1 1530.4L170.8 1529.2L167.7 1523.1L166.7 1521.5L162.3 1519.9L157.9 1517L154.6 1523.1L153.5 1525L149.5 1523.1L149 1521.2L148.8 1523.1L149 1526.8L149.2 1529.2L149 1529.4L148.7 1529.2L144.6 1527.3L143.3 1523.1L141 1517L140.2 1516.1L135.8 1515.2L134.7 1517L134.2 1523.1L135.8 1525.8L136.3 1529.2L135.8 1531.2L131.4 1530.5L131.1 1529.2L129.3 1523.1L126.9 1520.8L122.5 1518.2L118.1 1523L113.7 1519.4L110.8 1523.1L109.3 1524.7L104.8 1527.9L102.7 1523.1L100.4 1517.2L96 1518.6L91.6 1521.5L91.6 1523.1L91.6 1529.2L91.6 1535.3L91.6 1541.4L91.6 1547.5L91.6 1553.6L91.6 1559.7L91.6 1565.8L91.6 1571.9L91.6 1573.6L93.8 1571.9L96 1569.9L98.6 1571.9L100.4 1576.8L104.8 1576.7L108.3 1571.9L108.9 1565.8L109.3 1565.3L110 1565.8L109.7 1571.9ZM113.7 1563.9L111.6 1559.7L113.7 1553.9L115.2 1559.7ZM184.4 1573.7L183.4 1571.9L183.5 1565.8L184.4 1563.9L185 1565.8L185 1571.9ZM259.5 1543.8L259 1541.4L259.5 1536.8L260.5 1541.4ZM294.9 1536.4L293.9 1535.3L294.9 1532.8L295.9 1535.3ZM625.5 1578L626.4 1578.4L627 1578L628.3 1571.9L626.4 1568L625 1571.9ZM439.6 1571.9L440.8 1573.7L441.6 1571.9L441.6 1565.8L440.8 1562.8L439.7 1565.8ZM551.1 1571.9L551.3 1572.2L551.6 1571.9L555.7 1568.7L558.1 1565.8L558.4 1559.7L559 1553.6L560.1 1550.8L562.3 1547.5L563.6 1541.4L562 1535.3L561.1 1529.2L560.1 1528L555.7 1528.8L555.3 1529.2L553.3 1535.3L555.7 1539.8L556.5 1541.4L555.7 1543L552.4 1541.4L551.3 1540.6L550 1535.3L546.8 1531L542.4 1534.2L542 1535.3L542.4 1535.8L545 1541.4L546.8 1547.5L545.3 1553.6L545 1559.7L546.8 1562.6L550.1 1559.7L549.1 1553.6L546.9 1547.5L551.3 1542.9L552.5 1547.5L552.6 1553.6L552.1 1559.7L551.3 1562.6L550.1 1565.8ZM615.9 1571.9L617.6 1575.1L619.3 1571.9L619.2 1565.8L619.2 1559.7L619.3 1553.6L618.1 1547.5L617.6 1546.9L613.5 1541.4L614 1535.3L613.1 1533.7L608.7 1531.5L605.6 1535.3L604.3 1538.9L599.9 1539.7L598.6 1541.4L597.7 1547.5L595.5 1550.1L591 1551.8L590.3 1553.6L591 1556.6L595.5 1558.9L598.7 1553.6L599.9 1551.6L600.4 1553.6L602.1 1559.7L604.3 1564.5L607.2 1565.8L608.7 1566.4L609.3 1565.8L613.1 1560.5L615.7 1565.8ZM409.7 1565.8L409.8 1566.7L409.9 1565.8L409.8 1564.9ZM501 1565.8L502.6 1571.2L505.2 1565.8L505.3 1559.7L505.3 1553.6L507.1 1549.4L508.7 1547.5L508.2 1541.4L507.1 1540L502.6 1537.9L498.2 1540.7L493.8 1540.6L493.2 1541.4L492.9 1547.5L493.8 1549.6L498.2 1553.5L498.4 1553.6L500.3 1559.7ZM571.6 1565.8L573.4 1570.7L575.2 1565.8L575.7 1559.7L574.2 1553.6L573.4 1550.6L572.8 1547.5L568.9 1543.1L565.8 1547.5L566.7 1553.6L568.9 1557.7L570.6 1559.7ZM581 1565.8L582.2 1571.3L586.6 1566.4L587.9 1565.8L586.6 1563.9L583.7 1559.7L582.2 1555.6L581.5 1559.7ZM389.4 1559.7L392.1 1565.3L396.6 1564.4L400.3 1559.7L401 1556L401.4 1553.6L401.1 1547.5L401 1547.3L400 1541.4L396.6 1538.1L392.1 1536.7L387.7 1535.5L385.3 1541.4L384.3 1547.5L387 1553.6L387.7 1554.8ZM429.3 1559.7L431.9 1561.4L436.3 1561.5L438.7 1559.7L440.8 1558.1L443.4 1553.6L445.2 1549.1L448.2 1553.6L449.3 1559.7L449.6 1561.3L454 1563L456.9 1559.7L458.4 1557.6L462.9 1556L467.3 1555L471.7 1558.2L476.1 1557.5L478.8 1553.6L480.5 1550L482.4 1553.6L485 1557.8L487 1553.6L485.9 1547.5L485.5 1541.4L485 1538.9L482.8 1535.3L480.5 1533.6L478.3 1535.3L476.1 1538.7L475.4 1541.4L476.1 1546.7L476.7 1547.5L476.1 1547.9L475.5 1547.5L471.7 1546.6L467.3 1546.6L462.9 1543.3L458.4 1547.2L456.7 1541.4L454 1536.4L449.6 1538.2L445.2 1536.9L440.8 1541.2L436.9 1535.3L436.7 1529.2L436.3 1528.4L435.2 1529.2L434.9 1535.3L432.5 1541.4L431.9 1544L429.7 1547.5L429.3 1553.6ZM523.1 1559.7L524.7 1563L526.2 1559.7L527.8 1553.6L527.8 1547.5L524.7 1545.5L520.3 1546.5L516.3 1547.5L519.8 1553.6L520.3 1554.2ZM633.4 1559.7L635.2 1562.3L636.3 1559.7L637.3 1553.6L636.7 1547.5L635.2 1542.7L630.8 1541.4L630.2 1541.4L626.4 1540.7L626.1 1541.4L623.7 1547.5L624 1553.6L626.4 1558.7L630.8 1557.8ZM536.6 1553.6L538 1556.9L539.5 1553.6L538.5 1547.5L538 1546.1L537.2 1547.5ZM420.3 1547.5L423.1 1553L426.3 1547.5L427.1 1541.4L425.8 1535.3L423.1 1530L420.6 1535.3L418.7 1538.5L416.7 1535.3L414.2 1531.5L411.4 1535.3L413.5 1541.4L414.2 1541.5L418.7 1544.5ZM647.4 1547.5L648.5 1553.3L650.2 1547.5L648.5 1546.2ZM402.8 1541.4L405.4 1544.3L409.3 1541.4L405.4 1538.8Z" fill="#BFD730" stroke="#1c1c2c" stroke-width="0.45" stroke-linejoin="round" fill-rule="evenodd"/><path d="M113.7 1578L116.1 1571.9L113.7 1570.6L113 1571.9ZM197.6 1578L197.7 1578L199.4 1571.9L201 1565.8L202.1 1563.6L205.7 1559.7L206.5 1558.4L207.1 1559.7L210.5 1565.8L210.9 1566.4L211.5 1565.8L215.3 1561.2L219.8 1562.2L223.9 1559.7L223.8 1553.6L224.2 1552.7L224.6 1553.6L224.4 1559.7L226.4 1565.8L228.6 1567.8L230.1 1565.8L233 1563.4L237.4 1564.3L239.4 1559.7L241.9 1554.5L246.3 1556.4L250.2 1559.7L250.7 1560.5L254.6 1565.8L255.1 1566.1L255.3 1565.8L259.5 1562.5L264 1565.8L266.9 1559.7L268.4 1557.7L272.6 1553.6L272.8 1552.8L272.9 1553.6L275.5 1559.7L277.2 1562.6L279.2 1559.7L281.6 1555.7L283.8 1553.6L286.1 1549.6L290.5 1548.2L293.7 1553.6L294.9 1558.1L299.3 1559.5L299.3 1559.7L302.8 1565.8L303.7 1566.6L305.5 1565.8L308.2 1564L312.6 1565.4L317 1562.3L318.4 1559.7L320.2 1553.6L321.4 1548.8L322.3 1553.6L324.3 1559.7L325.8 1561.5L330.3 1565.6L334.3 1559.7L333.9 1553.6L334.5 1547.5L333.1 1541.4L330.3 1537.1L326.6 1535.3L325.8 1535.1L322.8 1535.3L322.1 1541.4L321.4 1544.1L317 1541.6L314.3 1547.5L312.6 1550.7L311.8 1547.5L308.2 1541.8L304.7 1541.4L303.7 1540.8L299.3 1537.8L296.3 1541.4L294.9 1543.6L290.5 1545.5L288.2 1541.4L286.1 1539.2L281.6 1538.6L278.1 1541.4L277.2 1542.1L272.8 1544.6L270.6 1541.4L268.4 1539.1L265.8 1535.3L264 1532.2L262.3 1535.3L263.1 1541.4L260.9 1547.5L259.5 1548.9L257.9 1547.5L257.3 1541.4L257.6 1535.3L255.1 1531.9L250.7 1532.6L249.5 1529.2L247.8 1523.1L246.3 1520.9L243.9 1523.1L241.9 1527L240.8 1529.2L238.5 1535.3L237.4 1537.5L234.4 1541.4L233 1543.7L230.9 1541.4L228.6 1539.8L227.4 1535.3L226.2 1529.2L224.2 1523.5L221.8 1529.2L219.8 1533.1L215.3 1530.4L213.8 1529.2L212.9 1523.1L210.9 1521.9L206.5 1523L202.1 1522.3L201.7 1523.1L201.5 1529.2L201.3 1535.3L202.1 1541.2L204.8 1535.3L206.5 1532.9L210.9 1533.5L211.6 1535.3L210.9 1537.1L208.7 1541.4L206.5 1545.4L202.1 1541.5L197.7 1545.7L193.3 1541.4L194.5 1535.3L194.1 1529.2L193.2 1527.8L192.3 1529.2L189.7 1535.3L188.8 1536.2L185.1 1535.3L186.3 1529.2L186.8 1523.1L184.8 1517L184.4 1516.6L183.4 1517L180 1520.1L175.6 1520.7L174.3 1523.1L173.5 1529.2L172.6 1535.3L171.6 1541.4L171.1 1542.6L170.1 1541.4L168.6 1535.3L166.7 1531.5L165.3 1529.2L162.3 1524.7L157.9 1525.2L155.4 1529.2L154.6 1535.3L153.5 1536.2L149 1537L148.3 1535.3L144.6 1531.6L142.5 1529.2L140.6 1523.1L140.2 1522.1L139.4 1523.1L138.4 1529.2L136.7 1535.3L135.8 1538.6L131.4 1541.4L131.4 1541.5L126.9 1542.2L122.5 1541.5L122.4 1541.4L122.5 1541.1L124.4 1535.3L126.8 1529.2L122.5 1525L118.1 1526.4L114.4 1529.2L113.7 1535.3L113.7 1535.4L113.7 1535.3L109.3 1530.7L104.8 1533.4L102.3 1529.2L100.4 1525.2L96 1524.4L91.6 1526.2L91.6 1529.2L91.6 1535.3L91.6 1541.4L91.6 1547.5L91.6 1551.2L93.6 1553.6L91.6 1557.7L91.6 1559.7L91.6 1565.8L91.6 1568.8L94.5 1565.8L96 1562.1L100.4 1561.2L103.1 1559.7L104.8 1557.7L109.3 1558.2L111.8 1553.6L113 1547.5L113.7 1543.6L115.7 1547.5L118.1 1552.5L118.9 1553.6L122.5 1556.4L124.4 1559.7L125.5 1565.8L126.1 1571.9L126.9 1573.5L128.7 1571.9L129.1 1565.8L129.7 1559.7L130.4 1553.6L131.4 1551.8L132.4 1553.6L133.4 1559.7L133.5 1565.8L133.4 1571.9L135.8 1574.1L137.8 1571.9L140.2 1568L142.7 1565.8L144.6 1562.6L147.1 1565.8L149 1568.3L149.9 1565.8L149 1562.5L147.2 1559.7L144.6 1555.5L144.3 1553.6L144.6 1552.8L149 1549.6L150.8 1553.6L153.5 1559.4L153.7 1559.7L157.9 1563.9L160.4 1565.8L162.3 1568.5L166.7 1568.8L169.3 1571.9L171.1 1574.1L175.6 1577.6L177.2 1571.9L178.9 1565.8L180 1563.6L182 1559.7L182.5 1553.6L182 1547.5L180 1545.6L179 1541.4L178.8 1535.3L180 1530L184.2 1535.3L184.4 1535.9L185.3 1541.4L186 1547.5L186.3 1553.6L186 1559.7L188.2 1565.8L188.8 1568.4L193.2 1568L195.8 1571.9ZM117.7 1565.8L118.1 1567.5L118.4 1565.8L118.1 1563.7ZM342.9 1559.7L343.5 1561.2L344 1559.7L346.1 1553.6L347.9 1551.8L352.4 1552.7L355.6 1547.5L356.8 1545.3L358.3 1547.5L359.8 1553.6L361.2 1556.5L362.9 1553.6L365.3 1547.5L361.2 1543.5L359.6 1541.4L356.8 1536.8L352.4 1540.3L347.9 1540.3L346.9 1541.4L343.5 1545.2L340.3 1541.4L339.1 1539.5L337 1541.4L335 1547.5L337.9 1553.6L339.1 1554.2ZM369.1 1559.7L370 1560.3L371.4 1559.7L370.7 1553.6L370 1551.2L369.5 1553.6ZM392 1559.7L392.1 1560L396.6 1559.8L396.6 1559.7L399.2 1553.6L398.7 1547.5L396.6 1543L393.2 1541.4L392.1 1541L387.7 1541.2L387.6 1541.4L387.4 1547.5L387.7 1548.1L389.1 1553.6ZM502.4 1559.7L502.6 1561.6L502.9 1559.7L502.6 1557.1ZM435 1553.6L436.3 1555.4L439.7 1553.6L440.8 1552.9L442.8 1547.5L440.8 1545L436.3 1544.3L435.8 1547.5ZM452.1 1553.6L454 1557.2L456.6 1553.6L456.1 1547.5L454 1543.4L450.7 1547.5ZM524.3 1553.6L524.7 1554.5L525 1553.6L524.7 1552.5ZM626.2 1553.6L626.4 1554.1L628 1553.6L630.8 1548.5L631.5 1547.5L630.8 1547.3L626.4 1546.1L625.8 1547.5ZM634 1553.6L635.2 1554.1L635.4 1553.6L635.2 1551.9ZM497 1547.5L498.2 1548.7L500.4 1547.5L498.2 1546.1ZM367.8 1541.4L370 1542.1L370.1 1541.4L370 1541.2ZM422.5 1541.4L423.1 1542.6L423.5 1541.4L423.1 1540.4ZM607.6 1541.4L608.7 1543.7L609.7 1541.4L608.7 1538.1ZM311.8 1535.3L312.6 1540.6L313.5 1535.3L312.6 1533.4Z" fill="#FBB829" stroke="#1c1c2c" stroke-width="0.45" stroke-linejoin="round" fill-rule="evenodd"/><path d="M167.8 1565.8L171.1 1569.9L175.3 1565.8L175.6 1565L177.7 1559.7L177.9 1553.6L178.1 1547.5L177.5 1541.4L176.7 1535.3L175.6 1529.5L174.5 1535.3L173.3 1541.4L171.1 1546.7L166.8 1541.4L166.7 1541L165.1 1535.3L162.3 1530.8L159.5 1535.3L157.9 1539.2L153.9 1541.4L153.5 1541.5L150.4 1547.5L153.2 1553.6L153.5 1554.1L157.3 1559.7L157.9 1560.3L162.3 1563L166.7 1563.8ZM196.6 1565.8L197.7 1567.6L198.1 1565.8L200.5 1559.7L199.4 1553.6L197.7 1552.7L193.2 1548.5L189.6 1553.6L188.8 1557.8L188.6 1559.7L188.8 1560.2L193.2 1561.9ZM137.5 1559.7L140.2 1563L142.4 1559.7L142 1553.6L144.1 1547.5L144.6 1546.5L147.9 1541.4L145.3 1535.3L144.6 1534.6L140.2 1530L138.5 1535.3L136.6 1541.4L135.8 1546.1L134.4 1547.5L135.8 1551.4L136.3 1553.6ZM210.8 1559.7L210.9 1560L211.2 1559.7L210.9 1558.9ZM228.5 1559.7L228.6 1560L229.3 1559.7L233 1557.2L236.9 1559.7L237.4 1559.8L237.5 1559.7L237.8 1553.6L237.4 1551.4L233 1551.8L229.8 1547.5L228.6 1546.1L226.7 1541.4L225.8 1535.3L224.2 1529.6L221.3 1535.3L219.8 1538.7L215.3 1538L213.7 1541.4L215.3 1543.8L217.6 1547.5L217.7 1553.6L219.8 1558.3L221.1 1553.6L223.4 1547.5L224.2 1546.8L225.8 1547.5L227.1 1553.6ZM260.8 1559.7L264 1560.2L264.2 1559.7L268.4 1553.8L268.6 1553.6L270.9 1547.5L268.4 1543.9L264.1 1547.5L264 1547.6L259.5 1552L256.9 1553.6L259.5 1559.3ZM328.8 1559.7L330.3 1560.9L331.1 1559.7L331.6 1553.6L331 1547.5L330.3 1545.5L327.3 1547.5L325.8 1549.5L325.2 1553.6L325.8 1555.5ZM107.8 1553.6L109.3 1554.8L109.9 1553.6L111.4 1547.5L111.6 1541.4L109.3 1536.4L105.5 1541.4L104.9 1547.5ZM126.7 1553.6L126.9 1554.2L127 1553.6L126.9 1552.8ZM275.2 1553.6L277.2 1558.1L280 1553.6L281.6 1550.8L283.7 1547.5L281.6 1542.3L277.2 1545.6L275.1 1547.5ZM305.5 1553.6L308.2 1558.2L310.8 1553.6L309.5 1547.5L308.2 1545.3L305.9 1547.5ZM390.7 1553.6L392.1 1556.6L396.6 1554.8L397.1 1553.6L396.6 1549.3L396.1 1547.5L392.1 1544.4L389.9 1547.5ZM122.2 1547.5L122.5 1547.9L123.3 1547.5L122.5 1547.3ZM239.8 1547.5L241.9 1548.4L243.9 1547.5L244.7 1541.4L246.3 1537.4L246.8 1535.3L246.6 1529.2L246.3 1528.1L245.8 1529.2L243.3 1535.3L241.9 1536L239.9 1541.4ZM351.2 1547.5L352.4 1547.8L352.6 1547.5L352.4 1546.9ZM91.6 1541.4L91.6 1541.9L96 1542.4L97.2 1541.4L99.9 1535.3L96 1529.4L91.6 1532.1L91.6 1535.3ZM251.9 1541.4L255.1 1545.1L255.7 1541.4L255.4 1535.3L255.1 1535L254.5 1535.3ZM183.2 1523.1L184.4 1526L184.8 1523.1L184.4 1521.8Z" fill="#F26B30" stroke="#1c1c2c" stroke-width="0.45" stroke-linejoin="round" fill-rule="evenodd"/><path d="M170.9 1565.8L171.1 1566.1L171.4 1565.8L173.2 1559.7L172.9 1553.6L171.1 1551.1L166.9 1553.6L168.3 1559.7ZM156.2 1553.6L157.9 1556L162.3 1558.6L166.6 1553.6L165.3 1547.5L163.1 1541.4L162.3 1538.3L161.3 1541.4L157.9 1544.4L153.5 1545.8L152.6 1547.5L153.5 1549.3ZM108.2 1547.5L109.3 1549.5L109.8 1547.5L109.3 1543ZM138.3 1547.5L140.2 1552.2L141.7 1547.5L144.6 1541.4L140.2 1535.7L138.1 1541.4ZM175 1541.4L175.6 1546.2L176 1541.4L175.6 1538.8ZM224.1 1535.3L224.2 1537.2L224.2 1535.3L224.2 1535.2Z" fill="#E81E3B" stroke="#1c1c2c" stroke-width="0.45" stroke-linejoin="round" fill-rule="evenodd"/></g>
<line x1="96" y1="1551" x2="648.5" y2="1551" stroke="#000" stroke-width="1.9" stroke-dasharray="4 2.57"/>
<line x1="96" y1="1614.5" x2="648.5" y2="1614.5" stroke="#000" stroke-width="1.9" stroke-dasharray="4 2.57"/>
<line x1="96" y1="1791" x2="648.5" y2="1791" stroke="#000" stroke-width="1.9" stroke-dasharray="4 2.57"/>
<rect x="96" y="1456" width="552.5" height="365.5" fill="none" stroke="#231F20" stroke-width="1.5"/>
<path d="M96 1456V1821.5H648.5" fill="none" stroke="#231F20" stroke-width="1.9" stroke-linecap="square"/>
<line x1="96" y1="1456" x2="93.4" y2="1456" stroke="#231F20" stroke-width="1.2"/>
<line x1="96" y1="1456" x2="96" y2="1453.4" stroke="#231F20" stroke-width="1.2"/>
<line x1="648.5" y1="1456" x2="651.1" y2="1456" stroke="#231F20" stroke-width="1.2"/>
<line x1="648.5" y1="1456" x2="648.5" y2="1453.4" stroke="#231F20" stroke-width="1.2"/>
<line x1="96" y1="1821.5" x2="93.4" y2="1821.5" stroke="#231F20" stroke-width="1.2"/>
<line x1="96" y1="1821.5" x2="96" y2="1824.1" stroke="#231F20" stroke-width="1.2"/>
<line x1="648.5" y1="1821.5" x2="651.1" y2="1821.5" stroke="#231F20" stroke-width="1.2"/>
<line x1="648.5" y1="1821.5" x2="648.5" y2="1824.1" stroke="#231F20" stroke-width="1.2"/>
<line x1="96" y1="1821.5" x2="96" y2="1829" stroke="#231F20" stroke-width="1.9"/>
<text transform="translate(96 1858) scale(1.035 1)" font-size="32.6" text-anchor="middle">0</text>
<line x1="206.5" y1="1821.5" x2="206.5" y2="1829" stroke="#231F20" stroke-width="1.9"/>
<text transform="translate(206.5 1858) scale(1.035 1)" font-size="32.6" text-anchor="middle">1</text>
<line x1="317" y1="1821.5" x2="317" y2="1829" stroke="#231F20" stroke-width="1.9"/>
<text transform="translate(317 1858) scale(1.035 1)" font-size="32.6" text-anchor="middle">2</text>
<line x1="427.5" y1="1821.5" x2="427.5" y2="1829" stroke="#231F20" stroke-width="1.9"/>
<text transform="translate(427.5 1858) scale(1.035 1)" font-size="32.6" text-anchor="middle">3</text>
<line x1="538" y1="1821.5" x2="538" y2="1829" stroke="#231F20" stroke-width="1.9"/>
<text transform="translate(538 1858) scale(1.035 1)" font-size="32.6" text-anchor="middle">4</text>
<line x1="648.5" y1="1821.5" x2="648.5" y2="1829" stroke="#231F20" stroke-width="1.9"/>
<text transform="translate(648.5 1858) scale(1.035 1)" font-size="32.6" text-anchor="middle">5</text>
<line x1="88.8" y1="1486.5" x2="96" y2="1486.5" stroke="#231F20" stroke-width="1.9"/>
<text transform="translate(83 1497.6) scale(1.035 1)" font-size="32.6" text-anchor="end">1.0</text>
<line x1="88.8" y1="1547.5" x2="96" y2="1547.5" stroke="#231F20" stroke-width="1.9"/>
<text transform="translate(83 1558.6) scale(1.035 1)" font-size="32.6" text-anchor="end">0.8</text>
<line x1="88.8" y1="1608.5" x2="96" y2="1608.5" stroke="#231F20" stroke-width="1.9"/>
<text transform="translate(83 1619.6) scale(1.035 1)" font-size="32.6" text-anchor="end">0.6</text>
<line x1="88.8" y1="1669.5" x2="96" y2="1669.5" stroke="#231F20" stroke-width="1.9"/>
<text transform="translate(83 1680.6) scale(1.035 1)" font-size="32.6" text-anchor="end">0.4</text>
<line x1="88.8" y1="1730.5" x2="96" y2="1730.5" stroke="#231F20" stroke-width="1.9"/>
<text transform="translate(83 1741.6) scale(1.035 1)" font-size="32.6" text-anchor="end">0.2</text>
<line x1="88.8" y1="1791.5" x2="96" y2="1791.5" stroke="#231F20" stroke-width="1.9"/>
<text transform="translate(83 1802.6) scale(1.035 1)" font-size="32.6" text-anchor="end">0.0</text>
<text transform="translate(372.2 1890.5) scale(1.035 1)" font-size="32.6" text-anchor="middle">Time, s</text>
<text transform="translate(28.1 1638.2) scale(1.035 1) rotate(-90)" font-size="32.6" text-anchor="middle">FRET</text>
<defs><linearGradient id="cb5" x1="0" y1="0" x2="0" y2="1"><stop offset="0" stop-color="#8A0F18"/><stop offset="0.04" stop-color="#A3131F"/><stop offset="0.13" stop-color="#E8212E"/><stop offset="0.27" stop-color="#F58A26"/><stop offset="0.355" stop-color="#F5E62D"/><stop offset="0.44" stop-color="#A8CB3F"/><stop offset="0.56" stop-color="#6DB98A"/><stop offset="0.68" stop-color="#27B4E0"/><stop offset="0.79" stop-color="#3C67B0"/><stop offset="0.9" stop-color="#3C5CA8"/><stop offset="0.955" stop-color="#8E97CC"/><stop offset="1" stop-color="#FFFFFF"/></linearGradient></defs><rect x="626.2" y="1720.3" width="14.2" height="58.3" fill="url(#cb5)" stroke="#231F20" stroke-width="1.1"/>
<text transform="translate(621.8 1729.2) scale(1.035 1)" font-size="32.6" text-anchor="end">15%</text>
<text transform="translate(621.8 1786.2) scale(1.035 1)" font-size="32.6" text-anchor="end">0%</text>
<text transform="translate(639.5 1489) scale(1.035 1)" font-size="30.6" text-anchor="end"><tspan font-style="italic">N</tspan>=684</text>
<text transform="translate(661.4 1537.3) scale(1.035 1)" font-size="32.6">A/A</text>
<text transform="translate(661.4 1576.8) scale(1.035 1)" font-size="32.6">A/P</text>
<text transform="translate(661.4 1622.4) scale(1.035 1)" font-size="32.6">A/P*</text>
<path d="M661.1 1526.4L654.1 1550.4L661.1 1558.1" fill="none" stroke="#231F20" stroke-width="1.3"/>
<text transform="translate(772 1443) scale(1.035 1)" font-size="31" font-weight="bold">h</text>
<text transform="translate(865 1446.5) scale(1.035 1)" font-size="32.6">m<tspan font-size="17.5" dy="-11.4" dx="-0.5">6</tspan><tspan dy="11.4" dx="-3.5">AAA</tspan></text>
<clipPath id="cp6"><rect x="866" y="1456" width="553" height="365.5"/></clipPath><g clip-path="url(#cp6)"><path d="M879.2 1639L879.3 1639.1L879.3 1639L881.3 1632.9L883.7 1630.5L888.1 1631.7L892.5 1630.3L897 1628.7L898.6 1626.8L901.4 1624.8L903.5 1626.8L902.6 1632.9L903.4 1639L905.8 1641.4L910.2 1641.6L914.7 1641.5L916.9 1639L919.1 1633.4L921.9 1639L923.5 1640.2L925 1639L927.5 1632.9L927.9 1631.8L932.4 1631.9L933.7 1632.9L936.8 1635.2L938 1639L941.2 1643L943.6 1639L944.7 1632.9L945.6 1630L949.2 1626.8L950.1 1625.9L950.6 1626.8L953.7 1632.9L954.5 1633.2L955 1632.9L958.9 1630.4L963.3 1631.9L966 1632.9L967.8 1633.7L968.6 1632.9L972.2 1629L976.6 1630.8L981 1631.2L981.9 1632.9L984.9 1639L985.4 1639.8L989.9 1641.7L992 1639L994.3 1633.7L996.4 1632.9L998.7 1631.8L1003.1 1627L1005 1632.9L1006.9 1639L1007.6 1639.9L1008.4 1639L1012 1633.9L1016.4 1635.9L1020.8 1634.6L1023.8 1632.9L1025.1 1626.8L1025.3 1626.6L1025.5 1626.8L1026.1 1632.9L1028.6 1639L1029.7 1640L1030.5 1639L1032.3 1632.9L1034.1 1628.8L1036 1626.8L1038.5 1624L1041.3 1626.8L1043 1628.8L1046.1 1632.9L1047.4 1634.1L1048.5 1632.9L1051.8 1629.2L1054.7 1632.9L1056.2 1635L1060.7 1633.5L1061.1 1632.9L1065.1 1626.9L1067.4 1632.9L1069.5 1635.3L1072.7 1632.9L1073.9 1631L1078.4 1629.4L1081.9 1626.8L1082.8 1625.6L1083.9 1626.8L1087.2 1632.8L1091.6 1632.4L1091.8 1632.9L1096 1638.1L1099.8 1639L1100.5 1639.3L1100.6 1639L1102.3 1632.9L1104.9 1630.1L1108.9 1632.9L1109.3 1633.2L1111.4 1632.9L1113.7 1632L1118.2 1629L1119.8 1626.8L1122.6 1621.3L1124.6 1626.8L1126.4 1632.9L1127 1633.4L1127.5 1632.9L1129.8 1626.8L1131.4 1622.1L1133.8 1626.8L1135.9 1628.7L1137.2 1626.8L1139.1 1620.7L1140 1614.6L1140.3 1613.5L1140.5 1614.6L1141.8 1620.7L1144.1 1626.8L1144.7 1631.7L1149.1 1629.5L1153.5 1626.8L1153.6 1626.8L1158 1631.8L1159.7 1632.9L1162.4 1634.3L1163.4 1632.9L1166.4 1626.8L1166.8 1626.3L1171.3 1623L1174.3 1626.8L1175.7 1627.9L1180.1 1631.7L1182.1 1626.8L1181.1 1620.7L1184.5 1617.7L1187.2 1620.7L1189 1624.4L1190.3 1626.8L1192.9 1632.9L1193.4 1633.8L1193.8 1632.9L1197.8 1627.3L1198.2 1626.8L1201 1620.7L1202.2 1617.9L1206.6 1616.2L1207.1 1620.7L1206.6 1625.9L1206.4 1626.8L1206.6 1627.4L1209.1 1632.9L1211.1 1633.9L1212.2 1632.9L1215.5 1629.9L1219.9 1631.8L1224 1626.8L1224.3 1626.4L1226.8 1620.7L1228.2 1614.6L1228.8 1614.2L1229.2 1614.6L1231.6 1620.7L1233.1 1626.8L1233.2 1626.9L1237.6 1630.5L1241 1632.9L1242 1633.5L1242.6 1632.9L1246.5 1627.6L1250.9 1632.6L1255.3 1628.7L1259.5 1626.8L1259.7 1626.7L1259.9 1626.8L1264.2 1629.6L1268.6 1627.7L1270 1626.8L1272.8 1620.7L1273 1620.4L1277.4 1616.8L1279.2 1620.7L1281.9 1622.6L1285.8 1626.8L1286.3 1627.6L1290.7 1630.6L1295.1 1632.9L1295.2 1632.9L1297 1626.8L1299.6 1623.9L1304 1624.5L1306.1 1626.8L1307.8 1632.9L1308.4 1634.1L1312.8 1635.7L1317.2 1633.8L1319.5 1632.9L1321.7 1629.1L1326.1 1626.8L1330.5 1630.2L1334.9 1630.1L1339.4 1629.3L1341.8 1626.8L1343.8 1625.6L1345.2 1626.8L1348 1632.9L1348.2 1633.3L1349.1 1632.9L1352.6 1630.1L1355.7 1626.8L1357.1 1626.3L1361.5 1624.5L1365.9 1625.2L1367.2 1626.8L1370.3 1628.4L1372.6 1626.8L1374.8 1626.4L1379.2 1625.4L1383.6 1624.5L1384.6 1626.8L1385.7 1632.9L1388 1636.4L1391.2 1632.9L1392.5 1629.1L1393.4 1626.8L1395.5 1620.7L1396.9 1617.8L1398.3 1620.7L1400.4 1626.8L1401.3 1628.5L1403.3 1632.9L1405.7 1636.1L1407.6 1632.9L1408.9 1626.8L1410.2 1622.8L1414 1626.8L1414.6 1627.4L1419 1629.9L1423.4 1631.3L1423.4 1626.8L1423.4 1620.7L1423.4 1614.6L1423.4 1608.5L1423.4 1602.4L1423.4 1596.3L1423.4 1590.2L1423.4 1584.1L1423.4 1578L1423.4 1571.9L1423.4 1565.8L1423.4 1559.7L1423.4 1553.6L1423.4 1547.5L1423.4 1541.4L1423.4 1535.3L1423.4 1529.2L1423.4 1523.1L1423.4 1517L1423.4 1510.9L1423.4 1504.8L1423.4 1498.7L1423.4 1497.4L1421.9 1498.7L1419 1501.1L1416.3 1498.7L1414.6 1497.3L1410.2 1493.2L1407.2 1498.7L1405.7 1501.6L1401.3 1500.3L1399.6 1498.7L1396.9 1496.1L1393.6 1498.7L1392.5 1499.6L1388 1499.8L1385.8 1498.7L1383.6 1497.4L1382.6 1498.7L1380 1504.8L1379.2 1506.8L1377.3 1504.8L1374.8 1501.5L1372.7 1498.7L1370.3 1495.4L1365.9 1494.2L1363.3 1498.7L1361.5 1501.9L1357.1 1500L1352.6 1502.1L1349.5 1498.7L1349.5 1492.6L1348.2 1490.1L1346.7 1492.6L1343.8 1498.3L1339.4 1496.3L1334.9 1498.5L1330.5 1498.2L1328.7 1498.7L1326.1 1499L1321.7 1499.4L1317.2 1499.4L1312.8 1499.2L1308.4 1499.4L1304 1501.4L1299.6 1504.8L1299.6 1504.9L1299.5 1504.8L1295.1 1499.5L1290.7 1499.1L1286.3 1499L1281.9 1500.9L1278.7 1498.7L1277.4 1498.1L1273 1494L1268.7 1498.7L1268.6 1499.1L1268.4 1498.7L1264.2 1495.7L1261.3 1498.7L1259.7 1501.5L1255.3 1501.4L1252.4 1498.7L1250.9 1497.3L1246.5 1497.8L1242 1497.9L1241 1498.7L1237.6 1501.1L1233.2 1499.5L1232.7 1498.7L1228.8 1495.3L1225 1498.7L1224.3 1499.8L1222.7 1498.7L1219.9 1497.1L1218.7 1498.7L1215.5 1503.9L1211.1 1499.2L1209.8 1498.7L1206.6 1496.9L1204.6 1498.7L1202.2 1500.5L1197.8 1501.9L1193.4 1501.3L1189 1498.9L1184.5 1501.6L1180.1 1501L1178.4 1498.7L1175.7 1496.8L1171.3 1495.8L1167.9 1498.7L1166.8 1499.3L1162.4 1498.7L1158 1493.3L1155.1 1492.6L1153.6 1491.5L1152.9 1492.6L1149.1 1494L1144.7 1496.3L1140.3 1498.4L1139.9 1498.7L1135.9 1500.2L1131.4 1501.8L1128.9 1498.7L1127 1496.9L1123.5 1492.6L1122.6 1490.9L1121.3 1492.6L1118.2 1497L1113.7 1496.9L1109.3 1494.4L1104.9 1495.5L1100.5 1492.8L1097.5 1492.6L1096 1492.5L1095.9 1492.6L1091.6 1495.7L1087.2 1494.5L1084.2 1498.7L1082.8 1500.1L1082 1498.7L1080.1 1492.6L1078.4 1489.9L1076.4 1492.6L1073.9 1494.7L1069.5 1493.7L1065.1 1494.7L1060.7 1493.9L1056.2 1496.2L1051.8 1496.8L1048.4 1492.6L1047.4 1491.8L1043 1489.8L1038.5 1486.7L1037.5 1486.5L1034.1 1485.9L1032.9 1486.5L1029.7 1488.7L1025.3 1490.3L1020.8 1488.5L1016.4 1488.2L1012 1488.5L1007.6 1491.9L1003.1 1489.2L1001.2 1486.5L998.7 1482.8L996.3 1486.5L994.3 1489.1L989.9 1490.2L985.4 1486.7L981 1489.1L976.6 1491L974.2 1486.5L972.2 1483.7L967.8 1482.7L965.2 1480.4L965.2 1474.3L963.3 1471.2L960.9 1474.3L960.8 1480.4L958.9 1485L955.4 1480.4L954.5 1479.7L953.6 1480.4L950.1 1482.2L948.8 1480.4L945.6 1475.5L941.7 1480.4L941.2 1480.9L940.8 1480.4L936.8 1475L935.8 1474.3L932.4 1472.2L930.5 1474.3L927.9 1477.4L923.5 1474.8L923.1 1474.3L919.1 1471.2L915.3 1474.3L915 1480.4L914.7 1482.4L914.2 1480.4L910.2 1476.5L907 1480.4L905.8 1481.7L904.6 1480.4L901.4 1476.5L897 1478.5L895.1 1474.3L892.5 1472.2L888.1 1473.1L883.7 1474L879.3 1470.9L876.2 1474.3L874.8 1476.1L874 1474.3L871.2 1468.2L870.4 1467.3L867.3 1468.2L866 1469.6L861.6 1471.4L861.6 1474.3L861.6 1480.4L861.6 1486.5L861.6 1492.6L861.6 1498.7L861.6 1504.8L861.6 1510.9L861.6 1517L861.6 1523.1L861.6 1529.2L861.6 1535.3L861.6 1541.4L861.6 1547.5L861.6 1553.6L861.6 1559.7L861.6 1565.8L861.6 1571.9L861.6 1578L861.6 1584.1L861.6 1590.2L861.6 1596.3L861.6 1602.4L861.6 1608.5L861.6 1614.6L861.6 1620.7L861.6 1626.8L861.6 1632.9L861.6 1633.4L863.1 1632.9L866 1632.2L870.4 1627.9L872.8 1632.9L874.8 1634.8ZM910.2 1637.3L908 1632.9L910.2 1628.5L911.8 1632.9ZM1087.2 1621.7L1086.7 1620.7L1087.2 1618.6L1087.3 1620.7Z" fill="#3A5DAE" stroke="#1c1c2c" stroke-width="0.45" stroke-linejoin="round" fill-rule="evenodd"/><path d="M877.7 1620.7L879.3 1621.6L879.8 1620.7L881.8 1614.6L883.7 1611.8L888.1 1610.4L892.5 1612.4L897 1612.9L901.4 1613L903.2 1608.5L905.7 1602.4L905.8 1602.2L905.9 1602.4L907.6 1608.5L910.2 1614L911.8 1614.6L914.6 1620.7L914.7 1620.8L914.9 1620.7L919.1 1615.3L923.5 1619.5L927.9 1618.6L931.8 1614.6L932.4 1614.2L933.3 1614.6L936.8 1617.6L940.3 1614.6L940.9 1608.5L940.7 1602.4L941.2 1600.1L941.8 1602.4L942.1 1608.5L945.6 1611.8L950.1 1610.7L953.9 1614.6L954.5 1615.1L958.9 1618L962 1614.6L963.1 1608.5L963.3 1607.6L963.5 1608.5L964.3 1614.6L964.6 1620.7L967.8 1622.7L970.3 1620.7L972.2 1615.4L972.6 1614.6L976.6 1611.2L978.9 1608.5L981 1606.9L985.4 1606.4L987.9 1602.4L989.9 1599.3L992.8 1602.4L994.3 1604.2L996.7 1608.5L998.7 1614L999.9 1608.5L1001.6 1602.4L1003.1 1598.7L1005.9 1596.3L1007.6 1593.5L1008.5 1596.3L1011.9 1602.4L1012 1602.6L1013.9 1608.5L1012 1611L1010.9 1614.6L1012 1617.5L1014.6 1614.6L1016.4 1611.9L1017.4 1608.5L1020.5 1602.4L1020.8 1601.8L1024.3 1596.3L1025.3 1591.2L1026.6 1596.3L1028.1 1602.4L1029.7 1604.8L1034.1 1604.1L1035 1602.4L1038.4 1596.3L1038.5 1596.1L1043 1596L1043.3 1596.3L1045 1602.4L1047.4 1606.9L1051.8 1603.1L1055.7 1608.5L1056.2 1609.7L1060.7 1612.8L1062.4 1608.5L1065.1 1602.7L1066.1 1602.4L1069.5 1601.4L1070 1602.4L1072 1608.5L1072.9 1614.6L1073.9 1616.6L1075.3 1614.6L1077.3 1608.5L1078.4 1606L1080.3 1608.5L1082.8 1610.5L1083.6 1608.5L1085.3 1602.4L1087.2 1598.3L1089.2 1602.4L1090.2 1608.5L1090.7 1614.6L1091.6 1617.6L1096 1616.4L1097.7 1614.6L1100.2 1608.5L1100.5 1606L1104.9 1602.6L1104.9 1602.4L1108.7 1596.3L1109.3 1595.5L1109.9 1596.3L1113.7 1599.4L1118.2 1600.2L1122.6 1600.8L1123 1602.4L1127 1606.8L1131.4 1604.2L1135.9 1607.1L1137.9 1602.4L1139 1596.3L1140.3 1592.5L1141.9 1596.3L1144.7 1602L1149.1 1601.9L1153.6 1597.9L1158 1598.9L1160.2 1602.4L1162.4 1604.2L1166.8 1605.5L1171.3 1604.5L1173.3 1602.4L1175.7 1599.8L1179.5 1596.3L1180.1 1596.1L1180.2 1596.3L1182 1602.4L1184.5 1606.9L1187.9 1608.5L1189 1609L1190.3 1608.5L1193.4 1607.2L1197.8 1603.8L1201 1602.4L1201.9 1596.3L1202.2 1594.7L1206.6 1591.6L1208.1 1596.3L1211.1 1601.1L1215.5 1601.4L1215.9 1602.4L1219.9 1608.4L1224.3 1605.3L1228.8 1606.2L1232.5 1608.5L1233.2 1609L1237.6 1611.6L1240.9 1614.6L1242 1616.2L1246.5 1617.7L1250.9 1615.9L1251.6 1614.6L1254.6 1608.5L1255.3 1607.5L1258.6 1602.4L1259.7 1598.2L1261 1602.4L1264.2 1608.4L1268.6 1608.4L1273 1607.1L1277.4 1604.4L1281.9 1602.7L1283.2 1602.4L1286.3 1600.7L1286.7 1602.4L1290.7 1608.2L1291.3 1608.5L1295.1 1609.7L1296.2 1608.5L1299.6 1603.4L1304 1604.2L1308.4 1605L1312.8 1605.2L1315.1 1608.5L1317.2 1614L1319.6 1608.5L1321.2 1602.4L1321.7 1602L1321.9 1602.4L1322.4 1608.5L1323.6 1614.6L1326.1 1617.2L1330 1614.6L1329.5 1608.5L1330.5 1602.5L1333.7 1608.5L1334.9 1610.1L1338.6 1614.6L1339.4 1616.5L1343.8 1619L1347.4 1614.6L1348.2 1612.9L1352.6 1612.8L1353 1614.6L1357.1 1619.3L1360.9 1614.6L1361.5 1613.1L1365.9 1612.7L1370.3 1613.2L1370.8 1614.6L1374 1620.7L1374.8 1621.4L1375.7 1620.7L1378.2 1614.6L1378 1608.5L1379.2 1606.7L1383.6 1606.4L1388 1603.1L1390.5 1608.5L1392 1614.6L1392.5 1615.5L1392.8 1614.6L1396.9 1609.7L1399.6 1608.5L1401.3 1606.6L1402.1 1608.5L1405.7 1613.1L1409 1608.5L1410.2 1605.6L1411.1 1608.5L1414.6 1613L1416.2 1614.6L1419 1619.1L1420.5 1614.6L1421.7 1608.5L1422.9 1602.4L1423.4 1601.3L1423.4 1596.3L1423.4 1590.2L1423.4 1584.1L1423.4 1578L1423.4 1571.9L1423.4 1565.8L1423.4 1559.7L1423.4 1553.6L1423.4 1547.5L1423.4 1541.4L1423.4 1535.3L1423.4 1529.2L1423.4 1523.1L1423.4 1517L1423.4 1513.4L1419 1511.2L1414.6 1512.4L1412.3 1510.9L1410.2 1505.3L1407.5 1510.9L1405.7 1511.7L1403.8 1510.9L1401.3 1509.6L1396.9 1506.3L1394.6 1510.9L1392.5 1513L1390.5 1510.9L1388 1508.6L1383.7 1504.8L1383.6 1504.8L1381.5 1510.9L1379.2 1514.3L1375 1510.9L1374.8 1510.7L1370.3 1508.9L1365.9 1508.9L1364.5 1510.9L1361.5 1512.3L1357.3 1510.9L1357.1 1510.8L1357 1510.9L1353 1517L1352.6 1517.4L1352.4 1517L1348.2 1511.8L1347 1510.9L1344.6 1504.8L1343.8 1503.9L1342.6 1504.8L1340.3 1510.9L1339.4 1511.9L1338.3 1510.9L1334.9 1504.9L1332 1510.9L1330.5 1512.1L1329 1510.9L1326.1 1507L1322 1510.9L1321.7 1511.2L1320.9 1510.9L1317.2 1509.1L1312.8 1508.4L1308.4 1507.8L1304 1509.4L1302.2 1510.9L1299.6 1512.4L1297.5 1510.9L1295.1 1508.1L1290.7 1506.1L1286.3 1508.7L1282.4 1510.9L1281.9 1511.5L1277.4 1512.2L1274.4 1510.9L1273 1509.9L1271.6 1510.9L1268.6 1511.4L1264.2 1512.9L1259.7 1513.5L1255.3 1512.6L1250.9 1512.9L1247.4 1510.9L1246.5 1509.5L1242 1506.9L1237.6 1509.4L1235.7 1510.9L1233.2 1512.7L1231.3 1510.9L1229.3 1504.8L1228.8 1504L1228.3 1504.8L1224.3 1510.1L1222.4 1510.9L1219.9 1512L1215.5 1513.8L1213.9 1510.9L1211.1 1507.8L1206.6 1509.1L1204.8 1510.9L1202.2 1513.9L1197.8 1513.5L1193.4 1512.8L1192.3 1510.9L1189 1506.2L1184.5 1509.4L1182.7 1510.9L1180.1 1513L1177.5 1510.9L1175.7 1508.9L1172.4 1510.9L1171.3 1511.9L1166.8 1514.6L1164.1 1510.9L1162.4 1508.4L1160 1510.9L1158 1513.3L1153.6 1513L1151.2 1510.9L1150.1 1504.8L1149.1 1502.4L1144.7 1503L1143 1504.8L1140.3 1508.9L1135.9 1508.3L1131.4 1510.3L1127 1508.3L1122.6 1508.2L1118.2 1508.6L1113.7 1510.7L1109.3 1506.6L1104.9 1509.4L1103.1 1504.8L1100.5 1498.8L1096 1503.5L1092.9 1504.8L1091.6 1505L1087.2 1505L1082.8 1506.7L1080.2 1504.8L1078.4 1501.2L1073.9 1501.6L1071.2 1504.8L1069.5 1507.7L1066.7 1504.8L1065.1 1503.1L1063.5 1504.8L1060.7 1507L1056.2 1505.7L1052.2 1510.9L1051.8 1511.4L1051.6 1510.9L1048.8 1504.8L1047.4 1502.1L1043 1498.9L1042.8 1498.7L1038.5 1495.3L1034.1 1498.6L1034 1498.7L1034.1 1499.6L1034.3 1504.8L1034.1 1505.5L1033.2 1504.8L1029.7 1502.3L1027.3 1504.8L1025.3 1506.1L1022.6 1504.8L1020.8 1499.4L1020.4 1498.7L1016.4 1497.4L1012 1495.1L1009.8 1498.7L1007.6 1502.9L1004.2 1498.7L1003.1 1497.5L998.7 1495.5L994.3 1496.6L989.9 1497.3L985.4 1494.3L981 1498.7L976.6 1500.9L972.2 1498.9L972 1498.7L971.1 1492.6L967.8 1489.3L964.6 1492.6L963.3 1494.8L958.9 1496.2L954.5 1498.2L950.1 1492.8L945.6 1492.9L945.4 1492.6L941.2 1488.5L938.1 1486.5L936.8 1484.8L935 1486.5L932.4 1489.7L930 1486.5L927.9 1485.1L923.5 1483.9L920.9 1486.5L919.1 1490.2L917.6 1492.6L914.7 1495.2L913.2 1492.6L910.3 1486.5L910.2 1486.5L906.3 1492.6L905.8 1493.5L905.1 1492.6L901.9 1486.5L901.4 1486L900.6 1486.5L897 1489.2L895.5 1486.5L892.5 1481.6L888.1 1483.2L883.7 1484.8L880.6 1480.4L879.3 1479.4L878.5 1480.4L874.8 1486.1L871.7 1480.4L870.4 1477.9L869.2 1480.4L867.2 1486.5L866 1488L864.9 1486.5L861.6 1482.4L861.6 1486.5L861.6 1492.6L861.6 1498.7L861.6 1504.8L861.6 1510.9L861.6 1517L861.6 1523.1L861.6 1529.2L861.6 1535.3L861.6 1541.4L861.6 1547.5L861.6 1553.6L861.6 1559.7L861.6 1565.8L861.6 1571.9L861.6 1578L861.6 1584.1L861.6 1590.2L861.6 1596.3L861.6 1601.4L861.8 1602.4L861.6 1604.4L861.6 1608.5L861.6 1611.9L862 1614.6L866 1620.4L870.4 1616.2L874.8 1618.1ZM883.7 1500.8L882.9 1498.7L883.5 1492.6L883.7 1491.8L883.8 1492.6L883.9 1498.7ZM1189 1598.9L1188.6 1596.3L1188.5 1590.2L1189 1589.2L1189.4 1590.2L1189.4 1596.3ZM1242 1605.5L1241.4 1602.4L1242 1600.1L1242.4 1602.4ZM1024.9 1614.6L1025.3 1615.3L1025.8 1614.6L1025.6 1608.5L1025.3 1608.1L1025.2 1608.5Z" fill="#3C9AD3" stroke="#1c1c2c" stroke-width="0.45" stroke-linejoin="round" fill-rule="evenodd"/><path d="M1356 1608.5L1357.1 1614L1358.5 1608.5L1357.1 1605.2ZM869.1 1602.4L870.4 1604.7L871.7 1602.4L870.7 1596.3L871.2 1590.2L874.8 1588.9L875.6 1590.2L879.3 1595.9L883.7 1593.8L887.1 1596.3L888.1 1596.6L892.5 1602.4L895.5 1596.3L896.7 1590.2L897 1589.9L897.5 1590.2L900.2 1596.3L901.4 1598.9L902.7 1596.3L905.8 1593.3L910.2 1594.3L913 1596.3L913.6 1602.4L914.7 1603.2L919.1 1602.7L923.5 1602.5L923.9 1602.4L927.9 1601L929.2 1602.4L932.4 1605.8L936.1 1602.4L933.9 1596.3L934.7 1590.2L936.8 1589L941.2 1588.9L942.2 1590.2L944 1596.3L945.6 1600.8L950 1596.3L950.1 1596.2L950.2 1596.3L954.5 1598.4L958.9 1599.1L960.3 1596.3L963.3 1590.4L967.8 1595.2L972.2 1590.4L972.4 1590.2L976.6 1587.7L977.7 1590.2L979.9 1596.3L981 1598.7L985.4 1597.1L985.9 1596.3L989.7 1590.2L989.9 1589.9L994.3 1588.1L997.5 1590.2L998.7 1592.4L1000.5 1590.2L1003.1 1588.9L1007.6 1585.1L1010.9 1590.2L1012 1592.6L1014 1590.2L1016.4 1584.8L1018 1590.2L1020.8 1594.4L1022.5 1590.2L1023.6 1584.1L1025.3 1580.5L1027.4 1584.1L1029.7 1589L1034.1 1586.6L1038.5 1588.5L1043 1589.2L1046.4 1590.2L1047.4 1590.8L1051.8 1591.7L1054.2 1590.2L1056.2 1588.7L1059.1 1590.2L1060.7 1591.5L1065.1 1592.2L1069.5 1592.9L1070.9 1596.3L1073.9 1601.9L1076.7 1596.3L1077.4 1590.2L1078.4 1588.1L1082.5 1590.2L1082.8 1590.7L1087.2 1591.5L1089.6 1590.2L1091.6 1585.8L1096 1585.5L1100.5 1588.1L1104.7 1584.1L1104.9 1583.8L1109.3 1578.6L1113.7 1583.1L1114.7 1584.1L1118.2 1588.4L1120.7 1584.1L1122.6 1582.8L1127 1583.1L1131.4 1584L1135.9 1581.7L1140.3 1580.7L1142.4 1584.1L1144.7 1587.8L1149.1 1587.8L1153.6 1586.2L1158 1588.3L1162.4 1587.1L1166.8 1589.6L1170.9 1590.2L1171.3 1590.2L1175.7 1586.6L1180.1 1585.5L1184.5 1586.8L1185.3 1584.1L1189 1580L1193.4 1583.6L1194.3 1578L1197.8 1575L1201.5 1578L1202.2 1579L1206.6 1583.1L1211.1 1583.7L1213.9 1578L1215.5 1576.2L1216.9 1578L1218.6 1584.1L1219.9 1588.7L1222.2 1584.1L1224.3 1581.7L1227.9 1584.1L1228.8 1586.7L1233.2 1587.5L1236.7 1584.1L1237.6 1583.3L1238.6 1584.1L1242 1587L1243 1590.2L1245 1596.3L1246.5 1600.5L1249.8 1596.3L1250.9 1591.1L1253.2 1590.2L1255.3 1589.5L1258.5 1584.1L1259.7 1581.4L1260.1 1584.1L1262.3 1590.2L1264.2 1593.3L1268.6 1591.9L1269.6 1590.2L1271.2 1584.1L1273 1578.7L1274.6 1584.1L1274.5 1590.2L1275.7 1596.3L1277.4 1598.4L1279.3 1596.3L1281.1 1590.2L1281.9 1588.1L1286.3 1585.5L1290.4 1590.2L1290.7 1591L1292.5 1590.2L1295.1 1588.5L1296.2 1590.2L1299.6 1592.2L1301.6 1590.2L1304 1586.1L1305.4 1584.1L1308.4 1581.9L1310.6 1584.1L1312.8 1586L1314.9 1590.2L1316.8 1596.3L1317.2 1597.3L1318.7 1596.3L1321.7 1595.1L1323 1596.3L1325.2 1602.4L1326.1 1606.5L1327 1602.4L1330.5 1596.6L1331.1 1596.3L1334.8 1590.2L1334.9 1589L1336.1 1590.2L1339 1596.3L1339.4 1598.9L1339.6 1596.3L1342.4 1590.2L1343.8 1589.7L1344 1590.2L1348.2 1594L1352.6 1595.5L1357.1 1592L1361.3 1596.3L1361.5 1596.6L1362.3 1596.3L1363.5 1590.2L1365.9 1585L1368.2 1590.2L1370.3 1593.2L1372.3 1590.2L1374 1584.1L1374.8 1581.4L1378.6 1584.1L1379.2 1590.1L1379.2 1590.2L1383.6 1595.7L1385 1590.2L1388 1584.3L1392.5 1588.7L1395.9 1584.1L1396.9 1582.1L1400.8 1578L1401.3 1577L1401.9 1578L1403.2 1584.1L1404.9 1590.2L1405.6 1596.3L1405.7 1597.1L1405.9 1596.3L1408.2 1590.2L1408.8 1584.1L1408.5 1578L1410.2 1576.9L1412.6 1578L1411.4 1584.1L1410.9 1590.2L1414.6 1595.8L1419 1593.3L1423.4 1593.2L1423.4 1590.2L1423.4 1584.1L1423.4 1578L1423.4 1571.9L1423.4 1565.8L1423.4 1559.7L1423.4 1553.6L1423.4 1547.5L1423.4 1541.4L1423.4 1535.3L1423.4 1529.2L1423.4 1524.9L1420.4 1523.1L1419 1519.3L1414.6 1521.9L1410.2 1521.8L1405.7 1520.3L1404.1 1523.1L1401.3 1526.1L1396.9 1525.1L1393.7 1523.1L1392.5 1522.1L1388 1519.1L1385.6 1523.1L1383.6 1527.4L1379.2 1524.3L1378.7 1523.1L1374.9 1517L1374.8 1516.9L1374.7 1517L1371.9 1523.1L1370.3 1527.5L1367.6 1529.2L1365.9 1532.2L1365.5 1529.2L1363.5 1523.1L1361.5 1519.7L1357.1 1521.6L1355.5 1523.1L1352.6 1526.5L1351.4 1523.1L1348.2 1517.4L1343.8 1523L1339.4 1521L1336.4 1523.1L1334.9 1524.1L1334.2 1523.1L1330.5 1518.9L1326.1 1521.7L1321.7 1521.5L1317.2 1519.3L1312.8 1520.2L1310.3 1523.1L1308.4 1523.9L1307.9 1523.1L1305.1 1517L1304 1516.1L1300.9 1517L1299.6 1517.3L1295.1 1521.1L1293.7 1517L1290.7 1511.7L1286.3 1516.3L1285.7 1517L1281.9 1521.9L1277.4 1521.4L1273 1521.1L1269.8 1517L1268.6 1516.2L1267.3 1517L1264.2 1519.7L1259.7 1519.8L1255.3 1521.3L1250.9 1521.6L1247.3 1523.1L1246.5 1523.5L1245.7 1523.1L1242 1520L1237.6 1522.3L1233.2 1519.8L1229.6 1523.1L1228.8 1523.8L1227.2 1523.1L1224.3 1520.8L1219.9 1520L1216.2 1523.1L1215.5 1523.7L1215 1523.1L1212.1 1517L1211.1 1515.3L1209.6 1517L1206.6 1521.6L1205.4 1523.1L1202.2 1526L1197.8 1523.9L1195 1523.1L1193.4 1522.4L1189 1518.1L1184.5 1518.5L1180.1 1519.6L1175.7 1517.9L1171.3 1520.8L1168.2 1523.1L1166.8 1524L1162.4 1526.7L1158 1523.7L1156.3 1523.1L1153.6 1521.3L1149.1 1521.7L1147.6 1523.1L1144.7 1525.3L1142.6 1523.1L1140.3 1517.7L1135.9 1521.4L1131.4 1523L1127 1519.8L1122.6 1522.1L1118.2 1518.8L1114.2 1523.1L1113.7 1523.6L1113.5 1523.1L1109.5 1517L1109.3 1516.8L1104.9 1516.9L1100.5 1515.2L1096 1515.7L1091.6 1513.8L1087.2 1513.4L1082.8 1511.3L1078.4 1516.3L1074.7 1510.9L1073.9 1510.2L1073.5 1510.9L1069.5 1516.9L1068.8 1517L1065.1 1517.6L1064.2 1517L1060.7 1514.3L1056.2 1512.4L1052.8 1517L1051.8 1518.8L1050.9 1517L1048.1 1510.9L1047.4 1509.5L1043 1509L1039.5 1504.8L1038.5 1503.7L1038 1504.8L1037.4 1510.9L1034.1 1515.9L1029.7 1516.1L1025.3 1514.7L1020.8 1515.9L1016.4 1514.3L1012 1513.1L1010 1510.9L1007.6 1508.9L1003.1 1509L1002 1510.9L998.7 1516.4L998.1 1510.9L996.6 1504.8L994.3 1502.2L990.5 1504.8L989.9 1506L989.4 1504.8L985.4 1500.8L982.6 1504.8L981 1507.1L976.9 1510.9L976.6 1511.3L976.1 1510.9L972.2 1507.4L967.8 1506.2L964.9 1510.9L963.9 1517L963.3 1517.9L962.8 1517L960.6 1510.9L958.9 1507.9L954.5 1508.1L952.2 1504.8L950.1 1501.2L945.6 1502L942.3 1504.8L941.2 1507.1L940.7 1504.8L941.2 1500.7L941.7 1498.7L941.2 1497.7L936.8 1497.2L932.4 1498.6L932.3 1498.7L930 1504.8L927.9 1507L924.8 1504.8L923.5 1502.2L919.1 1501.3L914.7 1503.2L910.2 1502.8L907.8 1504.8L905.8 1505.4L905.4 1504.8L901.4 1499.5L900.1 1498.7L897 1496.8L894.5 1492.6L892.5 1488.9L888.1 1489.4L886.7 1492.6L885.9 1498.7L885 1504.8L884.1 1510.9L883.7 1511.8L882.7 1510.9L879.9 1504.8L879.3 1503.4L874.8 1503.7L870.4 1498.9L869.9 1498.7L866 1497L863 1492.6L861.6 1490.5L861.6 1492.6L861.6 1498.7L861.6 1504.8L861.6 1510.9L861.6 1517L861.6 1523.1L861.6 1529.2L861.6 1535.3L861.6 1541.4L861.6 1547.5L861.6 1553.6L861.6 1559.7L861.6 1565.8L861.6 1571.9L861.6 1578L861.6 1584.1L861.6 1590.2L861.6 1591L866 1595.3L869.3 1596.3ZM919.1 1599.4L918.2 1596.3L919.1 1596L919.3 1596.3ZM1304 1580.1L1303.7 1578L1304 1573.6L1304.5 1578ZM1126.1 1596.3L1127 1598.5L1128.7 1596.3L1129 1590.2L1127 1586.9L1126.4 1590.2Z" fill="#5FB89F" stroke="#1c1c2c" stroke-width="0.45" stroke-linejoin="round" fill-rule="evenodd"/><path d="M1246 1590.2L1246.5 1591.5L1247.1 1590.2L1247.9 1584.1L1250.9 1580.8L1252.2 1578L1254.4 1571.9L1255.3 1569.4L1258.2 1565.8L1259.7 1563.4L1262 1565.8L1264.2 1568.3L1268.6 1567.7L1273 1569.2L1275.4 1571.9L1277.4 1575L1279.2 1578L1281.9 1579.4L1286.3 1578.2L1286.6 1578L1290 1571.9L1290.5 1565.8L1290.7 1562.6L1291.6 1565.8L1295.1 1569.7L1296.3 1571.9L1299.5 1578L1299.6 1578.1L1299.6 1578L1300.2 1571.9L1301.7 1565.8L1304 1561.6L1306.3 1559.7L1308.4 1558.3L1309 1559.7L1309.1 1565.8L1309.4 1571.9L1311.1 1578L1312.8 1579.8L1314.8 1578L1317.2 1574.4L1319.9 1578L1321 1584.1L1321.7 1584.8L1321.9 1584.1L1325.4 1578L1326.1 1577.5L1327.3 1578L1329.8 1584.1L1329.8 1590.2L1330.5 1590.8L1330.9 1590.2L1331 1584.1L1331.5 1578L1334.4 1571.9L1334.9 1570.4L1336.6 1565.8L1339.4 1560.8L1341.8 1559.7L1343.8 1559.1L1344.8 1559.7L1345 1565.8L1345.6 1571.9L1346.5 1578L1345.7 1584.1L1348.2 1589.2L1352.6 1588.6L1357.1 1584.2L1357.2 1584.1L1357.1 1582.7L1356.7 1578L1352.6 1572.4L1352 1571.9L1352.6 1568.2L1352.9 1565.8L1354.4 1559.7L1357.1 1555.1L1358.8 1559.7L1359.8 1565.8L1361.3 1571.9L1361.5 1572.1L1365.7 1578L1365.9 1578.2L1370.1 1584.1L1370.3 1584.6L1370.6 1584.1L1372.9 1578L1374.5 1571.9L1374.8 1571.1L1379.2 1568.6L1380.3 1571.9L1381.8 1578L1383.6 1581.8L1385.5 1578L1386.2 1571.9L1387.8 1565.8L1388 1565.2L1388.3 1565.8L1389.8 1571.9L1391 1578L1392.5 1580.9L1393.9 1578L1395.7 1571.9L1396.7 1565.8L1396.9 1565.5L1401.3 1560.4L1404.2 1559.7L1405.7 1559.3L1406 1559.7L1407.8 1565.8L1410.2 1571.1L1413.8 1565.8L1414.2 1559.7L1414.6 1559.1L1419 1559L1419.7 1559.7L1421.6 1565.8L1419 1571.6L1418.9 1571.9L1418.3 1578L1419 1579.3L1420.8 1578L1423.4 1575L1423.4 1571.9L1423.4 1565.8L1423.4 1559.7L1423.4 1553.6L1423.4 1547.5L1423.4 1541.4L1423.4 1535.3L1423.4 1534.2L1421.5 1535.3L1419 1536.6L1418.5 1535.3L1415.2 1529.2L1414.6 1528.4L1413.5 1529.2L1410.9 1535.3L1410.2 1538.6L1409.3 1535.3L1408.4 1529.2L1405.7 1526.3L1403 1529.2L1401.3 1532.2L1396.9 1533.6L1393.2 1529.2L1392.5 1528.8L1391.7 1529.2L1388 1531.3L1385.3 1535.3L1384.4 1541.4L1383.8 1547.5L1383.6 1548.7L1383.2 1547.5L1382.3 1541.4L1380.5 1535.3L1379.2 1534.1L1376 1535.3L1374.8 1537.3L1370.3 1535.7L1365.9 1539.7L1364 1535.3L1362.2 1529.2L1361.5 1527.4L1360.4 1529.2L1357.6 1535.3L1357.1 1537.4L1353.9 1541.4L1352.6 1542.9L1350.1 1547.5L1348.2 1551.6L1347.2 1547.5L1345 1541.4L1345.2 1535.3L1345 1529.2L1343.8 1528.7L1340.9 1529.2L1339.4 1530.5L1337.5 1535.3L1339.4 1539.7L1340.2 1541.4L1339.4 1543.2L1336.1 1541.4L1334.9 1540.9L1333.8 1535.3L1332.4 1529.2L1330.5 1526.5L1328.2 1529.2L1326.1 1532.3L1323.7 1535.3L1322.5 1541.4L1321.7 1544.7L1320.1 1541.4L1317.2 1537.1L1314.8 1535.3L1312.8 1533.3L1308.4 1529.5L1308 1529.2L1304.2 1523.1L1304 1522.6L1299.6 1522.7L1299.1 1523.1L1295.1 1527.5L1293 1529.2L1290.7 1534.4L1286.3 1533.5L1285.2 1535.3L1281.9 1541.3L1277.6 1535.3L1277.4 1535.1L1277.3 1535.3L1275.8 1541.4L1273 1546L1270.8 1541.4L1270.1 1535.3L1268.6 1529.5L1264.2 1531.4L1261.6 1529.2L1259.7 1527.7L1257.6 1529.2L1255.3 1532L1253.7 1535.3L1250.9 1541.2L1250 1541.4L1246.5 1541.9L1244.9 1541.4L1242 1540.5L1237.9 1535.3L1237.6 1534.6L1235.3 1529.2L1233.2 1527.1L1228.8 1529.1L1228.4 1529.2L1228 1535.3L1224.3 1541.2L1221.6 1535.3L1221.5 1529.2L1219.9 1528.3L1218.6 1529.2L1215.5 1532.7L1214.1 1529.2L1211.1 1525.6L1209.2 1529.2L1206.6 1535L1206.2 1535.3L1203.4 1541.4L1202.2 1545.5L1200.6 1541.4L1200.4 1535.3L1197.8 1531.9L1194 1535.3L1193.4 1537.8L1193 1535.3L1190.7 1529.2L1189 1527.3L1186.2 1529.2L1185.3 1535.3L1185.5 1541.4L1184.5 1545.7L1183.6 1541.4L1183.9 1535.3L1183.6 1529.2L1180.1 1525.6L1176.4 1529.2L1175.8 1535.3L1175.9 1541.4L1175.7 1541.9L1175.4 1541.4L1175.4 1535.3L1174.7 1529.2L1171.3 1527L1167.3 1529.2L1166.8 1529.6L1163.9 1535.3L1164.2 1541.4L1162.4 1544.5L1161.7 1541.4L1161.6 1535.3L1158.5 1529.2L1158 1528.8L1156.8 1529.2L1153.6 1530.7L1149.1 1534.7L1144.7 1531.3L1140.3 1531.2L1136.1 1535.3L1135.9 1535.5L1135.8 1535.3L1132 1529.2L1131.4 1529L1130.8 1529.2L1127.4 1535.3L1127 1536.7L1126.4 1535.3L1124.6 1529.2L1122.6 1528.1L1121.3 1529.2L1119.7 1535.3L1118.2 1540.8L1116.4 1535.3L1113.7 1532L1111.8 1529.2L1109.3 1524.5L1105.9 1523.1L1104.9 1522.8L1104.1 1523.1L1100.5 1524.3L1098.9 1523.1L1096 1521.2L1091.6 1520.6L1087.2 1521.6L1085 1523.1L1082.8 1526.3L1078.4 1523.8L1075.4 1529.2L1073.9 1532.6L1073.1 1529.2L1069.5 1523.3L1065.1 1525.8L1060.9 1523.1L1060.7 1523L1056.2 1519.2L1054.3 1523.1L1052.3 1529.2L1052 1535.3L1051.8 1535.8L1051.6 1535.3L1051.4 1529.2L1050.2 1523.1L1047.4 1517L1047.4 1516.9L1043 1515.3L1041.6 1517L1038.5 1522.6L1038 1523.1L1034.1 1528.6L1029.7 1524.2L1027.6 1523.1L1025.3 1522.2L1020.8 1523L1016.4 1521.7L1014.3 1523.1L1012 1528.5L1010.3 1523.1L1008.3 1517L1007.6 1516.2L1007 1517L1005.2 1523.1L1006.9 1529.2L1003.1 1529.7L1002.5 1529.2L998.7 1527.1L994.8 1523.1L995.5 1517L995.5 1510.9L994.3 1508L992.5 1510.9L989.9 1516.6L986.8 1510.9L985.4 1507.9L983.5 1510.9L981 1513.5L978.1 1517L977.7 1523.1L977.5 1529.2L976.6 1530.3L975.9 1529.2L974.5 1523.1L972.2 1519.6L969.4 1523.1L967.8 1525L963.3 1525.7L961 1523.1L958.9 1519.3L954.5 1523.1L950.1 1520.1L948.3 1517L946.9 1510.9L945.6 1509.7L944.9 1510.9L941.2 1515.1L938.1 1510.9L937.2 1504.8L936.8 1504.1L936.2 1504.8L932.4 1510.1L931.6 1510.9L927.9 1515.7L923.9 1510.9L923.5 1510.6L919.1 1508.5L916.7 1510.9L914.7 1513.3L910.2 1514.6L905.8 1511.9L904.3 1510.9L901.4 1506.7L897.7 1504.8L897 1504.4L896.5 1504.8L892.5 1507.3L891.2 1504.8L889.1 1498.7L888.1 1497.4L887.8 1498.7L886.7 1504.8L886.5 1510.9L883.7 1516.2L879.3 1516.3L878.5 1517L874.8 1518.6L874.2 1517L873.1 1510.9L870.4 1506.4L866 1510.2L861.6 1508.6L861.6 1510.9L861.6 1517L861.6 1523.1L861.6 1529.2L861.6 1535.3L861.6 1541.4L861.6 1547.5L861.6 1553.6L861.6 1559.7L861.6 1565.8L861.6 1568.5L862.2 1571.9L861.6 1573.1L861.6 1578L861.6 1584.1L861.6 1586.6L866 1584.7L866.5 1584.1L870.4 1579.1L874.8 1579.8L876.6 1578L879.3 1574.1L882.3 1578L883.7 1580.1L885.5 1584.1L888.1 1588.3L892.5 1588L896.1 1584.1L897 1583.8L901.4 1583.2L905.8 1581.9L910.2 1579.5L910.4 1578L914.5 1571.9L914.7 1571.8L919.1 1567.5L920.8 1571.9L921.2 1578L923.1 1584.1L923.5 1584.8L923.7 1584.1L926.3 1578L927.9 1575.4L930.3 1578L932.4 1580.7L936.8 1580.2L941.2 1581.1L942.9 1578L944.2 1571.9L945.6 1567.7L947 1571.9L950.1 1577.2L950.9 1578L954.3 1584.1L954.5 1584.6L958.9 1584.3L959.1 1584.1L963.3 1582.2L967.5 1578L967.8 1575.8L968.3 1578L972.2 1580.5L976.6 1580.4L979.4 1584.1L981 1589.2L984.4 1584.1L985.4 1578.2L989.9 1578.1L994.3 1579.5L998.7 1583.9L1003.1 1579L1004.8 1578L1007.6 1576.1L1012 1576.7L1016.4 1575.7L1020.8 1574.4L1025.3 1572.3L1029.7 1575.9L1034.1 1576.8L1037.1 1578L1038.5 1579L1042.7 1578L1043 1577.4L1043 1578L1047.4 1583.3L1051.8 1582.2L1054.7 1578L1056.2 1574.2L1060.7 1577.1L1061.2 1578L1065.1 1580.7L1066.4 1578L1069.5 1574.1L1073.9 1575.2L1075.7 1578L1078.4 1581L1080.9 1578L1082 1571.9L1082.8 1569.9L1087.2 1566.1L1091.6 1569.8L1093.7 1571.9L1096 1577.1L1096.8 1578L1100.5 1580.4L1102.3 1578L1104.9 1575.9L1107.1 1571.9L1108.4 1565.8L1109.3 1560.2L1111.5 1565.8L1113.7 1568.9L1118.2 1568.8L1122.3 1571.9L1122.6 1572.2L1125 1571.9L1127 1571.6L1127.3 1571.9L1131.4 1573.9L1133.5 1571.9L1135.9 1568.7L1138.8 1571.9L1140.3 1573L1144.7 1575.3L1148.3 1571.9L1149.1 1569.1L1152.6 1565.8L1153.6 1565.7L1153.8 1565.8L1158 1567.8L1162.4 1569L1164 1565.8L1166.8 1563.1L1167.8 1565.8L1169.2 1571.9L1171.3 1574.7L1175.7 1576.9L1180.1 1573.3L1181.3 1571.9L1184.5 1565.9L1189 1570L1193.4 1567.4L1197.8 1566.9L1202.2 1566.6L1202.7 1565.8L1206.6 1561.2L1210.2 1565.8L1211.1 1567.8L1215.5 1566.5L1219.9 1569.5L1223.5 1565.8L1224.3 1564.2L1228.8 1562L1230.9 1565.8L1233.2 1569.5L1235.6 1571.9L1237.6 1573.3L1242 1572.1L1242.8 1571.9L1244.4 1565.8L1243.5 1559.7L1246.5 1556.8L1250.9 1557.4L1251.9 1559.7L1250.9 1562.5L1249.5 1565.8L1246.9 1571.9L1246.5 1574L1245.5 1578L1245.7 1584.1ZM1321.7 1567L1321.6 1565.8L1321.7 1565.6L1321.8 1565.8ZM1396.9 1541.8L1396.7 1541.4L1396.9 1539.2L1397.1 1541.4ZM932.4 1565.9L932.3 1565.8L932.4 1565.7L932.4 1565.8ZM1065.1 1566.1L1064.1 1565.8L1065.1 1565.1L1065.1 1565.8ZM1374.1 1529.2L1374.8 1533.6L1375.6 1529.2L1374.8 1523.8Z" fill="#B5D43A" stroke="#1c1c2c" stroke-width="0.45" stroke-linejoin="round" fill-rule="evenodd"/><path d="M886.7 1578L888.1 1580.7L890.8 1578L891.8 1571.9L891.9 1565.8L892.5 1562.8L895.3 1559.7L897 1558.3L898.2 1559.7L901.4 1563.9L902.3 1565.8L902.2 1571.9L905.8 1572.7L906.4 1571.9L910.2 1566.8L911.6 1565.8L914.7 1562.9L919.1 1560.4L923.5 1562.4L927.6 1559.7L927.9 1559.6L932.4 1558.4L934 1559.7L936.1 1565.8L935.6 1571.9L936.8 1573L939.9 1571.9L941.2 1570.8L942.6 1565.8L945.6 1561.7L948.6 1565.8L950.1 1571.6L950.2 1571.9L954.5 1575.5L956.4 1571.9L957.2 1565.8L958.9 1562.4L960.9 1559.7L963.3 1557.8L964.5 1559.7L967.3 1565.8L967.8 1566.2L972.2 1570L974.1 1565.8L974.9 1559.7L976.6 1554.5L978.6 1559.7L981 1564.7L984.4 1559.7L985.1 1553.6L985.4 1549.5L986 1553.6L989.9 1558.5L994.3 1557.8L997.5 1559.7L998.7 1562.5L999.8 1559.7L1003.1 1558L1004.3 1559.7L1007.6 1564.9L1008.6 1565.8L1012 1569.7L1016.4 1568.4L1020.8 1568.1L1024.5 1565.8L1025.1 1559.7L1025.2 1553.6L1025.3 1553.6L1029.7 1558.7L1033 1553.6L1033.8 1547.5L1033.4 1541.4L1031.9 1535.3L1029.7 1533.4L1025.3 1530.7L1020.8 1531.6L1016.7 1529.2L1016.4 1529L1016.3 1529.2L1012 1534.1L1010.2 1535.3L1007.6 1537.1L1003.1 1538.6L1000.2 1535.3L998.7 1533.7L997.4 1535.3L994.3 1540.3L990.2 1535.3L989.9 1534.8L987.4 1529.2L985.4 1523.4L982.7 1529.2L981 1530.9L977 1535.3L976.6 1535.8L975.3 1535.3L972.5 1529.2L972.2 1528.5L971.6 1529.2L967.8 1532.1L963.3 1531.2L958.9 1529.3L958.5 1529.2L954.5 1527.9L950.1 1528.7L949.3 1529.2L945.6 1530.4L944.1 1529.2L941.2 1523.3L936.8 1527.9L932.4 1528.1L931.9 1529.2L927.9 1533.4L924.7 1535.3L923.5 1536L923.2 1535.3L922.5 1529.2L922 1523.1L920 1517L919.1 1516L918.2 1517L914.7 1523.1L914.7 1523.3L910.2 1525.3L908.8 1523.1L907.5 1517L905.8 1515.3L901.4 1516.3L897 1511.8L892.5 1514.8L890.5 1517L892.5 1521.3L893.5 1523.1L893.1 1529.2L892.5 1533.4L891.9 1529.2L889 1523.1L888.1 1522.6L883.7 1519.8L879.9 1523.1L879.3 1525.5L874.8 1526.2L870.7 1523.1L870.9 1517L870.4 1515.1L869.4 1517L869.7 1523.1L866 1526.5L865.6 1523.1L864.8 1517L861.6 1512.9L861.6 1517L861.6 1523.1L861.6 1529.2L861.6 1535.3L861.6 1541.4L861.6 1547.5L861.6 1553.6L861.6 1555L862.1 1553.6L866 1547.7L867.4 1553.6L868.9 1559.7L870.4 1563.7L871.6 1559.7L874.8 1556.7L878 1559.7L879.3 1561.8L880.2 1559.7L883.7 1556.6L885.9 1559.7L884.7 1565.8L884.4 1571.9ZM905.8 1548.4L905.6 1547.5L905.8 1545L906.2 1547.5ZM905.8 1540.2L904.6 1535.3L903.7 1529.2L905.8 1526L908.3 1529.2L907.5 1535.3ZM896.8 1571.9L897 1573.1L898.2 1571.9L897 1571.6ZM1369.4 1571.9L1370.3 1577L1371.1 1571.9L1370.3 1570ZM1046.7 1565.8L1047.4 1567.4L1048.9 1565.8L1050.9 1559.7L1051.1 1553.6L1051.8 1552L1053.2 1553.6L1053 1559.7L1056.2 1563.6L1059.5 1559.7L1060.7 1558.9L1063.3 1553.6L1065.1 1548L1066.6 1553.6L1068.2 1559.7L1069.5 1565.5L1071.6 1559.7L1072.4 1553.6L1072.8 1547.5L1072.1 1541.4L1071.8 1535.3L1070.5 1529.2L1069.5 1527.6L1068.1 1529.2L1066 1535.3L1065.1 1536.9L1063.8 1535.3L1060.7 1532L1056.2 1529.5L1054.3 1535.3L1053.5 1541.4L1051.8 1544.4L1050.9 1541.4L1048.4 1535.3L1048.1 1529.2L1047.4 1526.5L1044.1 1529.2L1043.1 1535.3L1043 1535.4L1042.8 1535.3L1038.5 1533.4L1036.6 1535.3L1036.9 1541.4L1038.5 1545.6L1038.8 1547.5L1039.3 1553.6L1040.3 1559.7L1043 1563ZM1095.2 1565.8L1096 1566.5L1097.8 1565.8L1100.5 1564.6L1101.2 1565.8L1104.9 1570.6L1106.4 1565.8L1106.8 1559.7L1106.7 1553.6L1108.2 1547.5L1109.3 1545.5L1113.7 1542.2L1114 1541.4L1113.7 1540.9L1110.3 1535.3L1109.3 1533.8L1104.9 1531.6L1100.5 1530.6L1097.1 1529.2L1096 1528.7L1091.6 1526.6L1089.3 1529.2L1087.3 1535.3L1087.2 1535.9L1082.8 1537.7L1078.7 1535.3L1078.4 1534.8L1078.2 1535.3L1075.6 1541.4L1075.7 1547.5L1078 1553.6L1078.4 1557.2L1079 1559.7L1082.8 1561.2L1084.8 1559.7L1087.2 1557.6L1088.5 1559.7L1091.6 1563.3ZM1096 1537.4L1095.7 1535.3L1096 1532.2L1096.4 1535.3ZM1170.5 1565.8L1171.3 1567.9L1173.6 1565.8L1175.7 1562.7L1180.1 1563.8L1180.7 1559.7L1180.1 1559.1L1177.1 1553.6L1175.7 1551.2L1174.2 1553.6L1172.1 1559.7L1171.3 1560.7ZM1281.1 1565.8L1281.9 1568.4L1282.8 1565.8L1284 1559.7L1283.8 1553.6L1281.9 1549.1L1277.6 1553.6L1279.2 1559.7ZM1117.6 1559.7L1118.2 1560L1122.6 1560.5L1124.4 1559.7L1122.6 1558L1121 1553.6L1118.2 1548.9L1116.8 1553.6ZM1127.6 1559.7L1131.4 1565.6L1135.8 1559.7L1135.9 1559.5L1140.3 1559.1L1142.4 1553.6L1144.7 1547.9L1146.5 1553.6L1149.1 1557.1L1153.6 1559.1L1154.3 1559.7L1158 1562.6L1162.3 1559.7L1160.5 1553.6L1159.9 1547.5L1159.4 1541.4L1158.9 1535.3L1158 1533.7L1155.6 1535.3L1153.6 1537.6L1149.1 1539.8L1144.7 1536.8L1141.7 1541.4L1140.3 1542.7L1135.9 1545.7L1131.4 1541.9L1128.8 1547.5L1127.1 1553.6ZM1201.1 1559.7L1202.2 1560.8L1203.2 1559.7L1206.6 1555.8L1211.1 1555.1L1211.9 1553.6L1211.1 1551.2L1210.6 1547.5L1206.6 1542.5L1204.9 1547.5L1202.2 1552.5L1201.3 1553.6ZM1233.2 1559.7L1235.4 1553.6L1236.8 1547.5L1235 1541.4L1233.2 1537.4L1231.7 1541.4L1230.5 1547.5L1231.5 1553.6ZM1391.9 1559.7L1392.5 1560.9L1393.4 1559.7L1396.9 1556.7L1401.3 1554.9L1402.8 1553.6L1404.3 1547.5L1402.4 1541.4L1401.3 1540.6L1401 1541.4L1397.2 1547.5L1396.9 1548.5L1396.5 1547.5L1392.9 1541.4L1392.5 1540L1388 1539.1L1387.2 1541.4L1387 1547.5L1388 1551L1389.1 1553.6ZM1218.2 1553.6L1219.9 1559.5L1221.2 1553.6L1219.9 1551.6ZM1253.8 1553.6L1255.3 1557L1257.7 1553.6L1258.1 1547.5L1255.3 1546.1L1254.3 1547.5ZM1292.9 1553.6L1295.1 1556.1L1299.6 1555.3L1300.3 1553.6L1300.2 1547.5L1299.6 1546.2L1295.3 1541.4L1295.7 1535.3L1295.1 1534.4L1294.7 1535.3L1295 1541.4L1290.7 1546.6L1288.7 1547.5L1290.7 1549.1ZM1317 1553.6L1317.2 1553.9L1317.6 1553.6L1319.1 1547.5L1317.2 1544.3L1315.1 1547.5ZM1323.5 1553.6L1326.1 1558.2L1330.5 1554.2L1334.9 1558.3L1335.4 1553.6L1334.9 1552.5L1332.7 1547.5L1331.4 1541.4L1330.5 1538.2L1326.1 1539.5L1325.2 1541.4L1323.7 1547.5ZM1361.2 1553.6L1361.5 1554.4L1362 1553.6L1362.8 1547.5L1362.3 1541.4L1361.8 1535.3L1361.5 1534.3L1361 1535.3L1360.7 1541.4L1361.3 1547.5ZM1368.9 1553.6L1370.3 1556.2L1374.3 1553.6L1372.5 1547.5L1370.3 1546.3L1367.9 1547.5ZM1421.3 1553.6L1423.4 1555.5L1423.4 1553.6L1423.4 1547.5L1423.4 1543.3L1419 1545.5L1416.9 1541.4L1414.9 1535.3L1414.6 1534.7L1414.3 1535.3L1412.9 1541.4L1414.2 1547.5L1414.6 1548.3L1419 1550.7ZM1260.4 1547.5L1264.2 1553.4L1267.8 1547.5L1266.3 1541.4L1264.2 1538.9L1260.5 1541.4ZM1180 1535.3L1180.1 1536.5L1180.2 1535.3L1180.1 1535.1ZM1259.5 1535.3L1259.7 1537.4L1260.1 1535.3L1259.7 1535Z" fill="#F7A12B" stroke="#1c1c2c" stroke-width="0.45" stroke-linejoin="round" fill-rule="evenodd"/><path d="M887.7 1571.9L888.1 1573L888.6 1571.9L888.9 1565.8L888.1 1563.4L887.4 1565.8ZM905.2 1559.7L905.8 1561.5L906.9 1559.7L905.8 1558.6ZM967.4 1559.7L967.8 1560.5L972.2 1559.9L972.2 1559.7L972.3 1553.6L972.2 1552.9L969.6 1547.5L968.2 1541.4L967.8 1540.2L963.3 1537.5L961.2 1535.3L958.9 1534.2L954.5 1534.1L950.1 1533.6L945.6 1533.8L941.2 1532.9L939.7 1535.3L936.8 1540.1L932.4 1536.7L928.3 1541.4L927.9 1542.1L923.8 1547.5L927.9 1552.5L932.4 1552L933.1 1553.6L936.8 1556.4L939.8 1553.6L941.2 1549.5L942.8 1553.6L945.6 1556.1L950.1 1555.5L952.1 1553.6L954.5 1547.7L956.1 1553.6L958.9 1556L962.5 1553.6L963.3 1552.7L964.1 1553.6ZM1012.2 1559.7L1016.4 1563.1L1019.2 1559.7L1020.8 1554.7L1021.2 1553.6L1024.8 1547.5L1022.2 1541.4L1020.8 1540.2L1019.7 1541.4L1017.6 1547.5L1016.4 1550.2L1013.5 1547.5L1014.4 1541.4L1012 1539.2L1008.6 1541.4L1009.5 1547.5L1012 1551.2L1013 1553.6ZM879.1 1553.6L879.3 1553.8L879.5 1553.6L883.7 1552L888.1 1550.2L891.8 1547.5L889.2 1541.4L888.1 1539.6L887.2 1535.3L886.5 1529.2L883.7 1523.5L881.4 1529.2L880.2 1535.3L879.3 1538.1L877.3 1535.3L874.8 1532.3L873.3 1535.3L871.9 1541.4L871.7 1547.5L874.8 1551.1ZM899.9 1553.6L901.4 1555.4L903 1553.6L903.2 1547.5L903.8 1541.4L902.3 1535.3L901.4 1532.3L897 1534.4L896.7 1535.3L895 1541.4L893.9 1547.5L897 1548.9ZM909.5 1553.6L910.2 1555.1L914.7 1555.6L916.6 1553.6L919.1 1550.1L923.1 1547.5L921.5 1541.4L919.1 1535.3L919.4 1529.2L919.1 1526.3L918.5 1529.2L918.6 1535.3L914.7 1536L910.2 1540.3L910 1541.4L910.1 1547.5ZM980.2 1553.6L981 1556.4L981.7 1553.6L981.8 1547.5L982.4 1541.4L981 1538.9L979 1541.4L979.7 1547.5ZM998.3 1553.6L998.7 1553.9L999.4 1553.6L1003.1 1551.8L1006.6 1547.5L1003.1 1544.6L998.7 1541.7L994.5 1547.5ZM1041.7 1553.6L1043 1557.1L1045.2 1553.6L1047.4 1548.4L1047.9 1547.5L1047.4 1544.9L1043 1545L1041.9 1547.5ZM1069 1553.6L1069.5 1555.2L1070.1 1553.6L1070.4 1547.5L1069.5 1544.1L1068.3 1547.5ZM1090.8 1553.6L1091.6 1555L1093.9 1553.6L1096 1550L1097.3 1547.5L1096 1547L1092 1541.4L1091.6 1539.5L1091.2 1541.4L1089.2 1547.5ZM1098 1553.6L1100.5 1555.2L1101.3 1553.6L1100.5 1551.2ZM1152.7 1553.6L1153.6 1554L1154.1 1553.6L1155.1 1547.5L1153.6 1545.5L1149.1 1547.4L1149.1 1547.5L1149.1 1547.7ZM989.5 1547.5L989.9 1548.6L992.6 1547.5L989.9 1546.7ZM1025.6 1547.5L1029.7 1552.6L1032.1 1547.5L1031.3 1541.4L1029.7 1538.4L1026.6 1541.4ZM1059.4 1547.5L1060.7 1553.3L1061.9 1547.5L1062.7 1541.4L1060.7 1538.8L1059 1541.4ZM1079.7 1547.5L1082.8 1552.1L1085.3 1547.5L1082.8 1543.9ZM861.6 1541.4L861.6 1546.1L865.8 1541.4L866 1540L866.8 1535.3L866 1534.1L863.6 1529.2L863.3 1523.1L862.2 1517L861.6 1516.3L861.6 1517L861.6 1523.1L861.6 1529.2L861.6 1535.3Z" fill="#E8202F" stroke="#1c1c2c" stroke-width="0.45" stroke-linejoin="round" fill-rule="evenodd"/></g>
<line x1="866" y1="1547.5" x2="1419" y2="1547.5" stroke="#000" stroke-width="1.9" stroke-dasharray="4 2.57"/>
<line x1="866" y1="1604.5" x2="1419" y2="1604.5" stroke="#000" stroke-width="1.9" stroke-dasharray="4 2.57"/>
<line x1="866" y1="1791" x2="1419" y2="1791" stroke="#000" stroke-width="1.9" stroke-dasharray="4 2.57"/>
<rect x="866" y="1456" width="553" height="365.5" fill="none" stroke="#231F20" stroke-width="1.5"/>
<path d="M866 1456V1821.5H1419" fill="none" stroke="#231F20" stroke-width="1.9" stroke-linecap="square"/>
<line x1="866" y1="1456" x2="863.4" y2="1456" stroke="#231F20" stroke-width="1.2"/>
<line x1="866" y1="1456" x2="866" y2="1453.4" stroke="#231F20" stroke-width="1.2"/>
<line x1="1419" y1="1456" x2="1421.6" y2="1456" stroke="#231F20" stroke-width="1.2"/>
<line x1="1419" y1="1456" x2="1419" y2="1453.4" stroke="#231F20" stroke-width="1.2"/>
<line x1="866" y1="1821.5" x2="863.4" y2="1821.5" stroke="#231F20" stroke-width="1.2"/>
<line x1="866" y1="1821.5" x2="866" y2="1824.1" stroke="#231F20" stroke-width="1.2"/>
<line x1="1419" y1="1821.5" x2="1421.6" y2="1821.5" stroke="#231F20" stroke-width="1.2"/>
<line x1="1419" y1="1821.5" x2="1419" y2="1824.1" stroke="#231F20" stroke-width="1.2"/>
<line x1="866" y1="1821.5" x2="866" y2="1829" stroke="#231F20" stroke-width="1.9"/>
<text transform="translate(866 1858) scale(1.035 1)" font-size="32.6" text-anchor="middle">0</text>
<line x1="976.6" y1="1821.5" x2="976.6" y2="1829" stroke="#231F20" stroke-width="1.9"/>
<text transform="translate(976.6 1858) scale(1.035 1)" font-size="32.6" text-anchor="middle">1</text>
<line x1="1087.2" y1="1821.5" x2="1087.2" y2="1829" stroke="#231F20" stroke-width="1.9"/>
<text transform="translate(1087.2 1858) scale(1.035 1)" font-size="32.6" text-anchor="middle">2</text>
<line x1="1197.8" y1="1821.5" x2="1197.8" y2="1829" stroke="#231F20" stroke-width="1.9"/>
<text transform="translate(1197.8 1858) scale(1.035 1)" font-size="32.6" text-anchor="middle">3</text>
<line x1="1308.4" y1="1821.5" x2="1308.4" y2="1829" stroke="#231F20" stroke-width="1.9"/>
<text transform="translate(1308.4 1858) scale(1.035 1)" font-size="32.6" text-anchor="middle">4</text>
<line x1="1419" y1="1821.5" x2="1419" y2="1829" stroke="#231F20" stroke-width="1.9"/>
<text transform="translate(1419 1858) scale(1.035 1)" font-size="32.6" text-anchor="middle">5</text>
<line x1="858.8" y1="1486.5" x2="866" y2="1486.5" stroke="#231F20" stroke-width="1.9"/>
<text transform="translate(853 1497.6) scale(1.035 1)" font-size="32.6" text-anchor="end">1.0</text>
<line x1="858.8" y1="1547.5" x2="866" y2="1547.5" stroke="#231F20" stroke-width="1.9"/>
<text transform="translate(853 1558.6) scale(1.035 1)" font-size="32.6" text-anchor="end">0.8</text>
<line x1="858.8" y1="1608.5" x2="866" y2="1608.5" stroke="#231F20" stroke-width="1.9"/>
<text transform="translate(853 1619.6) scale(1.035 1)" font-size="32.6" text-anchor="end">0.6</text>
<line x1="858.8" y1="1669.5" x2="866" y2="1669.5" stroke="#231F20" stroke-width="1.9"/>
<text transform="translate(853 1680.6) scale(1.035 1)" font-size="32.6" text-anchor="end">0.4</text>
<line x1="858.8" y1="1730.5" x2="866" y2="1730.5" stroke="#231F20" stroke-width="1.9"/>
<text transform="translate(853 1741.6) scale(1.035 1)" font-size="32.6" text-anchor="end">0.2</text>
<line x1="858.8" y1="1791.5" x2="866" y2="1791.5" stroke="#231F20" stroke-width="1.9"/>
<text transform="translate(853 1802.6) scale(1.035 1)" font-size="32.6" text-anchor="end">0.0</text>
<text transform="translate(1142.5 1890.5) scale(1.035 1)" font-size="32.6" text-anchor="middle">Time, s</text>
<text transform="translate(798.1 1638.2) scale(1.035 1) rotate(-90)" font-size="32.6" text-anchor="middle">FRET</text>
<defs><linearGradient id="cb6" x1="0" y1="0" x2="0" y2="1"><stop offset="0" stop-color="#8A0F18"/><stop offset="0.04" stop-color="#A3131F"/><stop offset="0.13" stop-color="#E8212E"/><stop offset="0.27" stop-color="#F58A26"/><stop offset="0.355" stop-color="#F5E62D"/><stop offset="0.44" stop-color="#A8CB3F"/><stop offset="0.56" stop-color="#6DB98A"/><stop offset="0.68" stop-color="#27B4E0"/><stop offset="0.79" stop-color="#3C67B0"/><stop offset="0.9" stop-color="#3C5CA8"/><stop offset="0.955" stop-color="#8E97CC"/><stop offset="1" stop-color="#FFFFFF"/></linearGradient></defs><rect x="1396.8" y="1720.3" width="14.2" height="58.3" fill="url(#cb6)" stroke="#231F20" stroke-width="1.1"/>
<text transform="translate(1392.3 1729.2) scale(1.035 1)" font-size="32.6" text-anchor="end">15%</text>
<text transform="translate(1392.3 1786.2) scale(1.035 1)" font-size="32.6" text-anchor="end">0%</text>
<text transform="translate(1409.1 1489) scale(1.035 1)" font-size="30.6" text-anchor="end"><tspan font-style="italic">N</tspan>=464</text>
<text transform="translate(1433.8 1533.5) scale(1.035 1)" font-size="32.6">A/A</text>
<text transform="translate(1433.8 1572.7) scale(1.035 1)" font-size="32.6">A/P</text>
<text transform="translate(1433.8 1618.5) scale(1.035 1)" font-size="32.6">A/P*</text>
<path d="M1434.2 1522.9L1426.9 1547.8L1434.2 1554.8" fill="none" stroke="#231F20" stroke-width="1.3"/>
</svg>
</body></html>
